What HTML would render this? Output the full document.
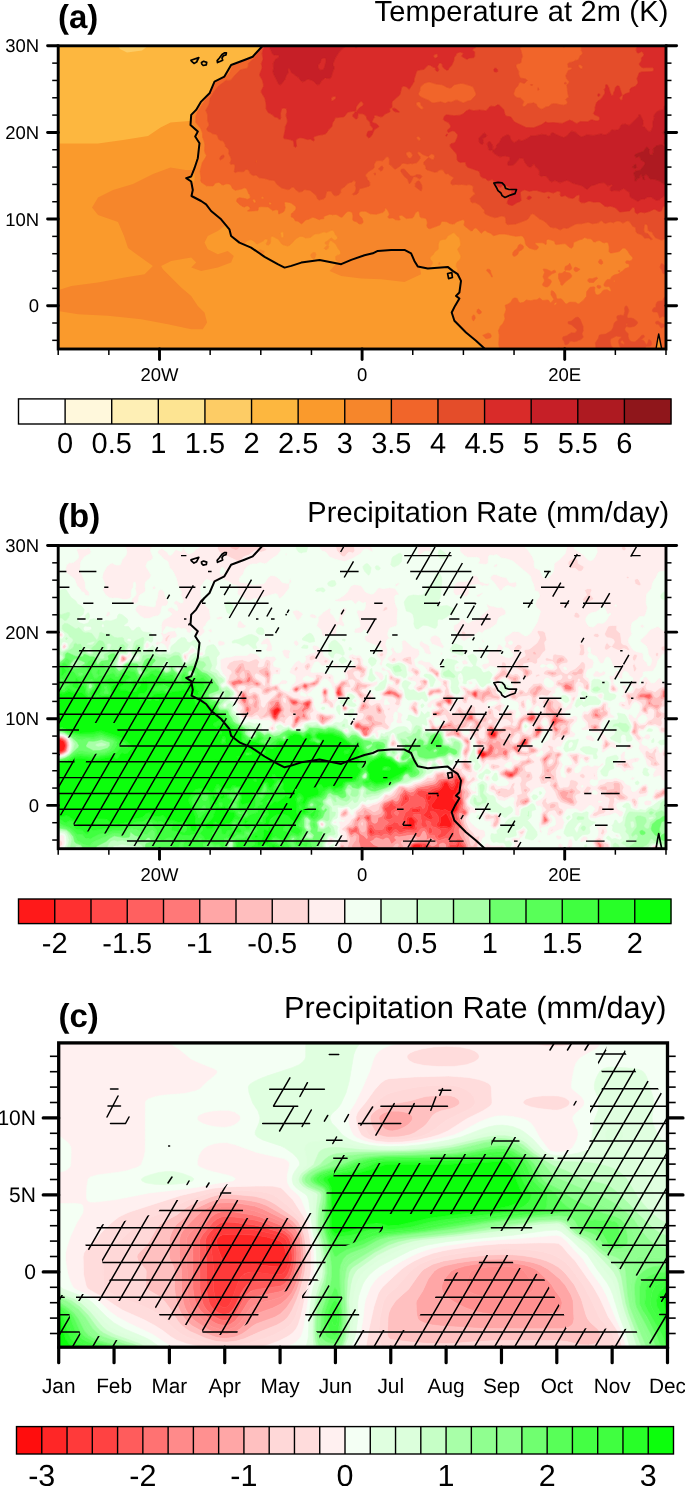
<!DOCTYPE html>
<html lang="en"><head><meta charset="utf-8"><title>Figure</title>
<style>html,body{margin:0;padding:0;background:#fff}svg{display:block;will-change:transform;text-rendering:geometricPrecision}</style></head>
<body><svg width="685" height="1486" viewBox="0 0 685 1486" font-family="'Liberation Sans', Arial, Helvetica, sans-serif" fill="#000">
<rect width="685" height="1486" fill="#fff"/>
<g id="pa">
<clipPath id="fa"><rect x="58.2" y="45.8" width="607.8" height="303.2"/></clipPath>
<g clip-path="url(#fa)">
<rect x="58.2" y="45.8" width="607.8" height="303.2" fill="#FA9A2C"/>
<path d="M58,45 275,45 230,100 195,121 189,121 170.5,122.5 160.5,127.5 148,136 123,140 98,143.5 58,143.5Z" fill="#FDB73F"/>
<path d="M118,45 149,45 142,50.5 127,52.5 120,49Z" fill="#FDCC65"/>
<path d="M200,170 185.5,170 170.5,167.5 153,174 133,184 113,190 98,197.5 92,207.5 98,215 118,222 124,236 128,248 141,257.6 152.9,265.9 144.6,274.2 124.6,277.6 98,282.6 71.3,285.9 56,290.9 56,310.8 78,314.2 108,315.8 141.2,319.2 167.9,324.2 191.2,329.2 202.8,329.2 207.1,322.5 204.5,312.5 197.8,305.9 191.2,295.9 181.2,287.5 171.2,277.6 162.9,269.2 161.2,265.9 171.2,260.9 191.2,257.6 196.2,262.6 191.2,267.6 201.1,270.9 217.8,267.6 231.1,262.6 233.8,255.9 227.8,250.9 217.8,254.3 207.8,249.3 204.5,242.6 207.8,235.9 217.8,231 224.5,226 245,225 245,175Z" fill="#F6862B"/>
<path d="M329.6,270.9 341.2,258 365,250 395,245 418,255 421.1,274.2 404.5,281.9 381.2,279.2 361.2,278.6 341.2,275.9Z" fill="#F6862B"/>
<clipPath id="la"><path d="M262.7,45.8 252.7,56.7 244.4,60 231.1,65 224.4,76.6 214.5,81.6 209.5,93.3 201.1,101.6 196.1,109.9 191.2,114.9 190.5,124.9 197.8,131.6 195.2,136.5 199.5,143.2 197.8,158.2 194.5,168.2 191.2,176.5 186.2,178.2 191.2,181.5 192.8,190 191.5,196 201.1,201 206.1,204.3 211.1,211 221.1,219.3 229.4,229.3 231.1,236 239.4,242.6 251.1,247.6 264.6,256.8 277.7,264.2 284.6,267.6 291.3,265.9 301.3,262.6 319.6,259.9 341.2,264.2 351.2,259.9 364.5,255.3 372.8,253.3 377.8,250.9 391.1,249.9 404.5,249.9 411.1,253.3 414.4,260.9 417.8,266.6 427.8,268.6 447.7,266.9 452.7,270.9 457.7,274.2 461,280.9 459.4,292.5 456,295.9 459.4,298.5 455,305.9 451.7,312.5 454.4,320.8 466,332.5 476,340.8 485,349 668,351 668,43.8 262.7,43.8Z"/></clipPath>
<g clip-path="url(#la)">
<path d="M62.7,140.2l3,0 3,2.1 4.5,.6 3,1.1 7.5-1.5 4.5,.7 7.5,0 4.5,1 6-.1 6-1.9 7.5-.6 4.5,.8 3-.4 4.5,2.5 3,.2 6-1.4 3-1.5 1.5-.2 4.5,.5 6,1.7 3-.2 6.6,2.7 1.6,1.5 -.9,1.5 -2.8,.5 -1.5-.1 -3-1.7 -1.5,.2 -1.5,5.6 .5,3 -.5,1.5 -3,1.2 -3-.3 -3,.8 -1.5-.2 -1.5-.7 -1.5-2.2 -2.1-1.6 -2.4-.3 -6,1.3 -4.5-.1 -1.5,2.1 -1.5,.5 -1.5-.5 -.8-1.5 .9-3 -1.6,.4 -1.4-1.9 -.1-1.8 -1.5-.7 -3,1 -4.5,0 -1.5,.5 -.9,1 .1,1.5 .9,1.5 -.3,1.5 -1.3,1 -1.5,.2 -3-2.5 -1.5-.2 -4.5,2.5 -3,2.7 -1.5-.4 -3-2.5 -1.5-.2 -3,2.1 -1.5-.5 -1.5-1.7 -2.2-5 -1.7-1.5 -2.1-.6 -2.2,.6 -1,3 -2.8,1.2 -1.5,4 -3-1.8 -4.5-.6 -1.5-1.8 -1.5-.4 0-10.6 .7-.5 .4-1.5zM82.2,255.7l3,.1 4.5,1 4.5,1.8 1.5-.1 3-1.3 3,1 3,.3 3-.7 3-1.8 1.5,0 4.5,.3 3,.7 3-.1 3,1.8 1.5,.3 1.5-.5 1.5-1.9 1.5-.7 4.5,.5 3,1.1 1.5,1.4 3.3,5.9 1,3 -1.6,7.5 -1.2,2.5 -3,2.4 -9.1-.4 -2.5,1.5 -.4,3.3 -4.5,1.5 -1.5,0 -1.5-.6 -1.5-2.6 -1.5,0 -4.5,2.2 -1.5,.3 -5.1-1.1 -3.8-3 -3.1-.6 -6,.2 -4.5,1.6 -4.5-.4 -3,1 -4.5-.5 -4.5,.5 -4.5-1.6 -4.5,0 -4.5,1.2 0-25.9 7.5,1.1 3,1.2z" fill="#FDB73F" stroke="#FDB73F" stroke-width="0.6"/>
<path d="M191.7,113.1l1.5-.4 .3,.6 -1.7,3 -.1,1 -1.3-2.5zM190.2,117.7l1.1,1.6 .4,4.5 7,7.5 -1.1,4.5 3,7.5 -1.9,10.5 .1,4.5 -4.1,13.7 .4,5.8 -.6,4.5 -2.8,1.9 -1.5,.2 -3-.4 -2.6-1.7 -1.9-1.5 -.8-1.5 -.1-1.5 .7-1.5 1.4-1.5 4.8-1.1 1.6-1.9 2.4-4.5 .7-4.5 3-4.5 1.2-6 .1-9 -5-4.5 -1-1.5 .3-1.5 3-3 -.2-1.5 -3.7-3 -1.8-3zM161.7,132.3l1.5-.2 1.5,.7 1.5,1.2 3,1.3 2.5,2 2,.8 3-.2 3-1 3,.2 1.5,1.5 .4,1.7 -.6,10.5 -.7,1.5 -3.1,3 -.3,3 -2.7,6 -3.5,1.8 -1.5-.2 -3-2 -1.5,.4 -.7,1.5 .4,1.5 2.8,6 .1,1.5 -1.1,1.6 -3,0 -6-2.1 -1.5,.1 -4.5-.9 -1.5,.4 -3,2.6 -1.5-.4 -3-2.3 -1.5-.6 -4.5-1 -3,.3 -3-1.7 -1.5-.1 -3.2,1.1 .2,3 -.7,1.5 -.8,.3 -3.3-.3 -1.7-1.5 -1.1-3 -1.4-.9 -1.5,.1 -1.5,1.5 -1.5,.5 -3,.2 -4.5,1.9 -7.3-1.8 -1.7-3.7 -1.5-.6 -3-.3 -6,1.3 -3.2,1.8 -.4,1.5 1.1,3 -2,1.4 -2.4-1.4 -.6-.9 -4.5,2.1 -3-.3 -1.5,.9 -3-.1 -2.6-3.2 -1.9-.8 -6,.4 0-20 1.5,.4 1.5,1.8 4.5,.6 3,1.8 1.5-4 2.8-1.2 1-3 2.2-.6 1.5,.3 1.5,.9 3,5.9 1.5,1.7 1.5,.5 3-2.1 1.5,.2 3,2.5 1.5,.4 3-2.7 4.5-2.5 1.5,.2 3,2.5 1.5-.2 1.3-1 .3-1.5 -.9-1.5 -.1-1.5 .9-1 1.5-.5 4.5,0 3-1 1.5,.7 .1,1.8 1.4,1.9 1.6-.4 -.9,3 .8,1.5 1.5,.5 1.5-.5 1.5-2.1 4.5,.1 7.5-1.3 1.5,.6 3,3.5 1.5,.7 1.5,.2 3-.8 3,.3 1.5-.4 1.5-.8 .5-1.5 -.5-3 1.5-5.6 1.5-.2 3,1.7 1.5,.1 2.8-.5 .9-1.5 -1.6-1.5 -5.1-2.2 -1.5-.5 -3,.2 -6-1.7 -4.5-.5 -1.5,.2 -3,1.5 -6,1.4 -3-.2 -4.5-2.5 -3,.4 -4.5-.8 -7.5,.6 -6,1.9 -6,.1 -4.5-1 -7.5,0 -4.5-.7 -7.5,1.5 -3-1.1 -3-.1 -1.5-.5 -2.9-2 -1.6-.3 -1.9,.3 -3,1.5 -.4,1.5 -.7,.5 0-6.8 6-.4 7.5,1.2 7.5,.4 6-.3 6,1.3 4.5-.8 10.5,.2 7.5-1 15-.1 6,.7 6-.5 9-2.7 7.5-.8zM59.7,182.2l.6,1.6 -2.1,1.4 0-3.9zM332.7,230.2l1.5,1.2 1.3,3.4 1.6,1.5 .7,1.5 -.8,1.5 -1.3,.9 -1.5,.1 -3-2.2 -1.9,1.2 .4,1.3 1.5,0 4.5,3.4 2.3,4.3 2.2,2.8 .5,1.7 -.5,1.9 -3,.7 -1.5,1.2 0,2.9 1.5,1.5 4.5,2.6 3-1.2 1.4,.9 .4,1.5 -1,1.5 -2.3,1.4 -.5,1.6 2,5.2 1,.8 -.6,1.5 -1.9,2 -1.9,4 .4,1.5 1.3,1.5 -.1,1.5 -1.2,2.3 -2.2,2.2 0,1.5 1.3,1.5 1.3,3 1.4,1.5 1.8,4.5 2.4,3 .3,1.5 -.8,3 .5,1.1 3.6,1.9 3.1,6 -.7,1.8 -1.5,.8 -3-1.4 -1.5-1.5 -3-4.8 -1.5-.1 -2.3,2.2 -.7,1.5 .1,1.5 2.1,4.5 .2,3 2.1,1.4 1.5,.4 3-.3 2.6-1.5 .4-.9 1.5-.5 3,2 1.8,2.4 -3,9 -1.8,2.1 -3,.4 -1.5-1.3 -1.5-4.3 -3.6-1.4 -2.4-4.5 -1.5-1.6 -.8,3.1 .7,3 -.2,1.5 -1.3,3 .2,1.5 2.7,3 -.2,1.5 -1.4,1.5 -.5,1.7 -67.9,0 1.7-4.7 0-1.5 -1-1.5 -4-1.5 -3-2.5 -6,3.1 -1.5-.2 -3-2.4 -1.5-.2 -3,.8 -4.5-1.8 -2.3,1.7 -1.7,3 -.2,3 .5,4.7 -12.8,0 -.8-1.7 -.7-.3 -1.6,.3 -2.2,1.7 -47.2,0 0-5.5 -1.5-1.4 -4.5-.1 -3,1.7 -7.5-.8 -3,1 -6-1.8 -3,3.1 -5-2.4 -2.5-2.3 -1.5,.2 -1.5,1 -3.1,4.1 .6,3.2 -24.7,0 -1.3-1.5 -1.5-.1 -1,1.6 -17.5,0 -2.1-4.7 -1.9-.4 -1.7,.4 -1.7,1.5 1.2,3.2 -13.3,0 .2-1.7 -1.2-3.3 -1.5,.2 -.8,1.6 .6,3.2 -8.8,0 0-25.4 3,.4 .6-.7 -.3-1.5 -1.2-1.5 -2.1-1.2 0-36.4 4.5-1.2 4.5,0 4.5,1.6 4.5-.5 4.5,.5 3-1 4.5,.4 4.5-1.6 1.5,0 4.5-.2 3.1,.6 3.8,3 5.1,1.1 1.5-.3 4.5-2.2 1.5,0 1.5,2.6 1.5,.6 2.8-.3 3.2-1.2 .4-3.3 2.5-1.5 3.1-.1 4.5,.7 2.3-.6 2.8-3 2.2-9 -1-3 -3.3-5.9 -1.5-1.4 -3-1.1 -4.5-.5 -1.5,.7 -1.5,1.9 -1.5,.5 -1.5-.3 -3-1.8 -3,.1 -3-.7 -4.5-.3 -1.5,0 -3,1.8 -3,.7 -3-.3 -3-1 -3,1.3 -1.5,.1 -3-1.4 -7.5-1.6 -15,3.5 -3-1.2 -7.5-1.1 0-8.5 4.5-1 7.5,.4 4.5,.9 4.5-.7 9-.4 6,1.2 7.5,3.4 1.5,.2 3-1 3-2.3 1.5-.5 4.5-.8 3,.2 3-1.1 3,1.4 4.5,.3 4.5,1.1 3-1.1 3,1.9 5.1,2.4 2.4,5 3.6,2.5 .5,1.5 .5,6 -.4,4.5 -1.3,3 1.6,1.5 3,.2 1.1,1.3 -.1,1.5 -4.1,3 -1.4,2.4 -.2,2.1 1.2,1.5 2,1.1 3,.8 7.5,.5 1.5-.4 2.4-2 3.6-.9 4.5-.2 4.5-.7 7.5,.3 1.1-1.5 1.9-.7 2.5,.7 2,1.6 1.5-.9 1.5-3.8 3-.4 3-1.2 1.1,.2 .3,3 2.3,3 .4,1.5 -1.3,4.5 -1.3,1.7 -2.2,1.3 -.6,6 1.3,1.9 3,1.9 1.5-.1 .7-.7 0-1.5 -2.4-4.5 1.7-2.4 1.6-3.6 2.9-1.9 2.1-2.6 .9-2.2 1.1-.8 1.9-.2 4.5,.6 1.1-.4 1-1.5 .1-1.5 -.7-.8 -2.6-.7 1.6-3 -.5-3.3 1.5-2.9 -1.5-.4 -3-2.6 -1.5,1.2 -3,4.1 -1.3-.6 -.5-4.5 3.8-3 -1.2-6 .5-1.5 3.2-4.7 1.5-.7 1.5,0 1.5,.4 1.5,1.3 1.5,2.2 .4,1.5 -.2,3 .4,1.5 2.4,3.2 1.5,.1 2-3.3 0-3 1-1.4 1.5-1 3,.1 1.5-.7 5.5-4.5 .4-1.5 -2.9-3.8 -.3-2.2 1.8-3.7 4.5-2 1.5,.3 3,1.8 1.5,2 1.5,0 5.6-2.9 1.9-1.8 1.5,0 .9,.3 .2,1.5 -1.5,3 .4,1.1 1.5,.1 1.8-1.2 .5-1.5 .2-4.5 .5-1.4 1.5-.1 5.7,3 3.3,4.6 1.5,.9 4.5,1.2 1.6-.7 2.9-2.4 3-3.6 4.5-2.9 3,.1 3,1.5 4.5-.5 4.5-3.4 4.5-.5 4.5-1.8 3,.7 4.5-2.2zM327.6,240.8l-2.4,1.5 0,1.5 1.5,.8 1.5-.1 1.4-3.7 -1.4-.4zM325.7,246.8l-1.6,1.5 1.1,1.1 1.5,0 1.5-1.1 .4-1.5 -.4-1.4zM258.2,251.3l-1.5,3 -.8,4.5 .3,.8 1.5,.9 1.5-2.5 .1-.7 4.6-4.5 .3-1.5 -3.5-1.4 -1.5,.1zM312.6,252.8l-1.6,1.5 -.2,1.5 .9,1.6 1.5,1.3 1.5-.4 1.2-4 -1.2-1.8zM321.8,260.3l-1.1,.3 -.8,1.2 .6,7.5 .2,.4 1.5,.2 .6-.6 1.8-4.5 0-1.5 -.9-2zM248.5,270.8l-.2,1.5 1.9,1.9 1.5,.5 1.5-1.3 0-2.6 -1.5-1.1 -1.5-.2zM280.6,275.3l-1.7,1.5 .7,1.5 .6,.4 1.9-.4 1.8-1.5 .7-1.5 -1.4-.9zM336.9,278.3l.3,.3 2.2-.3 -.7-1.1zM327.1,281.3l3.1,3 -.5,2.1 -1.5,.4 -1.5-.6 -.5-.4 -1-3.4 -1.5-.5 -1.5,.2 -.9,.7 -2.8,4.5 -.8,3 -.1,3 -.8,1.5 -.6,.7 -2.7,.8 -.2,1.5 .6,1.5 -1.1,3 1.9,.6 1.4-.6 1.3-1.5 3.3-2.3 1.9-.7 1.8-4.5 .8-.9 4.5-.5 1.9,1.4 1.1,3.1 1.5-.1 1.1-1.5 -.3-4.5 1.5-4.5 -2.4-3 -.1-1.5 -1.3-.7 -3-.2 -1.5,.1zM293.4,282.8l.6,4.5 .6,1.5 1.6,1.5 2,.4 3-.3 1.4-1.6 .1-1.6 -2.4-1.4 -1.4-3 -.7-.4 -3-.4zM310.8,291.8l.2,1.5 .7,.6 .5-.6 -.2-1.5zM70.2,293.3l-3.4,3 -.8,1.5 1.2,3 -.2,1.5 -1.3,2.8 -1.5,1.2 -1.5-.5 -1.5,1 1.5,.9 3-.9 4.5,.5 4.5,2.8 3-.8 1.2,.5 -.2,1.5 -1,.8 -1.5,0 -1.6,2.2 -2.9,2.4 -1,2.1 -.4,1.5 .4,1.5 1,1.5 1.5,.5 1.5-.9 .7-1.1 -.3-4.5 1.1-1.2 3-.1 1.5-.8 5.8-3.9 .4-1.5 -3.8-3 -.2-4.5 1.2-3 -.4-2.4 -1.5-1.8 -6,1.9 -1.5,0 -.8-.7 -1.2-3 -1-.6zM101.4,297.8l1.8,.4 .4-.4 -.4-.5zM110.6,300.8l-.5,1.5 .6,1.2 1.6-1.2 -.8-1.5zM150.6,305.3l-3.4,4.5 -1.1,3 2.1,1.7 6,.5 3.7-2.2 0-1.5 -1.2-3 .2-3 -1.2-1.2 -1.5-.1 -3,.6zM235.1,305.3l-2.9,.8 -.6,.7 -.9,4.4 -1.3,1.6 1.2,3 -1.5,3 .5,1.5 -4,3 -.3,1.5 .8,1.5 1.6,.9 1.5-.4 1.4-2 .4-3 .1-1.5 3.2-6 .9-.9 1.5,.3 1.5,1.6 1.5,.3 4.3-1.3 -.6-4.5 -.7-.9 -1.5-.3 -4.5,.8 -1.1-1.1 1.8-1.5 .2-1.5 -.9-.5zM197.3,312.8l-.1,1.5 .5,.7 1.5,.2 .3-.9 -1.1-1.5zM212.1,312.8l-.7,1.5 0,4.5 1.3,1 2.5-1 1.6-1.5 -1.1-3.8 -1.5-1.7 -1.5,.4zM247.8,312.8l-1.3,1.5 1.1,3 2.6,2.3 3,.4 1.5,.7 .9-.4 0-1.5 -.9-3 -1.1-1.5 -3.4-2zM191,317.3l-2.1,1.5 .3,4.5 2.5,.4 3-1.7 2-1.7 -.6-1.5 -2.9-1.7zM171.9,318.8l.9,1.5 3.9,1.4 6-.7 1.4-.7 -.8-1.5 -3.6-1.5 -6,.5zM106.5,321.8l-3.3,1.8 -3,2.4 -6,2.4 -1.5,1.5 -.3,.9 .5,1.5 2.2,3 .6,1.8 1.5,.8 1.5-1 2.4-4.6 2.1-2 4.7-1 3.6-1.5 .7-.8 0-1.2 -3-3.7 -1.5-1zM157.8,321.8l-3.6,3.5 -1.5,.7 -3,.2 -3.5,1.6 -1,3 -2.9,3 -.6,1.5 -.1,1.5 .6,1.1 1.6,.4 4.4,.7 1.5-.6 1.5-2.4 1.5-.6 1.5,.1 4,1.3 -.3,3 .8,2.8 1.5,.2 1-1.5 .2-1.5 -.9-3 1-4.5 -.7-1.5 -1.5-1.5 .3-1.5 1.4-1.5 .6-1.5 .8-3 -.7-.9 -1.5-.5zM184.2,321.8l0,3.2 1.5,.5 .5-.7 .2-1.5 -2.1-1.5 -.1-.5zM254.9,323.3l-2.3,3 1.5,1.5 3.6,1.4 6-.5 4.5-1.6 2.4,2.2 0,1.5 -.8,1.5 1.7,1.5 5.7,.8 1.6,2.2 .1,1.5 -1.4,3 .6,1.5 2.1,1.6 1.5,.2 1.7-1.8 -.4-1.5 -2.2-3 -.2-1.5 2.8-4.5 -.2-1.5 -3,1 -1.1-1 1.1-1.4 1.5,.2 1.5,1.2 1.5-.1 1.2-1.4 .2-1.5 -.6-1.5 -.8-.6 -3-.9 -3-1.9 -3-.9 -1.5,.1 -4.5,2 -1.5-.2 -1.5-1.1 -1.5-.3 -6,.5 -3-.9zM317.1,329.3l-2.5,3 .2,1.5 1.4,1.2 1.5,.5 3-.6 4.5,1.5 1.5-.7 2.6-3.4 -.1-1.5 -1-1.3 -3,.9 -1.5-.2 -3-2.2zM125.7,333.8l-.4,1.5 1.9,1.2 1.5,.1 1.5-1.3 -.3-1.5 -1.2-1.2 -1.5-.1zM292.8,339.8l-.2,1.5 1.1,2 1.5,.9 1.6-1.4 -.1-3.3 -1.5-1.1 -1.5,.3zM281.7,231.6l1.7,.2 .3,4.5 -.6,1.5 -1.8,0 -.4-1.5 -.5-3zM452.7,232.7l1.5-.1 3,3.4 2.4,1.8 1.1,6 -.5,2.5 -2.1,2 -.4,1.5 3.1,6 .1,1.5 -.7,2.1 -2.7,2.4 -.9,1.5 -.3,3 1.5,3 0,1.5 -.6,.8 -1.5,.6 -3-1.6 -6,1.4 -1.5,1.3 -1.1,2 -1.9,1.8 -3,1.6 -1.5-.6 -1.1-1.3 -.7-3 -2,0 -5.2,1.5 -1.2-3 -.5-3 1.1-1.5 2.5-1.5 1.9-3 -.4-1.5 -2.1-3 .2-1.5 3.1-3 1.9-3 2.5-1.5 .7-1.5 0-4.5 1-3 2.8-1.2 3-.3 1.5-1.3 .5-1.7 3-1.5zM438.6,263.3l.6,1.5 1.1-1.5 -1.1-.9zM352.2,267.7l1.5,1.4 0,1.7 -.8,3 -1.8,3 -.3,1.5 .4,1.5 1,2 2.2,1 .3,1.5 -.8,1.5 .6,1.5 .7,.5 1.5-.2 1,1.2 .2,1.5 1.8,3 -.3,1.5 -1.2,1.1 -1.5-.2 -1.5-1 -1.5-.2 -1.5,.9 -1.5-.9 -1.5-7.1 -3.2-1.6 -.7-1.5 .4-3 2.1-3 -.9-1.5 .1-1.5 1.9-1.5 .6-3 .7-1.5zM430.2,278.3l2.7,1.5 2.6,3 -.8,1.5 -1.5,.9 -1.5,.6 -1.5-.9 -.9-5.1zM358.2,280.9l1.7,.4 -1.4,1.5 -1.4,0 .4-1.5zM323.7,288.1l.6,.7 0,3 -.6,.5 -.6-.5 -.9-1.2 0-1.3 .1-.5zM152.7,327.2l3.5,2.1 -.7,1.5 -1.3,.4 -1.5-.4 -1.2-1.5zM359.7,338.1l1.5-.1 1.5,1.5 -.7,3.3 -.8,1.2 -.6-1.2 -1.2-3zM254.7,343.8l1.5,1.3 3,0 .4,.7 -.1,3.2 -3.3,0 -5.3,0 .6-1.7zM164.7,346.3l.7,1 .1,1.7 -2.3,0 -.6,0 .6-1.6zM470.7,346.9l3-.8 1.5,.2 .5,1 .1,1.7 -2.1,0 -4.5,0zM461.7,348l1.5,1 -2.4,0z" fill="#FA9A2C" stroke="#FA9A2C" stroke-width="0.6"/>
<path d="M95.7,45.8l14.8,0 1.7,1.3 1.5,0 2.7,3.2 -.1,1.5 -1.1,1 -3-.7 -4.5,.2 -1.5-.5 -3-.6 -1.8,.6 -2.2,1.5 1.4,3 -.5,1.5 -4.4,.8 -1.5-.6 -1-1.7 -.3-1.5 2.4-3 .1-1.5 -1.1-4.5zM244.2,59.2l1.5-.4 1.5,.5 -7.5,3.8 -4.5,1.5 -3,1.9 -2.6,6.3 -4.3,4.5 -5.8,3 -4.2,3 -2.9,4.5 -2.6,6 -3.7,4.5 -8.7,13.5 -1.7,4.5 -.1,1.5 .1,4.5 5,6.3 1.7,4.2 .2,4.5 1.7,4.5 .5,3 -.3,6 .7,2.5 1.2,2 -.4,1.5 -3.8,6 -1.9,7.5 -.2,1.5 .9,6 -.3,3 .7,1.5 5.3,3.5 6,.1 1-.6 .8-1.5 1.2-.9 3-.6 1.5,.6 1.5,1.7 1.5,.4 3-1.2 3,.1 1.9,1.4 1.3,3 2.8,2 6-1.2 3-1.3 1.5,.2 1.5,1.8 1.5,3.9 1,.6 .7,3 -.2,1 -3,1.2 -1.3-.7 -6.2-1.1 -2.4,1.1 -.6,2.5 3.3,3.5 2.7,1.7 1.5,.5 3-1.3 1.5,.7 1.3,1.4 .2,1.5 -2.7,1.5 1.2,.4 9-.6 .6-1.3 0-1.5 .9-.9 1.5-.3 7.5,.3 4.5,3.7 3-.9 1.5,0 1.3,1.1 .1,3 .5,0 4.1-1.7 1.1-1.3 .9-3 -.8-4.5 .3-1.6 6,1 4.8,3.6 .6,1.5 -.3,1.5 -2.1,2.6 -2.4,1.9 -.2,3 2.6,1.1 1.5,2.9 3,.5 3,2.4 1.5-.8 3-2.9 3-.8 3-1.6 1.5-.3 1.5,.4 4.5,2 1.5-.7 3-.3 0-2.3 6-2.2 3,.5 3-.3 1.5,.4 3,2 1.5,.4 .8-.4 3.7-4.4 1.5-.9 1.5-.2 2.9,1 .8,3 -.1,4.5 .9,1.2 3,.8 1.5,1.5 1.5,.6 1.5-.1 1.7-1 .1-1.5 -.9-3 -2.9-3 -.3-1.5 .5-1.5 1.8-1.1 4.5,.1 4.5,2.5 6,.5 6.7-2 1.7-1.5 .6-3 1.5,1.1 1.5,2.2 1.1,2.7 -.2,1.5 -1.2,1.5 .3,.9 1.5,.6 3-.4 3.2,1.9 2.8,.3 1.6-.3 -1.5-3 .9-1.5 2.4,0 4.1,3.1 6-.5 1.5-1.2 1.5-3.6 3-2.3 1,1.5 .8,4.5 1.2,.8 4.2,.7 1.3,1.5 .7,3 -.6,3 .6,1.5 1.3,1.2 1.5,.1 9-3.3 1.2-1 .4-1.5 1.4-1.5 4.5,.4 3,1.8 3,.6 1.5-.3 3-2.2 6-2.1 1.5,1.8 -.6,3 .3,1.5 6.3,5 1.5,.1 1.5-2.2 1.5-.9 1.5,.5 4.5,5 3-2.6 1.5-.1 1.2,1.2 3.7,1.5 2.6,2.1 1.5,0 4.5-1.3 6,0 10.5,2.2 6-.6 1.5,1.1 1.5,2.5 .8,4.5 .8,1.5 2.9,2.8 5.8,1.7 1.7-.4 1.3-1.1 .4-1.5 -3.4-3 .2-1.1 7.5,.1 2.2,1 .8,1 .6-1 0-3 .9-1.4 1.5-.1 5,1.5 1.2,1.5 .1,1.5 1.2,.7 9-.9 4.5,3.9 1.5,.7 1.8-1.4 .6-4.5 6.6-2.7 1.8-.3 2.7-1.8 3,1.1 3,.1 1,.6 2,2.6 1.5,0 2-1.1 2.5-.3 3,1.9 1.5,.3 3-.6 1.2,1.7 .8,3 -.2,4.5 1.2,1.6 1.5,.1 7.5-1.5 3.4-3.2 1.1-.4 1.5,.3 2.8,3.1 1.7,3 2.9,3 .1,1.5 -1,1.5 -2,.7 -3-.3 -1.2,1.1 .5,1.5 2.2,.4 1,1.1 .1,1.5 -1.1,1.3 -3,1 -3,2.7 -3,1.7 -.2,.8 -4.3,1 -1.5,.8 -1.6,1.2 -1.4,2.6 -3,.1 -1.7,1.8 -1.6,3 .1,1.5 1.7,1 3-.3 1.1,.8 1.3,3 -.9,1.3 -3-1.9 -3,.2 -1.5,.8 -1.7,2.6 -2.8,1.6 -1.5,0 -1.5-1.6 -.6-3 .4-3 -1.3-.5 -3.7,.5 -3.4,4.5 -.1,4.5 -3.3,4.1 -4.5,3.5 -1.5-.4 -1.5-1.2 -1.5-.1 -4.5-.1 -3,1.8 -1.5-.5 -3-3.8 -1.5-.9 -3,.3 -1.3-1.2 -.4-3 -2-3 -2.3-1.3 -.7,1.3 0,3 2.8,4.5 -2.1,2.8 -1.5,.9 -1.5-2.7 -1.5-.4 -4.5,.6 -3-2.6 -3,1.9 -3,.1 -3,.8 -4.5-.8 -2.5,2.4 -2,.6 -1.5,.1 -1.1-.7 -1.9-3.9 -3-.4 -1.5,.7 -1.9,3.6 -2.6,1.7 -3.1,1.3 1,4.5 -1.6,4.5 -.1,1.5 .7,3 -2,4.5 -2.8,3 -1.9,4.5 .9,4.5 -.6,9 1,4.7 -10.7,0 -.3-.5 -.6,.5 -12.3,0 -.1-1.7 -.5-1 -1.5-.2 -3,.8 -1.5,2.1 -5.9,0 -1.6-1 -.9,1 -121.4,0 .5-1.7 1.4-1.5 .2-1.5 -2.7-3 -.2-1.5 1.3-3 .2-1.5 -.7-3 .8-3.1 1.5,1.6 2.4,4.5 3.6,1.4 1.5,4.3 1.5,1.3 3-.4 1.8-2.1 3-9 -1.8-2.4 -3-2 -1.5,.5 -.4,.9 -2.6,1.5 -3,.3 -1.5-.4 -2.1-1.4 -.2-3 -2.1-4.5 -.1-1.5 .7-1.5 2.3-2.2 1.5,.1 3,4.8 1.5,1.5 3,1.4 1.5-.8 .7-1.8 -3.1-6 -3.6-1.9 -.5-1.1 .8-3 -.3-1.5 -2.4-3 -1.8-4.5 -1.4-1.5 -1.3-3 -1.3-1.5 0-1.5 2.2-2.2 1.2-2.3 .1-1.5 -1.3-1.5 -.4-1.5 1.9-4 1.9-2 .6-1.5 -1-.8 -2-5.2 .5-1.6 2.3-1.4 1-1.5 -.4-1.5 -1.4-.9 -3,1.2 -4.5-2.6 -1.5-1.5 0-2.9 1.5-1.2 3-.7 .5-1.9 -.5-1.7 -2.2-2.8 -2.3-4.3 -4.5-3.4 -1.5,0 -.4-1.3 1.9-1.2 1.8,1.2 1.2,1 1.5-.1 1.3-.9 .8-1.5 -.7-1.5 -1.6-1.5 -1.3-3.4 -1.5-1.2 -1.5,.1 -4.5,2.2 -3-.7 -4.5,1.8 -4.5,.5 -4.5,3.4 -4.5,.5 -3-1.5 -3-.1 -4.5,2.9 -3,3.6 -2.9,2.4 -1.6,.7 -4.5-1.2 -1.5-.9 -3.3-4.6 -5.7-3 -1.5,.1 -.5,1.4 -.2,4.5 -.5,1.5 -1.8,1.2 -1.5-.1 -.4-1.1 1.5-3 -.2-1.5 -.9-.3 -1.5,0 -1.9,1.8 -5.6,2.9 -1.5,0 -1.5-2 -3-1.8 -1.5-.3 -4.5,2 -1.8,3.7 .3,2.2 2.9,3.8 -.4,1.5 -5.5,4.5 -1.5,.7 -3-.1 -1.5,1 -1,1.4 0,3 -2,3.3 -1.5-.1 -2.4-3.2 -.4-1.5 .2-3 -.4-1.5 -1.5-2.2 -1.5-1.3 -1.5-.4 -1.5,0 -1.5,.7 -3.2,4.7 -.5,1.5 1.2,6 -3.8,3 .5,4.5 1.3,.6 3-4.1 1.5-1.2 3,2.6 1.5,.4 -1.5,2.9 .5,3.3 -1.6,3 2.6,.7 .7,.8 -.1,1.5 -1,1.5 -1.1,.4 -4.5-.6 -1.9,.2 -1.1,.8 -.9,2.2 -2.1,2.6 -2.9,1.9 -1.6,3.6 -1.7,2.4 2.4,4.5 0,1.5 -.7,.7 -1.5,.1 -3.6-2.3 -.7-1.5 .6-6 2.2-1.3 1.3-1.7 1.3-4.5 -.4-1.5 -2.3-3 -.3-3 -1.1-.2 -3,1.2 -3,.4 -1.5,3.8 -1.5,.9 -2-1.6 -2.5-.7 -1.9,.7 -1.1,1.5 -7.5-.3 -4.5,.7 -4.5,.2 -3.6,.9 -2.4,2 -1.5,.4 -7.5-.5 -3-.8 -2-1.1 -1.2-1.5 .2-2.1 1.4-2.4 4.1-3 .1-1.5 -1.1-1.3 -3-.2 -1.6-1.5 1.3-3 .4-4.5 -.5-6 -.5-1.5 -3.6-2.5 -2.4-5 -5.1-2.4 -3-1.9 -3,1.1 -4.5-1.1 -4.5-.3 -3-1.4 -3,1.1 -3-.2 -4.5,.8 -1.5,.5 -3,2.3 -3,1 -1.5-.2 -7.5-3.4 -6-1.2 -9,.4 -4.5,.7 -4.5-.9 -7.5-.4 -4.5,1 0-6.9 3,.1 6-1 3,.2 4.5-2 1.5-.2 3,.3 4.5-.3 3,.6 3,0 3-.7 1.5,.2 4.2,2.2 .3,.8 4.5-2.1 3,.5 3-.3 7.5,1 12-2.3 3-.1 9,2 6-.3 4.5,1.5 1.5-.1 3-2 1.5-.1 3,.9 4.5-2.3 3-2.2 1.5,.2 .5,1.9 -1.4,7.5 .3,1.5 3.6,4.3 1.5,.6 .7-.4 1.1-1.5 1.4-4.5 -1.8-3 -.6-4.5 .4-1.5 2.4-3 .9-5 7.1-4 1-1.5 .9-2.8 1.5-.9 3,1.7 1.3-1 .6-1.5 1.1-.6 1.5,.2 1.5,.9 1.5-.5 -1.5-6 -1.5-.5 -4.5-7.2 -1.5-.3 -3,.5 -2.7,1.5 -3.1,3 -1.7,.8 -3,.8 -3-.2 -1.7-1.4 -2.4-4.5 -1.6-4.5 -3.3-4.2 -1.4-3.3 -1.6-.4 -1.2,.4 -1.8,2.4 -1.1,.6 -6.4,.7 -.8-.7 .3-3 -1-1.2 -3-1 -3,.1 -4.5-1.5 -3,.3 -6,3.2 -4.5-.7 -3,1 -1.5-.4 -3-1.8 -2.5,.5 -2,1.7 -3-1.6 -3,.9 -4.5,.5 -3,1.2 -4.2,3.3 -1.8,.6 -1.1-.6 -.9-4.5 -1.9-3 -.6-2.3 -1.5,.2 -4.5,3.3 -1.4,1.8 -1.6,.6 -6,.9 -6,1.8 -4.5-1.3 -3,1.4 -3,.2 0-11.2 2.1-1.4 -.5-1.5 -1.6-1 0-6.9 6-.4 1.9,.8 2.3,3 1.8,.5 2.3-.5 .7-.6 3,.3 1.5-.4 1.5-1.3 1.5-.4 .6,.9 2.4,1.4 2-1.4 -1.1-3 .4-1.5 3.2-1.8 6-1.3 3,.3 1.5,.6 1.7,3.7 7.3,1.8 4.5-1.9 3-.2 1.5-.5 1.5-1.5 1.5-.1 1.4,.9 1.1,3 1.7,1.5 3.3,.3 .8-.3 .7-1.5 -.2-3 3.2-1.1 1.5,.1 3,1.7 3-.3 4.5,1 1.5,.6 3,2.3 1.5,.4 3-2.6 1.5-.4 4.5,.9 1.5-.1 6,2.1 3,0 1.1-1.6 -.1-1.5 -3.2-7.5 .7-1.5 1.5-.4 3,2 1.5,.2 3-1.4 1.3-1.9 .2-1.5 1.7-3 .3-3 3.1-3 .7-1.5 .6-10.5 -.4-1.7 -1.2-1.3 -3.3-.4 -3,1 -3,.2 -1.5-.5 -3-2.3 -3-1.3 -3-1.9 -6,2.1 -7.5,.8 -9,2.7 -6,.5 -6-.7 -15,.1 -7.5,1 -10.5-.2 -4.5,.8 -6-1.3 -6,.3 -7.5-.4 -7.5-1.2 -6,.4 0-2.9 16.5,.6 9-.1 6,1 24-1.1 9,.6 9-.9 6,.7 4.5-.9 4.5-2.1 9-2.9 2.8-2.2 2-3 1.2-11.6 1.2-3.4 -.1-3 -.7-3 .2-6 .9-1.3 2-1.7 -1-3 0-1.5 2-4.1 3.3-.4 3.7-3 2-.8 6-.4 1.5,1.1 1.5,2.4 5.1,2.2 .7,1.5 0,1.5 1.3,3 -.2,1.5 -2.5,3 -.1,1.5 .8,1.5 -.1,1.5 -.8,1.5 .3,1.5 4.5,2.2 1.5-1.3 .7-2.4 1.1-1.5 4.2-3.5 4.7-2.5 3.3-3 2.5-6.6 .3-5.4 1.2-1 6-1.7 3-2 1.4-1.3 1.9-4.5 4-6 6-1.5 6.2-2.5zM191.4,113.3l-1,1.5 1.3,2.5 .7-2.5 1.1-1.5 -.3-.6zM190.2,117.8l-.9,7.5 1.8,3 3.7,3 .2,1.5 -3,3 -.3,1.5 1,1.5 5,4.5 -.1,9 -1.2,6 -3,4.5 -.7,4.5 -2.4,4.5 -1.6,1.9 -4.8,1.1 -1.4,1.5 -.7,1.5 .1,1.5 .8,1.5 3,2.4 1.5,.8 3,.4 1.5-.2 2.8-1.9 .6-4.5 -.4-5.8 4.1-13.7 -.1-4.5 1.9-10.5 -3-7.5 1.1-4.5 -7-7.5 -.4-4.5zM281.4,231.8l-1,1.5 .9,4.5 1.9,0 .5-1.5 -.3-4.5zM452.2,233.3l-5,3 -.5,1.7 -1.5,1.3 -3,.3 -2.8,1.2 -1,3 0,4.5 -.7,1.5 -2.5,1.5 -1.9,3 -3.1,3 -.2,1.5 2.1,3 .4,1.5 -1.9,3 -2.5,1.5 -1.1,1.5 .5,3 1.2,3 5.2-1.5 2,0 .7,3 1.1,1.3 1.5,.6 3-1.6 1.9-1.8 1.1-2 1.5-1.3 6-1.4 3,1.6 1.5-.6 .6-.8 0-1.5 -1.5-3 .3-3 .9-1.5 2.7-2.4 .7-2.1 -.1-1.5 -3.1-6 .4-1.5 2.1-2 .5-2.5 -1.1-6 -2.4-1.8 -3-3.4 -1.5,.1zM518.5,245.3l-1.3,3.2 -3,2.2 -1.3,2.1 -.3,1.5 .5,1.5 1.1,.6 1.5-.4 1.5-1.2 1.7-3.5 2.9-1.5 1.4-1.5 .4-1.5 -1.9-2.1 -1.5-.5zM176.5,257.3l-.2,1.5 1,4.5 -.1,1.5 -.5,1.3 -1.5,1.3 -1.5-.4 -5-3.7 -2.5-3.1 -1.5-.2 -3,.9 -1.3,.9 -1,1.5 -.3,3 .6,1.5 4.4,4.5 2.1,1.1 4.5,.5 2-.1 1-.8 1.5-2.5 1.5-.5 6.4,3.8 1.1,1.5 1.5,.9 1.5-.6 1.5-1.8 .6-3 -.8-4.5 -1.3-2.8 -3-2.5 -2.2-3.7 -3.8-.6zM599,260.3l-.6,1.5 1.3,2 1.5,.7 1.6-1.2 -.1-1.5 -1.5-2.3 -1.5,0zM569.6,263.3l-.9,1.5 -3.4,1.5 -.6,1.5 .5,2.6 3-.1 1.5,0 1.6-1 .5-1.5zM352.1,267.8l-1.9,1.5 -.7,1.5 -.6,3 -1.9,1.5 -.1,1.5 .9,1.5 -2.1,3 -.4,3 .7,1.5 3.2,1.6 1.5,7.1 1.5,.9 1.5-.9 1.7,.3 1.3,.9 1.5,.2 1.2-1.1 .3-1.5 -1.8-3 -.2-1.5 -1-1.2 -1.5,.2 -.7-.5 -.6-1.5 .8-1.5 -.3-1.5 -2.2-1 -1-2 -.4-1.5 .3-1.5 1.8-3 .8-3 0-1.7zM574.3,267.8l-.5,1.5 .5,1.5 1.4,.9 2.7-.9 1.7-1.5 -4.4-2.2zM487.1,269.3l-.5,1.5 2.1,1.8 2.2,2.7 .8,1.7 .8-.2 -2.3-6.7 -1.5-1zM543,269.3l1.6,3 -1.7,4.5 1.4,3 -.1,1.8 -1.8,2.7 .6,1.5 2.7,1.1 1.5,0 1.9-1.1 1.9-3 .4-1.5 -1.2-1.8 -2.7-1.2 .9-1.5 3.3-2.7 4.1-1.8 -.4-1.5 -.7-.5 -1.5,.3 -1.5,1.1 -6-2.7zM618.3,270.8l.9,1.2 .5-1.2 -.5-.6zM563.3,272.3l-1.1,1 -3-.1 -.7,.6 0,4.5 2.1,4.5 .1,1.6 1.5,1.1 3-3.2 5.2-4 1.1-1.5 .2-1.5 -2-2.4 -3.6-.6 -.9-1zM430.1,278.3l-.8,1.5 .9,5.1 1.5,.9 3-1.5 .8-1.5 -2.6-3zM593.8,278.3l-4.6,.3 -1.5,1.2 .3,1.5 1.2,1.2 3-.2 1.5,.2 1.5-2.1 2.6-2.1 -1.1-1zM357.5,281.3l-.4,1.5 1.1,.2 1.5-1.4 0-.5 -1.5-.2zM597,285.8l-.1,1.5 1.3,.9 1.5,.2 1.3-1.1 -.5-1.5 -.8-.5 -1.5-.1zM477.3,309.8l-.4,1.5 .4,1.5 .9,.9 1.5,.2 1.6-1.1 -.1-1.5 -1.5-1.5 -1.5-.7zM472.5,315.8l-.3,3.5 1.5,1.5 .5-.5 1-2.9 -.5-1.6 -1-1zM431.2,324.8l.3,1.5 .7,0 0-1.5 -.5-.3zM406.3,333.8l-.6,1.5 .5,.4 1.5,.1 .8-.5 -.2-1.5 -.6-.5zM485.8,333.8l-3,1.5 2.9,3.1 3,.1 1.5-.6 .9-1.1 .1-1.5 -1-1.5 -1.5-.5zM359.4,338.3l0,1.5 1.8,4.2 1.3-2.7 .3-1.5 -1-1.5 -.6-.3zM262.2,196.8l1.7,.5 -.2,1.6 -2.1-.1 -.5-1.5zM253.2,199l1.5,.3 1.2,2.5 -1.2,1.6 -1.4-1.6 -.7-1.5zM269.7,202l2,1.3 -1.7,1.5 -.5,0 -.7-1.5zM328.2,240.4l1.4,.4 -1.4,3.7 -1.5,.1 -1.5-.8 0-1.5zM326.7,246l1.5-.6 .4,1.4 -.4,1.5 -1.5,1.1 -1.5,0 -1.1-1.1zM259.2,250l1.5-.1 3.5,1.4 -.3,1.5 -4.6,4.5 -.2,1.5 -1.4,1.7 -1.5-.9 -.3-.8 .8-4.5 1-2.4zM313.2,252.6l2.1,.2 .6,1.5 -1.2,4 -1.5,.4 -1.5-1.3 -.9-1.6 .2-1.5zM322.2,260.2l1.8,1.6 .6,3 -.9,2.7 -1.5,2.4 -1.5-.2 -.2-.4 0-3 -.7-3 .1-1.5 .8-1.2zM439.2,262.4l1.1,.9 -1.1,1.5 -.6-1.5zM248.7,270.5l1.5-1 1.5,.2 1.5,1 .3,1.6 -.5,1.5 -1.3,.9 -2.2-.9 -1.2-1.5zM281.7,274.8l1.5-.4 1.4,.9 -.7,1.5 -2.2,1.8 -1.5,.1 -1.3-1.9zM337.2,278l1.5-.8 .7,1.1 -.7,.3 -1.5,0zM328.2,280.5l4.5,.1 1.3,.7 .1,1.5 2.4,3 -1.5,4.5 .3,4.5 -1.1,1.5 -1.5,.1 -1.1-3.1 -1.9-1.4 -4.5,.5 -.8,.9 -1.8,4.5 -3.3,1.5 -3.1,2.9 -1.5,.7 -1.9-.6 1.1-3 -.6-1.5 .2-1.5 2.7-.8 .6-.7 .8-1.5 .1-3 1.5-4.4 2.1-3.1 2.4-.9 1.9,.9 .6,3 .5,.4 1.5,.6 1.5-.4 .5-2.1 -3.1-3zM322.3,288.8l-.1,1.8 1.5,1.7 .6-.5 0-3 -.6-.7zM614.7,280.1l.3,1.2 -.3,.6 -1.5-.6zM293.7,282.4l3-.4 2.2,.8 1.4,3 2.4,1.5 -.1,1.5 -1.2,1.5 -3.2,.4 -1.5-.2 -1.5-.9 -1.2-2.3 -.6-3zM311.7,291.5l.5,1.8 -.5,.6 -.7-.6 -.2-1.5zM70.2,293.3l1.5-.6 1,.6 1.2,3 .8,.7 1.5,0 6-1.9 1.5,1.8 .4,2.4 -1.2,3 .2,4.5 3.8,3 -.4,1.5 -5.8,3.9 -1.5,.8 -3,.1 -1.1,1.2 .3,4.5 -.7,1.1 -1.5,.9 -1.4-.5 -1.1-1.5 -.4-1.5 1.1-3 3.2-3 1.6-2.2 1.5,0 1-.8 .2-1.5 -1.2-.5 -3,.8 -4.5-2.8 -4.5-.5 -3,.9 -1.5-.9 1.5-1 1.5,.5 1.5-1.2 1.3-2.8 .2-1.5 -1.2-3 .8-1.5zM101.7,297.6l1.5-.3 .4,.5 -.4,.4 -1.5-.1zM110.7,300.5l.8,.3 .7,.9 0,1 -1.5,.8 -.6-1.2zM556.2,302l.5,1.8 -2,1.6 -.4-.1 -.3-1.5zM151.2,304.6l1.5-.5 3,0 1.2,1.2 -.2,3 1.2,3 0,1.5 -3.7,2.2 -1.5,.1 -5.2-.8 -1.4-1.5 1.1-3zM235.2,305.3l1.5-.5 .9,.5 -.2,1.5 -1.8,1.5 1.1,1.1 4.5-.8 1.5,.3 .7,.9 .6,4.5 -4.3,1.3 -1.5-.3 -1.5-1.6 -1.5-.3 -.9,.9 -3.2,6 -.1,3 -.4,1.5 -1.4,2 -1.5,.4 -1.6-.9 -.8-1.5 .3-1.5 4-3 -.5-1.5 1.5-3 -1.2-3 1.3-1.6 .9-4.4 .6-.7zM197.7,312.5l1.5,1.1 0,1.6 -1.5-.2 -.5-.7zM212.7,312.2l1.5-.4 1.1,1 1.2,3 .3,1.5 -2.6,2.1 -1.5,.4 -1.3-1 0-4.5zM248.7,312.4l1.5-.1 1.5,.6 1.9,1.4 1.1,1.5 .9,3 0,1.5 -.9,.4 -.7-.4 -3.8-.7 -2.6-2.3 -1.1-3zM191.7,317.1l1.5,0 1.5,.6 1.4,1.1 .6,1.5 -3.5,2.8 -1.5,.6 -2.5-.4 -.3-4.5 1.3-1.2zM172.2,318.6l1.5-.8 6-.5 3.6,1.5 .8,1.5 -1.4,.7 -6,.7 -3.9-1.4 -.9-1.5zM59.7,319.8l1.8,2 .3,1.5 -.6,.7 -1.5,.1 -1.5-.5 0-4.5zM107.7,321.1l1.5,1 2.3,2.7 1,1.5 -.3,.7 -.7,.8 -3.6,1.5 -4.7,1 -2.1,2 -2.4,4.6 -1.5,1 -1.5-.8 -.6-1.8 -2.2-3 -.5-1.5 .3-.9 1.5-1.5 6-2.4 3-2.4zM158.7,321l1.5-.6 1.5,.5 .7,.9 -.8,3 -.6,1.5 -1.4,1.5 -.3,1.5 1.5,1.5 .7,1.5 -1,4.5 .9,3 -.2,1.5 -1,1.5 -1.5-.2 -.8-2.8 .3-3 -1-.5 -4.5-.9 -1.5,.6 -.6,.8 -.9,1.6 -1.5,.6 -6-1.1 -.6-1.1 .1-1.5 .6-1.5 2.9-3 1-3 3.5-1.6 3-.2 1.5-.7zM152.1,327.8l-.6,1.5 1.2,1.5 1.5,.4 1.5-.7 .5-1.2 -.5-.5 -3-1.6zM184.2,321.3l.1,.5 2.1,1.5 -.7,2.2 -1.6-.7zM256.2,322.1l3,.9 6-.5 1.5,.3 1.5,1.1 1.5,.2 4.5-2 1.5-.1 3,.9 3,1.9 3,.9 .8,.6 .6,1.5 -.2,1.5 -1.2,1.4 -1.5,.1 -1.5-1.2 -1.5-.2 -1.1,1.4 1.1,1 3-1 .2,1.5 -2.8,4.5 .2,1.5 1.4,1.5 1,2.4 .2,.6 -1.7,1.8 -1.5-.2 -2.1-1.6 -.6-1.5 1.4-3 -.1-1.5 -1.6-2.2 -5.7-.8 -1.7-1.5 .8-1.5 0-1.5 -2.4-2.2 -4.5,1.6 -6,.5 -3.6-1.4 -1.5-1.5 .8-1.5zM317.7,328.9l3-.9 3,2.2 1.5,.2 3-.9 1,1.3 .1,1.5 -.8,1.5 -1.8,1.9 -1.5,.7 -1.5-.3 -3-1.2 -3,.6 -1.5-.5 -1.4-1.2 -.2-1.5zM127.2,332.5l1.5,.1 1.2,1.2 .3,1.5 -1.5,1.3 -1.5-.1 -1.9-1.2 .4-1.5zM245.7,336.6l4.5,1.8 3-.8 1.5,.2 3,2.4 1.5,.2 6-3.1 3,2.5 4,1.5 1,1.5 0,1.5 -1.7,4.7 -3.3,0 -8.7,0 .1-3.2 -.4-.7 -3,0 -1.5-1.3 -3.2,3.5 -.6,1.7 -8.9,0 -.5-4.7 .2-3 1.7-3zM293.7,338.7l1.5-.3 1.5,1.1 .3,1.8 -.3,1.7 -1.5,1.2 -1.9-1.4 -.7-1.5 .2-1.5zM139.2,340.7l1.5-.2 2.5,2.3 5,2.4 3-3.1 6,1.8 3-1 7.5,.8 3-1.7 4.5,.1 1.5,1.4 0,5.5 -3,0 -8.2,0 -.1-1.7 -.7-1 -1.5,1.1 -.6,1.6 -27.4,0 -.6-3.2 3.1-4.1zM67.2,344.2l1.5-.2 .8,1.8 .2,3.2 -1,0 -1.7,0 -.6-3.2zM83.7,344.2l1.5-.3 1.9,.4 2.1,4.7 -2.5,0 -3.7,0 -1.2-3.2zM226.2,347.2l2.2,.1 .8,1.7 -1.5,0 -3.8,0zM107.7,347.4l1.5,.1 1.3,1.5 -1.3,0 -2.5,0z" fill="#F6862B" stroke="#F6862B" stroke-width="0.6"/>
<path d="M59.7,45.8l34.6,0 1.1,4.5 -.1,1.5 -2.4,3 1.1,3 1.7,.8 4.5-.9 .4-1.4 -1.4-3 2.2-1.5 1.8-.6 1.5,0 3,1.1 4.5-.2 3,.7 1.1-1 .1-1.5 -1.2-1.8 -1.5-1.4 -1.5,0 -1.7-1.3 124.5,0 .9,4.5 1.2,1.5 2.6,1.2 3,.5 4.5-.5 3,.6 1.5-.2 7.5-4.8 .4,.2 0,1.5 -5,7.5 -5.9,5.3 -.4,.7 -.2,3 -.9,1.4 -6.9,1.6 -6,6 -3.6,4.4 -3-.2 -1.5,.3 -1.5,.9 -6.6,5.1 -3.9,5 -4.2,7 -1,6 -3.3,6 1.9,4.5 0,6 1.3,3 0,1.5 -1.9,3 -.2,1.5 1.4,1.6 1.5,.3 3,2 3,.6 1.5,.9 1.5,3.9 1.5,1.2 3,.8 .5,.7 1.6,3 0,1.5 3.2,3 .5,1.5 -.3,3 2.4,4.5 .1,1.5 -1.1,3 .5,1.5 3.1-.3 1.4,1.8 -.9,6 1,.7 3-1 4.8,.3 1.2-.6 1.5-1.8 1.5,.1 1.5,.8 1.5,3 1.5,1.5 1.5,.7 3-.4 3,2.7 6,.7 4.5,1.5 4.5,.4 3,4.2 4.5,3.4 6,1.6 1.5-.1 3-2.4 1.5,.2 2.1,2.5 2.4,1.8 1.5,.5 2.9-.8 1.6-1.8 6,.9 6,5.2 1.5,3.4 1.5,1 4.5-1.2 1.5-1.4 1.5-5.8 1-.3 2-.4 1.5,.4 1.8,3 1.2,1 1.5,.5 3-.9 1.8-2.1 .1-3 1.1-1.2 3-1.9 3-3.2 1.5-.8 2.3-.4 2.2-1.7 1.5,.5 .6,1.2 -.6,3 .9,3 -.9,3.2 -2.6,2.8 1.1,.7 3-.8 2.3-2.9 .7-2.8 7.1-1.7 3.1-1.5 -.3-3 -.9-1.6 -1.6-1.4 0-1.5 -1.5-1.5 0-1.5 3.1-3.4 4.5-2.6 1.1-1.5 -.2-3 2.1-3.5 3-.3 3,.3 1.5-.8 2.6-3.2 1.9,0 1,1.5 .3,1.5 -.2,4.5 1.9,1.3 3,3.2 1.5,.2 4.5-3.1 1.5-2.1 1.5-.6 4.5,.7 3-.5 1.5,.3 4.5-1 1.5-1.4 1.9-3 .1-1.5 -2.5-3 0-1.5 .5-.5 1.5,.2 3,2.5 4.5,1.7 1.5,0 .5-.9 2.5-1.5 1.5,.4 1,1.1 .4,1.5 -1.4,3.1 -1.5-.4 -3-2.1 -4.5,4.5 -.5,.9 .1,1.5 1.9,2.5 0,2 1.5,1.1 7.5,2.4 2.7-.5 1.8-1.7 3-.5 1,.7 2,3.3 1.5,.3 1.5-.5 .8,1.4 5,3 -2.6,3 -.5,1.5 0,1.5 1.8,1.1 3-.5 3,.3 3-.3 4.5,.7 3-.6 2.3,.8 1.9,1.5 -.5,3 .3,1.5 2.3,3 -1.8,.7 -3,2.8 -.5,1 .7,3 1.3,.9 3-.1 4.5,2.3 3,3.8 1.5,1.1 .4,1 -.4,1.5 .8,1.5 5.2,2.5 4.5,1.3 3-.3 3-1.2 1.5-.1 2.6,.8 .8,1.5 .4,4.5 1,1.5 1.2,.3 7.5-.6 11.3-4.2 1.5-1.5 2.2-3.8 1.5-.7 1.5,.3 6,4.9 3,1.2 3,2.1 4.5,4.7 3,.8 3-.1 3,1.8 1.5,.3 3-2.1 3,.7 1.5-.4 7-3.7 2-.6 4.5,0 6-1.4 1.5,.1 3,1.3 4.5-.6 1.7-.3 2.8-2.2 1.5,.8 1,1.4 2,.6 4.5-1.6 3,.9 3-1.5 1.5-.3 2.3,.4 2.2,1.4 1.5,.1 3-1.9 1.5-.1 1.5,1 3,4.4 2.7,1.1 .7,4.5 1.2,1.5 4.4,1.5 3,3.4 4.5-.3 1.5,1.9 1.6-.5 -3.5-4.5 -1.1-1.2 -3-.7 -.5-1.1 -.4-1.5 .4-4.5 .8-1.5 1.7,0 1,1.5 .5,4.5 1,1 3,.7 1.1,2.8 2.3,3 5.6,2.2 1.5-.2 3.3-1.9 0,29 -3.3-3 -1.5-.3 -1,2.7 0,1.5 1.8,3 .7,2.4 1.5,.6 1.8-.2 0,22.9 -2.3,1.3 -1.5,3 -4,.5 -1.4,1 -.7,1.5 -.3,3 -.6,.7 -1.5,.2 -.6,.6 -.8,3 1.4,.7 3,0 1.2,.8 1.8,5.3 3-1.9 3.3,1.3 0,6.6 -1.8,.1 -3-1 -3-2.2 -2.5,.8 -.2,1.5 1.2,1 1.5-.2 3,4.1 4.8-1.9 0,22.7 -21.5,0 1.7-2.6 3,0 1.5-.5 1-1.6 -1-3.7 -1.5-1 -.7,.2 -.7,3 -1.6,1.9 -1.9-3.4 -1.1-1 -2.7-.5 2.7-1.5 1.4-1.5 -.7-1.5 -.7-.2 -1.5,.2 -2.5,3 -3.5,3 -1.5,.6 -3-.3 -1.5-1.2 -1.1-2.1 -.4-4.5 -2.8-3 -.6-1.5 .4-1.6 1.5-1.1 3,.6 4.5-.8 1.5-.9 1.9-2.2 -.1-1.5 -3.6-3 -2.7-.8 -3,.1 -1.1-.8 .1-1.5 1.5-4.5 0-1.5 -.5-1.8 -1.5-2 -1.5,.2 -.4,.6 0,4.5 -1.1,4.4 -3-.7 -3.5,.8 -.5,1.5 .8,3 -2.2,1.5 -1.2,1.5 -1.1,4.5 -1.9,3 -5.4,3.3 -4.5,.4 -2.1,.8 -.7,3 -3,4.5 .6,6.2 -35.8,0 -1-1.3 -1.5,.1 -2,1.2 -56,0 -1-4.7 .6-9 -.9-4.5 1.9-4.5 2.8-3 2-4.5 -.7-3 .1-1.5 1.6-4.5 -1-4.5 3.1-1.3 2.6-1.7 1.9-3.6 1.5-.7 1.5,0 1.5,.4 1.5,3.3 1.5,1.3 3.5-.7 2.5-2.4 4.5,.8 3-.8 3-.1 3-1.9 3,2.6 4.5-.6 1.5,.4 1.5,2.7 1.5-.9 2.1-2.8 -2.8-4.5 0-3 .7-1.3 2.3,1.3 2,3 .4,3 1.3,1.2 3-.3 1.5,.9 3,3.8 1.5,.5 3-1.8 4.5,.1 1.5,.1 1.5,1.2 1.5,.4 4.5-3.5 3.3-4.1 .1-4.5 3.4-4.5 3.7-.5 1.3,.5 -.4,3 .6,3 1.5,1.6 1.5,0 2.8-1.6 1.7-2.6 1.5-.8 3-.2 3,1.9 .9-1.3 -1.3-3 -1.1-.8 -3,.3 -1.7-1 -.1-1.5 1.6-3 1.7-1.8 3-.1 1.4-2.6 1.6-1.2 1.5-.8 4.3-1 .2-.8 3-1.7 3-2.7 3-1 1.1-1.3 -.1-1.5 -1-1.1 -2.2-.4 -.5-1.5 1.2-1.1 3,.3 1.5-.4 1.5-1.8 -.1-1.5 -2.9-3 -1.7-3 -2.8-3.1 -1.5-.3 -1.1,.4 -3.4,3.2 -7.5,1.5 -1.5-.1 -1.2-1.6 .2-4.5 -.8-3 -1.2-1.7 -3,.6 -1.5-.3 -3-1.9 -2.5,.3 -2,1.1 -1.5,0 -2-2.6 -1-.6 -3-.1 -3-1.1 -2.7,1.8 -1.8,.3 -6.6,2.7 -.6,4.5 -1.8,1.4 -1.5-.7 -4.5-3.9 -9,.9 -1.2-.7 -.1-1.5 -1.2-1.5 -5-1.5 -1.5,.1 -.9,1.4 0,3 -.6,1 -.8-1 -2.2-1 -7.5-.1 -.2,1.1 3.4,3 -.4,1.5 -1.3,1.1 -1.7,.4 -5.8-1.7 -2.9-2.8 -.8-1.5 -.8-4.5 -1.5-2.5 -1.5-1.1 -6,.6 -10.5-2.2 -6,0 -4.5,1.3 -1.5,0 -2.6-2.1 -3.7-1.5 -1.2-1.2 -1.5,.1 -3,2.6 -4.5-5 -1.5-.5 -1.5,.9 -1.5,2.2 -1.5-.1 -6.3-5 -.3-1.5 .6-3 -1.5-1.8 -6,2.1 -3,2.2 -1.5,.3 -3-.6 -3-1.8 -4.5-.4 -1.4,1.5 -.4,1.5 -1.2,1 -9,3.3 -1.5-.1 -1.3-1.2 -.6-1.5 .6-3 -.7-3 -1.3-1.5 -4.2-.7 -1.2-.8 -.8-4.5 -1-1.5 -3,2.3 -1.5,3.6 -1.5,1.2 -6,.5 -4.1-3.1 -2.4,0 -.9,1.5 1.5,3 -1.6,.3 -2.8-.3 -3.2-1.9 -3,.4 -1.5-.6 -.3-.9 1.2-1.5 .2-1.5 -1.1-2.7 -1.5-2.2 -1.5-1.1 -.6,3 -1.7,1.5 -6.7,2 -6-.5 -4.5-2.5 -4.5-.1 -1.8,1.1 -.5,1.5 .3,1.5 2.9,3 .9,3 -.1,1.5 -1.7,1 -1.5,.1 -1.5-.6 -1.5-1.5 -3-.8 -.9-1.2 .1-4.5 -.8-3 -2.9-1 -1.5,.2 -1.5,.9 -3.7,4.4 -.8,.4 -1.5-.4 -3-2 -1.5-.4 -3,.3 -3-.5 -6,2.2 0,2.3 -3,.3 -1.5,.7 -4.5-2 -1.5-.4 -1.5,.3 -3,1.6 -3,.8 -3,2.9 -1.5,.8 -3-2.4 -3-.5 -1.5-2.9 -2.6-1.1 .2-3 2.4-1.9 2.1-2.6 .3-1.5 -.6-1.5 -4.8-3.6 -6-1 -.3,1.6 .8,4.5 -.9,3 -1.1,1.3 -4.1,1.7 -.5,0 -.1-3 -1.3-1.1 -1.5,0 -3,.9 -4.5-3.7 -7.5-.3 -1.5,.3 -.9,.9 0,1.5 -.6,1.3 -9,.6 -1.2-.4 2.7-1.5 -.2-1.5 -1.3-1.4 -1.5-.7 -3,1.3 -1.5-.5 -2.7-1.7 -3.2-3 -.1-1.5 .6-1.5 2.4-1.1 6.2,1.1 1.3,.7 3-1.2 .2-1 -.7-3 -1-.6 -1.5-3.9 -1.5-1.8 -1.5-.2 -3,1.3 -6,1.2 -2.8-2 -1.3-3 -1.9-1.4 -3-.1 -3,1.2 -1.5-.4 -1.5-1.7 -1.5-.6 -3,.6 -1.2,.9 -.8,1.5 -1,.6 -6-.1 -5.3-3.5 -.7-1.5 .3-3 -.9-6 .2-1.5 1.9-7.5 3.8-6 .4-1.5 -1.2-2 -.7-2.5 .3-6 -.5-3 -1.7-4.5 -.2-4.5 -1.7-4.2 -5-6.3 -.1-4.5 .1-1.5 1.7-4.5 8.7-13.5 3.7-4.5 2.6-6 3.3-5 9.6-5.5 4.3-4.5 2.6-6.3 3-1.9 4.5-1.5 7.5-3.9 -1.5-.4 -4.5,1 -6.2,2.5 -6,1.5 -4,6 -1.9,4.5 -1.4,1.3 -3,2 -6,1.7 -1.2,1 -.3,5.4 -2.5,6.6 -3.3,3 -4.7,2.5 -4.2,3.5 -1.1,1.5 -.7,2.4 -1.5,1.3 -4.5-2.2 -.3-1.5 .8-1.5 .1-1.5 -.8-1.5 .1-1.5 2.5-3 .2-1.5 -1.3-3 0-1.5 -.7-1.5 -5.1-2.2 -1.5-2.4 -1.5-1.1 -6,.4 -2,.8 -3.7,3 -3.3,.4 -2,4.1 0,1.5 1,3 -2,1.7 -.9,1.3 -.2,6 .7,3 .1,3 -1.2,3.4 -1.2,11.6 -3.3,4.4 -3,1.4 -7.5,2.3 -4.5,2.1 -4.5,.9 -6-.7 -9,.9 -9-.6 -24,1.1 -6-1 -24-.4 -1.5-.1 0-2.9 4.5,.4 15,0 15,.9 10.5-.3 4.5-.8 6,.2 7.5,1 10.5-1.3 7.5,.8 8.5-3.8 5.1-3 1.2-1.5 .6-3 -.7-3 -.4-9 -1.8-4.5 .7-9 -.1-7.5 -1.1-2 -1.5-1.1 -6-6.8 -1.5-1 -3-.8 -4.5-2.6 -3-.6 -4.5,.4 -7.5,2.3 -9,.5 -4.5-.4 -3,1 -10.5-1.3 -3,.4 -3,1.2 -7.5-.2 -4.5,.6 -7.5-1.3 -3.9-1.8 -2.1-2.2 -3-.6 0-25.7zM195.9,65.3l.3,.6 1.5-.2 .2-.4 -.2-.8 -1.5,0zM222.4,155.3l-2.2,2 -.3,2.5 .4,0 2.8-1.5 1-1.5 -.4-1.5zM379.9,167.3l-1.4,1.5 2.2,2.1 1.5-.5 .7-1.6 .1-1.5 -.8-1.2zM400.9,170.3l.1,1.5 3.2,4.5 3.5,3 1.5,4.4 1.5-1.2 3-6.1 3,.7 1.5,1.4 1.5,.6 1.4-1.3 .8-1.5 -1.8-1.5 -3.4-.2 -3,1.7 -3-.4 -3-2.8 -3-3.6 -1.5-.5 -1.5,.1zM374.4,173.3l.1,1.5 .9,0 .1-1.5 -.8-.3zM416.1,182.3l-.9,1.5 .1,3 5.9,4.1 1-4.1 -1.7-4.5 -.8-1 -1.5-.2zM261.1,197.3l.5,1.5 2.2,0 -.1-1.7 -1.5-.3zM252.6,200.3l.7,1.5 1.5,1.5 1.1-1.5 -1.2-2.5 -1.5-.3zM268.8,203.3l.9,1.8 1.5-1.1 .5-.7 -2-1.3zM613.2,281.3l1.5,.6 .3-.6 -.3-1.2zM555.9,302.3l-1.9,1.5 .3,1.5 .6,0 1.8-1.5 -.3-1.5 -.2-.3zM576.2,317.3l-5,3.8 -3.2,.7 .2,2 3,1 1.5,1.1 3.9,3.4 .3,1.5 -1.2,1.4 -1.5,.8 -3-.3 -4.5,3 -3.6,1.1 -.7,1.5 .4,1.5 2.4,4.9 1.5,0 1.5-.8 1.5-2.3 1.5-.7 4.5,.8 3-1.5 1.8-.4 1.9-1.5 .9-1.5 -1.4-3 1.5-4.5 -.7-4.5 -2.9-6 -1.1-1.2 -1.5-.5zM521.7,46.9l.7-1.1 40.5,0 .8,1.7 1.2-1.7 16.4,0 0,4.5 1.3,3 -.8,1.5 -1.6,.9 -1.5,3.6 -1.5,1 -1.5-.1 -3,1.8 -3,.4 -1.9,1.4 .4,3.6 3,0 1.1,.9 -1.9,1.5 -2.2,.6 -2.5,5.4 1,3 2.6,3 -.6,1.5 -1.9,1.5 1.1,9 .8,3 -.5,1 -1.3,.5 -1.2,1.5 1.4,1.5 .3,1.5 -.7,1.5 -1.5,.8 -3-.2 -4.5-.6 -1.5-.6 -3,0 -2,.6 -2.5,2.2 -3,.5 -3,1.9 -1.5,.3 -3-1.6 -1.3-1.8 -.4-1.5 -1.3-1 -3-.5 -4.5,.9 -3,2.8 -1.5,.2 -.6-.9 0-1.5 .8-1.5 .2-1.5 -.4-.6 -3-2.7 -3-.3 -3-2.5 -.6-1.4 .7-3 1.4-2.8 2-1.7 1.3-3 1.2-1.3 3,1.3 1.5,0 2.6-3 -2.2-1.5 -4.9-.8 -1.6-3.7 .1-3 -2.6-4.5 -.1-1.5 1.1-1.5 3.1-.6 .8-.9 .4-3 1.1-3 -1.6-6 -.8-1.5 .3-1.5zM564,83.3l1.2,.7 1.4-.7 -1.4-1zM530.4,84.8l.3,.5 1.5-.1 .3-.4zM537.7,89.3l.5,1 .8-1 -.8-1.5zM578.7,64.7l1.5,0 1.2,.6 1.3,1.5 -.3,1.5 -.7,.6 -1.5-.4 -1.5-1.7 -.4-1.5zM425.7,82.8l3-.9 7.5,2.2 6,.6 4.5,2.5 3,.8 1.5-.3 3-2.9 6-1.4 3,.2 9,2.7 1.3,1.5 2.6,6 -.4,1.5 -5,5.3 -4,.7 -3.5,1.7 -6-2.8 -1.5,0 -4.5,2 -3-.4 -3,1.5 -4.5-1.5 -7.5,1.3 -1.5-.4 -3-2.3 -7.5-3.2 -2.4-1.9 -.5-1.5 1.5-3 .3-3 2.6-3.1 1.7-1.4zM416.7,102.4l3-.5 .8,.9 .7,2.8 2.2,1.7 -.1,1.5 -.6,.5 -1.5,0 -4.5-3.8 -.6-1.2 .1-1.5zM416.7,136.9l1.5-.5 1.5,.9 .9,1.5 -.9,1.9 -1.5-.5 -1.3-1.4 -.5-1.5zM407.7,151.7l1.5-.2 2.9,2.3 .5,1.5 -.6,1.5 -1.3,1.5 -1.5,0 -1.5-1.1 -1.1-1.9 -.7-1.5 .6-1.5zM256.2,160.5l.8,.8 -.8,1.5 -.3-1.5zM88.2,187.7l1.5-.2 .6,2.3 1.9,3 .9,4.5 1.1,.6 1.8-.6 4.2-3.3 3-1.2 4.5-.5 3-.9 3,1.6 2-1.7 2.5-.5 3,1.8 1.5,.4 3-1 4.5,.7 3-1.8 4.5-1.7 3,.2 3,1.3 3-.1 3,1 1,1.2 -.3,3 .8,.7 6.4-.7 1.1-.6 1.8-2.4 1.2-.4 1.5,.3 1.5,3.4 3.3,4.2 1.6,4.5 2.4,4.5 1.7,1.4 3,.2 3-.8 1.7-.8 3.1-3 2.7-1.5 3-.5 1.5,.3 4.5,7.2 1.5,.5 1.5,6 -1.5,.5 -1.5-.9 -1.5-.2 -1.1,.6 -.6,1.5 -1.3,1 -3-1.7 -1.5,.9 -.9,2.8 -1,1.5 -7.1,4 -.9,5 -2.4,3 -.4,1.5 .6,4.5 1.8,3 -1.7,5.2 -1.5,1.2 -1.5-.6 -3.6-4.3 -.3-1.5 1.4-7.5 -.5-1.9 -1.5-.2 -3,2.2 -4.5,2.3 -3-.9 -1.5,.1 -3,2 -1.5,.1 -4.5-1.5 -6,.3 -9-2 -3,.1 -12,2.3 -7.5-1 -3,.3 -3-.5 -4.5,2.1 -.3-.8 -4.2-2.2 -1.5-.2 -3,.7 -3,0 -4.5-.7 -3,.4 -3-.3 -1.5,.2 -4.5,2 -3-.2 -6,1 -3-.1 0-8.3 1.5-.3 4.5,.7 7.5-2.3 10.5-1.3 6,.9 6-.8 4.5,2 7.5-.8 3,.4 3,1.2 1.5,0 3-.8 4.5,1.6 1.5-.1 4.5-3.1 6-2.9 1.5-.1 7.5,3.5 3-.1 1.5-.4 4-3.1 1.3-1.5 .7-3.2 1.5-1.5 3-1.1 2.1-1.7 1-1.5 -2-1.5 -7.1-1.5 -7.5-3.6 -1.7-.9 -1.3-1.6 -6-2.8 -3,0 -3,2.2 -1.5,.3 -4.5-2.3 -3-2.8 -3-1.2 -3,.3 -6,4.1 -4.5,1.1 -4.5,.1 -6-.7 -6,.1 -4-1.3 -2-2.2 -6,1.6 -6-1.1 -4.5,.1 -1.5,.7 -3,2.6 -1.5,.5 0-10.6 3-.2 3-1.4 4.5,1.3 6-1.8 6-.9 1.6-.6 1.4-1.8zM518.7,245l1.5-.8 2.4,1.1 1,1.5 -.4,1.5 -1.5,1.6 -2.8,1.4 -1.2,3 -1.8,1.5 -1.7,.6 -1.1-.6 -.5-1.5 .3-1.5 1.3-2.1 3-2.2zM176.7,257l1.5-.3 3.8,.6 2.2,3.7 3,2.5 1.3,2.8 .8,4.5 -.6,3 -1.5,1.8 -1.5,.6 -1.5-.9 -1.1-1.5 -6.4-3.8 -1.5,.5 -1.5,2.5 -1,.8 -2.5,0 -4-.4 -1.5-.6 -3-3.3 -1.5-1 -1.1-2.2 .3-3 1-1.5 1.3-.9 3-.9 1.5,.2 2.5,3.1 5,3.7 1.5,.4 1.5-1.3 .5-1.3 .1-1.5 -1-4.5zM599.7,259.5l1.5,0 1.5,2.3 0,1.6 -1.5,1.1 -2.1-1.2 -.7-1.5zM569.7,263.1l2.1,4.7 -.5,1.5 -1.6,1 -3-.2 -1.5,.3 -.5-1.1 .5-2.8 3.5-1.7zM575.7,267.1l4.4,2.2 -2.9,2.1 -1.5,.3 -1.4-.9 -.5-1.5 .5-1.5zM487.2,269.3l2.2,0 1.2,1.5 .1,1.5 1.8,4.5 -.8,.2 -.8-1.7 -2.2-2.7 -2.1-1.8zM544.2,268.9l2.4,.4 5.1,2.4 1.5-1.1 1.5-.3 .7,.5 .4,1.5 -4.1,1.8 -3.3,2.7 -.9,1.5 3,1.5 .9,1.5 -.4,1.5 -1.9,3 -1.9,1.1 -1.5,0 -2.7-1.1 -.6-1.5 1.8-2.7 .1-1.8 -1.4-3 1.7-4.5 -1.6-3zM619.2,270.2l.5,.6 -.5,1.2 -.9-1.2zM563.7,271.8l1.5-.5 .9,1 3.6,.6 2,2.4 -.2,1.5 -1.1,1.5 -4.3,3 -1.4,1.5 -2.5,2.7 -1.5-1.1 -.1-1.6 -2.1-4.5 0-4.5 .7-.6 3,.1zM595.2,277.7l1.5-.4 1.1,1 -2.6,2.1 -1.5,2.1 -3-.1 -1.5,.1 -1.2-1.2 -.3-1.5 1.5-1.2 3,.1zM598.2,285.2l2.3,.6 .5,1.5 -1.3,1.1 -1.5-.2 -1.3-.9 .1-1.5zM478.2,309.1l1.5,.7 1.5,1.5 0,1.7 -1.5,.9 -1.5-.2 -.9-.9 -.4-1.5 .4-1.5zM473.7,314.8l1,1 .5,1.5 -.2,1.5 -1.3,2 -.8-.5 -.8-1.5 .1-2.3zM626.7,323l.5,.3 -.5,2.3 -.6-.8zM431.7,324.5l.5,.3 0,1.5 -.5,.1 -.5-1.6zM407.7,333.3l.6,.5 .2,1.5 -.8,.5 -1.5-.1 -.5-.4 .5-1.5zM487.2,333.4l1.5-.1 1.5,.5 1,1.5 -.1,1.5 -.9,1.1 -3,.7 -1.5-.2 -2.9-3.1zM614.7,336.6l3-.5 3.6,.7 -.3,1.5 -1.8,1 -.8,2 1.1,4.5 2,3.2 -2.3,0 -5.2,0 -2.9-3.2 -.9-4.5 .3-1.5 1.4-1.5zM622.2,339.9l2.1,2.9 -.1,1.5 -1.1,0 -2.5-1.5 .3-1.5z" fill="#F1652A" stroke="#F1652A" stroke-width="0.6"/>
<path d="M235.2,45.8l29.1,0 -2.2,7.5 .9,6 -1.7,4.5 .8,3 -.1,1.5 -2.4,6 .2,1.5 2.6,4.5 1.1,4.5 0,1.5 -2.2,4.5 -.1,1.5 3.7,6 1.2,6 0,4.5 2.1,3.8 4.3,2.2 1.7,2 3,.7 1.5,1.3 1.5,.5 .5-1.5 -.2-4.5 1.2-4.5 1.5-.7 1.5,0 1.7,.7 .6,3 -.9,3 .1,1.5 1,3 .1,3 -2,4.5 -.1,3 -1.7,7.5 .9,1.5 3.3,.3 4.5,1.2 1.4,1.5 .5,4.5 1.1,1.1 1.4-1.1 -.8-6 1.7-1.5 2.2-1.1 3,.3 4.5,1.5 1.5,0 1.5-.6 3,2 1.1-.6 -.8-3 1.2-.8 4.5-1.5 3-.2 3-.9 1.5-1.2 1.9-2.9 3.2-3 .9-4.4 1.3-1.6 1.2-3 8-.9 1.5-.7 3-4 6-1.1 1.5,.4 .8-1.2 .2-3 .5-1.1 3-4 1.5-.9 1.8,1.5 .4,1.5 -.6,1.5 -3.1,1.8 -2.4,2.7 -.6,1.5 -1.5,.2 -2.3,2.8 -.2,1.5 2.5,2.5 1.5,.2 1-1.2 .5-4.7 1.5,.6 3,.1 1.5,.7 2,1.8 .8,3 3,3 .4,3 2.5,3 0,1.5 -1.2,.9 -3.7,.6 -1.2,3 -.1,1.5 1.2,1.5 .8,.4 1.5-.4 2.3-3 1.7-4.5 4.7-3 -.8-1.5 -1.9-1.6 -4.3-1.4 1.3-3.2 1.2-1.3 -.2-1.5 .5-1.2 6,1.7 1.5-.1 3-2.6 4.8-2.3 -.4-3 2.4-1.5 -.1-4.5 .6-1.5 6.9-6 .8-1.5 1.5-6.5 1.5-1.1 1.5,.1 1.5,.4 3,2.6 4.3-6 .6-1.5 .5-4.5 2.1-6.2 1.5-.8 6-1 3-3.5 1.5-.8 1.5,.3 3,2 1.5,.2 .7,.8 -.1,1.5 .9,1.1 1.5,.7 1.2-1.8 -1.4-3 1.7-3.9 1.5,.1 1.3,.8 .6,3 1.4,1.5 2.7,1.9 1.5-.3 .8-1.6 2.7-3 2.1-4.5 .4-3.4 1.5-1.7 .9-2.4 .6-.4 3-.9 3.3,1.3 -1.9,3 4.6,2.8 1.5-.1 1.5-1 4.5-.3 .9-1.4 .1-4.5 -2.2-1.5 .5-1.5 2.2-.9 .5-2.1 12.4,0 3.6,.4 2.3-.4 28.4,0 -.7,1.1 -1.3,.4 -.3,1.5 .8,1.5 1.6,6 -1.1,3 -.4,3 -.8,.9 -3.1,.6 -1.1,1.5 .1,1.5 2.6,4.5 -.1,3 1.6,3.7 4.9,.8 2.2,1.5 -2.6,3 -1.5,0 -3-1.3 -1.2,1.3 -1.3,3 -2,1.7 -.7,1.3 -1.4,4.5 .6,1.4 1.5,1.5 1.5,1 3,.3 3,2.7 .4,.6 -.2,1.5 -.8,1.5 0,1.5 .6,.9 1.5-.2 3-2.8 6-.9 2.8,1.5 .4,1.5 1.3,1.8 3,1.6 1.5-.3 3-1.9 3-.5 2.5-2.2 2-.6 3,0 1.5,.6 6,.9 3-.9 .7-1.5 -.3-1.5 -1.4-1.5 1.2-1.5 1.3-.5 .5-1 -.8-3 -1.1-9 1.9-1.5 .6-1.5 -2.6-3 -1-3 2.5-5.4 2.2-.6 1.9-1.5 -1.1-.9 -3,0 -.4-3.6 1.9-1.4 3-.4 3-1.8 1.5,.1 1.5-1 1.5-3.6 1.6-.9 .8-1.5 -1.3-3 0-4.5 56.3,0 -1.3,3 -.1,1.5 1,2.5 1.5,.1 3-1.4 1.5,1.3 .8,2 -.8,1.5 -1.8,1.5 0,3 -2.1,3 .3,1.5 2.1,2 1.5,.4 9-.1 1.5,.7 0,2 -1.5,1.2 -10.5,.4 -2.5,.9 -2.2,6 .9,3 -.1,1.5 -2.5,3 -4.1,1.5 -1.2,1.5 -.2,3 -4.4,1.5 -2.3,1.5 -.9,4.6 -1.5,.4 -1.2-2 .5-1.5 2.1-1.5 -2.9-9 -1.5-.5 -1.5,.7 -.9,1.3 -.6,2.8 -1,1.7 -.5,3 -1.5,.4 -1.6-3.4 -1.2-4.5 -1.6-3 -1.6,0 -.2,3 -1.2,1.5 .6,3 -.3,1.5 -3.4,5.1 -3,1.9 -1.8,2 -1.3,4.5 0,3 -1.6,3 1,1.5 3.8,1.5 1.3,1.5 0,1.5 -1.4,1.6 -3-.1 -3-1.1 -1.5,.3 -3,1.7 -7.5-.1 -3,1.8 -1.5-.2 -3-1.9 -3-1.2 -7.5,3.3 -9-.9 -4.5,.3 -1.5-.2 -1.5-.8 -4.5,3 -7.5,2.9 -7.5-.2 -12-5.7 -3-4.5 -1.5-.7 -3.1-.3 -1.5-1.5 -1.4-5.4 -4.5-4.4 -1.5-.2 -3,1.8 -3-.4 -1.5,.3 -1.2,.8 -1.8,2.6 -1.5,.8 -6-.8 -6,.8 -4.5-1.2 -3,1.5 -3,2.8 -3,1.4 -6,.5 -7.5-.9 -1.5,.6 -1.9,3.9 1.3,1.5 3.6,1.5 2.2,3 .2,1.5 -.9,1.7 -2,1.3 -.2,1.5 .7,1.2 4.5-1.8 1.5,.4 2.1,1.7 1.1,1.5 .2,1.5 -2.3,6 -1.1,1.1 -3,.7 -1.2,1.2 .2,1.5 6.1,7.5 .7,1.5 .1,4.5 1,1.5 2.1,1.1 4.5-.3 .9,.7 .8,3 1.3,1.5 10.5,3.6 1.3,.9 1.1,4.5 2.1,1.5 3,.7 1.5,1.7 1.5,.5 3-1.1 1.5,.5 3,5 2.8,1.7 1.7,.7 1.9-2.2 1.1-.3 3,.7 3.8,2.6 1,1.5 0,4.5 -2.5,3 -1.6,4.5 -.2,1.5 1,1 3,1.1 1.5,0 4.5-2.8 3-1.2 .9-1.1 -.8-7.5 .9-1.5 3.5-1.6 4.5,1.7 4.5-1 3,.1 6,1.8 1.5,.2 3-.8 1.5,0 4.5,1.3 4.5-1.9 1.5,.2 1.3,1.5 -.3,1.5 .5,1.9 1.5,.2 3-.9 3,2.1 3,.7 1.5,.1 1.5-.6 2-2 2.5-1 1,1 -.5,4.5 1,1.7 1.5,.8 3-.1 4.5-1.7 4.5,1.2 6-.3 1.5,1 3,3.1 3,.7 3-.6 4.5,1.4 1.5,1 3,3.2 1.5,.2 9-1 3-3.6 1.5,.2 .7,1.8 .2,3 2.1,1.6 3-1.8 4.5,.6 4.5-1.1 4.5-2.2 1.5,0 3,1.9 3-.3 2.7-4.7 2.1-.4 0,32 -3.3,1.9 -1.5,.2 -5.6-2.2 -2.3-3 -1.1-2.8 -3-.7 -1-1 -.5-4.5 -1.5-1.8 -1.5,.5 -.5,1.3 -.4,4.5 .4,1.5 .5,1.1 3,.7 4.6,5.7 -1.6,.5 -1.5-1.9 -4.5,.3 -3-3.4 -4.4-1.5 -1.2-1.5 -.7-4.5 -2.7-1.1 -3-4.4 -1.5-1 -1.5,.1 -3,1.9 -1.5-.1 -2.2-1.4 -2.3-.4 -1.5,.3 -3,1.5 -3-.9 -4.5,1.6 -2-.6 -1-1.4 -1.5-.8 -2.8,2.2 -1.7,.3 -4.5,.6 -3-1.3 -1.5-.1 -6,1.4 -4.5,0 -2,.6 -7,3.7 -1.5,.4 -3-.7 -3,2.1 -1.5-.3 -3-1.8 -3,.1 -3-.8 -4.5-4.7 -3-2.1 -3-1.2 -6-4.9 -1.5-.3 -1.5,.7 -2.2,3.8 -1.5,1.5 -11.3,4.2 -7.5,.6 -1.2-.3 -1-1.5 -.4-4.5 -.8-1.5 -2.6-.8 -1.5,.1 -3,1.2 -3,.3 -4.5-1.3 -5.2-2.5 -.8-1.5 .4-1.5 -.4-1 -1.5-1.1 -3-3.8 -4.5-2.3 -3,.1 -1.3-.9 -.7-3 .5-1 3-2.8 1.8-.7 -2.3-3 -.3-1.5 .5-3 -1.9-1.5 -2.3-.8 -3,.6 -4.5-.7 -3,.3 -3-.3 -3,.5 -1.8-1.1 0-1.5 .5-1.5 2.6-3 -5-3 -.8-1.4 -1.5,.5 -1.5-.3 -2-3.3 -1-.7 -3,.5 -1.8,1.7 -2.7,.5 -7.5-2.4 -1.5-1.1 .2-1.5 -.6-1.5 -1.5-1.5 -.1-1.5 .9-1.5 4.1-3.9 3,2.1 1.7,.3 1.2-3 -.4-1.5 -1-1.1 -1.5-.4 -2.5,1.5 -.5,.9 -1.5,0 -4.5-1.7 -3-2.5 -1.5-.2 -.5,.5 0,1.5 2.5,3 -.1,1.5 -1.9,3 -1.5,1.4 -4.5,1 -1.5-.3 -3,.5 -4.5-.7 -1.5,.6 -1.5,2.1 -4.5,3.1 -1.5-.2 -3-3.2 -1.9-1.3 .2-4.5 -.3-1.5 -1-1.5 -1.9,0 -2.6,3.2 -1.5,.8 -3-.3 -3,.3 -2.1,3.5 .2,3 -1.1,1.5 -4.5,2.6 -3.1,3.4 0,1.5 1.5,1.5 0,1.5 1.6,1.4 .9,1.6 .3,3 -1.2,.9 -6,1.9 -3,.4 -1.5,4.3 -1.5,1.4 -3,.8 -1.1-.7 2.6-2.8 .9-3.2 -.9-3 .6-3 -.6-1.2 -1.5-.5 -2.2,1.7 -2.3,.4 -1.5,.8 -3,3.2 -3,1.9 -1.1,1.2 -.1,3 -1.8,2.1 -3,.9 -1.5-.5 -1.2-1 -1.8-3 -1.5-.4 -2,.4 -1,.3 -1.5,5.8 -1.5,1.4 -4.5,1.2 -1.5-1 -1.5-3.4 -6-5.2 -6-.9 -1.6,1.8 -2.9,.8 -1.5-.5 -2.4-1.8 -2.1-2.5 -1.5-.2 -3,2.4 -1.5,.1 -6-1.6 -4.5-3.4 -3-4.2 -4.5-.4 -4.5-1.5 -6-.7 -3-2.7 -3,.4 -1.5-.7 -1.5-1.5 -1.5-3 -1.5-.8 -1.5-.1 -1.5,1.8 -1.2,.6 -4.8-.3 -3,1 -1-.7 .9-6 -1.4-1.8 -3.1,.3 -.5-1.5 1.1-3 -.1-1.5 -2.4-4.5 .3-3 -.5-1.5 -3.2-3 0-1.5 -1.6-3 -.5-.7 -3-.8 -1.5-1.2 -1.5-3.9 -1.5-.9 -3-.6 -3-2 -1.5-.3 -1.4-1.6 .2-1.5 1.9-3 0-1.5 -1.3-3 0-6 -1.9-4.5 3.3-6 1-6 4.2-7 3.9-5 8-6 4.6-.1 3.6-4.4 6-6 6.9-1.6 .9-1.4 .2-3 .4-.7 5.9-5.3 5-7.5 0-1.5 -.4-.2 -7.5,4.8 -1.5,.2 -3-.6 -6.2,.3 -2.8-.8 -2.3-2.2 -.7-2.3zM578.3,65.3l.4,1.5 1.5,1.7 1.5,.4 .7-.6 .3-1.5 -1.3-1.5 -1.2-.6 -1.5,0zM494.5,68.3l-.8,1.5 1,2.1 1.5,.2 1.7-.8 -.3-1.5 -1.4-1.5zM424.4,83.3l-3.3,3 -1,1.5 -.3,3 -1.5,3 .5,1.5 2.4,1.9 7.5,3.2 3.3,2.4 1.2,.3 7.5-1.3 4.5,1.5 3-1.5 3,.4 4.5-2 1.5,0 6,2.8 4.5-1.9 3-.5 5-5.3 .4-1.5 -2.6-6 -1.3-1.5 -9-2.7 -3-.2 -6,1.4 -3,2.9 -1.5,.3 -3-.8 -4.5-2.5 -6-.6 -6-1.9 -1.5-.3zM598.2,93.8l-.5,1.5 .5,1.1 1.5-.6 .2-.5 -.2-1.3zM416.2,102.8l-.1,1.5 .6,1.2 3.8,3.3 .7,.5 1.5,0 .6-.5 .1-1.5 -2.2-1.7 -.7-2.8 -.8-.9 -1.5,0zM392.4,108.8l.6,1.5 2.7,1.8 3,.2 .7-.5 -3.7-3 -1.5-.6zM446.6,134.3l-.8,1.5 .9,.4 .4-.4 .5-1.5zM416.4,137.3l.5,1.5 1.3,1.4 1.5,.5 .4-.4 .5-1.5 -.9-1.5 -1.5-.9zM406.5,152.3l-.6,1.5 1.8,3.4 1.5,1.1 1.5,0 1.3-1.5 .6-1.5 -.5-1.5 -1.4-1.5 -1.5-.8zM255.9,161.3l.3,1.5 .8-1.5 -.8-.8zM527.4,197.3l-.3,1.5 .6,.6 1.5,.2 1.5-.8 .8-1.5 -.8-.7 -1.5-.6 -1.5,.7zM547.6,197.3l1.1,1.2 1-1.2 -1-.7zM563.7,45.8l1.2,0 -1.2,1.7 -.8-1.7zM434.7,54.3l1.5-.6 1.7,1.1 0,1.5 -1.3,1.5 -1.9,.5 -.5-.5 -.7-1.5zM196.2,64.5l1.5,0 0,1.2 -1.5,.2zM59.7,71.7l1.5,.4 2.1,2.2 3.9,1.8 7.5,1.3 4.5-.6 7.5,.2 4.5-1.5 7.5,.4 3,.8 4.5-1 4.5,.4 9-.5 7.5-2.3 4.5-.4 3,.6 4.5,2.6 3,.8 4,3.4 2.2,3 2.8,2.5 1.1,2 .1,7.5 -.7,9 1.8,4.5 .4,9 .7,3 -.6,3 -1.2,1.5 -5.1,3 -8.5,3.8 -7.5-.8 -10.5,1.3 -12-1.1 -6,.7 -10.5,.3 -15-.9 -16.5-.1 -3-.3 0-2.7 27,.7 7.5,.7 16.5-1.3 12,1.4 3-.2 6-1.8 7.5,1.1 3-.4 4.8-3.4 1.9-3 .4-3 -.4-4.5 .7-4.5 -.9-9 .3-6 -.3-6 -1-1.5 -5.5-4.3 -4.5-2.5 -4.5,.4 -6-.4 -4.5,.7 -3-.5 -3,.3 -4.5-1.3 -4.5,1.2 -13.5-.1 -15,1.6 -6-1.1 -13.5,.6 0-10.9zM565.2,82.3l1.4,1 -1.4,.7 -1.2-.7zM530.7,84.5l1.5,.1 .3,.2 -.3,.4 -1.5,.1zM538.2,87.8l.8,1.5 -.8,1 -.5-1zM332.7,96.6l1.5-.3 1.8,.5 -.2,1.5 -1.6,1.6 -1.5,.9 -1.7-1 .2-1.5zM223.2,155l.5,.3 .4,1.5 -1,1.5 -2.9,1.7 -.4-1.7 .7-1.5 1.2-1.2zM380.7,166.8l1.5-.7 .8,1.2 -.1,1.5 -.7,1.6 -1.5,.5 -2.2-2.1zM401.7,169.1l1.5-.1 1.5,.5 3,3.6 3,2.8 3,.4 3-1.7 3,.1 1.5,.7 .7,.9 -.8,1.5 -1.4,1.3 -2.2-1.3 -.8-.7 -3-.7 -3,6.1 -1.5,1.2 -1.5-4.4 -3.5-3 -3.2-4.5 -.1-1.5zM374.7,173l.8,.3 -.1,1.5 -.7,.2 -.3-1.7zM416.7,181.7l1.5-.6 1.5,.2 2.1,4 .2,3 -.8,2.6 -1.5-.8 -4.4-3.3 -.1-3zM113.7,201.4l3-.3 2.1,.7 2.4,1.5 1.5,1.8 4.5,2.3 1.5-.3 3-2.2 3,0 6,2.8 1.3,1.6 1.7,.9 7.5,3.6 7.1,1.5 2,1.5 -1,1.5 -2.1,1.7 -3,1.1 -1.5,1.5 -.7,3.2 -1.3,1.5 -4,3.1 -1.5,.4 -3,.1 -7.5-3.5 -1.5,.1 -6,2.9 -4.5,3.1 -1.5,.1 -4.5-1.6 -3,.8 -1.5,0 -3-1.2 -3-.4 -4.5,.7 -4.2-.1 -1.8-1.4 -1.5-.4 -6,.8 -6-.9 -10.5,1.3 -7.5,2.3 -4.5-.7 -1.5,.3 0-26.1 1.5-.5 3-2.6 1.5-.7 4.5-.1 6,1.1 6-1.6 2,2.2 4,1.3 6-.1 6,.7 4.5-.1 4.5-1.1zM661.2,263.6l1.5,.3 3.3,3 0,6.7 -1.8,.2 -1.5-.6 -.7-2.4 -1.8-3 0-1.5zM664.2,297.3l1.8-.8 0,21 -3.3-1.3 -3,1.9 -.8-2.3 -1-3 -1.2-.8 -3,0 -1.4-.7 .1-1.5 1.3-2.1 1.5-.2 .6-.7 .3-3 .7-1.5 1.4-1 4-.5zM625.2,306.2l1.5-.2 .8,.8 1.2,3 0,1.5 -1.5,4.5 -.1,1.5 1.1,.8 3-.1 2.7,.8 3.6,3 .1,1.5 -1.9,2.2 -1.5,.9 -4.5,.8 -3-.6 -1.5,1.1 -.4,1.6 .6,1.5 2.8,3 0,3 1,3 2,1.8 3,.3 1.5-.6 3.5-3 2.5-3 1.5-.2 .7,.2 .7,1.5 -1.4,1.5 -2.7,1.5 2.7,.5 1.1,1 1.9,3.4 1.6-1.9 .7-3 .7-.2 1.5,1 .7,2.2 .3,1.5 -.8,1.5 -1.7,.6 -3,0 -1.7,2.6 -11.8,0 -11.2,0 -2-3.2 -1.1-4.5 .8-2 1.8-1 .3-1.5 -5.1-.7 -4.3,2.2 -1.4,1.5 -.3,1.5 .9,4.5 2.9,3.2 -18,0 -.6-6.2 3-4.5 .7-3 2.1-.8 4.5-.4 5.4-3.3 1.9-3 1.1-4.5 1.2-1.5 2.2-1.5 -.8-3 .5-1.5 3.5-.8 3,.7 1.1-4.4 -.3-3zM626.5,323.3l-.4,1.5 .6,.8 .4-.8 .1-1.5zM620.9,341.3l-.3,1.5 3.1,1.6 .5-.1 .1-1.5 -2.1-2.9zM577.2,317.1l1.5,.5 1.5,1.7 2.9,7 .1,4.4 -1.3,3.1 1.4,3 -.9,1.5 -1.9,1.5 -1.8,.4 -1.9,1.1 -2.6,.4 -3-.8 -1.5,.7 -1.5,2.3 -1.5,.8 -1.5,0 -.3-.4 -1.1-3 -1-1.5 -.4-1.5 .7-1.5 3.6-1.1 4.5-3 3,.3 1.5-.8 1.2-1.4 -.3-1.5 -3.9-3.4 -1.5-1.1 -3-1 -.2-2 3.2-.7 4.5-3.6zM656.7,321.2l1.5-.2 3,2.2 3,1 1.8-.1 0,2.2 -1.8,.5 -3,1.4 -3-4.1 -1.5,.2 -1.2-1 .2-1.5zM556.2,348.5l3-.8 1,1.3 -1,0 -3.5,0z" fill="#E44D2A" stroke="#E44D2A" stroke-width="0.6"/>
<path d="M263.7,47.2l.6-1.4 5.1,0 .6,3 2.7,5.5 1.5,.9 3-.3 1.5,.6 .3,.8 -.7,1.5 -2.6,1.3 -2,3.2 -.4,1.5 .3,4.5 -.7,3 .7,3 5.1,9.9 1.5,.6 1.5-1 3-3.9 1.5-4.1 2.1-3 .1-1.5 -.6-1.5 1.4-1.7 2.4,4.7 6.4,4.5 3.2,3.9 1.5,.6 1.5-.4 3-1.9 1.5-.2 4.5,1.6 3,3.2 1.5,.7 1.5-.2 1.3-1.3 1.3-3 1.9-1.6 3-.8 3,.6 1.5-1.2 1.7-6 1.5-3 -.2-1.5 -1-1.5 -.1-1.5 2.4-6 3.2-5 3.5-4 2.6-1.5 1.3-1.5 7.5,0 1.6,1.8 1.5,.1 1.4-1.9 117.6,0 -.5,2.1 -2.2,.9 -.5,1.5 2.2,1.5 -.1,4.5 -.9,1.4 -4.5,.3 -1.5,1 -1.5,.1 -4.6-2.8 1.9-3 -3.3-1.3 -3,.9 -.6,.4 -.9,2.4 -1.5,1.7 -.4,3.4 -2.1,4.5 -2.7,3 -.8,1.6 -1.5,.3 -2.7-1.9 -1.4-1.5 -.6-3 -1.3-.8 -1.5-.1 -1.7,3.9 1.4,3 -1.2,1.8 -1.5-.7 -.9-1.1 .1-1.5 -.7-.8 -1.5-.2 -3-2 -1.5-.3 -1.5,.8 -3,3.5 -6,1 -1.5,.8 -2.4,7.7 -.2,3 -1.8,3 -3.1,4.5 -3-2.6 -1.5-.4 -1.5-.1 -1.5,1.1 -1.5,6.5 -.8,1.5 -6.9,6 -.6,1.5 .1,4.5 -2.4,1.5 .4,3 -4.8,2.3 -3,2.6 -1.5,.1 -6-1.7 -.5,1.2 .2,1.5 -1.2,1.3 -1.3,3.2 4.3,1.4 1.9,1.6 .8,1.5 -4.7,3 -1.7,4.5 -2.3,3 -1.5,.4 -.8-.4 -1.2-1.5 .1-1.5 1.2-3 3.7-.6 1.2-.9 0-1.5 -2.5-3 -.4-3 -3-3 -.8-3 -2-1.8 -1.5-.7 -3-.1 -1.5-.6 -.5,4.7 -1,1.2 -1.5-.2 -2.5-2.5 .2-1.5 2.3-2.8 1.5-.2 .6-1.5 2.4-2.7 3.1-1.8 .6-1.5 -.4-1.5 -1.8-1.5 -1.5,.9 -3,4 -.5,1.1 -.2,3 -.8,1.2 -1.5-.4 -6,1.1 -3,4 -1.5,.7 -8,.9 -1.2,3 -1.3,1.6 -.9,4.4 -3.2,3 -1.9,2.9 -1.5,1.2 -3,.9 -3,.2 -4.5,1.5 -1.2,.8 .8,3 -1.1,.6 -3-2 -1.5,.6 -1.5,0 -4.5-1.5 -3-.3 -2.2,1.1 -1.7,1.5 .8,6 -1.4,1.1 -1.1-1.1 -.5-4.5 -1.4-1.5 -4.5-1.2 -3.3-.3 -.9-1.5 1.7-7.5 .1-3 2-4.5 -.1-3 -1-3 -.1-1.5 .9-3 -.6-3 -1.7-.7 -1.5,0 -1.5,.7 -1.2,4.5 .2,4.5 -.5,1.5 -1.5-.5 -1.5-1.3 -3-.7 -1.7-2 -4.3-2.2 -2.1-3.8 0-4.5 -1.2-6 -3.7-6 .1-1.5 2.2-4.5 0-1.5 -1.1-4.5 -2.6-4.5 -.2-1.5 2.4-6 .1-1.5 -.8-3 1.7-4.5 -.9-6zM434.1,54.8l-.6,1.5 1.2,2 1.5-.2 1.5-1.5 .2-1.8 -1.7-1.1zM332.5,96.8l-1.3,1.5 0,1.9 1.5,.6 1.6-1 1.5-1.5 .2-1.5 -1.8-.5zM637.2,46.5l.4-.7 28.4,0 0,59.5 -1.8,.7 -.5,2.8 -1,1 -3,.6 -2.8,1.4 -2.6,3 -.3,1.5 .3,1.5 -1.6,4.5 .1,4.5 -2.1,4.6 -1.5,.1 -1.5-.5 -3-4 -2.2-.2 .6-3 0-3 -2.9-6.1 -1.5,.2 -.1,1.4 -8.9,8.9 -1.5,0 -3-1.2 -3,.5 -1.3,.8 -1.1,3 -2.1,1.5 -3,.5 -3-.6 -2.8,3.1 -3.2,2.1 -1.5,0 -3-1.2 -7.5,1.8 -7.5-.8 -1.3,1.1 -3.2,1 -1.5-.5 -4.5-3.8 -3-1.1 -1.5,.1 -1.7,1.3 -2.8,3.3 -3,1.5 -7.5-3.1 -3-1.7 -1.5-.1 -1.8,3.1 -1.2,.5 -3-1.6 -4.5-.3 -6,1.3 -4.5,.1 -3,2.5 -6,2.6 -3-1.2 -3,2.3 -1.5,.4 -1.5-.6 -1.2-1.5 -.9-1.5 -.9-3.1 -1.5-.9 -1.5,.1 -4.5,2.4 -1.2,1.5 -1.2,3 -3.2,3 -.4,3.3 -3,2.1 -.5-.9 .1-3 -2.6-4.5 -1.5-.1 -1.2,1.6 -.1,1.5 .9,4.5 1.9,1.2 1.5-.3 1,.6 .5,1.5 1.3,1.5 4.7,2.8 1.5,.1 4.5-1 1.5,.2 3.2,2.4 0,1.5 -1.7,1.6 -.6,1.4 -.1,1.5 .7,1.1 3,.1 3-.9 6-6.3 1.5-.4 1.4,.4 2,4.5 2.2,3 1.9,1.4 1.5,.2 1.9-1.6 .2-1.5 .9-.5 2.4,3.5 3,3 .4,1.5 -.3,3 .5,.8 1.5,.8 4.7-.1 1.3,.8 2.4,3.7 2.1,1.1 3-1.3 1.5,.3 3,1.7 1.5,0 6-2.2 1.5,.3 4.5,2.6 9,2.4 4.5,3.2 1.5,.2 3-2.8 1.5-.9 1.5,0 6-2.5 4.5-.1 3,2.9 1.5,.1 3-1.4 .8,.9 -2.3,2.7 0,2.3 1.5,.9 3-.7 4.5,.5 4.5-2.5 5.8,4.3 .3,3 .6,1.5 6.8,3.7 1.5,0 3-1.9 3-.2 3-1.9 1.5-.1 3,.7 3,2.2 3,.3 3-1.2 3-2.8 1.8-.8 0,10.6 -2.1,.4 -1.2,1.5 -1.2,3 -1.8,.6 -1.5-.1 -3-1.9 -1.5,0 -4.5,2.2 -4.5,1.1 -4.5-.6 -3,1.8 -2.1-1.6 -.2-3 -.7-1.8 -1.5-.2 -3,3.6 -9,1 -1.5-.2 -3-3.2 -1.5-1 -4.5-1.4 -3,.6 -2.4-.4 -5.1-4.4 -6,.3 -4.5-1.2 -4.5,1.7 -3,.1 -1.5-.8 -1-1.7 .5-4.5 -1-1 -2.5,1 -2,2 -1.5,.6 -1.5-.1 -3-.7 -3-2.1 -3,.9 -1.5-.2 -.5-1.9 .3-1.5 -1.3-1.5 -1.5-.2 -4.5,1.9 -4.5-1.3 -1.5,0 -3,.8 -1.5-.2 -6-1.8 -3-.1 -4.5,1 -4.5-1.7 -3.5,1.6 -.9,1.5 .8,7.5 -.9,1.1 -3,1.2 -4.5,2.8 -1.5,0 -3-1.1 -1-1 .2-1.5 1.6-4.5 2.5-3 0-4.5 -1-1.5 -3.8-2.6 -3-.7 -1.1,.3 -1.9,2.2 -1.7-.7 -2.8-1.7 -3-5 -1.5-.5 -3,1.1 -1.5-.5 -1.5-1.7 -3-.7 -2.1-1.5 -1.1-4.5 -1.3-.9 -10.5-3.6 -1.3-1.5 -.8-3 -.9-.7 -4.5,.3 -2.1-1.1 -1-1.5 -.1-4.5 -.7-1.5 -5.1-6 -1-1.5 -.2-1.5 1.2-1.2 3-.7 1.1-1.1 1.9-4.5 .4-1.5 -.2-1.5 -2.8-3 -1.9-.6 -4.5,1.8 -.7-1.2 .2-1.5 2.1-1.5 .8-1.5 -.2-1.5 -2.2-3 -3.6-1.5 -1.3-1.5 1.2-3 .7-.9 1.4-.6 7.6,.9 6-.5 3-1.4 3-2.8 3-1.5 4.5,1.2 6-.8 6,.8 1.5-.8 1.8-2.6 1.2-.8 1.5-.3 3,.4 3-1.8 1.5,.2 4.5,4.4 1.4,5.4 1.5,1.5 3.1,.3 1.5,.7 3,4.5 12,5.7 7.5,.2 7.5-2.9 4.5-3 1.5,.8 1.5,.2 4.5-.3 9,.9 7.5-3.3 3,1.2 3,1.9 1.5,.2 3-1.8 7.5,.1 3-1.7 1.5-.3 3,1.1 3,.1 1.4-1.6 0-1.5 -1.3-1.5 -3.8-1.5 -1-1.5 1.6-3 0-3 1.3-4.5 1.8-2 3-1.9 3.4-5.1 .3-1.5 -.6-3 1.2-1.5 .2-3 1.6,0 1.6,3 1.2,4.5 1.6,3.4 1.5-.4 .5-3 1-1.7 .6-2.8 .9-1.3 1.5-.7 1.5,.5 2.9,9 -2.1,1.5 -.5,1.5 1.2,2 1.5-.4 .9-4.6 2.3-1.5 4.4-1.5 .2-3 1.2-1.5 4.1-1.5 2.5-3 .1-1.5 -.9-3 2.2-6 2.5-.9 10.5-.4 1.5-1.2 0-2 -1.5-.7 -9,.1 -1.5-.4 -2.1-2 -.3-1.5 2.1-3 0-3 1.8-1.5 .8-1.5 -.8-2 -1.5-1.3 -3,1.4 -1.5-.1 -1-2.5 .1-1.5zM482.7,134.3l-3.4,3 -.4,3 .8,2.6 1.5,1.3 1.5-.1 .8-.8 -.8-4.5 1.5-1.2 1.5-.4 1.1-1.4 -1.1-1.9 -1.5-1zM322.2,58.5l3-.6 .8,1.4 -.3,3 -1.6,6 -.4,.9 -1.5,.9 -1.5,.1 -1.5-.9 -1.2-2.5 .3-1.5zM494.7,68.2l1.5,.1 1.4,1.5 .1,1.7 -1.5,.6 -1.5-.2 -.5-.6 -.5-1.5zM110.7,80.2l4.5,1.3 3-.3 3,.5 4.5-.7 6,.4 4.5-.4 4.5,2.5 6,5 .8,2.3 -.3,10.5 .9,9 -.7,4.5 .3,6 -.9,3 -3,3 -2.2,1.5 -2.4,.8 -3-.2 -4.5-.9 -1.5,0 -6,1.8 -3,.2 -13.5-1.5 -16.5,1.3 -6-.6 -27-.7 0-3.5 4.5,.7 7.5-.8 9,1.4 16.5,0 4.5-.6 3-1 3-.2 13.5,1.8 3-.1 4.5-1.5 7.5-.3 3,.9 3-1 1.3-2 .8-3 -.4-4.5 .5-4.5 .4-13.5 -.5-4.5 -.7-1.5 -2.9-2.2 -3-1.3 -3-.9 -4.5-.3 -2.8,.2 -3.2,1 -4.5,.2 -4.5,1.2 -10.5-1.7 -4.5,1.1 -7.5-.9 -6,.2 -4.5,.8 -3-.7 -3,0 -3,1.2 -3,.3 -7.5-1.6 -3-.2 0-4.8 13.5-.6 6,1.1 15-1.6 13.5,.1zM598.2,93.8l1.5,.2 0,1.8 -1.5,.6 -.5-1.1zM392.7,108.4l1.5-.2 1.5,.6 3.7,3 -.7,.5 -3.6-.5 -2.1-1.5 -.6-1.5zM446.7,134.1l.9,.2 -.9,1.9 -.9-.4zM527.7,196.7l1.5-.7 1.5,.6 .8,.7 -.8,1.5 -1.5,.8 -1.5-.2 -.6-.6zM548.7,196.6l1,.7 -1,1.2 -1.1-1.2z" fill="#D92B29" stroke="#D92B29" stroke-width="0.6"/>
<path d="M269.7,45.8l76.4,0 -1.3,1.5 -2.6,1.5 -3.5,4 -3.2,5 -2.4,6 .1,1.5 1,1.5 .2,1.5 -1.5,3 -1.7,6 -1.5,1.2 -4.5-.5 -3,1.9 -1.5,2.4 -.2,1 -1.3,1.3 -1.5,.2 -1.5-.7 -3-3.2 -4.5-1.6 -1.5,.2 -3,1.9 -1.5,.4 -1.5-.6 -3.2-3.9 -6.4-4.5 -2.4-4.7 -1.4,1.7 .6,1.5 -.1,1.5 -2.1,3 -1.5,4.1 -3,3.9 -1.5,1 -1.5-.6 -5.1-9.9 -.7-3 .7-3 -.3-4.5 .4-1.5 2-3.2 2.6-1.3 .7-1.5 -.3-.8 -1.5-.6 -3,.3 -1.5-.9 -2.7-5.5zM321.5,59.3l-1.2,3 -2,3 -.3,1.5 1.2,2.5 1.5,.9 2.2-.4 1.2-1.5 1.6-6 .3-3 -.8-1.4 -3,.6zM353.7,45.8l4.4,0 -1.4,1.9 -1.5-.1zM127.2,86l6,.4 4.3,1.4 4.6,3 .7,1.5 .5,4.5 -.4,13.5 -.5,4.5 .4,4.5 -1.6,4.5 -2,1.3 -1.5,.2 -4.5-.9 -6,.3 -4.5,1.5 -3,.1 -15-1.8 -6,1.5 -3,.3 -18,0 -7.5-1.4 -4.5,.7 -4.5,0 -3-.6 0-9 4.5-2.3 10.5-.1 1.5-2.1 3.5-2.7 .3-3 2.3-4.5 -1.8-1.5 -1.4-3 -1.2-1.5 -1.7-.6 -1.5,.4 -2.3,1.7 -.4,1.5 1.2,.9 1.1,2.1 -.3,1.5 -.8,.7 -4.5,1.7 -.5-.9 0-3 2-2.7 .9-.3 -.9-.6 -.4-.9 -2.6-1.2 -1.5-.1 -1.7,1.3 -.2,1.5 -1.1,.9 -1.5,.3 -1.5-.3 0-12 12,1.8 4.5-1.5 3,0 3,.7 4.5-.8 6-.2 7.5,.9 4.5-1.1 10.5,1.7 4.5-1.2 6-.4zM123.6,101.3l0,1.5 .6,.7 1.5,.5 1.6-1.2 -.4-1.5 -1.2-.8 -1.5,0zM93.7,104.3l-4,1.6 -1.6,1.4 -.4,1.5 .1,1.5 .7,1.5 2.7,2.3 1.5-.1 3-.9 1.3-1.3 1.4-3 -.1-1.5 -2.6-2.5 -1.5-.8zM133,111.8l.2,1.7 1.7,1.3 -.2-2.6 -1.5-1.2zM89.6,116.3l-1,3 0,1.5 4.1,1.3 1.5-.4 1-.9 -.6-3 -1.9-2.2 -1.5-.3zM110.5,116.3l-.4,1.5 .6,.7 4.5,1.3 1-.5 .6-1.5 -1.6-2.8 -3,1.6zM666,105.3l0,24.6 -1.8,.5 -1.2,.9 -.6,1.5 .3,.8 1,.7 2.3,.2 0,4 -1.8,1.1 -.7,3.7 .7,.8 1.8,.3 0,2 -1.8,.1 -1.5-1.7 -1.5-.1 -6,1.8 -1.4,1.3 -.6,1.5 .2,3 -.5,1.5 -2.2,1.1 -1.3-1.1 -.4-4.5 -1.3-1.8 -1.5-.2 -3,4.3 -3,1.2 -4.2,1 -1.2,1.5 .9,2.2 1.5-.2 1.5-.8 .6,.3 .9,.9 .6,2.1 3.9,2.4 .4,.6 -.4,1.5 -4.5,6 -4.5,.7 -1.5,1.3 -.5,1 1.5,4.5 -.3,3 1.5,0 .3-1.5 2.9-1.5 .6-3.7 1,.7 1,1.5 .8,3 1.7,.4 -1-3.4 1.6-1.5 .9-.3 1.5,.9 1.5,2.7 1.5,1.2 3-.2 6,1.9 1.2,1.3 5.1,3 0,10 -1.8,.8 -4.5,3.6 -3,.5 -1.5-.4 -3.7-2.5 -2.3-.4 -1.5,.1 -3,1.9 -3,.2 -3,1.9 -1.5,0 -6.8-3.7 -.6-1.5 -.3-3 -5.8-4.3 -4.5,2.5 -4.5-.5 -3,.7 -1.5-.9 0-2.3 2.3-2.7 -.8-.9 -3,1.4 -1.5-.1 -3-2.9 -4.5,.1 -6,2.5 -1.5,0 -1.5,.9 -3,2.8 -1.5-.2 -4.5-3.2 -9-2.4 -4.5-2.6 -1.5-.3 -6,2.2 -1.5,0 -3-1.7 -1.5-.3 -3,1.3 -2.1-1.1 -2.4-3.7 -1.5-.9 -1.5-.1 -3,.3 -1.5-.8 -.5-.8 .3-3 -.4-1.5 -3-3 -2.4-3.5 -.9,.5 -.2,1.5 -1.7,1.5 -1.7-.1 -1.9-1.4 -2.2-3 -1.9-4.4 -1.5-.5 -1.6,.4 -5.9,6.3 -3,.9 -3-.1 -.7-1.1 .1-1.5 .6-1.4 1.7-1.6 0-1.5 -1.7-1.6 -3-1 -4.5,1 -1.5-.1 -4.7-2.8 -1.3-1.5 -.5-1.5 -1-.6 -1.5,.3 -1.5-.7 -1.3-5 .1-1.5 1.2-1.6 1.5,.1 1.9,3 .7,1.5 -.1,3 .5,.9 3-2.1 .4-3.3 3.2-3 1.2-3 1.2-1.5 4.5-2.4 1.5-.1 1.5,.9 .9,3.1 .9,1.5 1.2,1.5 1.5,.6 1.5-.4 3-2.3 3,1.2 6-2.6 3-2.5 4.5-.1 6-1.3 4.5,.3 3,1.6 1.2-.5 1.8-3.1 1.5,.1 3,1.7 7.5,3.1 3-1.5 2.8-3.3 1.7-1.3 1.5-.1 3,1.1 4.5,3.8 1.5,.5 3.2-1 1.3-1.1 7.5,.8 7.5-1.8 3,1.2 1.5,0 3.2-2.1 2.8-3.1 3,.6 3-.5 2.1-1.5 1.1-3 1.3-.8 3-.5 3,1.2 1.5,0 8.9-8.9 .1-1.4 1.5-.2 2.9,6.1 0,3 -.6,3 2.2,.2 3,4 1.5,.5 1.5-.1 2.1-4.6 -.1-4.5 1.6-4.5 -.3-1.5 .3-1.5 2.6-3 2.8-1.4 3-.6 1-1 .5-2.8zM633.4,165.8l-.7,1.9 1.5,.6 1.5,0 .9-1 -.9-3 -1.5,.5zM482.7,134.3l1.5-1.4 1.5,1 1.1,1.9 -1.1,1.4 -1.5,.4 -1.5,1.2 .8,4.5 -.8,.8 -1.5,.1 -1.5-1.3 -.5-1.1 -.3-3 .8-1.9z" fill="#C61F27" stroke="#C61F27" stroke-width="0.6"/>
<path d="M73.2,95.1l1.5-.4 1.7,.6 1.2,1.5 1.4,3 1.8,1.5 -2.3,4.5 -.3,3 -3.5,2.7 -1.5,2.1 -10.5,.1 -4.5,2.3 0-5.7 0-11.1 1.5,.3 1.5-.3 1.1-.9 .2-1.5 1.7-1.3 1.5,.1 2.6,1.2 .4,.9 .9,.6 -.9,.3 -2,2.7 0,3 .5,.9 4.5-1.7 .8-.7 .3-1.5 -1.1-2.1 -1.2-.9 .4-1.5zM124.2,100.5l1.5,0 1.2,.8 .3,1.7 -1.5,1 -1.5-.5 -.6-.7 0-1.5zM94.2,104l1.5,.8 2.6,2.5 .1,1.5 -1.4,3 -1.3,1.3 -4.5,1 -3-2.8 -.5-2.5 .4-1.5 1.6-1.4zM133.2,111l1.5,1.2 .3,1.1 -.3,1.6 -1.6-1.6zM89.7,116.2l1.5-.9 1.5,.3 1.5,1.5 1,2.2 0,1.5 -1,.9 -1.5,.4 -1.5-.2 -2.6-1.1 0-1.5zM110.7,116.2l1.5,.4 3-1.6 1.5,2.4 0,.8 -.5,1.1 -1,.5 -4.5-1.3 -.6-.7zM664.2,130.4l1.8-.5 0,4.6 -1.8,0 -1.5-.9 -.3-.8 .6-1.5zM666,138.5l0,5.9 -1.8-.3 -.7-.8 .7-3.7zM661.2,144.7l1.5,.1 1.5,1.7 1.8-.1 0,38.9 -5.1-3 -1.2-1.3 -6-1.9 -3,.2 -1.5-1.2 -1.5-2.7 -1.5-.9 -.9,.3 -1.6,1.5 1,3.4 -1.7-.4 -.8-3 -1-1.5 -1-.7 -.6,3.7 -2.9,1.5 -.3,1.5 -1.5,0 .3-3 -1.5-4.5 .5-1 1.5-1.3 4.5-.7 4.5-6 .4-1.5 -.4-.6 -3.9-2.4 -.6-2.1 -.9-.9 -.6-.3 -1.5,.8 -1.5,.2 -.9-2.2 .9-1.2 7.5-2.5 3-4.3 1.5,.2 1.3,1.8 .4,4.5 1.3,1.1 1.5-.5 .7-.6 .5-1.5 -.2-3 .6-1.5 2.9-2zM634.2,164.8l1.5-.5 .9,3 -.9,1 -1.5,0 -1.7-1z" fill="#AE1A21" stroke="#AE1A21" stroke-width="0.6"/>
</g>
<path d="M656,349 657.7,339 658.7,334 660.4,342.5 661.7,349Z" fill="#FA9A2C" stroke="#000" stroke-width="1.4" stroke-linejoin="round"/>
<path d="M262.7,45.8 252.7,56.7 244.4,60 231.1,65 224.4,76.6 214.5,81.6 209.5,93.3 201.1,101.6 196.1,109.9 191.2,114.9 190.5,124.9 197.8,131.6 195.2,136.5 199.5,143.2 197.8,158.2 194.5,168.2 191.2,176.5 186.2,178.2 191.2,181.5 192.8,190 191.5,196 201.1,201 206.1,204.3 211.1,211 221.1,219.3 229.4,229.3 231.1,236 239.4,242.6 251.1,247.6 264.6,256.8 277.7,264.2 284.6,267.6 291.3,265.9 301.3,262.6 319.6,259.9 341.2,264.2 351.2,259.9 364.5,255.3 372.8,253.3 377.8,250.9 391.1,249.9 404.5,249.9 411.1,253.3 414.4,260.9 417.8,266.6 427.8,268.6 447.7,266.9 452.7,270.9 457.7,274.2 461,280.9 459.4,292.5 456,295.9 459.4,298.5 455,305.9 451.7,312.5 454.4,320.8 466,332.5 476,340.8 485,349" fill="none" stroke="#000" stroke-width="2.0" stroke-linejoin="round"/>
<path d="M493.9,183.1 498,182.3 502.1,182.8 504.5,185.4 505.6,188.4 509.1,189.5 516.5,189.5 515,193.6 510.3,195.1 505,197.5 502.1,195.6 500.9,193 498,190.7 496.3,187.2Z" fill="none" stroke="#000" stroke-width="1.7" stroke-linejoin="round"/>
<path d="M447.6,273.5 451.8,272.6 452.4,277.5 448.6,278.6Z" fill="none" stroke="#000" stroke-width="1.7" stroke-linejoin="round"/>
<path d="M190.9,60.2 198.8,57.6 196.6,62 194,63.4 191.4,61.1Z" fill="none" stroke="#000" stroke-width="1.7" stroke-linejoin="round"/>
<path d="M201.5,62.4 203.6,61.3 206.7,62.4 206.3,64.8 203.2,65.5 201.7,64Z" fill="none" stroke="#000" stroke-width="1.7" stroke-linejoin="round"/>
<path d="M217.2,60.6 219.4,58 222,54.5 224.7,52.8 226.4,52.8 226,54.9 223.4,55.8 222,58 222.7,60.2 219.9,61.5 217.5,62.6Z" fill="none" stroke="#000" stroke-width="1.7" stroke-linejoin="round"/>
</g></g>
<g id="pb">
<clipPath id="fb"><rect x="58.2" y="545.5" width="607.8" height="303.2"/></clipPath>
<g clip-path="url(#fb)">
<rect x="58.2" y="545.5" width="607.8" height="303.2" fill="#FFEEEE"/>
<path d="M275.8,708.6l1.6-.6 1.5,.7 .8,1.6 -3.8,4.8 -1.7,.5 -.7-3.7 .6-1.6zM491.8,732.5l1.6-.5 1.9,.7 .4,1.6 -.7,1.8 -1.6,.5 -1.7-.7 -1-1.6zM59.8,739.5l3.2,1.4 1.6,2.2 .6,2.4 -.6,3.2 -1.1,1.6 -2.1,1.3 -3.2,.3 0-12.3zM523.8,741.9l1.8,.4 -1.1,1.6 -1,0zM480.6,751.4l4.6,2.1 .2,1.6 -1.6,1.3 -1.6,.2 -1.7-1.5 -.9-1.6 .2-1.6zM456.6,780.4l2.5,1.9 -.7,4.8 -1.5,3.2 -.3,2.4 -3,2.4 -.8,3.2 3.8,4 1.2,2.4 .1,3.2 -1.3,2.6 -1.6,1.4 -6.4-.3 -3.2-2.1 -3.2,.7 -8-1.2 -1.6-.9 -1.2-1.8 .3-1.6 4.7-6.4 .2-1.6 -1.7-3.2 .7-1.6 3.4-1.1 1.6-1.4 2.8-3.9 .4-2 1.6-1.3 1.6,.1 3.2,6.3 1.6,1.1 1.6-.3 2.7-5.5zM427.8,796.1l3.2-.8 1,1.4 -2.3,3.2 -2.1,0 -.5-1.6zM415,810.9l3.2-1.3 0,1.6zM445.4,813.5l1.6,.8 4.7,9.6 -.2,1.6 -1.3,1.8 -1.6,.2 -3.2-1.4 -1.6,0 -3.2,.6 -1.8-1.2 1.8-3.2 0-4.8zM429.4,815.3l1.6,1.4 0,1.2 -2-.4 -.4-1.6zM410.2,817.2l1.6,.4 3,3.1 .2,1.6 -1.6,4.9 -1.6,1.3 -4.7-1.4 1.3-3.2 -.3-4.8zM415,844.3l3.2-.2 2.2,.6 .4,1.6 -.8,2.4 -1.8,0 -5.3,0 -.3-2.4 1.3-1.6zM426.2,846.1l1.6,2.6 -3,0 .8-2.4z" fill="#FF1919" stroke="#FF1919" stroke-width="0.6"/>
<path d="M338.2,691.1l1.6,1.3 0,2 -2-.1 -.5-1.6zM306.2,703.6l1.6-.7 .9,1 -.9,1.4 -1.6-.9zM275.8,707.9l1.6-.4 1.6,.5 1.2,2.3 -4.1,6.4 -1.9,.6 -.5-.6 -1.1-4.8 .5-1.6zM275.6,708.7l-1.5,1.6 -.6,1.6 .5,3.2 .2,.5 1.6-.2 1.3-1.9 2.6-3.2 -.7-1.5 -1.6-.8zM491.8,731.6l3.2,.1 1.1,1 -.3,3.2 -2.4,1.3 -2.7-1.3 -.9-1.6 .5-1.6zM491.5,732.7l-.8,1.6 1,1.6 1.7,.7 1.8-.7 .5-1.6 -.7-1.9 -1.6-.4zM59.8,738.8l3.9,1.9 1.3,1.6 .7,3.2 -1.3,4.8 -3,1.9 -3.2,.4 0-.7 1.6,.1 3.7-1.7 1.1-1.6 .6-3.2 -.6-2.4 -1.6-2.2 -1.6-1 -3.2-.3 0-.7zM523.8,741l1.6-.1 .9,1.4 -.4,1.6 -2.1,.6 -1.7-.6 .3-1.6zM523.4,742.3l.1,1.6 1.9-.8 0-1.1zM479,751.8l1.6-1 5.7,2.7 0,1.6 -2.1,1.6 -2,.4 -1.6-1.3 -1.4-2.3zM479.8,751.9l-.2,1.6 2.6,3.1 1.6-.2 1.6-1.3 -.2-1.6 -2.5-1.6 -2.1-.5zM511,773.8l1.7,.5 -.9,1.6 -1.7,0 -.6-1.6zM456.6,778l3.9,2.7 .5,1.6 -2.4,6.4 -.1,4.8 -1.7,3.2 -.1,1.6 2.7,3.2 -.1,1.6 -.6,4.8 -1.6,3.2 -2.1,2.1 -3.2,.3 -1.8,.8 .2,1.6 2.3,3.2 .3,4.8 -1,3.2 -1.6,1.6 -1.6,.4 -3.2-.9 -4.8,.1 -2.5-1.2 -1.7-1.6 -.1-1.6 1.7-1.6 .7-1.6 -.6-4.8 -2.3-2.9 -3.2-2.1 -2,.2 .1,1.6 2.4,4.8 -.8,1.6 -1.3,.8 -1.6-.3 -5.4-3.7 0-1.6 2.8-3.2 1.6-6.4 -2.7-6.4 -.7-3.2 1.2-1 4.8-1.2 3.2-2.5 4.8-1.3 2-2 1.2-3.7 1.6-1.6 3.2-.4 1.3,.9 1.9,3.5 1.6,.8 1.6-.6 1.1-2.1 .5-4.5zM456.4,780.7l-.3,3.2 -2.7,5.5 -1.6,.3 -1.6-1.1 -3.2-6.3 -1.6-.1 -1.6,1.3 -.4,2 -2.8,3.9 -1.6,1.4 -3.4,1.1 -.7,1.6 1.7,3.2 -.2,1.6 -4.7,6.4 -.3,1.6 .9,1.6 1.9,1.1 8,1.2 3.2-.7 3.2,2.1 4.8,.4 1.6-.1 1.6-1.4 1.3-2.6 -.1-3.2 -1.2-2.4 -3.8-4 .8-3.2 3-2.4 .3-2.4 1.5-3.2 .7-4.8zM427.3,796.7l-.2,1.6 .7,1.9 1.6,0 1.6-1.9 1-1.6 -1-1.4 -1.6,0zM444.1,814.3l-3.5,3.2 0,4.8 -1.8,3.2 1.8,1.2 4.8-.6 3.2,1.4 1.6-.2 1.3-1.8 .2-1.6 -4.7-9.6 -1.6-.8zM428.6,815.9l.8,2 1.9-.4 -1.9-2.2zM405.4,796.5l1.6,1 0,2.4 -1.6,.6 -.7-.6 -.3-1.6zM411.8,809.1l8-.8 .9,1.2 0,1.6 -.9,.9 -3.2,.5 -4.8-.6 -.7-.8zM414.7,811.1l3.8,0 -.3-1.5zM408.6,816.3l3.2,0 4.3,4.4 .1,1.6 -1.2,3.2 -.1,3.2 -1.5,.9 -1.6,.1 -4.8-.8 -4.8,.4 -.5-.6 4.7-4.8 .6-1.6 -.8-3.2zM409.6,817.5l-1.5,1.6 .3,4.8 -1.3,3.2 4.7,1.4 1.6-1.4 1.6-4.8 -.2-1.6 -3-3.1zM387.8,826.7l3.2-.4 1.9,.8 -.3,1.6 -1.4,1.6 -1.8,1 -1.6-1 -.8-1.6zM370.2,829.6l1.6,.8 .8,1.5 -.8,1.6 -1.6-.3 -.8-1.3zM458.2,842.8l.9,.3 .7,1.6 -1.6,2.3 -1.6,1.6 -.6-2.3zM413.4,844.3l4.8-.7 4.3,1.1 .3,1.6 -1.7,2.4 -1.1,0 .8-2.4 -.4-1.6 -.6-.2 -3.2-.4 -2.7,.6 -1.3,1.6 .3,2.4 -1.2,0 -.1-2.4zM424.6,844.9l1.6,0 1.6,1.1 1.1,2.7 -.9,0 -1.5-2.4 -.9,0 -.8,2.4 -1.3,0 -.4-2.4zM451.8,847.7l3.2,.4 1.5,.6 -1.5,0 -3.8,0z" fill="#FF3030" stroke="#FF3030" stroke-width="0.6"/>
<path d="M338.2,689.8l1.6,.6 .8,2.3 .2,1.6 -1,.9 -1.6,.1 -1.5-2.6zM338.2,691.1l-.9,1.6 .5,1.6 .4,.4 1.7-.4 -.1-1.9zM474.2,692.5l1.8,.2 .4,1.6 -.6,1.8 -1.6-.3 -.8-1.5zM447,700.6l1.6-1.2 1.6,.7 0,2.2 -1.6,.4zM293.4,701.2l2.7,1.1 -1.1,1.3 -1.6,0 -1.3-1.3zM307.8,701.9l1.8,.4 -.2,2.2 -1.6,2 -1.6-.3 -1.3-2.3 1.3-1.4zM305.9,703.9l1.9,1.4 .9-1.4 -.9-1zM277.4,706.4l2.9,2.3 .4,1.6 -4.9,8 -.6,0 -1,0 -1.2-1.6 -1.4-4.8 .3-1.6 2.3-2.2zM274.7,708.7l-1.6,1.6 -.5,1.6 .6,3.2 1,2.2 1.6-.2 .9-2 3.5-4.8 -1.2-2.3 -1.6-.5zM531.8,716.3l2,.4 -.1,1.6 -1.9,1.6 -1.6-.1 -.7-1.5zM555.8,718.3l.9,1.6 -.2,1.6 -2.3,2.3 -1.1-.7 -.6-1.6 .7-1.6 1-1.2zM538.2,729l1.6,0 0,2.4 -1.6,.9 -.6-1.2zM491.8,730.7l3.2,.2 1.9,1.8 -.5,3.2 -1.6,1.6 -3.1,0 -2.1-1.6 -.7-1.6 .3-1.6zM490.3,732.7l-.5,1.6 .9,1.6 2.7,1.3 1.6-.4 1.3-2.5 -.2-1.6 -1.1-1 -3.2-.1zM59.8,738.2l2.7,.9 2.2,1.6 1.5,3.2 0,3.2 -1.1,3.2 -1.7,1.6 -3.6,1.3 -1.6,0 0-.6 4.8-1.1 1.6-1.6 1-2.8 -.1-3.2 -.9-2.2 -3.2-2.5 -3.2-.3 0-.6zM523.8,740.2l1.6-.2 1,.7 .6,1.6 -.4,1.6 -2.8,1.2 -2.7-1.2 .5-1.6zM522.4,742.3l-.2,1.7 1.6,.5 1.6-.2 .9-2 -.9-1.4 -1.6,.1zM480.6,750.3l7.1,3.2 -.3,1.6 -2.3,1.6 -2.9,1 -2.6-2.6 -1.1-3.2 .5-1zM479,751.9l1.1,3.2 2.1,2 1.6-.2 1.6-1.1 .9-.7 0-1.6 -5.7-2.7zM509.4,773.3l3.2-.1 1.1,1.1 -1.1,1.9 -1.6,.5 -2.3-.8 -.8-1.6zM509.5,774.3l.6,1.6 .9,.3 1.6-1.7 -1.6-.7zM455,777l1.6-.8 1.6,1.8 3.2,1.5 .9,1.2 -2.5,6.4 -.4,3.2 .2,6.4 1.8,4.1 .1,2.3 -1.6,3.2 -.7,3.2 -3.5,4.8 -.4,1.6 .5,3.2 -2.1,6.4 -1.9,3.7 -6.4,6.9 -6.4,2.3 -1.8-1.7 .8-1.6 2.2-1.6 .7-1.6 -.5-1.6 -4.6-2.8 -3.2-.7 -1.5-1.3 -.3-3.2 -3-1.4 -1.7-.2 -.3,1.6 1.7,3.2 -.8,1.6 -3.7-.1 -1.6-1 -.4-2.1 .7-3.2 -.8-1.6 .1-3.2 -.7-1.6 -3.7-.3 -2.7,.3 -.3,1.6 3.8,3.2 .9,1.6 -1.6,4.8 .5,3.2 -.6,1.6 -1.6,.8 -8-.8 -6.4,2.5 -1.6-.6 -1.6-1.9 -1.6-.8 -1.6,.6 -3.2,3.6 -1.6,.2 -4.2-3.6 .4-3.2 2.2-1.8 3.9-1.4 2.5-2 3.2,.6 2.4,3 2.4-.2 1.6-2.4 -.9-3.8 2.4-6.4 3.3-2.4 1.6-2.4 1.6-1 3.2,.3 4.8-1.5 1.7,.6 1.5,2.5 1.6-1.2 .7-4.5 -.6-3.2 -1.7-2.2 -3.2-.9 -2.4-1.7 -.6-1.6 1.4-2.8 3.2-.6 6.4,1.4 1.6-.5 3.1-2.3 6.5-2 2-4.4 4.4-1.8 2.3,.2 4.1,3.1 1.6-1zM455.1,779.1l-.6,4.8 -1.1,2.1 -1.6,.6 -1.6-.8 -1.9-3.5 -1.3-.9 -3.2,.4 -1.6,1.6 -1.2,3.7 -2,2 -4.8,1.3 -3.2,2.5 -4.8,1.2 -1.2,1 .7,3.2 2.7,6.4 -1.6,6.4 -2.8,3.2 0,1.6 5.4,3.7 1.6,.3 1.3-.8 .8-1.6 -2.4-4.8 -.1-1.6 2.6,0 2.6,1.9 2.3,2.9 .6,4.8 -.7,1.6 -1.7,1.6 .1,1.6 1.7,1.6 2.5,1.2 4.8-.1 3.2,.9 1.6-.4 1.6-1.6 1-3.2 -.3-4.8 -2.3-3.2 -.2-1.6 1.8-.8 3.2-.3 3.2-3.7 1.2-8 -2.7-3.2 .1-1.6 1.7-3.2 .1-4.8 2.4-6.4 -.5-1.6 -3.9-2.7zM411.3,809.5l-.2,1.6 2.3,1.3 4.8,.1 2.5-1.4 0-1.6 -.9-1.2 -6.4,.4zM407,817.5l-.8,1.6 .8,3.2 -.6,1.6 -4.7,4.8 .5,.6 6.4-.3 4.8,.6 1.5-.9 1.2-8 -4.3-4.4 -3.2,0zM387.3,827.1l-.3,1.6 .8,1.6 1.6,1 3.2-2.6 .3-1.6 -1.9-.8 -1.6,0zM405.4,794l1.6,.3 1.9,2.4 .6,3.2 -1.1,1.6 -5.9,4.8 -1.9,.6 -.3-2.2 1.7-3.2 .9-4.8zM405.2,796.7l-.8,1.6 .3,1.6 .7,.6 1.6-.6 0-2.4zM391,802.7l1.6,.2 .4,1.8 2.9,1.6 1,1.6 -5.4,3.2 -.5,1.6 .5,1.6 1.4,1.6 .1,1.6 -3.6,2.3 -3-.7 -.9-1.6 1.6-3.2 -.3-1.6 -2.3-3.2 .1-1.4 3.6-1.8zM367,816.7l1.6-.1 .9,.9 -.2,1.6 -.7,.8 -1.8-.8 -.6-1.6zM370.2,827.3l1.6,.7 3.2,3.9 -.2,1.6 -3,1.7 -1.6-.4 -1.9-2.9 .3-2.3zM369.7,830.3l-.3,1.6 .8,1.3 1.7,.3 .7-1.6 -.8-1.5 -1.6-.8zM429.4,827.2l1.6,.1 1.5,3 .2,1.6 -1.6,1.6 -1.7-.2 -.9-1.4 -.1-3.2zM378.2,831.8l2.4,.1 .4,1.6 -1.2,.2 -1.2-.2 -.9-1.6zM458.2,841l1.9,.5 1.5,3.2 3,2.4 .7,1.6 -8.8,0 -1.5-.6 -3.2-.4 -.6,1 -2.5,0 1.5-4.4 4.8,.4zM457.9,843.1l-1.9,3.2 .6,2.3 2.1-2.3 1.1-1.7 -.7-1.5zM411.8,844.7l4.8-1.5 8,.4 3.2,1.4 2.2,3.7 -1.1,0 -.9-2.4 -1.8-1.4 -1.6,0 -1.5,1.4 .4,2.4 -2.4,0 1.7-2.4 -.3-1.6 -2.7-.9 -4.8,0 -2.3,.9 -1.1,1.6 .1,2.4 -.9,0 .1-2.4z" fill="#FF4848" stroke="#FF4848" stroke-width="0.6"/>
<path d="M239,681.1l1.9,.4 -.3,1.5 -1.6-.2 -1.2-1.3zM304.6,684.4l1.9,.3 .5,1.6 -.8,1.3 -1.6,.1 -1.1-1.4zM339.8,687.3l1.9,7 -1.7,1.6 -1.8,0 -1.6-1.5 -.3-1.7 1.9-4.5zM337.4,691.1l-.7,1.6 1.5,2.6 1.6-.1 1-.9 -1-3.9 -1.6-.6zM295,689.2l1.6-1.3 1,1.6 -1,.9 -1.6-.6zM325.4,690.8l.4,1.9 -.4,.8 -1.6-.8 .5-1.6zM389.4,691.1l2.8,1.6 -2.8,1.5 -1.6-.1 -1.7-1.4zM666,690.4l0,5.7 -.8-.2 -.6-3.2 .3-1.6zM474.2,691.8l1.6-.1 1,1 0,3.2 -1,1 -1.6-.4 -1.5-2.2 .4-1.6zM474,692.7l-.6,1.6 .8,1.5 1.8,.1 .4-1.6 -.4-1.6zM648.6,694.2l1.6,.4 .8,1.3 -.7,1.6 -1.7,.7 -2.5-.7 -3.7-1.6zM242.2,695.8l1.6-1.4 2,4.7 -.4,1.7 -1.6,.7 -1.6-1.7zM448.6,698.5l1.6,.2 .8,2 -.8,2.5 -1.6,.1 -2.7-2.6 1.1-1.5zM446.9,700.7l1.7,2 1.6-.4 0-2.2 -1.6-.7zM291.8,700.3l3.2,.3 1.6,.8 .6,.9 -.9,1.6 -1.3,.6 -2.5-.6 -1.3-1.6 -.2-1.6zM292.1,702.3l1.3,1.3 1.6,0 1.1-1.3 -2.7-1.1zM306.2,701.8l3.2-.6 1,1.1 -1,3.6 -1.6,1.9 -1.6-.2 -2.4-3.7 1.1-1.6zM306.5,702.3l-1.6,1.6 .8,1.6 2.1,1 .9-1 .9-1.6 0-1.6zM277.4,703.1l3.7,5.6 .3,1.6 -3.3,4.8 -1.3,3.2 -1,.9 -1.6-.2 -1.9-2.3 -1.8-6.4 5.4-4.8zM276,707.1l-4.1,3.2 -.3,1.6 1.4,4.8 1.2,1.6 1.6,0 4.9-8 -.4-1.6 -1.3-1.5 -1.6-.8zM247,708l1.3,.7 .1,1.6 -1.4,.6 -.5-.6zM469.4,716.4l1.6-1.1 1.3,1.4 .3,1.8 -1.6,.9 -1.6-.4 -.7-.7zM530.2,716.2l1.6-.9 1.6,0 1.4,1.4 -.1,1.6 -1.2,1.6 -1.7,.9 -1.6,0 -1.6-.9 -.4-1.6zM531,716.7l-1.5,1.6 .7,1.5 1.6,.1 1.6-1.1 0-2.5zM555.8,716.2l2.4,3.7 -1.8,3.2 -2.2,1.8 -1.6-1 -.9-2.4 .9-2.2zM555.7,718.3l-1.5,.4 -1.7,2.8 .6,1.6 1.1,.7 2.3-2.3 .2-1.6zM296.6,717.6l1.6-.2 .5,.9 -1.6,3.2 -.5,.5 -1-.5 -.4-1.6zM355.8,724.7l1.6-.9 2.1,.9 .5,1.6 -2.1,1.6 -2.1-.8 -.4-.8zM363.8,727.3l3.3,.6 -1.7,2.2 -1.6,1.5 -1.5-2.1 -.1-1.6zM538.2,727.8l1.6,0 1.1,1.7 -1.1,3.1 -1.6,1.4 -1.5-1.3 -.2-1.6 .3-1.6zM537.7,729.5l.5,2.8 1.8-1.2 -.2-2.1 -1.6,0zM490.2,729.2l1.6,0 5,1.9 .9,1.6 -.3,1.6 -.8,2.3 -1.6,1.6 -3.2,.2 -1.6-.7 -1.5-1.8 -.7-1.6 .2-1.6zM491,731.1l-1.8,1.6 -.3,1.6 .7,1.6 2.2,1.7 3.2-.1 1.4-1.6 .2-3.7 -1.2-1.1 -2-.5zM59.8,737.5l3.2,1.1 2.5,2.1 1.3,3.2 0,3.2 -1,3.2 -1.4,1.6 -4.6,1.9 -1.6,0 0-.6 3.2-.4 2-.9 1.7-1.6 1.1-3.2 0-3.2 -1.5-3.2 -3.3-2.2 -3.2-.2 0-.7zM522.2,740.5l3.2-1.3 1.6,.5 .5,1 -.3,3.2 -2.9,1.6 -2.4,0 -1.8-1.6zM523.1,740.7l-1.5,1.6 -.5,1.6 1.1,.9 3.2,0 1.2-.9 .4-1.6 -.6-1.6 -1-.7zM490.2,746.2l1.6-.2 1.2,2.7 -1.2,3 -2.9,3.4 -5.1,2.9 -1.6,.2 -3-3.1 -1.1-3.2 .9-1.8 1.6-.4 4.8,2 2,.2 1.2-1.1zM480.5,750.3l-1.5,.6 -.5,1 .2,1.6 1.9,2.8 1.6,1.4 3.2-1.3 2-1.3 .3-1.6zM506.2,751.5l0,2.4 -1.3-.4 -.1-1.6zM515.8,771.1l0,1.6 -3.2,4.1 -3.2,.3 -1.8-1.2 -1.5-1.6 .1-1.7 8-.4zM507.9,774.3l1.5,2 1.6,.4 2-.8 .7-1.6 -1.1-1.1 -3.2,.1zM455,774.3l1.6-.3 2.6,3.5 4,1.6 -.2,2.9 -1.9,3.5 -.7,3.2 .7,8 1.8,6.4 -1.6,3.2 -.6,3.2 -3.5,4.8 -.1,1.6 1.2,3.2 -3.3,8 -1.2,9.6 -2.7,1.6 -.6,1.6 2.9,2.4 1.6-.4 1.6-3 3.2,.2 1.6,1.1 1.6,3.2 2.7,2.9 .8,2.4 -1.2,0 -.7-1.6 -3-2.4 -1.5-3.2 -1.9-.5 -3.2,3.7 -4.8-.4 -1.5,4.4 -1.4,0 2.7-8.8 -1.4-1.2 -3.2-.1 -6.4,1.9 -3.3-2.2 -1.7-3.2 -4.6-.2 -1.6-1.4 -1.6-3.8 -1.6-.9 -3.6-.1 -2.8,3.5 -1.6,.9 -9.6-.4 -4.8,1.3 -3.2,.4 -3.2-2.1 -1.6,.5 -3.2,3.5 -4.8-2.3 -1.6,.1 -3.2,2.1 -4.8-1.3 -4.8,2.1 -1.6-.5 -2.4-3 -.3-1.6 .7-4.8 .4-1.4 1.6-1.6 3,1.4 1.8,3.7 6.4,.4 1.6-.6 1.8-3.5 3-1.9 .8-1.3 -5.1-3.2 0-1.6 1.6-3.2 -.1-1.6 -1.8-3.2 -.2-1.6 1.6-2.6 6.4-4.1 1.6-.3 3.2,3.1 1.6,0 3.2-4 1.3-4.9 3.5-3.4 6.4,4.1 1.6-.6 3.2-4.9 1.6-1.3 9.6-.6 3.2-1.8 4.8-.9 1.6-.8 3.2-3.9 3.2-1.1 3.2-.4 4.8,1.4zM454.7,777.5l-1.3,5.3 -1.6,1 -4.1-3.1 -2.3-.2 -4.4,1.8 -2,4.4 -6.5,2 -3.1,2.3 -1.6,.5 -6.4-1.4 -3.2,.6 -1.4,2.8 .6,1.6 2.4,1.7 3.2,.9 1.7,2.2 .6,3.2 -.7,4.5 -1.6,1.2 -1.5-2.5 -1.7-.6 -4.8,1.5 -3.2-.3 -1.6,1 -1.6,2.4 -3.3,2.4 -2.4,6.4 .9,3.8 -1.6,2.4 -2.4,.2 -2.4-3 -3.2-.6 -2.5,2 -3.9,1.4 -2.2,1.8 -.4,3.2 4.2,3.6 1.6-.2 3.2-3.6 1.6-.6 1.6,.8 1.6,1.9 1.6,.6 6.4-2.5 6.4,.8 3.2-.8 .6-1.6 -.5-3.2 1.6-4.8 -.9-1.6 -3.8-3.2 .3-1.6 2.7-.3 3.7,.3 .7,1.6 -.1,3.2 .8,1.6 -.7,3.2 .4,2.1 1.6,1 3.7,.1 .8-1.6 -1.7-3.2 .3-1.6 1.7,.2 3,1.4 .3,3.2 1.5,1.3 3.2,.7 4.6,2.8 .5,1.6 -.7,1.6 -2.2,1.6 -.8,1.6 1.8,1.7 6.4-2.3 6.4-6.9 1.9-3.7 2.1-6.4 -.5-3.2 .4-1.6 3.5-4.8 .7-3.2 1.6-3.2 -.1-2.3 -1.8-4.1 -.2-6.4 .4-3.2 2.5-6.4 -.9-1.2 -3.2-1.5 -1.6-1.8zM404,795.1l-1.1,1.6 -.9,4.8 -1.7,3.2 .3,2.2 1.6-.2 1.6-1.2 4.8-4.2 .9-1.4 .1-1.6 -2.6-4 -1.6-.3zM390.4,803.1l-2.2,3.2 -3.5,1.6 -.2,1.6 2.3,3.2 .3,1.6 -1.6,3.2 .7,1.4 3.2,.9 1.6-.7 2-1.6 -.1-1.6 -1.4-1.6 -.5-1.6 .5-1.6 5.4-3.2 -1-1.6 -2.9-1.6 -.4-1.8zM395.8,811.1l-1.6,1.6 1.6,2.1 1.6,.8 1.5-2.9 -1.5-1.3zM369.1,828.7l-.7,1.6 .2,2.5 1.6,2 1.8,.3 2.8-1.6 .2-1.6 -3.2-3.9 -1.6-.7zM428.4,828.7l.1,3.2 .9,1.4 1.7,.2 1.5-1.5 -.1-1.7 -1.5-3 -1.6-.1zM377.7,831.9l.9,1.6 2.4,0 -.4-1.6zM463,810.3l1.6,.2 1.6,1.9 -.9,1.9 -1.5,0 -1.5-1.6 -.4-1.6zM367,815.4l2.8,.5 .9,1.6 -.5,2.8 -1.6,1.3 -2.9-2.5 -.8-1.6zM366.2,817.5l.8,1.8 1.6,.6 .7-.8 .2-1.6 -.9-.9 -1.6,.1zM544.6,818.3l1.7,.8 -.1,1.7 -1.7-.1zM354.2,828.5l1.6-1.2 1.6,.6 .5,2.4 -1,1.6 -2.7,.4 -3.2,.6 -.4-1 0-1.6 2-.4zM415,842.8l6.4-.5 4.8,.4 3.9,3.6 .9,1.9 1.1,.5 -2.1,0 -1-2.4 -2.8-2.4 -6.4-.8 -6.4,.7 -1.6,.9 -.9,1.6 -.1,2.4 -.9,0 1-4zM434.2,847.5l1.6-1 1.6,.8 .6,1.4 -.6,0 -4.6,0z" fill="#FF6060" stroke="#FF6060" stroke-width="0.6"/>
<path d="M123.8,657.5l.6,1.6 -.6,.8 -1.3-.8zM266.2,673.1l1.6-.3 .4,.7 -.4,2.2 -1.2-.6zM248.6,676.7l1.6,.4 .6,2.8 -2.2,2.4 -1.6,0 -1-.8zM239,679.7l3.9,1.8 -.1,1.6 -2.2,.8 -3.2,0 -1.7,.8 -1.5,1 -1.6-.6 -1.1-2 1.1-1.6zM237.8,681.5l1.2,1.3 1.6,.2 .3-1.5 -1.9-.4zM255,682.8l1.6-.4 1.8,.7 .4,1.6 -.6,.4 -2.5-.4zM314.2,682.9l2,.2 -2.1,1.6 -2.3,0 1.1-1.6zM304.6,683.8l3,.9 .1,1.6 -1.5,2.3 -1.6-.1 -1.9-2.2 .6-1.6zM304.2,684.7l-.7,1.6 1.1,1.4 1.6-.1 .8-1.3 -.8-1.8zM565.4,684.2l1.6-.1 4.8,2.8 .3,1 -.8,1.6 -2.7,.5 -3.3-.5 -1.4-3.2zM339.8,685.9l1.4,.4 .2,4.8 1.1,3.2 -.6,1.6 -2.1,.6 -2.5-.6 -1.4-3.2 1.5-4.8zM338.7,687.9l-2.1,3.2 -.3,1.6 .3,1.7 1.5,1.5 1.7,.1 1.9-1.7 -1.4-6.4 -.5-.6zM296.6,687.2l2,.7 -.1,1.6 -1.9,1.8 -1.6-.2 -.9-1.6 .9-1.6zM294.8,689.5l1.8,.9 1-.9 -1-1.6zM666,689.4l0,1 -1.1,.7 -.3,1.6 0,1.6 .6,1.6 .8,.2 0,1.4 -3,0 -.7-1.6 .8-4.8zM323.8,690.4l1.6-.5 1,1.2 .2,1.6 -1.2,2 -1.6-.5 -.6-1.5zM324.3,691.1l-.5,1.6 1.6,.8 .3-2.4zM387.8,690.7l3.2-.2 4.8,1.8 4.1,3.6 -.9,1.5 -1.6-.3 -4.8-2.7 -3.2,.4 -4.7-.5 .4-1.6zM389.4,691.1l-3.3,1.6 1.7,1.4 1.6,.1 2.8-1.5zM475.8,690.9l1.9,1.8 -.1,3.2 -1.1,1.6 -1.3,0 -2.4-1.6 -1-1.6 .3-1.6 2.1-1.5zM473.1,692.7l-.4,1.6 1.5,2.2 1.6,.4 1-1 0-3.2 -1-1 -1.6,.1zM242.2,693.5l1.6-.7 2.6,4.7 .2,3.2 -1.2,2.9 -1.6-.5 -2.2-2.4 -.5-3.2zM242.2,695.9l0,3.9 1.6,1.7 1.6-.8 0-3.2 -1.6-3.1zM640.6,694.1l9.6-.6 1.9,2.4 -.1,1.6 -1.8,1.7 -1.6,.9 -.8-1 -4-1.6 -3.2,0 -1.6-.9 0-.9zM647.1,694.3l-4.7,1.6 4.6,2 1.6,.3 1.6-.6 .8-1.7 -1.6-1.6zM290.2,698.8l7,1.9 1.1,1.6 -.6,1.6 -2.7,1.4 -3.2-.9 -2.1-3.7zM291,700.7l.2,1.6 2.2,2.2 1.6,0 1.6-1 .6-1.2 -1.8-1.6 -3.6-.4zM447,698.3l3.2-.6 1.2,1.4 0,3.2 -1.2,1.7 -1.6-.1 -3.8-3.2 .8-1.6zM447.2,699.1l-1.3,1.6 2.7,2.6 1.6-.1 .8-2.5 -.5-1.6 -1.9-.6zM307.8,700.7l1.6-.3 1.7,1.9 -1.7,5.3 -1.6,1.5 -2.9,1.2 -1.2,1.6 -.2,1.6 1.1,.6 .7,2.6 -.7,1.2 -2.7-1.2 .9-3.2 -.3-1.6 -1.2-1.6 2.7-3.2 -1.4-3.2 .9-1.6zM304.9,702.3l-1.1,1.6 .8,1.6 1.6,2.1 1.6,.2 .6-.7 1.2-1.6 .8-3.2 -1-1.1zM275.8,702l1.6-.8 1.6,.6 3.1,8.5 -3.3,4.8 -1.4,3.8 -1.6,1.2 -.8-.2 -2.5-1.6 -3-6.4 -.2-1.6 .8-1.6 3.7-3.2zM276.5,703.9l-.6,1.6 -5.4,4.8 0,1.6 2.1,5.4 1.6,1.7 1.6,.2 5.6-8.9 -.3-1.6 -2.8-4.8 -.9-.8zM648.6,701.7l1.6,.6 .4,1.6 -.4,.5 -1.8-.5zM363.8,704.6l.9,.9 -.3,1.6 -2.2,.7 0-1.9zM247,706l1.6,1 1.2,1.7 -.1,1.6 -1,1.6 -1.7,.6 -1.6-2.2 0-1.6zM246.5,708.7l.5,2.2 1.4-.6 -.1-1.6 -1.3-.7zM378.2,708.9l1.6,.4 .5,1 -.5,1.3 -1.6-.7zM434.2,713.4l3.2-1.2 1.6,.3 .8,1 -.8,.7 -3.2,.3zM595.8,712.8l2.9,2.3 .2,1.6 -3.1,.1 -1.8-1.7zM469.4,714.4l1.6-.5 1.6,1.3 .5,1.5 0,3.2 -2.1,.4 -4.1-.4 -.2-1.6zM469.2,716.7l-.5,1.6 .7,.7 1.6,.4 1.7-1.1 -.4-1.6 -1.3-1.4zM531.8,714.2l1.6,.3 1.6,1.4 .6,2.4 -2.2,2.7 -3.2,.6 -2.8-1.7 -.5-1.6 1.1-1.6zM529.4,716.7l-1.2,1.6 .4,1.6 1.6,.9 3.2-.8 1.3-1.7 .1-1.6 -1.4-1.4 -1.6,0zM555.8,714l3.2,4.7 3.9,1.2 .7,1.6 -4.6,.5 -4.4,4.3 3.4,3.2 -.6,1.6 -1.6,.3 -1.6-1.6 -.4-3.5 -1.2-1 -1.6-3.8 3.2-6.3zM555.2,716.7l-2.6,2.6 -.9,2.2 .9,2.4 1.8,.8 2-1.6 1.8-3.2 -2.4-3.7zM296.6,716.4l1.6-.7 2.4,1 -2.4,4.8 -1.5,1.6 -1.7,.5 -.5-2.1 .5-2.9zM296.1,718.3l-.9,1.6 .4,1.6 1,.5 1.6-2 .5-1.7 -.5-.9zM322.2,716.4l1.8,1.9 -1.6,3.2 -.9-4.8zM357.4,722.8l2,.3 2.8,2.9 4.8,.3 2.4,1.6 -.1,1.6 -1.6,1.6 .1,3.2 -1.9,1.6 -2.1-.6 -3.2-6.3 -5.1-1.1 -.8-1.6 .2-1.6zM355.8,724.7l0,2.4 1.6,.9 1.6-.7 1-1 -1-2.1 -1.6-.4zM362.2,727.9l.1,1.6 1.5,2.1 2.2-2.1 1-1.7 -1.6-.6zM448.6,724.4l1.6-.2 .7,.5 .1,1.6 -4,.3 -3.2,1.6 -1.9-.3 .8-1.6 4.3-.6zM477.4,723.2l1.6,1.7 0,2.1 -1.7-.7zM594.2,726.2l2.1,.1 .2,1.6 -.7,.5 -1.6,.4 -1-.9zM490.2,726.6l1.6,0 1.6,1.9 4.9,2.6 .3,1.6 -.9,3.2 -1.1,2 -1.6,1 -3.2,.6 -1.6-.5 -3-4.7 1.6-6.4zM490.1,729.5l-1.9,3.2 -.2,1.6 .7,1.6 1.5,1.8 1.6,.7 3.2-.2 .9-.7 1.1-1.6 .7-3.2 -.9-1.6 -5-1.9zM538.2,727l1.6,0 1.2,.9 .6,1.6 -1.3,3.2 -2.1,2.6 -1.6,.9 -1-.3 -.3-1.6 .6-4.8zM538.1,727.9l-1.3,1.6 -.1,3.2 1.5,1.3 1.5-1.3 1.2-3.2 -1.1-1.7zM456.6,732l1.6,.5 1.3,1.8 -1.3,1.3 -2-1.3 -.3-1.6zM59.8,736.9l3.2,1 3.2,2.5 1.3,5.1 -1,4.8 -1.1,1.6 -4,2.1 -3.2,.4 0-.6 1.6,0 4.8-2.1 1.6-2.4 .7-3.8 -1.4-4.8 -4.1-2.8 -3.2-.3 0-.6zM523.8,738.4l3.2-.4 1.5,1.1 -.7,4.8 -.8,1.2 -1.6,.7 -6.4,.2 -.9,2.7 .9,3.5 -1.6,.1 -3.8-3.6 -.6-1.6 1.2-.9 3.6-.7 3.3-4.8zM522,740.7l-1.9,3.2 .5,.9 1.6,.7 3.2-.2 1.8-1.4 .4-1.6 -.6-2.6 -3.2-.3zM466.2,740.2l1.7,.5 .4,1.6 -.5,.7 -1.6-1.4 -.5-.9zM490.2,743.9l1.6,.3 2.3,2.9 -.3,3.2 -2,4.2 -3.2,2.1 -4.8,2 -1.6,.4 -.7-.7 -3.7-4.8 -.2-1.6 .6-1.6 .8-.9 1.6-.3 4.8,2 1.6-.2 1.2-2.2 .8-3.2zM489.7,747.1l-1.1,3.7 -1.2,1.1 -2-.2 -4.8-2 -1.6,.4 -.9,1.8 .2,1.6 2.1,3.2 1.8,1.5 1.6-.2 5.1-2.9 2.9-3.4 1.2-3 -1.2-2.7 -1.6,.2zM504.6,749.8l1.6,.1 1.6,2 -1.6,3.9 -2.2-.7 -1.4-1.6 -.1-1.6zM504.8,751.9l.1,1.6 1.3,.4 .2-.4 -.2-2zM547.8,756.1l.5,.6 -3.7,4.8 -.9-1.6 .6-1.6zM515.8,767.6l2.2,.3 .4,1.6 -.7,3.2 -3.1,3.2 -3.6,2 -2.3-.4 -2.3-1.6 -2.3-1.6 .2-1.6 1.9-1.6 6.4,.5 1-.5zM515.8,771.1l-1.6,1.1 -8,.4 -.1,1.7 1.7,1.7 1.6,1.1 3.2-.3 3.2-4.1zM455,772.4l1.6,0 3.2,4.3 3.2,.7 1.2,1.7 -.4,3.2 -2.5,4.8 .1,1.8 1.3,3 -.2,4.8 1.4,6.4 -1,4.8 3.3,2.7 .8,2.1 -.4,1.6 -2,1.1 -1.6-.3 -1.6-1.6 -1.6-.4 -.8,1.2 0,1.6 3.1,9.6 -.7,2.3 -2.2,.9 -.1,1.6 1.1,4.8 6,9.5 1.3,4.1 -1,0 -.8-2.4 -2.7-2.9 -1.6-3.2 -1.6-1.1 -3.2-.2 -1.6,3 -1.6,.4 -2.9-2.4 .6-1.6 2.7-1.6 1.2-9.6 3.3-8 -1.2-3.2 .1-1.6 3.5-4.8 .6-3.2 1.6-3.2 -1.8-6.4 -.7-8 .7-3.2 1.9-3.5 .2-2.9 -4-1.6 -2.6-3.5 -1.6,.3 -3.2,6.6 -4.8-1.4 -3.2,.4 -3.2,1.1 -3.2,3.9 -1.6,.8 -4.8,.9 -3.2,1.8 -9.6,.6 -1.6,1.3 -3.2,4.9 -1.6,.6 -6.4-4.1 -3.5,3.4 -1.3,4.9 -3.2,4 -1.6,0 -3.2-3.1 -1.6,.3 -6.4,4.1 -1.6,2.4 2.1,6.6 -1.6,3.2 0,1.6 5.1,3.2 -1,1.6 -2.8,1.6 -1.8,3.5 -1.6,.6 -6.4-.4 -1.8-3.7 -1.4-1 -1.6-.4 -1.6,1.6 -1,4.6 .2,3.2 2.4,3 1.6,.5 4.8-2.1 4.8,1.3 3.2-2.1 1.6-.1 4.8,2.3 3.2-3.5 1.6-.5 3.2,2.1 1.6,.1 6.4-1.8 9.6,.4 1.6-.9 1.6-2.6 1.6-1 3.2,.2 1.6,.9 1.6,3.8 1.6,1.4 4.6,.2 .9,1.6 .9,1.7 3.2,2.1 8-2.1 1.6,.3 1.4,1.2 -2.7,8.8 -1.6,0 0-4 -1.9-1.5 -3.2,.3 -1.3,1.2 .4,4 -1.7,0 -.6-1.4 -1.6-.8 -3.7,2.2 -1.1-.5 -.9-1.9 -3.9-3.6 -4.8-.4 -6.4,.5 -3.2,1.2 -1.6,2.3 -.3,2.4 -.9,0 1.1-4 1.7-1.4 3.2-1.2 5.2-.6 6-1.6 .4-3.2 -.8-3.2 -1.2-1.9 -1.6,0 -2.7,5.1 -2.1,.8 -4.8-2.4 -1.6-.1 -12.8,2 -3.2-.7 -.9,.4 -.1,1.6 2,1.6 -4.2,3.7 -1.6,.5 -1.5-4.2 -1.7-1.8 -1.6-.2 -3.2,2 -6.4-2.2 -1.5,.6 -1.7,1.9 -3.1,1.3 3.4,3.2 4,1.6 1.3,2.4 -4-.4 -15.3,.4 .5-2.4 -1.5-4.8 .2-4.8 -.5-1.6 -2.6-1.5 -1.6,0 -3.2,1.9 -1.6-1.8 -1.4-5 1.4-.8 3.2,.3 3.2-2.6 1.6,.5 1.5,2.6 1.2,4.8 3.7,2.2 3.2,3 .4-2 -1.1-3.2 .9-11.2 -3.5-4.8 1.7-2.6 3.2-.8 1.6,.4 1.4,1.4 .2,5.6 1.6,1.4 1.6,.4 1.6-.5 1.1-2.1 .4-3.2 3.3-.9 1.8-2.3 .2-1.6 -1.4-4.8 1-3.2 1.2-1.6 8.4-3.5 3.2,1.6 1.6-.2 1.6-2.5 .7-3.4 2.9-3.2 1.2-2.7 6.4,3 3.2-.8 3.2-3.2 1.6-.7 16.4-3.6 2.2-1.6 2.2-3.1 12.8-1.3 1.6-3.6zM461.9,811.1l.4,1.6 1.5,1.6 1.5,0 .9-1.3 -1.6-2.5 -1.6-.2zM366.2,815.9l-1.3,1.6 .8,1.6 2.9,2.5 1.3-.9 .8-3.2 -.5-1.2 -1.6-.9zM354,828.7l-1.4,1.2 -2,.4 .4,2.6 4.8-.7 1.6-.7 .4-2.8 -2-1.4zM429.8,838.3l-3.3,1.6 4.5,5.7 1.6,.5 1.6-.7 1.6-.7 1.4-1.6 -1.1-1.6 -4.7-3.2zM525.4,801l1.6,0 0,.7 -1.6,1 -1.2-1.2zM395.8,811.1l1.6,.3 1.5,1.3 -1.5,2.9 -1.6-.8 -1.6-2.1zM359,816.5l1.2,1 -.2,1.6 -2.6,2.4 -1-.8 .4-1.6zM544.6,816l2.6,3.1 .3,1.6 -2.4,1.6 -.8,0 -.9-1.6 .2-3.2zM544.3,819.1l.3,1.8 1.7-.2 -.1-1.7 -1.6-.7zM597.4,843.1l1.6-.7 2.5,2.3 .2,4 -1.1,0 -.7,0zM399,848.2l1.6-1.9 1.6,2.4 -3.4,0z" fill="#FF7878" stroke="#FF7878" stroke-width="0.6"/>
<path d="M122.2,656.6l1.6,.1 1.2,.8 .6,1.6 -1.1,1.6 -2.5,0 -.5-1.6zM123.5,657.5l-1,1.6 1.3,.8 .6-.8zM560.6,659l.8,.1 -.1,1.6 -2.3,.3 0-.6zM240.6,665.5l1.4,1.6 -.6,1.6 -2.4,4.2 -2,.6 -1.4-1.6 .5-1.6zM357.4,666.7l1.6-.5 1.6,.8 1.5,1.7 .1,1.8 -5.9-1.8zM266.2,670.1l1.6,.8 1.7,2.6 -.1,2.6 -1.6,1.8 -3-2.8 -.7-1.6 .5-2.8zM266,673.5l.6,1.6 1.2,.6 .5-.6 -.5-2.3zM525.4,669.8l1.8,.5 1.2,1.6 -.1,1.6 -1.3,1.7 -1.7-.1 -.5-4.8zM247,672.7l1.6-.2 1.6,1.8 1.6,2.3 1.6,4.1 4.8,1.3 1.6,1.1 .5,1.6 -2.1,1.4 -1.6-.1 -2.7-1.3 -2.1-2.7 -3.2,2 -3.2-.5 -3.2,.8 -4.8,.7 -3.2,2.2 -3.1-2.5 -.9-1.6 .5-1.6 8.3-3 4.8,2 1.2-.6 1.7-3.2zM248.6,676.7l-2.6,4.8 1,.8 1.6,0 1.2-.8 1-1.6 -.1-1.6 -.5-1.2zM238.5,679.9l-5.9,1.6 -1.1,1.6 1.1,2 1.6,.6 1.6-1 1.6-.8 3.2,0 2.2-.8 .1-1.6 -2.3-1.4zM254.8,683.1l1.8,2 2.2-.4 -.6-1.7 -1.6-.6zM435.8,672.3l1.6,.3 .6,.9 -.6,2.1 -1.6-.6 -.7-1.5zM551,672.8l1.6-.3 1.6,1.2 -1.6,.6 -2.2-.8zM514.2,677.7l1.6-.2 .8,.8 -.8,2.4 -1.6,.1 -1.4-.9 -.1-1.6zM315.8,681.1l1.6-1.1 .8,1.5 -.8,2 -3.2,2 -4.8-.4 -1.6,2.9 -1.9,1.5 -3.4-1.6 -.9-1.6 1.4-2.2 1.6-.9 1.6,.1 3.2,1.2 1.5-1.4zM312.9,683.1l-1.1,1.6 2.4-.2 2-1.4zM303.3,684.7l-.6,1.6 1.1,1.6 2.4,.7 1.5-2.3 -.1-1.6 -3-.9zM424.6,680.6l1.8,.9 -.2,1.8 -1.6,.3 -.6-.5 -.7-1.6zM341.4,682.8l1.6-.9 1.6,.2 1.1,1 -3.1,3.2 -.3,4.8 1.1,3.2 -.1,1.6 -1.9,.8 -3.2,.4 -1.6-1 -1.1-3.4 1-4.8zM339.2,686.3l-1.8,1.6 -.8,1.8 -.7,3 .2,1.6 2.1,2.2 3.2-.4 1.1-1.8 -1.1-3.2 0-4.1 -.2-.7 -1.4-.4zM565.4,683l1.6-.3 4.8,.9 1.6,4.5 -.4,1.4 -2.7,1.6 -3.7,0 -2.6-1.6 -1.1-3.2 .1-1.6zM564.7,684.7l-.8,1.6 1.5,3.3 4.8,.4 1.6-1.1 0-2 -.8-.6 -4-2.2zM357.4,684.4l2,.3 -2,5.5 -1.6-.7zM538.2,686.1l2.1,.2 1.1,1.6 -.9,1.6 -2.2,1.6 -1.7,3.4 -1.6,1.3 -1.6-.5 -1-2.6 2.7-1.6 .8-3.2zM274.2,687.4l1.6-.8 1.6,1.1 0,.7 -1.5,1.1 -2.4-1.6zM295,687.2l3.2-.6 1.6,1.3 -1.6,3 -1.6,1 -2.6-.8 -.6-1.6zM295.1,687.9l-1,1.6 .9,1.6 1.9,0 1.6-1.6 .1-1.6 -2-.7zM266.2,688.8l1.6-.4 2.5,1.1 -1.1,1.6 -1.4,.7 -1.6,.5 -1.7-1.2zM323.8,689.5l1.6-.3 1.6,1.5 .3,2 -.6,1.6 -1.3,1.6 -1.6-.5 -.7-1.1 -.3-3.2zM323.4,691.1l.4,3.1 1.6,.5 .3-.4 .9-1.6 -.2-1.6 -1-1.2 -1.6,.5zM389.4,689.4l6.4,2.1 4.8,3.7 .5,.7 -.5,1.5 -1.6,1.2 -2.6-1.1 -3.8-2.2 -8-.2 -1-.8 .5-1.6 3.7-2.8zM387.3,691.1l-2.2,1.6 -.4,1.6 4.7,.5 3.2-.4 4.8,2.7 1.6,.3 .9-1.5 -4.1-3.6 -6.4-2zM437.4,689.4l1.6-.1 1.6,1.8 -1.6,1.6 -4.8-.9 -3.2,2.9 -1.6,.2 -.5-.6 .1-1.6 1.5-1.6 5.3-.7zM666,688.6l0,.8 -2.9,1.7 -.8,4.8 .7,1.6 3,0 0,1.1 -3,.3 -2.6,.2 -.3-1.6 1.4-3.2 .5-3.2 1.2-1.6zM474.2,690.4l3.2,.1 .8,.6 .4,1.6 -.2,4.8 -2.6,1 -1.6-.6 -2.3-2 -1.6-3.2zM474.6,691.1l-2.5,1.6 -.3,1.6 2.4,2.8 1.6,.6 1.8-1.8 .1-3.2 -1.4-1.6zM487,691.1l1.6-1 2,2.6 -.3,1.6 -4.9,1.9 -1.6,2.5 -1.6,1.2 -.5-.8 -.4-1.6 .8-3.2 .9-1.6zM242.2,692.3l1.6-.4 1.8,.8 2.1,4.8 .5,6.4 3.2,3.2 -.2,3.2 -1,2.1 -1.6,1.4 -3.2-.3 -.7-1.6 -.5-6.4 -3.7-4.8 .1-6.4zM241.6,694.3l-.5,3.2 .5,3.2 2.2,2.4 1.6,.5 .7-1.3 .7-3.2 -1.8-4.8 -1.2-1.5zM246,707.1l-.6,3.2 1.6,2.2 1.6-.5 1.1-1.7 .1-1.6 -1.2-1.7 -1.6-1zM642.2,692.3l8,.3 1.6,.9 1.6,4 -.5,1.6 -1.5,1.6 .4,2.1 1.6,1.9 4.8-.5 1.3,1.3 -1.3,2.5 -1.6,.7 -4.8-2.7 -4.4-.5 -.2-4.8 -1.6-1.6 -1.8-.6 -4.8,.5 -1.6-1.1 .1-2 .9-1.6zM640.2,694.3l-1.3,1.6 .1,.7 1.6,.9 3.2,0 4,1.6 .8,1 1.7-1 1.7-1.6 .1-1.6 -1.9-2.4zM648.5,702.3l.1,1.9 1.6,.2 .4-.5 -.4-1.6 -1.6-.6zM279,693l1.6,.3 .9,1 -.4,1.6 -2.1,2.9 -1.6-.9 -.5-2zM359,693.7l1.6-.2 1,.8 .6,1.8 -1.6,.6zM253.4,694.8l1.6-.4 1.9,1.5 .2,1.6 -.7,1.6 1.2,3.2 -.1,1.6 -.9,4.6 -1.6-.2 -1.5-1.2 -.4-1.6 1.9-4.5 1.2-.3 -1.2-.4 -.6-1.2 -2.2-1.6 .1-1.6zM288.6,697.4l8,2.2 3.2,2.7 1.6,.4 6.4-2.7 1.6-.3 1.8,1 .5,1.6 -1.7,6.4 -4,3.2 -.2,1.6 1.6,4.8 -1.2,1.1 -4.8-.6 -3.5,4.3 -2.9,3 -1.6,.7 -.3-.5 .7-6.4 2.4-4.8 -.2-1.6 -3.2-1.6 -.6-1.6 1.2-.8 3.2,.1 1.6-.6 3.3-3.5 -1.7-1.5 -3.2,2.4 -3.2,.2 -4-4.3 -1.2-3.2zM289.8,699.1l.5,3.2 1.5,2.1 1.6,.8 3.2-.4 1.6-2.3 -1.6-2.1zM307.7,700.7l-4.2,1.6 -.9,1.6 1.4,3.2 -2.7,3.2 1.2,1.6 .3,1.6 -.9,3.2 2.7,1.2 .7-1.2 -.7-2.6 -1.1-.6 .2-1.6 1.2-1.6 2.9-1.2 1.6-1.5 1.7-5.3 -1.7-1.9zM296.4,716.7l-1.9,3.2 .3,3.2 .2,.5 1.6-.4 1.6-1.7 2.4-4.8 -2.4-1zM447,697.2l1.6-.6 3.3,.9 .1,4.8 -.6,1.6 -1.2,.8 -1.6-.1 -5.4-3.9 .8-1.6zM445.6,699.1l-.8,1.6 1.4,1.6 2.4,1.6 1.6,.1 1.2-1.7 .1-1.6 -.1-1.6 -1.2-1.4 -1.6,0zM272.6,700.4l6.4-1.1 4,9.4 .2,1.6 -5.8,9.9 -1.6,.7 -1.6-.4 -1.6-1.3 -4.1-5.7 -.5-1.6 .6-3.2 2.4-3.2 -1.6-1.5 .1-1.7zM275.3,702.3l-1.5,3.2 -3.7,3.2 -.8,1.6 .2,1.6 3,6.4 1.7,1.5 1.6,.3 2-1.8 1-3.2 3.3-4.8 -3.1-8.5 -1.6-.6zM547.8,701.6l1.6-.7 1.6,.8 .4,2.2 -.4,3.8 3.2,3.5 3.2,1.2 1.6,4.6 4.8,2.2 2.7,2.3 -1.1,1.6 -6.4,.6 -1.6,.7 -.7,1.9 .7,.6 1.8,2.6 -1.8,3.1 -1.6,.2 -2.8-3.3 -2.5-6.4 -.1-3.2 2-4.8 -.6-1.6 -4-3.3 -.8-1.5 -.1-4.8zM554.3,715.1l-2.9,4.8 -.1,3.2 2.5,3.2 .2,3.2 1.8,1.9 1.6-.3 .6-1.6 -.6-.9 -2.8-2.3 1.3-1.6 3.1-2.7 4.6-.5 -.7-1.6 -3.9-1.2 -3.2-4.7zM363.8,703.2l1.7,.7 .8,3.2 -2.5,2.1 -1.6,.6 -1.6-1.1 .8-3.2zM362.4,705.5l-.2,2.3 1.6-.2 .9-2.1 -.9-.9zM437.4,703.3l3.2-.9 1.1,1.5 -1.1,2.5 -3.2-.9 -.5-1.6zM344.6,706.4l1.3,.7 .3,1.8 -1.6,.7 -1.2-.9 -.1-1.6zM378.2,706.8l1.6,.7 1.6,2.8 -.2,1.6 -1.4,1.1 -1.6-.4 -1.3-2.3 -.1-1.6zM377.9,710.3l1.9,1.3 .5-1.3 -.5-1 -1.6-.4zM645.4,706.7l1,2 -.1,1.6 -.9,1.1 -1.6-.5 -.6-2.2zM413.4,708.1l1.6,0 1.2,2.2 -1.2,1.6 -1.8-3.2zM595.8,709.5l1.6-.1 .9,.9 -.1,1.6 .8,1.5 2.3,1.7 -.7,2.7 -2.2,.5 -4.2-.6 -1.4-1 -.6-1.6 2-4.6zM595.2,713.5l-1,.9 0,1.3 1.2,1 2,.2 1.5-.2 -.2-1.6 -2.9-2.3zM435.8,711.7l3.2-.3 1.6,.5 .4,1.6 -2,1.7 -4.9-.1 -.8-1.6 .9-1.2zM434.1,713.5l1.7,1 1.6,0 2.4-1 -.8-1 -1.6-.3zM469.4,712.5l1.6-.1 1.6,1 2.6,6.5 3.8,2.4 1.5,4 -1.5,2.1 -2-.5 -1-1.6 -.7-3.2 -1.1-1.6 -1.6-.4 -6.4,.6 -3-3.4 -.3-1.6 3.3-.2 1.9-3zM468.8,715.1l-2.1,3.2 .2,1.6 5.7,.2 .9-1.8 -.9-3.1 -1.6-1.3zM477.1,724.7l.3,1.8 1.6,.5 .4-.7 -2-3.1zM531.8,713.1l3.2,1.8 1.3,1.8 -.3,3.2 -1.7,1.6 -2.5,.9 -3.2-.8 -3.2-2.3 -1.6,.7 -2.7,3.1 -.5,4.8 -1.6,2.1 -2.5-.5 2-3.2 1.8-6.4 1.9-1.5 3.2-.8zM530.3,715.1l-2.3,1.6 -1.1,1.6 .5,1.6 1.2,.9 3.2,.9 2.9-1.8 .9-1.6 0-1.6 -2.2-2.2 -1.6-.3zM320.6,715l1.6,.1 3.2,1.8 3.2,1 .3,.4 -3.5,2.5 -2.5,2.3 -.7,.1 -1.6-1.5 -1-5zM321.5,716.7l.6,4.8 1-1.6 .9-1.6 -1.2-1.6zM368.6,715.9l1.6-.1 1.5,.9 .5,1.6 -.3,3.2 2.3,1.6 1,1.6 -3.4,2.5 -3.2,7.5 -1.6,1.5 -3.2,0 -3.2-5.7 -1.6-1 -3.2-.7 -1.6-2.3 0-2.3 1.6-1.8 3.2-.5 3.2,2.7 1.6,.5 6.4,.7 1.1-1.1 .4-1.6 -.5-1.6 -2.6-1.1 -1.6-2.1 .5-1.6zM356.6,723.1l-1.7,1.6 -.2,1.6 .8,1.6 5.1,1.1 3.2,6.3 1.6,.7 1.6-.7 .8-1 -.1-3.2 1.6-1.6 .1-1.6 -2.4-1.6 -4.8-.3 -3.2-3.1zM450.2,722.5l1.6,.6 1.6,2.8 2.9,2 .6,1.6 3.7,4.8 -.1,1.6 -.7,.7 -1.6,0 -4.3-2.3 -.4-1.6 .1-3.2 -1.8-1.1 -4.8-.1 -3.2,.7 -3.7-1.1 .5-1.6zM447.9,724.7l-.9,1 -4.3,.6 -.8,1.6 3.1,0 2-1.3 4-.3 -.1-1.6 -.7-.5zM455.9,732.7l.3,1.6 2,1.3 1.3-1.3 -1.3-1.8 -1.6-.5zM459.8,726.1l3.2-.7 1.4,.9 -1.4,.4zM490.2,725.5l1.6-.1 3.2,3.1 3.2,1.7 3.2,0 1.6-1.1 1.9,.4 -1.4,1.6 -3.7,1.7 -3.2,7.6 -3.5,.3 -.3,1.6 2.2,.4 1.6-1.9 1.6-.1 2.4,1.6 .8,4.9 4.8,1 2.3,2.1 .2,1.6 -.9,3.9 -1.6,1.6 -4.8-2.1 -3.2,.6 -3.2,1.8 -3.2-.5 -4.8,.6 -4.8,2.1 -4.8-6.4 0-2.6 1.6-2.2 1.6-.3 4.8,2 2-1.7 -.5-4.8 1.8-3.2 -2.4-6.4 .1-1.6 1.3-4.8 1-1.6zM488.8,727.9l-1.6,6.4 1.4,2.9 1.6,1.8 1.6,.5 3.2-.6 1.6-1 2-5.2 -.3-1.6 -4.9-2.6 -1.6-1.9 -1.6,0zM489,745.5l-.8,3.2 -1.2,2.2 -1.6,.2 -4.8-2 -1.6,.3 -.8,.9 -.6,1.6 .2,1.6 4.4,5.5 6.4-2.4 2.6-1.5 1.2-1.6 1.8-4.8 -.1-1.6 -2.3-2.9 -1.6-.3zM496.5,748.7l-1.8,3.2 .3,1.6 1.6,.2 1.4-1.8 0-1.6zM503.7,750.3l-1.2,1.6 .1,1.6 2,2 1.6,.3 .6-.7 1-3.3 -1.6-1.9zM538.2,726.1l1.6,0 1.6,1.1 .9,2.3 -1.4,3.2 -2.7,3.8 -1.6,.8 -1.6-.1 -1.1-1.3 1.2-6.4 1.5-2.4zM536.9,727.9l-1.2,3.2 -.1,4.8 1,.3 2.4-1.9 2.3-3.2 .1-2.3 -1.6-1.8 -1.6,0zM592.6,726l3.2-1 1.6,.8 .4,2.1 -2,1.5 -1.6,.4 -1.6-1 -.6-.9zM594,726.3l-.8,1.6 1,.9 2.3-.9 -.2-1.6zM432.6,726.5l2.2,1.4 .3,1.6 -.9,.4 -1.9-.4 -.4-1.6zM634.2,729.1l1.6,1.2 -.5,2.4 -1.1,.5 -1-.5 -.3-1.6zM563.8,731l3.2-1.4 .4,1.5 -.4,1.6 -1.6,1.2 -2.2,.4 -.4-1.6zM59.8,736.3l3.2,.9 3.2,2.1 1.5,3 .3,4.8 -1.8,4.9 -4.8,2.6 -3.2,.4 0-.6 3.2-.4 4-2.1 1.1-1.6 .9-3.2 0-3.2 -1-3.2 -3.4-2.8 -4.8-.9 0-.7zM523.8,736.8l3.2-.1 2.5,.8 .2,1.6 -1.2,4.8 -.7,1.6 -.8,.4 -6.7,1.2 -1,1.6 1.2,4.8 -1.5,.5 -1.6-.5 -2.9-3.2 -2.5-1.6 -.6-1.6 1.5-1.6 4.5-1.2 4.8-6.3zM522.7,739.1l-4.9,6.4 -3.6,.7 -1.2,.9 .6,1.6 3.8,3.6 1.7-.4 -1-3.2 .9-2.7 6.4-.2 1.6-.7 .8-1.2 .7-4.8 -1.5-1.1 -3.2,.4zM466.2,738.8l1.6,.7 1.6,2.8 -1.6,2.3 -3.4-3.9 .9-1.6zM465.7,740.7l2.1,2.3 .5-.7 -.5-1.8 -1.6-.3zM479,741.1l1.6,.2 1.1,1 -1.1,2 -1.6,0 -1.2-2zM605.4,743.9l1.6-1.3 .7,1.3 -.7,1.9 -1.6,.1zM467.8,748.5l.1,1.8 -1.4,3.2 -1.9,.1 0-2.4 1.6-1.9zM530.2,748.4l3.2,.2 1.6,1.2 .5,.5 -1.2,1.6 -2.5,.6 -1.3-.6zM559,753.2l1.1,1.9 -2.7,1.9 -1.2-1.9 1.2-1.6zM547.8,754.4l1.6-.5 1.1,1.2 -.4,1.6 -2.8,3.2 -2.7,4.6 -2.2-4.6 .5-1.6zM546.6,756.7l-2.3,1.6 -.6,1.6 .9,1.6 3.7-4.8 -.5-.6zM527,761l1.6-.7 1.4,1.2 -2.7,1.6 -1.2,0 0-1.6zM464.6,762.7l1.6,.5 3.2,2.9 0,2.3 -1.6,.7 -2.5-1.2 -1.7-3.2 .4-1.6zM517.4,766.2l2.9,1.7 .1,1.6 -2.5,4.8 -5.3,3.7 -1.6,.4 -3.2-.5 -2.9-2 -2.8-1.6 .5-1.6 2-1.6 1.6-1 4.8,1 1.6-.5 1.6-3 1.6-1.3zM515.4,767.9l-1.8,3.2 -1,.5 -6.4-.5 -1.9,1.6 -.2,1.6 3.7,2.7 1.6,.7 3.2-.3 4.8-4.3 1-3.6 -.4-1.6zM546.2,769.4l1.6-.6 2.1,.7 -.5,2.4 -1.3,.8 -2.3-1.6zM455,771l1.6-.1 1.6,1.1 1.6,2.9 4.8,2.6 .5,1.6 -.4,3.2 -2.3,4.8 .6,2.1 2.7,2.7 -1.4,3.2 .7,11.2 .3,1.6 2.2,3.2 .3,1.6 -1.6,2.9 -4,1.9 -.2,1.6 2.2,8 1.6,3.2 .2,1.6 -1.3,1.6 -.3,1.6 3.7,9.6 .8,4 -1.4,0 -1.3-4.1 -6-9.5 -1.1-4.8 .1-1.6 2.2-.9 .7-2.3 -3.1-9.6 0-1.6 .8-1.2 1.6,.4 1.6,1.6 1.6,.3 2-1.1 .4-1.6 -.8-2.1 -3.3-2.7 1-4.8 -1.4-6.4 .2-4.8 -1.3-3 -.1-1.8 2.5-4.8 .4-3.2 -1.2-1.7 -3.2-.7 -3.2-4.3 -2,.3 -2.8,5.2 -12.8,1.3 -2.2,3.1 -2.2,1.6 -16.4,3.6 -1.6,.7 -3.2,3.2 -3.2,.8 -6.4-3 -1.2,2.7 -2.9,3.2 -.7,3.4 -1.6,2.5 -1.6,.2 -3.2-1.6 -8.4,3.5 -1.2,1.6 -1,3.2 1.4,4.8 -.2,1.6 -1.8,2.3 -3.3,.9 -.3,1.6 -.8,3.2 -2,1 -1.6-.4 -1.6-1.4 -.2-5.6 -1.4-1.4 -3.2-.2 -2.6,1.6 -.7,1.6 3.5,4.8 .2,1.6 -1.1,9.6 1.1,3.2 -.4,2 -3.2-3 -3.7-2.2 -1.2-4.8 -1.5-2.6 -1.6-.5 -3.2,2.6 -3.2-.3 -1.4,.8 1.4,5 1.6,1.8 3.2-1.9 1.6,0 2.6,1.5 .5,1.6 -.2,4.8 1.5,4.8 -.5,2.4 -4.6,0 -.9-.5 -.2,.5 -3,0 1.2-4 3.4-4.8 .6-3.2 -.4-.7 -1.6-.3 -1.6,1.8 -1.6,.2 -2.2-2.6 -2.2-6.4 1.2-1.7 4.8-.6 .8-.9 1.1-4.8 4.5-6.5 3.2,.8 1.1-.7 .3-3.2 1.8-1.6 8,5.5 1.6,.1 4.8-1.4 1.2-1 .4-1.6 -.4-4.8 1.5-3.2 2.1-1.7 3.2-.7 3.2-1.8 4.8-1.2 2.4-4.2 2.4-2.7 .1-2.1 1.5-1 1.6,.1 4.8,2.3 4.8-1.3 3.2-2.4 17.6-4.7 1.6-1.7 .8-4.1 .8-.9 4.8-1.5 1.4,.8 .2,1.7 1.6,1 3.2-.4 1.7-.7zM357.9,817.5l-1.5,3.2 1,.8 1.2-.8 1.4-1.6 .2-1.6 -1.2-1zM360.6,820.7l-2.4,3.2 2.4,6.4 1.6,1.8 1.9-.2 1.3-2 .2-7.6 -1.8-2.3 -1.6-.6zM555.8,783.8l.9,1.7 -.4,1.6 -.5,.7 -1.6-.4 -.8-1.9 .8-1.1zM571.8,789.9l1,.4 .7,1.6 -1.7,1.6 -1.6-.1 -1.6-1.5zM666,789.8l0,3.8 -6.2,1.8 -1.5,1.3 -1.7,.1 1.5-1.7 1.7-.2 3.2-4zM560.6,791.6l3.2-1.2 4.7,1.5 -.2,1.6 -1.7,3.2 .4,.6 3.2,.2 1.6,1.2 1.6,2.8 -.3,1.6 -3,0 -7.9-4.9 -2.5-4.7 .3-1.6zM610.2,791.3l3.2,.1 3.2-.9 1.9,1.4 -.3,.8 -1.6,.9 -3.2-1 -3.8,.9 -.4-1.6zM525.4,799.4l1.6-.7 1.6,1.2 -.1,1.6 -3.1,2.5 -1.6,.2 -1.6-.7 -.5-2zM524.2,801.5l1.2,1.2 1.8-1.2 -.2-.5 -1.6,0zM344.6,811.4l1.6,.2 .4,1.1 -.6,1.6 -1.4,.9 -1.6,.2 -.9-1.1zM543,815.6l1.6-1.3 3.5,4.8 .3,1.6 -1.2,1.6 -2.6,1.3 -1.6-.5 -.5-2.4zM543.6,817.5l-.2,3.2 1.2,1.7 1.6-.4 1.3-1.3 -.3-1.6 -2.6-3.1zM423,831.6l1.6,0 1.2,1.9 .8,3.2 -.4,3.2 -6,1.6 -5.2,.6 -3.2,1.2 -1.7,1.4 -1.1,4 -1.3,0 1.3-4 1.2-1.5 6.9-3.3 -2.1-1.6 -1.6-.3 -8,3.4 -3.2-.3 -.7,.4 -.1,1.6 2.2,3.2 .4,2.4 -1.8,0 -1.6-2.4 -1.8,2.4 -2.4,0 2.2-4 -1.2-1 -1.6,.6 -3.7,4.4 -1.1,0 -12,0 -1.3-2.4 -4-1.6 -3.4-3.2 3.1-1.3 1.7-1.9 1.5-.6 6.4,2.2 3.2-2 1.6,.2 1.7,1.8 1.5,4.2 1.6-.5 4.2-3.7 -2-1.6 .1-1.6 .9-.4 3.2,.7 12.8-2 1.6,.1 4.8,2.4 2.1-.8zM431,838l5.1,3.5 1.1,1.6 -1.4,1.6 -3.2,1.4 -1.6-.5 -4.5-5.7zM597.4,840.9l1.6,0 3.8,3.8 .3,4 -1.4,0 -.2-4 -2.5-2.3 -1.6,.7 2.5,5.6 -1.4,0 -2.4-5.6zM442.2,843l1.6,.2 1.9,1.5 0,4 -1.9,0 -4.1,0 -.4-4zM341.4,845.8l1.6,.3 .9,2.6 -1.8,0 -.7-.4 -.8,.4zM653.4,848.7l1.6-1.8 1.6,.4 .6,1.4 -.7,0 -1.5-.7z" fill="#FFA6A6" stroke="#FFA6A6" stroke-width="0.6"/>
<path d="M229.4,545.5l13,0 -2.3,1.6 -2.7,2.7 -1.6,.4 -4.2-1.5 -2.2-1.7 -.8-1.5zM533.4,651.7l1.6-.5 1.2,1.5 .4,1.8 -1.6,.5 -2-.7 -.3-1.6zM122.2,655.7l1.6,.2 2.3,1.6 .3,1.6 -1,1.8 -3.2,1 -1.3-1.2 0-3.2zM121.6,657.5l.6,3.4 1.6,.2 1.6-1.6 -.4-2 -1.2-.8 -1.6-.1zM560.6,657l1.6,0 1.6,.9 .8,1.2 -.2,1.6 -5.4,2.9 -1.6,.3 -1.4-1.6 .2-1.6 1.2-1.9zM560.3,659.1l-1.5,1.6 1.8,.4 .7-.4 .1-1.6zM405.4,659l3.2-.3 0,2.3 -3.5-.3zM527,659l1.6-1.1 1.6,.6 0,.8 -1.6,1.2 -1.6,.2zM240.6,663l1.6-.2 2,1.1 1.2,5.7 3.2,.1 1.6,1.3 3.8,7.3 5.8,3.6 1.2,1.2 .4,1.6 -.7,1.6 -2.5,.8 -6.4-1.8 -3.2,.9 -3.2-1.3 -8,1.2 -1.6,2.5 -1.6,.1 -1.6-1.1 -3.8-4.5 -.1-1.6 .7-.8 6.4-2.2 1.5-1.8 -2.8-3.2 -.3-3.2 4.8-6.3zM239.2,667.1l-3.4,4.2 0,.9 1.6,1.6 1.6-.9 3-5.8 -1.4-1.6zM242.2,671.9l-2.3,3.2 .1,1.6 2.2,1.6 1.6,.2 1-1.8 -.8-4.8 -.2-.6zM246.6,673.5l.1,3.2 -1.7,3.2 -1.2,.6 -4.8-2 -8,2.8 -.8,1.8 2.4,3.3 1.6,.8 3.2-2.2 6.4-1.3 4.8,.3 3.2-2 2.1,2.7 2.7,1.3 1.6,.1 2.1-1.4 -.5-1.6 -1.6-1.1 -4.8-1.3 -1.6-4.1 -3.2-4.1 -1.6,.2zM267.8,662.5l1,1.4 -1.3,3.2 2.4,4.8 .6,3.2 -.8,6.4 -1.9,3 -1-1.4 -.3-3.2 -.1-1.6 -1.5-1.6 -6.4-4.8 .5-1.6 .8-.6 6-2.6 1.1-1.6 -.2-1.6zM265.2,670.3l-1.2,1.6 .8,3.2 3,2.8 1.2-1.2 .6-1.6 -.2-1.9 -1.6-2.3 -1.6-.8zM307.8,665.1l.9,.4 0,1.6 -.9,.9 -1.6-.8zM359,664.7l5.4,4 .8,1.6 -1.4,3.2 -1.6,0 -.9-1.6 -7-3.2 1-1.6zM356.9,667.1l-.6,1.6 4.3,1.6 1.9,0 -.4-1.6 -1.5-1.7 -1.6-.8zM519,664.2l1.6,.9 1.6,2.8 3.2,.5 3.7,1.9 1,1.6 -.1,1.6 -3,3.1 -2.1,.1 -2.7-7.7 -3.3-1.9 -.6-1.6zM524.8,670.3l.5,4.8 1.9,0 1.1-1.6 .1-1.6 -1.4-1.7 -1.6-.4zM431,668.6l1.6,.2 5.4,3.1 .8,1.6 -.1,1.6 -1.3,1.6 -1.6-.8 -1.8-2.4 -3.7-3.2zM435.1,673.5l.9,1.6 1.4,.5 .4-.5 .2-1.6 -.6-.9 -1.6-.3zM579.8,668.4l1.6-.3 1.6,1.5 .1,2.3 -.9,1.6 -.8,.9 -3.2-.1 -3.2,1.8 -3.7-2.6 2.1-1.8 3.2,.2zM415,670l1.6,.2 1.6,1.2 -.1,2.1 -1.5,.8 -1.6-1.1 -.9-1.3 .1-1.6zM503,670l1.6,.1 3.2,4.6 1.6,1.3 3.2,.4 3.2-.8 2.2,1.1 .5,1.6 -.4,1.6 -2.3,2.7 -1.6-.2 -5.1-4.1 -2.9-2.5 -1.6-.2 -4.8,1.6 -3.2,3.2 -1.6-.7 -.5-1.4 .5-1 3.2-1.8zM512.7,678.3l.1,1.6 1.4,.9 1.6-.1 .6-.8 .2-1.6 -.8-.8zM547.8,671.5l3.2-.3 4.9,.7 1.1,1.6 -1.4,1.6 -3,.8 -1.6-.6 -3.8-1.8 -.1-1.6zM550.4,673.5l2.2,.8 1.8-.8 -1.8-1 -1.6,.3zM391,676.2l2.1,2.1 -.5,.5 -1.6,.3 -.8-.8zM317.4,677.4l1.6-.5 .6,1.4 -.3,3.2 -.7,1.6 -2.8,2.6 -6.4,1.7 -1.6,2.4 -1.6,.9 -4.8-2.3 -3.2,3.4 -3.2,.6 -2-1.3 -.5-1.6 .6-1.6 1.9-1.5 1.6-.7 3.2,0 4.8-3.1 4.8,.5 4.3-1.6 2.4-1.6zM315.3,681.5l-4.4,1.6 -1.5,1.4 -3.2-1.2 -1.6-.1 -1.6,.9 -1.4,2.2 .9,1.6 2.1,1.4 1.6,.3 1.6-1.6 1.6-2.9 4.8,.4 3.2-2 .8-2 -.8-1.5zM294.1,687.9l-.7,1.6 .6,1.6 2.6,.8 1.3-.8 1.9-3.2 -1.6-1.3 -1.6,0zM395.8,679.5l1.6-.4 2,.8 .2,1.6 -.9,1.6 -1.3,.9 -1.6-.6 -.7-3.5zM424.6,679.7l1.6,.6 1,1.2 -.1,1.6 -.9,1.6 -1.6,.5 -1.6-1.3 -1.1-2.4 1.1-1.5zM423.3,681.5l1.3,2.1 1.7-.5 -.1-1.9 -1.6-.6zM573.4,679.3l1.3,.6 0,1.6 -.6,3.2 .4,4.8 -1.1,1.3 -4.8,1.4 -3.2-.5 -1.6-1 -1.6-3.7 -1.6-1.9 -2.9-.4 -.3-2 1.6-.9 3.2,.9 3.2-1.5 4.8-.1zM565.3,683.1l-2.3,1.6 -.1,1.6 1.1,3.2 3,1.7 3.2-.1 1.6-.6 1.2-1 .4-1.6 -1.6-4.3 -4.8-.9zM343,681l3.2,.2 1.2,1.9 -.5,1.6 -2.3,1.1 -1.4,2.1 0,3.2 1.1,4.8 -1.3,1.1 -3.2,.5 -2.2,0 -1.7-1.6 -.8-3.2 .3-4.8 6-6.3zM341.1,683.1l-4.6,4.8 -1,4.8 1,3.2 1.7,1.2 4.8-1 .4-1.8 -1.1-3.2 .3-4.8 3.1-3.2 -1.1-1 -1.6-.2zM445.4,681.3l.8,1.8 -.8,1.5 -1.6-1.3 .6-1.8zM357.4,682.1l1.6,.1 3.2,2.1 5,.4 .3,1.6 -2,1.6 -4.9-.1 -.9,1.7 .1,1.6 3.8,3.2 1.1,1.6 -2.5,2.3 -1.6-.1 -1.9-2.2 -1.3-2.8 -2.8-2 -.9-1.6zM357.2,684.7l-1.4,4.8 1.6,.7 .3-.7 1.7-4.8zM358.9,694.3l1.7,2.4 1.8-.8 -1.8-2.4 -1.6,.2zM586.2,684.4l1.6-.3 .9,2.2 0,1.6 -.9,1.7 -1.6-.4 -1.2-1.3zM274.2,686.2l1.6-.5 1.7,.6 1,3.2 -1.1,1.3 -4.8-.8 -6.4,3.8 -2.9-1.1 -.6-1.6 .6-1.6 1.3-1.4 3.2-1.6 3.2,1.1zM273.5,687.9l2.3,1.6 1.6-1.1 0-.7 -1.6-1.1zM265.2,689.5l-.7,1.6 1.7,1.2 3-1.2 1.1-1.6 -.9-.6 -1.6-.5zM535,686.1l4.8-1.2 1.6,.6 1.8,2.4 -.6,1.6 -6,6.6 -1.6,1.6 -1.6,.3 -1.6-2.8 -2.5-2.5 .9-2.8zM537.8,686.3l-1.9,1.6 -.8,3.2 -2.7,1.6 1,2.6 1.6,.5 1.8-1.5 1.5-3.2 2.2-1.6 .9-1.6 -1.6-1.9zM419.8,687.3l1.6-.3 .9,.9 -.7,1.6 -1.8,.5 -1.9-.5 .3-1.6zM488.6,687.2l1.6,1 3.2,6.8 4.8,1.2 1.2,1.3 -1.1,1.6 -6.5-1.1 -1.6-1.1 -3.2,0 -.9,.6 -2.3,4.4 -1.6-.1 -3.2-2.6 -1.6,.2 -3.2-.8 -4.8-3.6 -1.6-.1 -1.6-3.8 1.6-.6 3.2,.9 3.2-1.7 3.2-.3 3,1.7 .2,.7 4.8-1.3zM473.1,691.1l-2.8,1.6 1.6,3.2 3.9,2.6 2.6-1 -.2-6.4 -2.4-.9zM486.9,691.1l-3.9,1.6 -.9,1.6 -.8,3.2 .4,1.6 .5,.8 1.6-1.2 .4-1.2 1.8-1.6 4.3-1.6 .3-1.6 -2-2.6zM611.8,687.3l1.6-.5 1.6,1.7 0,1.5 -1.6,.4 -1.3-.9zM642.2,687.7l1.9,.2 1.4,3.2 6.3,.9 3.2,4.9 1.6,.5 1.6-.6 1.6-1.9 .6-3.8 1.2-1.6 1.4-1.1 3-.7 0,.9 -2.8,.9 -1.2,1.6 -.5,3.2 -1.4,3.2 .3,1.6 1,.2 4.6-.7 0,1.5 -3.1,.6 -1.3,1.6 1,1.6 -.7,1.6 -4,4.8 1.9,2.3 1.5,.9 .8,1.6 -3.9,3.1 -1.6-.4 -.8-1.1 .4-6.4 -4.4-2.8 -3.2-.3 -1,1.5 -.6,3.6 -1.6,.3 -1.6-.5 -1.6-1.8 .7-3.2 2.5-3.2 .1-3.2 -1.7-.7 -4.8,.3 -2.7-1.2 -.9-1.6 2-4.1 2.7-2.3zM641.2,692.7l-2.8,1.6 -.9,1.6 -.1,2 1.6,1.1 4.8-.5 1.8,.6 1.6,1.6 .2,4.8 4.4,.5 4.8,2.7 2.3-1.6 .6-1.6 -1.3-1.3 -4.8,.5 -1.6-1.9 -.4-2.1 1.5-1.6 .5-1.6 -1.6-4 -1.6-.9zM644.8,707.1l-1.6,1.6 0,1.6 2.2,1.1 .9-1.1 .1-1.6 -.5-1.6zM323.8,688.7l1.6-.2 1.6,.9 .8,1.7 -.3,3.2 -1.3,3.2 1.2,3.2 -1.5,1.6 -1.3,0 -.5-1.6 .4-3.2 -2.1-3.2 -.1-3.2zM323.8,689.5l-1.1,3.2 1.1,2.7 1.6,.5 1.6-2.2 0-3 -1.6-1.5zM387.8,688.6l1.6-.6 3.2,.9 8.8,5.4 .7,1.6 -.6,1.6 -2.5,2.7 -3.2-2 -3.2-1.8 -8-.4 -1.6-1 -.5-.7 .7-1.6zM389.1,689.5l-5,3.2 -.5,1.6 1,.8 8,.2 4.8,2.9 1.6,.4 1.5-1.1 .6-1.6 -.5-.7 -4.8-3.7 -4.8-1.9zM435.8,689.2l3.2-.6 1.6,.8 .9,1.7 -.5,1.6 -2,.7 -3.2-.5 -3.2,1.4 -3.2,1.5 -1.3-1.5 1.3-3.2 1.6-1.2zM437.1,689.5l-1.3,.9 -5.3,.7 -1.5,1.6 -.1,1.6 .5,.6 2.2-.6 2.6-2.5 4.8,.9 1.6-1.6 -1.6-1.8zM243.8,691.1l2.5,0 1,3.2 1.3,1.7 1.6-.1 3.2-2.4 1.6-.2 1.9,1 1.2,1.6 1.3,6.4 -.6,3.2 1,3.2 -1.6,3 -3.7,1.8 -2.7,2.3 -8,.1 -1.6-1 -.4-1.4 1.6-3.2 0-3.2 -3.8-4.8 -.5-1.6 .2-4.8 .6-3.2zM241.5,692.7l-1.1,3.2 .1,4.8 3.7,4.8 .5,6.4 .7,1.6 1.6,.5 2.2-.5 2-3.2 .2-3.2 -3.2-3.2 -.5-6.4 -2.1-4.8 -1.8-.8zM252.3,695.9l-.1,1.6 2.2,1.6 .6,1.2 1.2,.4 -1.2,.3 -1.9,4.5 .3,1.4 1.6,1.4 1.6,.2 1-6.2 -1.2-3.2 .7-1.6 -.2-1.6 -1.9-1.5zM250.1,699.1l-.9,1.6 1,2.8 1.6,.1 .9-1.3 .2-1.6 -1.1-1.4zM520.6,690.7l1.6,.3 1.1,1.7 -1.1,1.8 -1.6,.4 -1.2-.6 -.2-1.6zM279,691.3l3.3,1.4 1.4,1.6 -2.6,4.8 1.1,5.4 2.6,4.2 0,1.6 -1.4,3.2 2.2,3.2 -1.8,1.2 -1.6-.6 -1.6,.5 -1.3,2.1 -3.5,1.9 -3.4-1.9 -3-3.9 -1.6-.2 -3.2,1.4 -3.2,0 -.3-.5 1.9-.9 3.2-3.9 1.9-9.6 2.9-2.9 3.2-1.9zM277.6,694.3l-.7,1.6 .5,2 1.6,.9 .7-1.3 1.4-1.6 .4-1.6 -.9-1 -1.6-.3zM271.7,700.7l-2.2,1.6 -.1,1.7 1.6,1.5 -2.4,3.2 -.6,3.2 .5,1.6 3.3,4.8 2.4,2.2 1.6,.4 1.9-1 2.2-4.8 3.3-4.8 -.2-1.6 -4-9.4zM512.6,692.5l3.8,3.4 -.6,2.1 -1.6,.7 -2.5-1.2 -.8-1.6zM629.4,694.3l1.8,1.6 -.2,1.6 -1.6,2 -1.6-1.3 -.8-2.3 .8-1.4zM287,695.3l6.4,2.9 4,.9 4,2.1 8-2.3 1.6,.6 1,1.2 .3,1.6 -.9,6.4 -.7,1.6 -2.6,1.6 -.8,1.6 1.9,4.8 -.7,1.6 -3.9,.8 -3.2-.5 -6.4,7.3 -2,.4 -1-1.6 .1-1.6 2.3-9.6 -4.2-2.8 -1-2 1-3.2 -4.6-11.2zM288.4,697.5l-.2,1.6 1.2,3.2 4,4.3 3.2-.2 3.2-2.4 1.6,1.2 -.9,1.9 -2.3,1.9 -1.6,.6 -3.2-.1 -1.2,.8 .6,1.6 3.2,1.6 .2,1.6 -2.4,4.8 -.7,6.4 .3,.5 1.6-.7 3.2-3.3 3.2-4 4.8,.6 1.2-1.1 -1.6-4.8 .2-1.6 4-3.2 1.7-6.4 -.5-1.6 -1.8-1 -1.6,.3 -6.4,2.7 -1.6-.4 -3.2-2.7zM447,694.4l4.8,1.7 1.2,1.4 -.7,6.4 -2.1,1.5 -1.6-.1 -3.2-2.1 -1.6-.3 -.9,1 -.9,3.2 .2,1.6 2.3,1.6 -3.5,4.8 -3.6,.8 -3.2,0 -1.2-.8 -.5-1.6 .9-1.6 6.8-1.6 2-1.6 -4.8-2.4 -1-.8 -.4-1.6 1.4-1.9 3.9-1.3zM446.5,697.5l-2.5,1.6 -.8,1.6 5.4,3.9 1.6,.1 1.2-.8 .6-1.6 -.1-4.8 -3.3-.9zM436.9,703.9l.5,1.6 1.6,.8 1.6,.1 .7-.9 .4-1.6 -1.1-1.5 -1.6,.2zM435.1,711.9l-1.8,1.6 .8,1.6 5.1,0 1.8-1.6 -.4-1.6 -1.6-.5zM464.6,696.9l1.6,0 .3,.6 -.3,3.4 -1.6,.3 -1.2-2.1zM533.4,699.9l1.6,.8 -.1,1.6 -1.5,.5zM547.8,699.9l3.2-.3 1.8,1.1 1.1,1.6 -1,3.2 .5,1.6 2.4,2.4 1.6-.8 1.6-4.2 1.6,3.6 0,3.3 -1.1,3.7 .9,1.6 9.2,4.8 -1.9,3.2 -.2,1.6 1.1,2.5 -.2,3.9 -3,2.4 -3.2,1 -2.3-1.8 1.5-3.2 5.1-4.8 -2.7-1.6 -3.1,1.6 .4,3.2 -1.2,3.2 -4.1,3.6 -1.6-.2 .4-1.8 -.5-1.6 -2.2-3.2 -2.2-6.4 -.3-5.2 -4.4-2.8 .7-3.2 -.1-9.6 .9-1.6zM547.3,702.3l-.3,6.4 .8,1.5 4,3.3 .6,1.6 -2.2,6.4 2.8,8 2.8,3.3 1.6-.2 1.8-3.1 -.6-1.6 -1.9-1.6 .7-1.9 1.6-.7 6.4-.6 1.1-1.6 -2.7-2.3 -4.8-2.2 -1.6-4.6 -3.2-1.2 -2.4-2.5 -1-1.6 .6-3.2 -.4-2.2 -1.6-.8zM563.7,731.1l-.9,1.6 .4,1.6 2.2-.4 1.6-1.2 .4-1.6 -.4-1.5zM363.8,701.9l1.6-.4 .8,.8 3.2,4.8 -.8,1.7 -4,1.5 -2.4,1.1 -1.6,0 -1.3-1.1 1.3-4.8 1.6-2.6zM362.7,703.9l-1.3,1.6 -.8,3.2 1.6,1.1 2.2-1.1 1.9-1.6 0-1.6 -.9-1.7 -1.6-.6zM522.2,703l1.6,0 0,3.3 -1.7-.8zM376.6,704.9l1.6-.1 1.6,.8 2.1,3.1 .6,3.2 -1.1,2.1 -3.2,.1 -2-2.2 -.8-4.8zM377.7,707.1l-.9,1.6 .7,3.2 2.3,1.1 1.4-1.1 .2-1.6 -.7-1.6 -.9-1.2 -1.6-.7zM603.8,705.1l.5,5.2 2.7,1.8 .3,1.4 -.7,1.6 -3.2,1.6 -2.8,3.5 -1.6,.2 -1.6-1 -3.2-.3 -1.6,0 -.8-.8 -1.2-3.2 2-4.8 2.1-1.6 2.7-.5 2.9,.5 .3,1.5 .4-1.5zM594.4,710.3l-1.9,3.2 .3,3.2 1.4,1 4.8,.8 1.6-.7 .7-2.7 -2.3-1.7 -.8-1.5 .1-1.6 -.9-.9zM600.7,710.3l-.1,1.8 1.6-.1 .5-1.7zM343,706.5l1.6-.6 2.1,1.2 .3,1.6 -.8,1.1 -1.5,.5 -2-1.6zM343.3,707.1l.1,1.6 1.2,.9 1.7-.9 -.4-1.6 -1.3-.7zM413.4,705.8l1.6,.2 2.2,4.3 -.6,3.3 -1.6-.4 -3-4.5 .1-1.6zM413.2,708.7l1.8,3.2 1.2-1.6 -1.2-2.2 -1.6,0zM458.2,709.5l1.6-.5 4.8,4.8 4.8-3.4 1.6-.1 3.1,3.2 1.7,5.3 4.8,2.6 3.2-4 1.6-.6 1.6,1.5 0,1.6 -1.6,2.3 -3.2-.5 -1.5,1.4 .9,3.2 -.6,1.6 -2,1.6 -1.6-.1 -3.2-1.5 -1.6,1.8 -.6-1.8 2-1.6 .3-1.6 -.5-1.6 -2.8-1.2 -3.6,1.2 -1.2,3.2 -1.6,1.3 -4.8,1.2 -.7,.7 .7,1.9 2,4.5 -1.1,1.6 -2.5,0 -4.8-2.2 -4.8,.8 -1.1-.2 -.8-1.6 4.4-3.2 -.9-.7 -3.2-.9 -3.2,.3 -5.7-1.9 1.1-1.6 7.4-3.2 2.8-1.6 .8-1.2 1.6-.2 3.2,4.8 1.6-.1 1.6-1.2 3.2,.1 1.9-.6 .1-1.6 -2.6-3.2 -3-6.4 -.2-1.6zM468.1,713.5l-1.9,3 -3.3,.2 1.3,3.2 2,1.8 4.8-.7 3.2,.5 1.5,3.2 1.3,3.2 2,.5 1.5-2.1 -1.5-4 -3.8-2.4 -2.6-6.5 -1.6-1 -1.6,.1zM448.6,723.1l-8,3.2 -.5,1.6 3.7,1.1 3.2-.7 4.8,.1 1.8,1.1 .3,4.8 4.3,2.3 1.6,0 .7-.7 .1-1.6 -3.7-4.8 -.6-1.6 -2.9-2 -1.6-2.8 -1.6-.6zM459.5,726.3l3.5,.4 1.4-.4 -1.4-.9zM490.2,710.2l1.4,1.7 0,1.6 -1.4,1.3 -1.6-.6 -.6-2.3 .6-1.2zM531.8,711.7l5.8,5 .5,3.2 -.5,1.6 -5.8,1.7 -1.6-.1 -4.8-2.4 -1.6,.5 -2.2,3.5 -1,6.2 -6.1,1.8 -.9,3.2 -2.6,2.3 -1.6,.5 -.7-2.8 2.2-3.2 -.2-1.6 -2.9-1.2 -3.2,2.3 -3.2,1.4 -.9,.7 -.4,1.6 1.3,2.6 1.2,.6 5.5,0 1.3,1.2 1.2,3.6 2,.4 4.8-1.2 1.9-2.4 2.9-5.7 1.6-.3 5.3,1.2 2.7,1.6 -2.2,4.8 -.3,3.2 2,1.6 4.3,1.6 1.4,1.6 -.8,1.6 -2.8,1.3 -4.8,.5 -3.2,1.2 -4.8-.3 -3.2-.3 -3.2-3.3 -3.2-1 -1.6,2.8 -1.6,5.8 -1.6,.4 -4.8-2.2 -6.4,2.3 -8-.4 -1.6,.6 -1.6,1.7 -1.6,.3 -5.4-7.8 -.2-1.6 .8-2.4 1.6-2.1 1.5-.3 -3.1-2.9 -.8-1.9 .8-1.9 1.6-.7 3.2,.8 1.6,1.2 1.6-.2 .7-.8 .7-1.6 -1.3-6.4 1.1-4.8 2-2.8 3.2-.8 1.6,.2 2.1,3.4 2.7,1.3 1.6,.1 4.8-2.2 4.8-.5 4.8,1.9 2.9-2.2 1.4-4.8 2.1-3.2zM531.1,713.5l-5.7,4.1 -3.2,.8 -1.9,1.5 -1.8,6.4 -2,3.2 2.5,.5 1.6-2.1 .2-1.6 .3-3.2 2.7-3.1 1.6-.7 3.2,2.3 3.2,.8 2.5-.9 1.7-1.6 .3-3.2 -1.1-1.6 -3.4-2zM488.7,726.3l-1,1.6 -1.3,4.8 -.1,1.6 2.4,6.4 -1.8,3.2 .5,4.8 -2,1.7 -4.8-2 -1.6,.3 -1.6,2.2 0,2.7 4.8,6.3 4.8-2.1 4.8-.6 3.2,.5 4.8-2.4 3.2,.5 3.2,1.6 1-.7 1.5-4.8 -.9-2.6 -3.2-1.6 -3.2-.5 -.8-4.9 -2.4-1.6 -1.6,.1 -1.6,1.9 -2.2-.4 .3-1.6 3.5-.3 3.2-7.6 3.7-1.7 1.4-1.6 -1.9-.4 -3.2,1.5 -4.8-2.1 -3.2-3.1zM523,737.5l-5.6,6.8 -4.5,1.2 -1.5,1.6 .6,1.6 2.5,1.6 2.9,3.2 1.6,.5 1.5-.5 -1.2-4.8 1-1.6 7.5-1.6 1.9-6.4 -.2-1.6 -.9-.5 -3.2-.4zM477.8,742.3l1.2,2 2.1-.4 .6-1.6 -1.1-1 -1.6-.2zM481.4,745.5l-.8,1.6 2.2,1.6 2.6,.6 .7-.6 .2-1.6 -.9-2.1 -1.6-1zM522.9,747.1l-2.5,1.6 .2,1.7 1.6,1.8 4.8,.7 1.6-.1 .4-2.5 -.8-3.2zM530,748.7l.5,3.2 1.3,.6 1.6-.2 1.6-1.2 .5-.8 -2-1.6 -1.7-.5zM509.4,712.2l1.6,.3 .5,1 -.5,.4 -1.6,.6 -1.5-1zM319,714.7l3.2-.5 3.2,1.6 4.8,.2 1.4,.7 -.4,1.6 -4.2,2.8 -3.2,2.8 -1.6,.1 -1.5-.9 -2.2-3.2 -.4-1.6 0-1.6zM320.5,715.1l-.9,1.6 .3,3.2 .5,1.6 1.6,1.6 1.8-.3 2.9-2.9 2.2-1.6 -.3-.4 -3.2-1 -3.2-1.8zM367,714.7l3.2-.4 1.9,.8 1.6,1.6 1.3,3.8 6.4,1.6 1.3,1 -.1,1.6 -6,1.1 -3.2,1.8 -1.4,3.5 -3.4,4.9 -3.2,1.1 -1.6-.4 -1.6-1.4 -2.2-4.2 -4.2-1.6 -1.6-1.6 -.9-3.2 .2-1.6 2.3-1.7 3.2-.6 4.8,2.9 4.8-.2 .3-.4 -3.3-3.2 -.7-1.6zM367.5,716.7l-.5,1.6 1.6,2.1 2.6,1.1 .5,1.6 -.4,1.6 -1.1,1.1 -7.8-1.1 -3.4-2.8 -3.2,.5 -1.6,1.8 -.1,2.1 .8,1.6 .9,.9 4.8,1.7 2.8,5.4 2,.6 1.6-.3 1.9-1.9 3.5-8 2.8-1.6 -1-1.6 -2.3-1.6 .3-3.2 -.5-1.6 -1.5-.9zM635.8,722.9l1.4,3.4 -.4,6.4 -1,1.4 -1.8,.2 -2-1.6 0-1.6 1.7-3.2 .5-4.4zM634,729.5l-1.1,1.6 .3,1.6 1,.5 1.6-1.4 0-1.5 -1.6-1.2zM650.2,722.1l1.6,.2 .8,.8 -.8,.5 -1.6,.2 -1.2-.7zM591,724.7l3.2-.7 3.2,.2 1.5,2.1 .1,1.6 -1.5,1.6 -3.3,1 -1.6-.5 -2-2.1 -.4-1.6zM592.3,726.3l-.3,1.6 1.5,1.6 2.3-.1 1.6-1.1 .4-2 -2-1.3 -1.6,.2zM432.6,724.9l4.1,3 -.4,1.6 -2.1,1.2 -1.6-.2 -1.3-1 -.3-1.1 .1-2.1zM431.9,727.9l.7,1.8 2.5-.2 -.3-1.6 -2.2-1.4zM536.6,725.8l1.6-1 1.6,.1 3.1,3 -.4,3.2 -4.3,6.5 -3.2,.6 -3.1-.7 2.1-8zM537.9,726.3l-1.3,.8 -1.5,2.4 -1.2,6.4 1.1,1.3 1.6,.1 2.1-1.4 3.2-4.8 .4-1.6 -.9-2.3 -1.6-1.1zM474.2,734l1.6-.9 1.2,1.2 -1.2,1.6zM59.8,735.7l3.2,.8 4,2.6 1.5,3.2 .2,4.8 -.9,3.6 -1.6,2.2 -4.8,2.3 -3.2,.4 0-.6 4.8-1 3.3-2.1 .9-1.6 .9-4.8 -.4-3.2 -1.5-3 -4.8-2.7 -3.2-.3 0-.6zM464.6,738l3.2,.3 1.6,1.9 .7,2.1 -.7,7.3 -1.6,4 -1.6,2.2 -1.6-.3 -1.2-2 .5-3.2 2.6-3.2 .6-1.6 -3.6-4.8 -.2-1.6zM465.3,739.1l-.9,1.6 1,1.6 2.4,2.3 .8-.7 .8-1.6 -.6-1.6 -1-1.2zM467.6,748.7l-1.4,.6 -1.8,2.6 .2,1.7 1.6,.3 1.7-3.6zM392.6,741.8l1.6,.2 .5,1.9 -2,1.6 -1.2-1.6zM605.4,741l1.6,.2 2,2.7 -.5,1.6 -1.5,1.6 -1.6,.6 -1.3-.6zM605.4,743.9l0,2 1.9-.4 .4-1.6 -.7-1.3zM496.6,748.6l1.4,1.7 0,1.6 -1.4,1.8 -1.6-.2 0-2.7zM666,750.9l0,4.2 0,.6 -1.1-.6 -.9-1.6zM547.8,753l3.2-1 1.7,1.5 -1.1,3.2 -3.2,3.2 -1.4,3.2 .8,3.2 1.6,.3 3.4-1.9 2-3.2 .5-3.2 -.7-3.2 1-1.6 3.4-1.1 1.9,1.1 .2,1.6 -3.4,3.2 -.5,1.6 .5,3.2 -2.5,4.8 -1.8,1.6 -1.8,1.6 -.5,1.6 .9,1.6 2.4,1.6 .5,3.2 -.7,1.3 -3.2-.9 -3.2-3.2 -1.6-.5 -1.9,4.9 -1.3,.7 -1.6-2.3 -.5-1.6 .5-1.1 2.9-2.1 -.6-3.2 .2-3.2 -2.6-8 .5-1.6zM557.5,753.5l-1.3,1.6 .7,1.6 1,0 2.2-1.6 -.5-1.6zM546.8,755.1l-3.9,3.2 -.5,1.6 2.2,4.6 .9-1.4 4.6-6.4 .4-1.6 -1.1-1.2zM546.1,769.5l-.3,1.6 1.8,1.6 1.8-.8 .5-2.4 -.5-.6 -1.6-.1zM648.6,755l4.8,2.3 .5,1 -.5,1.2 -3.2-2.2 -2-.6 -.1-1.6zM573.4,756l3.2-.9 .8,1.6 0,3.2 -.8,2.2 -1.6-.6 -2.5-3.2 -.1-1.6zM527,759.7l1.6-.8 1.6,.5 1.6,2.1 -1.3,1.6 -6.7,2.2 -1.3,1 .8,3.2 -.5,1.6 -2.2,1.4 -.8,1.8 -7.2,4.4 -4.8,0 -1.9-1.2 -5.2-3.2 .7-2.1 4.8-3 4.8,1.1 1.5-.8 1.7-3.5 6.1-1.3 1.5-3.2 3.6-.7zM526.1,761.5l0,1.6 2.5-.5 1.4-1.1 -1.4-1.2zM516.1,766.3l-1.9,1.3 -1.6,3 -1.6,.5 -4.8-1 -3.6,2.6 -.5,1.6 4.1,2.4 1.6,1.2 3.2,.5 1.6-.4 5.3-3.7 2.5-4.8 -.1-1.6 -1.3-1.2zM464.6,761.2l1.6,.2 3.7,3.3 1,1.6 -.5,3.2 -1,1 -1.6,0 -3.2-1.7 -1.9-2.5 -.5-3.2zM464,763.1l-.4,1.6 1.7,3.2 2.5,1.2 1.8-1.2 -.2-1.8 -3.2-2.9zM655,761.4l1.9,1.7 .2,1.6 -.5,.2 -2.5-.2 -.3-1.6zM624.6,763.4l1.6,0 1.4,1.3 -.2,1.6 -1.2,.6 -2.3-.6 -.5-1.6zM493.4,765.8l1.9,.5 -1,1.6 -1.5,0 -.6-1.6zM456.6,769.3l2.7,1.8 2.1,3.5 3.2,1.5 1,1.4 .4,4.8 -2,4.8 .9,1.6 2.5,1.6 1.8,3.2 -.8,3.2 -2.2,2 -.7,2.8 .7,4.3 2,3.7 .4,3.2 -.8,2.2 -3.2,2.6 -.8,1.6 .2,1.6 1.2,4.8 4.6,8 .3,1.6 -.9,1.6 .1,1.6 1.7,7.1 1.6,.6 2-2.9 1.1-3.2 1.7-1.3 .6,1.3 -1,4.8 .6,4 -1.5,0 -.3-1.2 -1.1,1.2 -5.8,0 -.8-4 -3.3-8 -.4-1.6 .3-1.6 1.3-1.6 -.2-1.6 -3.6-9.6 0-3.2 4-1.9 1.6-2.9 -.3-1.6 -2.2-3.2 -.3-1.6 -.7-11.2 1.4-3.2 -2.7-2.7 -.6-2.1 2.3-4.8 .4-3.2 -.5-1.6 -3.7-1.6 -4-4.8 -1.9-.1 -4.7,4.9 -1.7,.7 -3.2,.4 -1.6-1 -.2-1.7 -1.4-.8 -4.8,1.5 -.8,.9 -.8,4.1 -1.6,1.7 -17.6,4.7 -3.2,2.4 -4.8,1.3 -4.8-2.3 -1.6-.1 -1.5,1 -.1,2.1 -3.2,4.3 -1.6,2.6 -4.8,1.2 -3.2,1.8 -3.2,.7 -2.1,1.7 -1.5,3.2 .4,4.8 -.4,1.6 -1.2,1 -4.8,1.4 -1.6-.1 -8-5.5 -1.8,1.6 -.3,3.2 -1.1,.7 -3.2-.8 -1.6,1.8 -2.9,4.7 -.5,3.2 -1.4,2.5 -4.9,.7 -1.1,1.6 2.8,7.3 1.6,1.7 1.6-.2 1.6-1.8 1.6,.3 .4,.7 -.6,3.2 -3.4,4.8 -1.2,4 -4.3,0 3.1-8.8 -3-8 -1.8-3.2 2.8-3 3.2-1 .7-.8 1-3.2 3.7-4.8 1-3.5 3.2-1.7 3.2-3.5 6.7,2.3 2.9,2.2 1.6-.3 3.5-1.9 1.1-4.8 3-3.2 11.6-6.4 4.8-8.1 3.2-.5 6.4,1.8 4.8-1.4 3.2-2 3.2-.6 8-3.5 4.8-.6 1.7-1.1 1.5-4.5 1.6-1.2 4.8-1.1 1.6,.2 3.2,2.4 1.6-.4 6.4-4.9zM567,769l1.6-1.1 1.6,.4 1,1.2 -1,2.5 -1.6,.6 -1.6-.9zM527,774.2l1.6-.8 1.6,.7 .3,1.8 -1,1.6 -2.5,.7 -1.5-.7zM555.8,781.7l1.8,2.2 0,4.8 1.4,1.3 4.8-.9 4.8,.6 3.2-1.6 3.1,2.2 .5,1.6 -2.2,3.2 -.2,1.6 2,6.4 -1.4,1.6 -1.8,.1 -8-3 -2.6-1.9 -3-4.8 -1.3-4.8 -2.7-1.4 -2.2-3.4 2.2-3.1zM555.5,783.9l-1.3,.5 -.8,1.1 .8,1.9 1.6,.4 .9-2.3zM570.8,790.3l-2.2,1.6 1.6,1.5 1.6,.1 1.6-1.4 0-.7 -1.6-1.5zM560,791.9l-.3,1.6 .9,2.1 1.6,2.6 1.6,1.3 3.2,1.3 3.1,2.3 1.7,.4 1.3-.4 .3-1.6 -1.6-2.8 -1.6-1.2 -3.2-.2 -.4-.6 1.7-3.2 .2-1.6 -4.7-1.5zM615,782.2l3.2,.3 1.8,1.4 .7,9.6 1.2,1.6 3,1.6 .6,1.6 -2.5,1 -3.2-.1 -3.2-3.8 -3.2-.6 -3.2,.7 -3.4-.4 -1-1.6 .5-3.2 -4.1-.3 -1.6-.7 -.9-.6 .4-1.6 2.1-.9 3.2-.1 1.6,1 0,2.3 6.4-.6 .5-1.7 -.9-3.2zM609.2,791.9l.4,1.6 .6,.2 3.2-1.1 3.8,.9 1.3-1.6 -1.9-1.4zM643.8,786.7l1.6,.2 .9,1.8 -.9,2.6 -1.6,.3 -1.6-.3 -.7-1 .3-1.6zM525.4,788.6l1.6,.5 .5,1.2 -2.1,2.1 -2-2.1 .4-1zM666,788.6l0,1.2 -3,1.1 -3.2,4 -1.7,.2 -1.6,1.6 1.8,0 1.5-1.3 6.2-1.8 0,1.1 -1.4,.4 -4.8,2.4 -3.2,.8 -1.6-.7 -.4-.9 2-2.8 3.2-1.2 3.2-3.1zM498.2,791.2l1.6-.7 1.2,1.4 -1.2,1.9 -2.1-.3 -.2-1.6zM525.4,797.8l1.6-.6 1.6,.8 1,1.9 -.1,1.6 -2.5,2.6 -3.2,1 -2.1-.4 -1.7-1.6 -.4-1.6 1-2.1zM524.3,799.9l-2.6,1.6 .1,1.6 2,1.1 3.2-1 1.5-1.7 .1-1.7 -1.6-1.1zM634.2,800.6l1.1,.9 -.1,1.6 -1,.4 -.8-2zM551,803.7l3.2-.2 1.9,1.2 -.2,1.6 -1.8,1.6 -3.1,.9 -1.4-.9 .3-3.2zM344.6,810.1l1.6-.3 1,1.3 .5,1.6 -.4,1.6 -1.7,1.6 -2.6,.8 -1.6-.6 -.5-1.8 .8-1.6zM343,812.7l-.9,1.6 .9,1.1 3-1.1 .6-1.6 -.4-1.1 -1.6-.2zM559,810.7l1.6-.3 1,.7 .3,1.6 -1.3,1.5 -1.6-.3 -.8-1.2zM543,813.7l1.6-.7 1.6,.9 2.8,5.2 .3,1.6 -.9,1.6 -2.2,1.6 -3.2,.7 -1-.7 -.4-1.6 .5-6.4zM542.9,815.9l-.4,4.8 .5,2.4 1.6,.5 3.2-1.9 .6-1 -.3-1.6 -3.5-4.8zM488.6,815.7l.7,.2 .1,1.6 -.8,.3 -.9-.3 .3-1.6zM495,815.7l1.6-.5 1.6,.8 .7,1.5 -.7,5.3 -1.5,2.7 -1.7,1.1 -1.8-1.1 .2-2 2-2.8zM360.6,820.7l1.6-1.3 1.6,.6 1.8,2.3 -.2,7.6 -1.6,2.2 -1.6,0 -1.6-1.8 -2.4-6.4zM362.1,822.3l-.7,1.6 .8,1.6 .7-1.6zM413.4,838l1.6,.3 2.1,1.6 -6.9,3.3 -1.2,1.5 -1.3,4 -2.3,0 -1.4,0 -.4-2.4 -2.2-3.2 .1-1.6 .7-.4 3.2,.3zM597.4,839.6l1.6-.1 1.6,1.1 3.7,4.1 -.1,4 -1.1,0 -.3-4 -3-3.2 -2.4-.6 -1.3,2.2 2.4,5.6 -1.1,0 -2.5-5.6 .4-1.6zM341.4,844l2.4,.7 2.1,4 -2,0 -.7-2.4 -1.8-.5 -.8,2.9 -.7,0 .3-2.4zM395.8,844.3l1.6-.6 1.2,1 -2.2,4 -2.2,0 -2.1,0zM655,846l1.9,.3 1,2.4 -.7,0 -.6-1.4 -1.6-.4 -1.6,1.8 -.7,0 .7-1.5z" fill="#FFBEBE" stroke="#FFBEBE" stroke-width="0.6"/>
<path d="M218.2,545.5l10.4,0 .9,1.6 2.1,1.6 4.2,1.5 1.6-.4 5-4.3 21.8,0 .4,2.5 2.1,.7 -.2,1.6 -5.1,1.8 -1.8-.2 -3-2 -1.6,.6 -6.3,4.6 -5,1.6 -3.1,3.9 -1.6,1.1 -19.2-9.1 -2.3-3.9 0-3.2zM336.6,545.5l17.4,0 .8,4.8 -.6,1.6 -1.6,1.1 -3.2-.9 -1.6,.9 -3,3.7 -1.9,0 -2.2-1.6 -4.1-4.8 -1.2-4.8zM623,545.9l1.6,0 1.1,1.2 .6,1.6 -.8,1.6 -2.5,.1 -1.3-1.7 .1-1.6zM573.4,558.1l1.6-.3 1.6,.6 1.1,1.5 .5,3.6 5.3,2.8 .4,1.6 -2.3,3.2 -2.9,0 -3.7-3 -3.2,.5 -1.6-1 -1.8-2.9 -.4-1.6 .6-1.6zM627.8,576.3l1.4,1.2 -1.4,1.6 -1.6-1.6zM635.8,578.7l1.6,0 1.6,1.2 1.9,4 -.3,1.7 -1.6,.2 -3.7-1.9 -.8-3.2zM587.8,588.6l3.4,.1 .6,1.6 -1.4,3.2 .5,1.6 2.6,3.2 -.6,1.6 -2.8,1.6 -3.9,1.2 -1.6-.1 -1.8-2.7 .5-1.6 3.5-3.2 -2.3-4.8zM562.2,604.4l.8,.3 .2,1.6 -1,.7 -1.6-.2 -.5-.5 .5-1.1zM384.6,607.1l1.6-.4 1.6,1.2 -.4,1.6 -3.3,1.6 -1.4,0 .2-1.6zM575,612.7l1.6-.5 1.6,1.1 1.8,2.6 -.4,1.6 -3,.8 -1.8-.8 -1-1.6zM613.4,625.5l3.4,0 -.1,4.8 3.8,3.2 1.1,9.6 1.4,1.5 3.2,.6 1.4,1.1 2.1,3.2 -.3,.7 -1.6,0 -3.2-1.4 -1.6,0 -3.2,1.5 -1.6,0 -5.4-2.4 -1-1.3 -1.6,.7 -1.8,2.2 -1.4,.6 -1.6-.3 -1-1.9 1-3.2 1.6-2.2 3.2,3.5 1.6,.1 2.2-3 .4-1.6 -.6-1.6 -2-1.5 -4.8-.7 -2.2-2.6 -.1-1.6 3.9-7.5zM461.4,631.9l1.6-.8 1.6,.7 1.3,1.7 0,1.6 -1.3,1.2 -1.4,.4 -1.8-2.1zM538.2,630.5l4.8,.6 1.6,.9 .8,1.5 1.4,6.4 -1.6,1.6 -.6,1.6 1.1,6.4 -.7,1.6 -2.2,1.6 -3,4.8 -2.2,1.6 -.2,3.2 -.8,1.2 -1.6,.7 -3.2-1.7 -1.6,0 -6.8,1.4 .4,2 7.9,4.4 .8,3.2 -1.3,1.6 -4.2,2.7 -3.2,.1 -1.5-1.2 .3-3.2 -.4-1.7 -6.4-4 -2.3-.7 2.5-4.8 4.6-3.8 4.5-2.6 .2-1.6 -1.4-3.2 1.2-1.6 3.5-.2 1.6-.8 6.7-5.4 2.7-4.8 -.1-1.6 -2.5-4.8zM532.7,652.7l.7,1.8 1.6,.5 1.7-.7 -1.7-3.1 -1.6,.5zM526.9,659.1l.1,1.6 1.6-.2 1.7-1.4 -.1-.6 -1.6-.6zM518.3,665.5l.7,1.7 3.2,1.8 2.7,7.7 2.1-.1 1.6-1.2 1.4-1.9 .1-1.6 -1-1.6 -3.7-1.9 -3.2-.5 -1.6-2.8 -1.6-.9zM59.8,633.4l1.6,.2 .7,1.5 -.7,1 -1.6,.2 -1.6-.4 0-2.1zM595.8,633.2l1.6,.1 1.8,1.8 -.4,1.6 -1.4,.9 -3.3-.9 -.8-1.6zM168.6,634.9l1.8,.2 -2.3,3.2 -1.1,3.4 -1.9-.2 .1-3.2zM64.6,644.4l1.5,1.9 -.6,1.6 -.9,.6 -1.6-.1 -.4-2.1zM519,644.4l2.7,1.9 .3,1.6 -3,2.4 -3.2,.4 -1.8-1.2 .2-1.6 3.2-3.2zM579.8,644.2l3.2-.1 .9,.6 .9,8 -1.8,2.8 -3.2-.2 -.8-1 1.4-4.8 -1.2-4.8zM663,645.9l3-.1 0,5.2 -3-.2 -1.9-1.3 .3-2.2zM656.6,652.3l1.9,.4 .3,1.6 -.6,1.7 -1.6,.5 -.6-.6 -.5-1.6zM379.8,653.8l1.6-.8 1.6,.1 .7,1.2 -.7,1.6 -1.6,.8 -1.6-.7 -.4-1.7zM554.2,654l9.6,1.5 3.5,3.6 .7,1.6 -.3,1.6 -.7,.6 -5.5,1 -1.9,1.6 -.4,1.6 3,4.7 3.2,1.8 1.6,.1 3.2-2.6 4.8-2.3 3.8-3.3 2.6-3.4 1.6-.4 1.6,1.3 .8,2.5 -.1,3.2 -2.2,8 .8,1.6 4.1,3.2 1.5,3.2 -.1,3.9 -1.6,2 -2.7-1.1 -1.5-1.6 -.6-4.1 -4.5-2.3 1.3-.6 0-1.7 -1.6-.3 0,2.6 -1.6,1.3 -.9,1.9 .6,6.4 -1.3,1.4 -8,.5 -4.1-1.9 -2.3-4.4 -3.2-.7 -1.7-1.3 .6-3.2 1.1-1.2 3.2-.8 1.1-1.2 .5-1.6 -1-1.6 -.6-.2 -6.4,2.7 -1.6,.1 -3.2-1.7 -4.8-1.3 -1-1.2 .4-1.6 2.2-1.6 1.6-.5 6.4,.5 2.6-1.6 0-1.6 -4.2-5.7 -6.4-.4 -1.2-1.9 1.2-1 1.6-.2 4.8,1.6 .2-3.6zM559.2,657.5l-2.1,1.6 -1.1,3.2 1.4,1.6 3.2-1.1 3.8-2.1 .2-1.6 -2.4-2.1zM579.2,668.7l-2.6,3.2 -3.2-.2 -2.1,1.8 3.7,2.6 1.6-.8 1.6-1 3.2,.1 1.6-2.1 .2-2 -.9-1.6 -.9-.6zM547.1,671.9l.1,1.6 5.4,2.4 3.2-1 1.2-1.4 -1.1-1.6 -6.5-.7zM567.9,676.7l.7,2 1.6,.2 1-.6 .5-1.6 -1.5-1 -1.6-.2zM572.6,679.9l-2.4,1.2 -4.8,.1 -3.2,1.5 -3.2-.9 -1.6,.9 .3,2 2.9,.4 1.9,2.8 1.3,2.8 1.6,1 3.2,.5 4.8-1.4 1.1-1.3 -.4-4.8 .6-4.8 -1.3-.6zM586.1,684.7l-1.1,3.2 1.2,1.3 1.7,.3 .8-3.2 -.9-2.2zM634.2,654.2l2,.1 1.2,1.6 -1.2,3.2 -2,2.5 -1.6-2.2 -.1-1.9zM122.2,655l2.9,.9 2.2,1.6 0,1.6 -.9,1.6 -2.4,1.6 -1.8,.5 -2-.5 .4-6zM121.8,655.9l-.9,1.6 0,3.2 1.3,1.2 3.4-1.2 .8-1.6 -.3-1.6 -2.3-1.6zM184.6,655l1.6,.3 .4,.6 -.4,3.4 -1.6-.2 -.6-1.6 -.1-1.6zM311,655.6l3.2-.5 3.8,2.4 -3.8,2.4 -3.2,.8 -1.6-.9 -.1-2.3zM352.6,656.9l3.2,1.5 1.6-.8 1.8-.1 1.4,1.6 .7,4.8 .8,1.6 4.4,3.2 -1.4,6.4 -1.3,1.5 -3.2,1.5 -.8-1.4 .5-3.2 -1.1-1.6 -3.4-.5 -1.6,.5 -.6,1.6 2.2,4.1 1.6,1.4 1.6,.2 3.2,3.5 11.7,2 -3.7,1.2 -4.8,3.2 -3.2,.4 -.5,1.6 2.1,1.8 7.1,3 .5,1.6 -2.7,4.8 1.5,2.5 1.6,.6 4.8-2.5 3.2,.2 .8,.8 3.6,6.4 .4,3 1.8,3.4 -1.2,3.2 .5,3.2 3.4,3.2 -.2,1.6 -1.1,1.3 -1.6,.2 -4.8-2.5 -6.2,1 -3.1,4.8 -3.5,4 -3.2,.9 -3.2-1.4 -3.2-4.9 -3.2-1.2 -1.6-1.4 -2.2-5.6 1-1.6 1.2-.6 3.2-1.3 3.2-.1 1.6-.7 1.4-3.7 -.9-1.6 -3.7-.1 -1.2-1.5 .4-3.2 3.7-8 -6.1-7.6 -4-2 -1.2-1.6 .6-1.6 1.4-.7 1.6-2.6 .7-3.1 -2.3-1.8 -4,.2 .6,3.2 1.8,3.2 -1.6,1.5 -3.2-.7 -1.6,.8 .7,8 -.9,1.6 -6.2,1.1 -1.6-.3 -1.3-2.4 -.8-3.2 -.1-6.4 3.8-2.3 3.2-3.4 6.4-1.3 .2-2.6 -1.6-4.8 1.4-1.6 3.2-1.3 6.5-5.1 .7-1.6 -.7-1.6 -1.7-1.3 -3.2-.5 -1-1.4zM357.6,665.5l-2.3,1.6 -1,1.6 7,3.2 .9,1.6 1.6,0 1.4-3.2 -.8-1.6 -3.8-3.3 -1.6-.7zM341.5,681.5l-6.1,6.4 -.3,4.8 .8,3.2 .7,1.1 1.6,.7 1.9-.2 2.9-.5 1.3-1.1 -1.1-4.8 0-3.2 1.4-2.1 2.3-1.1 .5-1.6 -1.2-1.9 -3.2-.2zM356.5,683.1l-2.8,6.4 .5,.9 3.2,2.7 1.3,2.8 1.9,2.2 1.6,.1 2.5-2.3 -2.5-2.5 -2.4-2.3 -.1-1.6 .8-1.6 1.7-.4 3.2,.4 2.1-1.6 -.3-1.6 -5-.4 -3.2-2.1 -1.6-.1zM363.3,702.3l-1.1,.6 -1.6,2.6 -1.3,4.8 1.3,1.1 1.6,0 3.2-1.6 3.2-1 .8-1.7 -4-5.6zM375.8,705.5l-.3,3.2 1.1,4 1.6,1.4 1.6,.3 2-.9 .7-3.2 -2.7-4.7 -1.6-.8zM366.6,715.1l-1.7,3.2 .7,1.6 3.3,3.2 -.3,.4 -4.8,.2 -4.8-2.9 -3.2,.6 -2.3,1.7 -.2,1.6 .9,3.2 1.6,1.6 4.2,1.6 2.6,4.8 2.8,1.2 3.2-1.1 3.4-4.9 1.4-3.5 3.2-1.8 6-1.1 .1-1.6 -1.3-1 -6.4-1.6 -1.3-3.8 -1.6-1.6 -3.5-.9zM405.4,657.2l4.8-.9 1.1,1.2 .9,6.4 -.4,1.1 -2.4-1.1 -7.1-3.2 -.1-1.7zM405.3,659.1l.1,1.7 3.5-.1 -.3-2zM255,659.1l1.6,0 2.4,1.6 .4,1.6 -1.4,3.2 .2,1.6 3.2-.2 2.5-1.4 .6-3.2 1.7-2.7 1.6-.1 2.4,1.2 .7,3.2 -.7,4.8 1.4,4.8 -1.7,11.2 1.1,1.5 4.8-1.3 1.6,.2 1.3,1.2 1.9,3.8 12.8,7.1 4.8,.8 3.2,1.9 8-2 2.5,1.2 1.1,3.2 -.4,4.8 1.3,3.2 -.8,1.6 -2.7,1.6 .8,4.8 -.7,1.6 -2.7,1.3 -6.4,1.1 -5.6,5.6 -2.4,.9 -1.4-.9 -.9-1.6 -.2-1.6 1.1-3.2 -.1-4.8 -1.7-.6 -1.6,1 -2.8,2.8 -.5,3.2 -1.5,.4 -3.2-2.2 -4.8,1.5 -1.6-.3 -4.8-4.7 -1.6-.1 -6.4,1.6 -1.6-.5 -1.6-2.7 -1.6-.9 -4.8,2.5 -4.8-.6 -3.2,.7 -1.6-.8 -1.3-1.9 -1.1-3.2 .3-1.6 1.9-1.6 -.3-1.6 -4.3-4.7 -.6-1.7 .4-8 -10-9.6 -.1-1.6 1.7-3.2 .6-3.1 1.7-1.7 .2-1.6 -1.1-1.6 -3.1-1.6 -.4-1.6 2.7-4.4 4.8-2.2 8-.8 6.4,2zM239.1,663.9l-4.9,6.4 .3,3.2 2.8,3.2 -1.5,1.8 -6.4,2.2 -.7,.8 .1,1.6 3.8,4.5 1.6,1.1 1.6-.1 1.3-2.3 1.9-.7 4.8-.8 3.2,.9 1.6,.5 3.2-.9 4.8,1.6 3.2-.1 1.6-2.1 -.4-1.6 -7-4.8 -3.8-7.3 -1.6-1.3 -3.2-.1 -1.6-6 -1.6-.8zM266.7,663.9l.2,1.6 -1.1,1.6 -6,2.6 -.8,.6 -.5,1.6 7.9,6.4 0,3.2 1.4,3 1.6-2.1 1.1-7.3 -.6-3.2 -2.4-4.8 1.3-3.2 -1-1.4zM255,675.1l.2,1.6 1,1.6 5,3.2 2,3.2 1.4,.7 .4-.7 .2-4.8 -.6-1.8 -8-4.4zM239.9,686.3l-2,1.6 0,1.6 1.1,1.3 5.7-1.3 1-1.6 -1.1-1.6zM274,686.3l-3,1.3 -3.2-1.1 -3.2,1.6 -1.3,1.4 -.6,1.6 .6,1.6 2.9,1.1 1.6-.5 4.8-3.3 4.8,.8 1.1-1.3 -1-3.2 -1.7-.6zM252.9,687.9l-3,1.6 -.5,3.2 .8,.5 3.2-1.5 1.6,.1 4.2,2.5 1.9,6.4 .1,4.8 1.8,1.9 1.6-.8 2.1-4.3 2.7-2.9 5.9-5.1 1-1.6 -.5-1.1 -2.6-.5 -5.4,3.7 -3.2,.5 -2.3-1 -.9-1.1 -.2-3.7 -1.4-1.1zM243.8,691.1l-3.9,1.6 -.6,3.2 -.2,4.8 .5,1.6 3.8,4.8 0,3.2 -1.6,3.2 .4,1.4 1.6,1 8-.1 3.2-2.6 3.2-1.5 1.6-3 -1-3.2 .6-3.2 -1.3-6.4 -1.2-1.6 -1.9-1 -1.6,.2 -3.2,2.4 -1.6,.1 -1.3-1.7 -1-3.2zM277.7,692.7l-3.5,4.8 -3.2,1.9 -2.9,2.9 -1.9,9.6 -3.2,3.9 -1.9,.9 .3,.5 3.2,0 3.2-1.4 1.6,.2 3.2,4.1 3.2,1.7 3.5-1.9 1.3-2.1 1.6-.5 1.6,.6 1.8-1.2 -2.2-3.2 1.4-3.2 0-1.6 -2.6-4.2 -1.1-5.4 2.6-4.8 -1.4-1.6 -3.3-1.4zM285.6,695.9l4.2,9.6 .4,1.6 -1,3.2 .6,1.6 4.6,3.2 -2.3,9.6 -.1,1.6 1,1.6 2-.4 6.4-7.3 4.8,.4 2.3-.7 .7-1.6 -1.9-4.8 .8-1.6 2.6-1.6 .7-1.6 .9-6.4 -1.3-2.8 -1.6-.6 -8,2.3 -4-2.1 -4-.9 -6.4-2.9zM283.2,699.1l.6,2.7 1.6,1 .3-.5 -.3-3.5 -1.6-.8zM392.6,658.1l1.6-.6 1.6,1.3 -.3,1.9 -1.3,.7 -2.4-.7 0-1.6zM325.4,659.9l1.6,0 1,.8 -1,2.1 -1.6,.3 -1.4-.8 .1-1.6zM503,661.9l1.7,.4 1.4,1.6 .1,4.5 3.3,5.1 3.1,1.1 3.2-.9 1.6,.3 3,2.7 0,1.6 -1.8,4.8 -1.2,1.3 -1.6,.3 -1.6-.4 -4.8-4.2 -3.2-2.5 -1.6-.5 -3.2,.9 -3.2,3.4 -1.6,.8 -3-2.3 -.3-1.6 .8-1.6 5.5-4.8 1-1.6 1-3.2 -.2-3.2 .6-1.6zM502.8,670.3l-4.6,5.2 -3.2,1.8 -.5,1 .5,1.4 1.6,.7 3.2-3.2 4.8-1.6 1.6,.2 3.2,2.7 4.8,3.9 1.6,.2 2.3-2.7 .4-1.6 -.5-1.6 -2.2-1.1 -3.2,.8 -3.2-.4 -1.6-1.3 -3.2-4.6zM307.8,663l1.6,0 .7,.9 .6,1.6 -.4,1.6 -2.5,3.1 -1.6,.1 -2-3.2 .5-1.6zM307,665.5l-.9,1.6 1.7,.9 .9-.9 0-1.6 -.9-.4zM634.2,663.3l2.6,5.4 -.5,1.6 -2.1,1.6 -1.6-6.4zM296.6,666.5l1.3,.6 0,1.6 -1.3,2.1 -1.6,.1 -.7-.6 0-1.6zM429.4,666.8l3.2,.6 6.4,4.2 .5,1.9 -.5,3.6 -1.6,.7 -4.8-4.6 -2.7-1.3 -1.3-1.6zM430.9,668.7l-.6,1.6 3.7,3.2 1.8,2.4 1.6,.8 1.3-1.6 .1-1.6 -.8-1.6 -5.4-3.1zM411.8,667.9l1.6-.1 5.4,2.5 .8,1.6 -.2,1.6 -1.2,1.6 -1.6,1.2 -4.3-4.4 -1.3-1.6zM414.2,670.3l-.1,1.6 1.2,1.6 1.3,.8 1.6-1 .3-1.4 -1.7-1.6zM275.8,669.9l1.6-.2 .7,.6 -.1,1.6 -.6,.5 -1.5-.5zM242.2,671.9l1.6-.6 1,5.4 -1,1.8 -1.4-.2 -2.4-1.6 -.1-1.6zM315.8,674.8l1.6-.5 3.4,.8 2,1.6 -4.5,8 -4.1,2.7 -3.2,.7 -3.2,3.5 -1.6,.5 -4.8-2.5 -3.2,3.1 -3.2,.7 -3-2.3 -.5-1.6 .5-1.6 1.4-1.5 9.6-4.3 6.4,.1 4.8-1.8 1.6-2.1 -.5-3.2zM317.2,678.3l-3,3 -4.8,1.8 -4.8-.5 -4.8,3.1 -3.2,0 -1.6,.7 -1.9,1.5 -.6,1.6 .9,2 1.6,.9 1.6,.1 1.6-.7 3.2-3.4 4.8,2.3 1.6-.9 1.6-2.4 6.4-1.7 2.8-2.6 .7-1.6 .3-3.2 -.6-1.4 -1.6,.5zM391,674.7l3.2,2.8 4.8,.9 1.6,1.5 -.8,3.2 -2.4,2.4 -1.6,.3 -1.8-4.3 -4.6-2.1 0-3.5zM390.5,676.7l-.3,1.6 .8,.8 2.1-.8 -1.2-1.6 -.9-.5zM395.1,679.9l.7,3.5 1.6,.6 1.6-1.2 .6-1.3 -.6-2 -1.6-.4zM536.6,674.6l1.6-.5 1.9,1 -1.9,1.4 -2.7,.2 .4-1.6zM328.6,676.4l2.2,.3 .1,1.6 -.7,.8 -1.7-.8 -.4-1.6zM410.2,677.9l2.7,.4 -1.1,1 -1.6-.3 -.6-.7zM421.4,679.6l3.2-.7 2.3,1 1,1.6 -.1,2 -1.5,2.8 -4.9,4.4 -3.2,.3 -1.8-1.5 -.3-1.6 .5-.8 4.4-2.4 -1.5-3.2 .9-1.6zM423.2,679.9l-1.3,1.6 1.1,2.4 1.6,1.3 1.6-.5 .9-1.6 .1-1.6 -1.9-1.6zM418.2,687.9l0,1.8 3.2-.1 .9-1.7 -.9-.9zM443.8,680.1l1.6,0 2.1,1.4 -.1,4.8 1.4,3.2 .5,3.2 .8,1.6 3.4,1.6 .6,1.6 -.9,6.4 -.9,1.6 -2.1,1 -1.6-.1 -3.2-2.2 -1.6,.4 0,2.5 2.5,1.6 3.9,4.6 1.6,.5 3.2-1.5 1.9-3.6 2.9-2.6 2.1,2.6 2.7,1.7 1.6-.6 3.2-3.4 3.2-1 2.7,1.7 .8,9.6 1.3,1.6 3.2,.4 3.2-3.5 1.6-.9 3.2-5.4 1.6-.3 1.6,.2 1.3,1.5 1.2,6.4 3.9,2.1 3.2-3.3 3.2-1 3.2-3.1 3.2-.7 2.5,1.2 .4,1.6 -1.3,3.2 1.2,4.8 -1.7,3.2 2.1,1.2 1.6-.6 2.2-5.4 1.3-1.6 4.5-3.8 3.3-1 3.1-3.1 1.6-.4 3.2,3.1 3.2,1.8 3.9-1.4 1.2-1.6 .8-4.8 0-1.6 -1.5-3.2 .8-1.6 2.8-2.5 3.2-.5 6.4,1.4 5.8,4.8 .8,6.4 -.7,4.8 5.3,3.9 4.8-.3 1.6,.2 1,1 -.6,1.6 -3.7,3.2 0,9.6 -4,1.6 -3.9,2.7 -3.2-1.5 -1.6,.3 -3.2,3.3 -1.6-.5 -.7-1.1 .6-6.4 -3.1-4.8 -1.6-8.6 -1.6-1.4 -1.6-.3 -1.6,.7 -1.4,1.6 -1.1,3.2 3.9,4.8 -.2,1.6 -4.4,8 -1.6,1.1 -4.8,.3 -1.6,.8 -1.5,4.2 .6,1.6 5.7,2.6 1.9,2.2 -.6,1.6 -1.3,1 -5.9,2.2 -1.7,1.6 5.6,4.8 -.4,1.6 -8.5,3.2 -.8,1.6 1.1,3.2 1,.5 3.2,0 1.3,1.1 1.3,4.8 -1,2.4 -4.8,2.4 -.9,1.6 -.1,1.6 4.4,3.2 0,1.6 -3,3.2 -.1,1.6 2.5,3.2 .8,3.2 -3.6,3.5 -3.2,1 -4.8-.4 -1.6,2.1 -1.2-1.4 -.5-3.2 1.6-4.8 -.5-3.2 4.7-1.6 -1.7-9.6 1.5-3.2 -.7-3.4 -3.2-.2 -4.8,2.9 -3.2,.1 -8-3.7 -1.9-2.1 .3-2.3 4.8-3.4 1.6-.4 4.8,1 3.2-4.6 4.3-1.5 2.1-2.5 4.8-1.1 1.7-1.2 .7-1.6 -8.8-.9 -1.6-.6 -3.2-3 -1.6-.5 -1.9,1.8 -.6,4.8 -2.3,2 -1.6,.6 -1.6-.4 -3.2-2.1 -6.4,2.1 -4.8,.3 -3.2-.8 -1.6,1.3 -1.6,2.8 -3.2-3.1 -4.3-7.5 .1-3.2 1.5-3.2 -2.2-4.8 .7-3.2 -1-1.6 -4.1-3.2 -.1-1.6 -1.9-4.8 .3-1.6 2.4-1.6 -1-1.6 -2,1.6 .2,1.6 -2.7,1.6 -5,1.6 -.7,1.6 2.2,4.5 1.6,1 3.2,.2 2.6,3.9 -.3,9.6 -3.8,8 .3,1.6 1.2,1.6 3.8,3.2 .5,6.4 -1.1,1.7 -3.2-.7 -4.8-2.6 -.9,0 -.4,1.6 .7,1.6 3.6,3.2 1.8,5.2 2-.4 2.8-3.6 1.6,0 1,2 -.8,1.6 -3.4,1.7 -2.8,3.1 -.7,1.6 3.4,4.8 .3,1.6 -1.8,3.6 -2.4,2.8 -.4,1.6 1.2,4.3 2.7,2.1 -1.4,6.4 -3.2,4.8 .1,1.6 3.3,8 4.6,4.8 .3,1.6 1.6,1.4 3.2-.5 .8,.7 -1.2,8 .1,4 -1.1,0 -.6-4 1-4.8 -.6-1.3 -1.7,1.3 -1.1,3.2 -2,2.9 -1.6-.6 -1.7-7.1 -.1-1.6 .9-1.6 -.3-1.6 -5.1-9.6 -.9-4.8 .8-1.6 3.2-2.6 .8-2.2 -.4-3.2 -2-3.7 -.6-5.9 2.8-3.2 .8-3.2 -1.8-3.2 -2.5-1.6 -.9-1.6 2-4.8 -.4-4.8 -1-1.4 -3.2-1.5 -2.1-3.5 -2.7-1.8 -1.6,.3 -6.4,4.9 -1.6,.4 -3.2-2.4 -1.6-.2 -4.8,1.1 -1.6,1.2 -1.5,4.5 -1.7,1.1 -4.8,.6 -8,3.5 -3.2,.6 -3.2,2 -4.8,1.4 -6.4-1.8 -3.2,.5 -4.8,8.1 -11.6,6.4 -3,3.2 -1.1,4.8 -3.5,1.9 -1.6,.3 -2.9-2.2 -6.7-2.3 -3.2,3.5 -3.2,1.7 -1,3.5 -3.7,4.8 -1,3.2 -.7,.8 -3.2,1 -2.8,3 1.8,3.2 3,8 -3.1,8.8 -.8,0 -2.1-4 -2.4-.7 -1.2,2.3 -.3,2.4 -.9,0 .8-5.7 1.6-1.2 3.2-.5 2.2-3 -1.6-6.4 -3.1-1.6 -.3-1.6 7.6-6.2 2.1-3.4 2.7-1.6 .9-1.6 .2-3.2 .8-1.6 4.3-3.2 1.8-3.3 1.6,0 3.2,2.1 1.6,.3 4.8-2.6 3.2-.5 5.9-4 2.6-4.8 1.1-.4 3.2,.6 1.6-.6 8-9 3.2-.2 4.8,1.2 4.8-1 3.2-2 4.8-1.1 4.8-2.7 3.2-2.7 3.2,.6 1.6-.4 3.2-5 8-1.2 3.2,1.5 1.6-.2 2.3-1.4 4.1-4 6.4,1.9 -.5-5.9 1.1-1.6 3.9-3.2 -1.3-.7 -2.2-4.1 .5-3.2 2.7-4.8 -4-6.4 -8.2-2.8 -6.4,.4 -1.6-.8 .8-4.8 -5.6-1.8 -1.6-.3 -4.8,2.3 -1.9-.2 -2-1.6 -.2-4.8 -1.4-3.2 .7-1.8 2,.2 2.5,4.8 1.9,1.7 1.6,.1 7.5-3.4 2.1-1.6 .7-1.6 -2.3-4.7 -1.6-.3 -3.2,1.5 -6.4,.2 -1.6-.4 -.8-2.7 .8-2.3 3.9-.9 2.5-1.6 -3.8-3.2 0-3.2 .6-.9 4.8-1.9 3.8-5.2 0-3.2 1.6-3.2 -3.1-3.2 -.5-3.2zM444.4,681.5l-.7,1.6 1.7,1.5 .8-1.5 -.5-1.6zM446.1,695.9l-2.3,1.7 -2.5,3.1 -3.9,1.3 -1.4,1.9 .4,1.6 1,.8 4.8,2.4 -2,1.6 -6,1.1 -1.6,1.8 .4,1.9 1.2,.8 4.8,0 2-.8 3.5-4.8 -2.3-1.6 -.2-1.6 .9-3.2 .9-1 1.6,.3 3.2,2.1 1.6,.1 2.1-1.5 .7-6.4 -1.2-1.4 -3.2-1.4 -1.6-.3zM546.5,700.7l-.9,1.6 .1,9.6 -.7,3.2 4.4,2.8 .3,5.2 2.2,6.4 2.2,3.2 .5,1.6 -.4,1.8 1.6,.2 4.1-3.6 1.2-3.2 -.4-3.2 3.1-1.6 2.7,1.6 -5.1,4.8 -.6,1.6 -.9,1.6 2.3,1.8 3.2-1 3-2.4 .2-3.9 -1.1-2.5 .2-1.6 1.9-3.2 -9.2-4.8 -.9-1.6 1.1-3.7 0-3.3 -1.6-3.6 -1.6,4.2 -1.6,.8 -2.4-2.4 -.5-1.6 1-3.2 -1.1-1.6 -3.4-1.3zM457.6,710.3l2.3,6.4 3.5,4.8 -.1,1.6 -1.9,.6 -3.2-.1 -1.6,1.2 -1.6,.1 -3.2-4.8 -1.6,.2 -.8,1.2 -2.8,1.6 -7.4,3.2 -1.1,1.6 5.7,1.9 3.2-.3 3.2,.9 .9,.7 -4.4,3.2 .8,1.6 1.1,.2 4.8-.8 4.8,2.2 2.5,0 1.1-1.6 -2.3-4.8 -.4-1.6 .7-.7 4.8-1.2 1.6-1.3 1.2-3.2 3.6-1.2 2.8,1.2 .5,1.6 -.3,1.6 -2,1.6 .6,1.8 1.6-1.8 3.2,1.5 1.6,.1 2-1.6 .6-1.6 -.9-3.2 1.5-1.4 3.2,.5 1.6-2.3 0-1.6 -1.6-1.5 -1.6,.6 -3.2,4 -4.8-2.6 -1.7-5.3 -3.1-3.2 -1.6,.1 -4.8,3.4 -4.8-4.8 -1.6,.5zM489.7,710.3l-1.1,.4 -.6,1.2 .6,2.3 1.6,.6 1.4-1.3 0-1.6 -1.2-1.6zM531.2,711.9l-10.6,6.4 -2.1,3.2 -1.4,4.8 -2.9,2.2 -4.8-1.9 -4.8,.5 -4.8,2.2 -1.6-.1 -2.7-1.3 -2.1-3.4 -1.6-.2 -3.2,.8 -2,2.8 -1.1,4.8 1.3,6.4 -.7,1.6 -.7,.8 -1.6,.2 -1.6-1.2 -3.2-.8 -1.6,.7 -.8,1.9 .8,1.9 3.1,2.9 -1.5,.3 -1.6,2.1 -.8,2.4 .2,1.6 5.4,7.8 1.6-.3 1.6-1.7 1.6-.6 8,.4 6.4-2.3 4.8,2.2 1.6-.4 1.6-5.8 1.6-2.8 3.2,1 3.2,3.3 1.6,.5 3.2-.4 3.2,.5 3.2-1.2 4.8-.5 2.8-1.3 .8-1.6 -1.4-1.6 -4.3-1.6 -2-1.6 .3-3.2 2.2-4.8 -2.7-1.6 -5.3-1.2 -1.6,.3 -2.9,5.7 -1.9,2.4 -4.8,1.2 -2-.4 -1.2-3.6 -1.3-1.2 -5.5,0 -1.2-.6 -1.3-2.6 .4-1.6 .9-.7 3.2-1.4 3.2-2.3 2.9,1.2 .2,1.6 -2.2,3.2 .7,2.8 1.6-.5 2.6-2.3 .9-3.2 6.1-1.8 1-6.2 2.2-3.5 1.6-.5 4.8,2.4 1.6,.1 5.8-1.7 .5-1.6 -.5-3.2 -4.2-3.9 -1.6-1.1zM507.9,713.5l1.5,1 2.1-1 -.5-1 -1.6-.3zM489.3,719.9l-1,1.6 .1,1.6 2.3,0 1.5-1.6 -.4-1.3 -1.6-1zM503.2,719.9l-5,.9 -2,2.3 -.6,1.6 .3,1.6 1.4,1.6 2.5,.4 1.6-.8 3.2-1.9 5.9-.9 .4-1.6 -3.1-2.9 -1.6-.8zM523.1,723.1l-.6,1.6 -.5,6.4 1,1.6 7.2,1.8 1.7-1.8 .5-3.2 3.1-4.8 -.5-.5 -4.8,0 -4.8-2.5zM431.1,726.3l.2,3.2 1.3,1 1.6,.2 1.6-.8 .9-2 -4.1-3zM536.3,726.3l-2.3,3.2 -2.1,8 4.7,.7 1.7-.7 4.2-6.4 .4-3.2 -3.1-3 -1.6-.1zM482.8,727.9l-3.5,3.2 -.7,1.6 .5,3.2 .6,1.6 .9,.5 3.2,.2 .5-.7 .3-9.6 -.8-1.4zM474.1,734.3l1.8,1.6 1.1-1.6 -1.2-1.2zM516.1,734.3l-3.5,4.8 -.4,1.6 .8,1.6 2.8,.4 2.4-2 1.5-4.8 0-1.6 -.7-.6 -1.6-.2zM463.3,739.1l.2,1.6 3.6,4.8 -.6,1.6 -2.6,3.2 -.5,3.2 1.2,2 1.6,.3 .5-.7 2.7-5.5 .7-7.3 -.7-2.1 -1.6-1.9 -3.2-.3zM526.7,759.9l-1.3,.9 -3.6,.7 -1.5,3.2 -6.1,1.3 -1.7,3.5 -1.5,.8 -4.8-1.1 -4.8,3 -.7,2.1 .7,.9 4.8,2.6 3.2,1.2 3.2-.3 7.2-4.4 .8-1.8 2.2-1.4 .5-1.6 -.8-3.2 1.3-1 6.7-2.2 1.3-1.6 -1.6-2.1 -1.6-.5zM464.1,761.5l-1.9,1.6 .8,3.7 3.2,3.1 3.2,.6 1-1 .5-3.2 -1-1.6 -3.7-3.3zM526.9,774.3l-1.4,3.2 3.1,.6 1.6-1.4 0-2.6 -1.6-.7zM524.8,788.7l-1.4,1.6 1,1.6 1,.5 .6-.5 1.5-1.6 -.5-1.2zM524.6,798.3l-4,1.1 -1,2.1 .4,1.6 1.7,1.6 3.7,.2 3.2-2.3 .9-1.1 .1-1.6 -1-1.9 -1.6-.8zM539.8,683.1l1.6,.1 4.8,6 5.5,1.9 -3.9,4.6 -1.6,.4 -4.8-1.1 -3.2,1.4 -1.2,1.1 -.5,1.6 .5,3.2 -2,2.6 -1.6,.7 -1.5-3.3 -.5-4.8 -1-1.6 -1.8-.4 -3.2,1.1 -1.6-.4 -4.8,.8 -3.2,3 -3.2-.4 -4.2-3.7 2.8-4.8 1.4-1 1.6,.9 1.6,2 1.6,.1 1.6-3.4 1.6-.5 3.2,1.2 1.6,2.1 1.6-.3 1.6-3.8 2.7-2.1 2.1-2.6zM534.6,686.3l-4.4,3.6 -.9,2.8 2.5,2.5 1.6,2.8 1.6-.3 1.8-1.8 5.8-6.4 .6-1.6 -1.8-2.4 -1.6-.6zM520,691.1l-.8,1.6 .2,1.6 1.2,.6 1.9-.6 .8-1.6 -.9-1.6zM512.4,692.7l-1.5,3.2 .8,1.6 2.5,1.2 1.6-.7 .6-2.1 -2.2-2.4zM533.2,700.7l.2,2.1 1.5-.5 .1-1.6 -1.6-.8zM645.4,681.6l1.6,.5 .4,1 -1.7,3.2 1.2,3.2 4.9,.7 3.2,1.7 4.8-4 3.2-1.2 3-.2 0,1.2 -3,.7 -1.4,1.1 -1.2,1.6 -.6,3.8 -1.6,1.9 -1.6,.6 -1.6-.5 -3.2-4.9 -6.3-.9 -1.4-3.2 -1.9-.2 -2.1,3.4 -2.7,2.3 -2,4.1 .9,1.6 2.7,1.2 4.8-.3 1.7,.7 -.1,3.2 -3.2,4.8 0,1.6 1.3,1.6 1.9,.7 1.6-.3 .6-3.6 1-1.5 3.2,.3 4.4,2.8 -.4,6.4 .8,1.1 1.6,.4 3.9-3.1 -.8-1.6 -2.5-1.6 -.9-1.6 4-4.8 .7-1.6 -1-1.6 1.3-1.6 3.1-.6 0,6.6 -3,.2 -1.6,.9 -1.2,2.5 1.2,1.6 4.6,.7 0,5.1 -3.6,.6 -.7,1.6 .3,1.6 .2,1.6 -.8,2.9 -1.6,.4 -4.8-1.9 -3.2,.8 -4.8-.5 -3.2,4.2 -1.6,.5 -3.2-1 -1.1,5.8 3,3.2 .2,1.6 -2.1,1.3 -2.1-1.3 -1.8-3.2 -2.5-1.2 -1.4-2 1.9-6.4 -.1-4.8 1.2-.6 1.6,.2 3.2,4.1 6.4-.5 3.2-4.1 3.2-1.3 1.6-1.5 .3-1.1 .4-4.8 -.5-1.6 -1.8-1.4 -2.2-.2 -1,1.4 0,3.4 -1.6,1.1 -5.4-2.7 -.6-1.6 1.1-4.8 -.3-1.6 -2.8-2.1 -4.8-2 -1.6,.6 -3.2,5.4 -.9-.3 -1-4.8 -2-4.8 .7-2.2 1.6-.6 4.8,0 3.2-5.3 3.2,.6 6.1-3.7zM628.9,694.3l-1.1,.2 -.8,1.4 .8,2.3 1.6,1.3 .4-.4 1.2-1.6 .2-1.6zM634.7,723.1l-.5,.4 -.5,4.4 -1.7,3.2 0,1.6 2.2,1.7 1.6-.3 1-1.4 .2-1.6 -.1-6.4 -1.1-1.8zM649,723.1l1.2,.7 2.4-.7 -.8-.8 -1.6-.2zM389.4,685.9l4.8,2 4.8,4.2 3.2,1.2 .6,1 -.2,3.2 -2.2,3.2 -.5,3.2 -.9,1.5 -1.6,.3 -1.6-.8 -1.2-1 1.5-3.2 -.8-1.6 -2.7-1.6 -9.6-1 -1.5-2.2 .5-1.6 4.1-3.2 1.7-3.2zM387.2,689.5l-4,3.2 -.7,1.6 .5,.7 1.6,1 8,.4 4.5,2.7 1.9,1.1 1.6-1.5 1.5-2.8 -.7-1.6 -2.4-1.1 -3.2-2.8 -4.8-2.1 -1.6-.3zM488.6,685.9l1.6,.4 3.2,2.3 3.2-2.6 .4,1.9 -1.1,4.8 4.1,3.2 1,1.6 -1.2,2 -1.6,.9 -4.8-.6 -4.8,.3 -1.6,.6 -3.2,2.9 -1.6-.3 -3.2-2.7 -4.8-.8 -3.4-2.3 -1.4-.6 -.9,.6 -1.4,4.8 -.9,1.1 -1.6,0 -1.7-1.1 -.9-1.6 .2-3.2 3.2-3.2 -.6-3.2 -2.4-3.2 .6-.5 1.6-.1 4.8,2.8 1.6,.2 6.4-2.4 4.8,2.2 3.2-.9 1.6-2.5zM487.7,687.9l-2.3,2.6 -4.8,1.3 -.2-.7 -3-1.7 -3.2,.3 -3.2,1.7 -3.2-.9 -1.6,.6 1.6,3.8 1.6,.1 6.4,4.3 3.2-.1 3.2,2.6 1.6,.1 2.3-4.4 .9-.6 3.2,0 1.6,1.1 6.5,1.1 1.1-1.6 -1.2-1.3 -4.8-1.2 -3.4-7.1 -1.4-.7zM463.9,697.5l-.5,1.6 .7,1.6 .5,.5 1.7-.5 .5-1.6 -.6-2.2zM611.8,685l1.6,.2 2.8,2.7 .4,1.6 -.6,1.6 -1,.5 -2.8-.5 -1.4-1.6 -.3-1.6zM611.6,687.9l.5,1.6 1.3,.9 1.9-.9 -.6-1.6 -1.3-1.1zM323.8,687.8l1.6-.1 2.7,1.8 .3,3.2 -.6,4.8 .8,2.1 3.6,2.7 1.2,2.2 -.4,2.6 -1.2,.6 -1.6-.8 -1.6-3 -1.6-.5 -3.2,.2 -1.2-1.3 .7-3.2 -1.8-6.4 .8-3.2zM323,689.5l-.8,3.2 .9,3.2 1.4,1.6 -.4,3.2 .5,1.6 1.3,0 1.1-.9 .4-.7 -1.2-3.2 1.3-3.2 .3-3.2 -.7-1.6 -1.7-1 -1.6,.2zM439,687.8l1.6,.3 1.3,1.4 1.1,1.6 -.1,1.6 -2.3,1.4 -6.4,0 -3.2,2.1 -1.6,.5 -2-2.4 .3-1.6 1.7-2.9 1.6-.7zM434.4,689.5l-3.4,.4 -1.6,1.1 -1.3,3.3 1.3,1.5 1.6-.4 3.2-2.2 6.4-.2 .9-1.9 -.9-1.7 -1.6-.8zM573.4,696.8l1.6-.2 .3,.9 -1.6,3.2 -.3,.5 -.8-.5 -.7-1.6zM250.2,698.9l1.6,.4 1.1,1.4 -1.1,2.9 -1.6-.1 -.8-1.2 -.2-1.6zM522.2,700.4l1.6-.5 1.4,4 .2,3.2 -1.6,1.4 -1.6-.5 -1.7-2.5 0-3.2zM521.8,703.9l.4,1.8 1.6,.6 .4-.8 -.4-2.5 -1.6,0zM415,701.8l1.7,.5 .6,1.6 -.6,3.2 1.5,4.8 -.2,1.6 -1.4,1.4 -1.6-.5 -4.4-5.7 -.2-1.6 3-4.3zM412.1,707.1l-.1,1.6 1.4,2.4 1.6,2.1 1.7,.3 .5-3.2 -2.2-4.3 -1.6-.2zM603.8,703.1l1.6,.1 .7,.7 -.1,4.8 2.5,3.2 -.3,3.2 -1.2,1.5 -3.2,1.5 -4.3,5 .8,4.8 -1.3,2.4 -4.8,1 -1.6-.4 -3.2-2.3 -1.3-.7 -.4-4.8 -.8-1.6 -3.4-3.2 -.5-1.6 .3-1.6 1.3-1.4 3.2,.5 4.8-5.8 8-1.7zM603.4,705.5l-2.4,3.2 -.4,1.5 -.3-1.5 -4.5-.4 -3.2,2 -1,1.6 -1,3.2 1.2,3.2 .8,.8 3.2-.1 3.2,1.4 1.6-.2 2.8-3.5 3.2-1.6 .7-1.6 -.3-1.4 -2.7-1.8 -.1-4.8 -.4-.4zM591,724.7l-.8,1.6 .4,1.6 2,2.1 3.2,.2 1.7-.7 1.5-1.5 -.1-1.7 -1.5-2.1 -3.2-.2zM621.4,703.7l2,.2 1.9,1.6 -.7,.8 -1.6,.1 -1.6-.8zM344.6,705.3l2.8,1.8 .4,1.6 -1.6,2 -1.6,.4 -1.7-.8 -.9-3.2 1-1.4zM342.6,707.1l.4,2.2 1.6,1 1.6-.5 .8-1.1 -.8-2.1 -1.6-.7zM498.2,704.9l1.6-.7 2.3,1.3 -1.2,3.2 .1,1.6 -.7,1.6 -.9,0 -2.8-2.2 -2.5-1 .3-1.6zM387.8,708.3l1.6-.2 .7,.6 -.7,1.7 -1.6-.1 -.4-1.6zM602.2,710l.5,.3 -.4,1.6 -1.7,.2 0-1.8zM319,713.2l3.2,.2 4.8,1.7 3.2-.5 2.4,.5 1.2,1.6 -.6,1.6 -4.6,3.4 -4.8,3.1 -1.6,.1 -1.6-1 -4.6-5.6 .1-3.2 1.3-1.6zM318.4,715.1l-.3,1.6 .4,3.2 2.1,3.1 1.6,1 1.6-.1 4.8-3.6 2.6-2 .4-1.6 -1.4-.7 -4.8-.2 -3.2-1.6 -1.6-.1zM271,727.1l1.6-.7 1.1,1.5 -.2,1.6 -.9,.6 -1.8-.6 -.5-1.6zM661.4,727.1l4.6,1 0,4.1 -3,0 -2.3-1.1 -.3-1.6zM59.8,735l4.8,1.5 3.2,2.5 1.4,3.3 .4,3.2 -.8,4.8 -2.3,3.2 -5.1,2.3 -3.2,.4 0-.6 4.8-1 4.2-2.7 1.6-6.4 -.3-3.2 -1.5-3.2 -4-2.6 -4.8-.8 0-.7zM605.4,739l5.6,4.9 -4,4.3 -3.2,1.5 -.9-1 -.1-3.2 1.1-4.8 .8-1.6zM604.9,742.3l-.8,4.8 1.3,.6 1.6-.6 1.5-1.6 .5-1.6 -2-2.7 -1.6-.2zM392.6,739.9l1.6,.1 2,2.3 -.2,3.2 -1.8,.9 -1.6,.1 -2.2-1 .4-3.2zM392.2,742.3l-.7,1.6 1.1,1.6 1.6-.8 .5-.8 -.3-1.6 -1.8-.5zM482.2,744.9l1.6-.9 1.6,1 .9,2.1 -.9,2.2 -2.6-.6 -2.2-1.6zM547.8,745.3l1.6,0 3.2,1.1 .6,.7 .2,3.2 .8,1 1.6,.6 3.2-.5 2.9,2.1 .1,1.6 -2.8,3.2 -.4,1.6 1.1,3.2 -3.9,8 .6,6.4 2.9,9.6 1.1,.9 3.2-.9 3.9,0 1.3-1.6 .8-4.8 2-1.1 4,1.1 2.1,1.6 .5,1.6 -1.9,3.2 .6,1.6 4.2,3.2 -1.5,1.8 -3.6,1.4 -.6,1.6 1,3.3 1.1,1.5 -.6,1.6 -2.1,2.8 -1.6,.5 -3.2-.6 -9.6-3.4 -3.6-4.1 -2.3-6.4 -4.9-6.4 .5-3.2 -.9-.6 -1.6,.2 -1.6,1.5 -1.5,.5 -3.7,0 -2.2-6.4 2.8-4.8 .4-4.8 -1-4.8 -1.8-3.2 .8-1.6 6.2-6 3.2-2 .3-1.6 -1.8-1.6zM547.2,753.5l-5.4,4.8 -.5,1.6 2.6,8 -.2,3.2 .6,3.2 -2.9,2.1 -.5,1.1 .5,1.7 1.6,2.2 1.3-.7 1.9-4.9 1.6,.5 3.2,3.2 3.2,.9 .7-1.3 -.5-3.2 -2.4-1.6 -.9-1.6 .5-1.6 2.6-2 3.5-6 -.5-3.2 .5-1.6 3.4-3.2 -.2-1.6 -1.9-1.1 -3.4,1.1 -1,1.6 .7,3.2 -.5,3.2 -2,3.2 -3.4,1.9 -1.6-.3 -.8-3.2 1.4-3.2 3.2-3.2 1.1-3.2 -1.7-1.5zM550.2,759.9l-1.3,1.6 -.2,1.6 .7,1.1 2.3-1.1 1-1.6 -.1-2.1zM554.6,782.3l-1.9,1.6 -.7,1.6 2.2,3.4 2.7,1.4 1.3,4.8 3,4.8 2.6,1.9 8,3 1.8-.1 1.4-1.6 -2-6.4 .2-1.6 2.2-3.2 -.5-1.6 -3.1-2.2 -3.2,1.6 -4.8-.6 -4.8,.9 -1.4-1.3 .3-3.2 -.5-1.9 -1.6-1.9zM629.4,744.9l1.6,.6 .1,1.6 -1.7,1 -1.6-.3 -.4-.7 .5-1.6zM523.8,746.9l4.4,.2 .7,1.6 -.3,4.1 -3.2-.2 -3.2-.4 -1.7-1.9 .1-1.9zM521.8,748.7l.1,1.6 1.9,1 3.2,0 .8-1 -.1-1.6 -.7-.9 -1.6-.4zM655,748.6l1.8,.1 -.2,3 -1.3,1.8 1.1,6.4 3.8,4.8 -2,1.3 -3.2,.7 -3.2-1.3 -1.4-.7 .4-3.2 -3.8-2.7 -1.4-2.1 -.4-4.8 1.8-1.4 3.2,2.3 1.6,.3zM648.1,755.1l.5,1.9 1.6,.3 3.2,2.2 .5-1.2 -1.6-1.6zM654.9,761.5l-1.1,1.6 .3,1.6 .9,.4 2.1-.4 -.2-1.6zM666,748.2l0,2.7 -2,2.6 2,2.2 0,1.6 -3-1.6 -.6-2.2zM570.2,754.4l6.4-.7 2.6,1.4 -.5,6.4 -.8,1.6 -1.3,1.2 -1.6-.2 -5.6-9zM572.4,756.7l.1,1.6 2.5,3.2 1.6,.6 .4-.6 .4-4.8 -.8-1.6zM397.4,756.4l.8,1.9 -.8,1.3 -1-1.3zM584.6,756.4l3.4,.3 1.1,1.6 -1.3,2.3 -1.6,.5 -1.7-1.2 -.6-1.6zM634.2,759.7l1.6-.4 1.6,.7 -1.6,.7 -2.2-.8zM623,762.5l3.2-.7 2.2,1.3 3,4.8 -3.7,0 -3.1,.5 -3.2-3.2 -3.2,.4 -1.1-.9 1.1-1.5 3.2,.6zM623.4,764.7l1.2,2.2 2.8-.6 .2-1.6 -1.4-1.3 -1.6,0zM491.8,763.9l6.4,.8 1.6,1.2 -.3,2 -1.3,.8 -4.8,.9 -1.6-.6 -1.1-1.1 -.3-1.6zM492.2,766.3l1.2,1.8 .9-.2 .7-1.2 .3-.4 -1.9-.5zM567,767.2l3.2-.3 2,1 .2,3.2 -1.1,1.6 -2.7,1.2 -2.3-1.2 -.6-3.2zM566.7,769.5l.3,2.2 1.6,.9 2.4-1.5 .2-1.6 -1-1.2 -1.6-.4zM581.4,773.6l1.6,0 2.1,2.3 -.5,2.2 -1.6,.4 -2.2-1 -1.2-1.6 .7-1.6zM594.2,773.3l.9,2.6 -.9,1.7 -.5-1.7zM487,776.7l1.3,.8 -1.3,1.8 -.7-1.8zM615,780.4l3.2,.4 2.9,1.5 3,4.8 -1.4,3.2 .3,2.6 4.8,3.4 .4,2 -1.8,1.6 -1.8,.6 -4.8,.3 -2.3-.9 -2.5-2.2 -.6,.6 .2,3.2 -1,3.2 1,4.8 -1.2,.9 -3.2,.5 -2.5-1.4 .1-3.2 1.5-6.4 -.3-1.6 -3.6-1.3 -3.2-4.6 -5.1-3.7 .4-1.6 3.1-2.5 3.3-.7 3.1-2.2 4.8,0zM614.9,782.3l-1.9,1.6 .9,3.2 -.5,1.7 -6.4,.6 0-2.3 -1.6-1 -3.2,.1 -2.1,.9 -.4,1.6 .9,.6 1.6,.7 4.1,.3 -.5,3.2 1,1.6 1.8,.5 3.2-.5 4.8,.3 3.2,3.8 3.2,.1 2.5-1 -.6-1.6 -3-1.6 -1.2-1.6 -.7-9.6 -1.8-1.4zM512.6,783.1l1.6-.6 .9,1.4 -1.5,3.2 1.2,3.2 -.2,3.2 -6.8,3.8 -3.2,.8 -3.2-1.5 -3.2-.3 -2.4-2.8 -.8-2.4 -1.6-.7 -1.6-.4 -1.6-1.3 .3-1.6 1.3-1.6 1.6-.6 .8,.6 1.5,3.2 .9,.7 4.8-1.5 4.8,.5 1.6,1.1 1.6-.3zM497.5,791.9l.7,2.1 1.9-.5 .9-1.6 -1.2-1.4zM587.8,786.1l2.9,1 .3,1.6 -3.2,4.9 -1.6,.8 -1.6-.5 -2.3-2 .7,0 3.2-4.7zM642.2,786.4l3.2-.8 1.6,1.5 .4,1.6 -.4,3.5 -1.6,1.3 -1.6,.3 -3.2,.4 -1.7-.7 -.4-1.6 1.6-3.2zM643.2,787.1l-1.4,1.6 -.3,1.6 .7,1 3.2,0 .9-2.6 -.7-1.6zM663,788.5l3-.7 0,.8 -3,1 -3.2,3.1 -3.2,1.2 -2,2.8 .4,.9 1.6,.7 3.2-.8 4.8-2.4 1.4-.4 0,1 -7.8,3.3 -3.2,.3 -1.2-1 -.3-1.6 1.5-2.9 1.6-1.6 3.2-1.1zM546.2,797.7l.5,.6 -.5,3.2 1.6,2.3 3.2-1.7 3.2-.5 3.2,.3 1.3,1.2 .2,3.2 .8,1.6 2.5,1.2 1.3,2 -.1,1.6 -.9,1.6 -1.9,1.6 -1.6,.3 -1.6-1.2 -2.2-3.9 -1-.5 -4.8,.8 -1.4,1.3 -.3,1.6 .2,1.6 2.1,3.2 .3,1.6 -.8,1.6 -1.7,1.7 -3.2,1.5 -2.8,0 -1.3-1.6 1.1-9.6 1.4-2.3 1.8-.9 1.2-1.6 -3-3.1 -1.4-3.3 1.4-3zM549.9,804.7l-.3,3.2 1.4,.9 3.2-1 1.7-1.5 -.1-1.9 -3.2-1.1zM558.6,811.1l-.4,1.6 .8,1.2 1.6,.3 1.3-1.5 -.3-1.6 -1-.7zM542.6,814.3l-1,8 .4,1.6 1,.7 1.6,0 3.2-1.7 1.5-2.2 -3.1-6.8 -1.6-.9zM634.2,798.2l1.6,1.1 1.3,2.2 .1,1.6 -1.2,3.2 -1.2,0 -2.2-2.8 -1.3-3.6 1.3-1.6zM633.4,801.5l.8,2 1-.4 .1-1.6 -1.1-.9zM599,806l1.6-.4 1.6,.7 4,4.8 -2.4,2.3 -3.2,.6 -3.2,1.9 -3.2,.7 -1.6-.7 .2-1.6 1.4-1.6 3.5-1.6zM344.6,809l1.6-.4 1.2,.9 1.4,3.2 -.1,1.6 -.9,1.5 -3.2,1.9 -3.2-.1 -1.4-1.7 -.1-1.6 1.5-2.9zM343.3,811.1l-2.4,3.2 .3,1.6 1.8,.8 1.6-.2 2.7-2.2 .4-1.6 -1.5-2.9zM488.6,814.1l3.2,1.5 1.6-.2 1.6-1.2 1.6,.1 2.6,1.6 .8,1.6 -1.2,6.4 -2.2,3 -1.6,.9 -1.6-.4 -1.4-1.9 1.4-4.8 0-2.2 -6.4,1.2 -1.6-.9 -.7-2.9 2.3-1.6zM488,815.9l-.3,1.6 1.7,0 -.1-1.6zM494.8,815.9l.9,3.2 -.3,1.6 -2,2.8 -.2,2 1.8,1.1 1.6-1 1.8-3.3 .5-4.8 -.7-1.5 -1.6-.8zM362.2,822.3l.7,1.6 -.7,1.6 -.8-1.6zM320.6,823l1.6-.4 1.2,1.3 -.2,1.6 -1,.6 -1.6-1.1zM523.8,830.2l.4,1.7 -1,1.6 -1,1 -1.6,.1 -1.3-2.7zM551,829.7l1.6-.7 .6,1.3 -.6,.4 -1.6,.4 -.5-.8zM602.2,829l1.6,.2 1.1,2.7 -.7,1.6 -2,1.6 -1.6-1.6zM599,837.7l1.6,.6 3.2,3.7 5.1,2.7 -.2,4 -4.5,0 .1-4 -3.7-4.1 -1.6-1.1 -1.6,.1 -2.1,1.9 -.4,1.6 2.5,5.6 -1.3,0 -2.4-5.6 1.5-3.2zM330.2,838.9l1.6,.1 .6,.9 -.6,1.7 -1.6,.7 -.4-.8zM514.2,839.1l2.7,.8 -1.1,1.9 -1.6-.4 -.9-1.5zM59.8,840l1.6,.6 1.1,2.5 -.3,1.6 -2.4,2.5 -1.6,1.4 0-7.6zM487,846l6.4,1.3 8-1 1.6,.4 1.4,2 -4.6,0 -8.9,0 -2.3-.5 -3.7,.5 .5-1.3zM560.6,845.8l1.6,2.9 -2.7,0 .5-2.4zM568.6,846.3l1.6-.6 .5,3 -.5,0 -2.6,0zM653.4,846l3.2-.6 1.4,.9 .6,2.4 -.7,0 -1-2.4 -2.6,0 -1.6,2.4 -.6,0z" fill="#FFD6D6" stroke="#FFD6D6" stroke-width="0.6"/>
<path d="M125.4,545.5l28,0 -2.6,3.2 -.5,1.6 2.6,6.4 0,1.6 -1.9,2 -3.2,1.1 -1.8,3.3 .3,3.2 4.4,6.4 .3,1.6 -1.6,2.7 -3.2,2.6 -1.3,2.7 .6,6.4 -.7,1.6 -5,3.2 -.9,1.6 -.7,5.2 -1.6,1.5 -3.2,.6 -1.2-.9 -.8-1.6 .4-1.6 .7-1.6 3.3-3.2 .5-1.6 -1.2-4.8 .9-3.2 -.2-1.6 -.8-2.2 -1.6,1.1 0,4.3 -2.1,3.2 -.1,6.4 -1.3,1.6 -2.9,1.2 -3.2,.1 -6.4-1.6 -4.8,.3 -3.2-.5 -3.8-2.7 -2.6-3.9 0-2.5 1.9-3.2 -.1-1.6 -2.7-6.4 1.2-4.8 3.7-6.4 4-3 1.6-.2 3.2,1.9 3.2,0 1.6-.6 1.4-4.5 4.1-4.8 .6-1.6 0-3.2zM183,546.8l2.9,5.1 1.5,1.6 2,.5 4.5-2.1 1.9-2.8 3.2-1.4 1.4-2.2 17.1,0 0,3.2 2.3,3.9 19.2,9.1 1.6-1.1 3.1-3.9 5-1.6 6.3-4.6 1.6-.6 3,2 1.8,.2 5.1-1.8 .2-1.6 -2.1-.7 -.4-2.5 15.5,0 1.2,4.8 -3.5,4.8 -6.4,4.2 -4.8,4.1 -1.6,.4 -4.8-1.2 -3.2,1.4 -4.8,0 -3.2,1.6 -3.2,2.9 -2.4,5.8 -3.1,3.2 -1,3.2 .9,1.6 8.8,1 4.8,1.8 9.6-1.3 1.6-.8 3.5-5.5 2.9-1.9 4,.3 4.5,3.2 2.5,3.2 3.4,.9 3.2,.1 .6-1 .2-3.2 .8-.3 1,1.9 .1,1.6 -2.1,1.6 .2,3.2 -.6,1.6 -4.8,6.4 -3.4,2.8 -1.8,.4 -1.4-3.9 -1.6-.8 -14.4,4.1 -3.2,1.7 -3.2-1 -1.6,.3 -3.2,2.1 -1.6,.2 -2.6-1.1 -2.2-2.2 -4.8-2.3 -1.6-1.5 -.1-2 1-3.2 -1.2-3.2 -4.5-1 -3.2-2.6 -8-3.5 -1.6,.6 -.9,1.7 -2.3,1.6 -1.6,.4 -1.9-.4 -6.1-3 -1.6,.7 -4.9,7.1 -.3,1.6 1.4,11.2 1.8,3.2 5.9,6.4 1.2,8 -.1,1.6 -3.6,3.2 -1.2,3.2 -2.3,1.6 -.2,1.6 1.7,1.6 -.1,1.6 -2.5,2.8 -1.6,1.3 -6.2-.9 .3-3.2 -.5-2 -1.6-.1 -3.2,3.4 -2.4-1.3 -.8-2.8 -1.6-.8 -3.2,.5 -3.2-1.2 -3.2,1.3 -8-2.5 -1.5,.7 -.3,1.6 -2.6,3.2 .6,1.6 2.2,.2 3.2-2.3 6.4-.6 2.1,4.3 -.4,1.6 -1.7,1.2 -3.2,.2 -1.4,1.8 .4,3.2 -2,3.2 -.2,3.5 -1.6,.3 -2.4-5.4 -2.4-1.3 -1.6-.1 -3.2,2.1 -1.3-.7 -.3-2.3 1.6-.8 3.2,.7 1.7-2.4 .1-3.2 -1.6-3.2 .9-1.6 -.4-6.4 1.5-4.8 7.7-4.8 1.6-1.6 -1.2-1.6 -2.7-1.6 -.6-1.6 1.4-1.6 2.8-.6 4.8,3.6 1.6-.8 -1.6-5.2 -1.6-.3 -1.3-1.5 .9-1.6 2-1 3.2,2.3 1.6,.4 1.6-.7 .3-1 -.7-3.2 -2-3.2 1.1-1.6 -.1-1.6 -3.4-5.9 -1.6-6.9 -3.7-8 -3.1-3.2 -1.9-6.4 -4.1-2.5 -3.2-3.6 -2.6-1.9 -.4-1.6 1.4-2.2 3.2-1.3 1.8,1.9 3,1.7 1.6,2.7 1.6,.8 1.6-.8 3.2-4.5 1.6-.4 4.8,1.8 .9-1.3zM221.1,567.9l-1.3,4.8 1,1.6 .6,.6 1.6-.5 1.6-1.3 0-3.6 -1-1.6 -.6-.5 -1.6,0zM168.3,635.1l-3.1,3.2 -.1,3.2 2.1,0 .9-3.2 2.3-3.2zM320.6,545.5l14.8,0 1.2,4.8 4.1,4.8 2.3,1.7 1.8-.1 3-3.7 1.6-.9 3.2,.9 1.6-1.1 .6-1.6 -.8-4.8 15.7,0 2.5,3.2 .5,1.6 -.4,1.6 -5.3-3 -1.6-.1 -1.6,.6 -3.2,4.2 -8,4.8 -6.4,2.9 -3.2,.1 -8-2.2 -5.8-2.5 -3.6-4.8 -3.4-.8 -2.1-2.4 -1-1.6 .8-1.6zM418.2,545.5l10.2,0 .9,1.6 1.7,1.1 .8,2.1 -.8,1.4 -4.8-.7 -2.3,.9 -4.1,3.4 -1.6-.3 -.8-1.5 .5-4.8 -.9-3.2zM461.4,545.5l62.6,0 .6,1.6 3.5,3.2 4.4,6.4 1.7,4.8 0,4.8 .8,1.6 4.8,2.2 3.1,7.4 1.7,.9 3.2-.7 5.1-5 1-3.2 .6-6.4 4.6-3.2 6.1-6.4 2.2-8 7.2,0 -.6,3.2 9,5.8 4.8,5.1 3.2,1.2 1.6-.7 1.6-1.7 2.8-4.9 .4-3.2 -1.3-4.8 37.4,0 .7,1.1 1.5-1.1 30.3,0 0,24.9 -1.5,.7 -4.7,.3 -1.6,1.3 -2.2,4.8 -3.2,4.8 -1.4,6.4 -4.3,4.8 -.6,1.6 -.4,8 1.4,4.8 -2.1,7.1 -1.6,1.8 -3.2-.5 -1.6,.8 -1.6,2.2 -4.8,3 -1,1.6 -.7,6.4 .9,3.2 -.3,1.6 -2.6,3.2 -.5,3.2 2.2,4.8 3.6,4.5 8,2.1 1,1.4 .1,4.8 2.1,2.5 1.3,.7 1,3.2 2.5,.3 1.6-5.1 -.2-1.6 -3.3-4.8 -.5-4.8 -1.4-3.2 -6-4.8 .1-1.6 6.7-6.4 3-3.9 6.4-2.7 1.6-.4 4.8,3.9 3,.3 0,15.1 -3.8,.5 -1.1,1.6 0,1.6 1.9,1.3 3,.2 0,2.9 -3,.1 -1.6,1.7 -3.6,5 -1.2,4.8 -3.2,5 -1.6,.8 -8.4,.6 -.5,1.6 .4,1.6 -1,1.6 -2.2,1.6 -.1,3.2 -1.1,1.6 .1,1.5 1.6-.5 .7-2.6 2.5-4 1.6-.7 1.6,.5 3.2,4.7 1.6,1.1 3.2-.7 3.2-3.8 1.6-.6 1.6,1 1.6,2.9 3,.1 0,4.5 -3,.2 -3.2,1.2 -4.8,4 -3.2-1.7 -4.9-.7 -1.2-3.2 1.7-3.2 -.4-1 -1.6-.5 -.3,3.1 -6.1,3.7 -3.2-.6 -3.2,5.3 -4.8,0 -1.6,.6 -.7,2.2 2,4.8 1,4.8 .9,.3 3.2-5.4 1.6-.6 5.8,2.5 1.8,1.6 .3,1.6 -1.1,4.8 1.2,2.1 4.8,2.2 1.6-1.1 0-3.4 1.6-1.6 3.2,1.6 .7,1.8 -.7,5.9 -1.6,1.5 -3.2,1.3 -3.2,4.1 -6.4,.5 -3.2-4.1 -1.6-.2 -1.2,.6 .1,4.8 -1.9,6.4 1.4,2 2.5,1.2 2.3,3.7 1.6,.8 2.1-1.3 -.2-1.6 -3-3.2 1.1-5.8 3.2,1 1.6-.5 3.2-4.2 4.8,.5 3.2-.8 4.8,1.9 1.6-.4 .8-2.9 -.5-3.2 .7-1.6 3.6-.6 0,10.4 -4.6-1 -1,2.4 1,2.3 4.6,.4 0,1.4 -4.6-.2 -2.4-2.3 -.9-3.2 -3.1-1.6 -1.6-.1 -4.8,.1 -1.6,.6 -3.2,3.5 -4,.7 -.5,1.6 1.3,2.7 3.2,2 1.6-2.4 1.6-1.1 1.9,.4 1.3,1.1 .2,2.1 -1.8,2.2 -1.6,0 -3.2-1.5 -2.2,4.1 .6,1.6 1.6,1.4 3.2,.4 1.6,2.4 1.6,1.1 1.6-.3 3.2-2.6 1.6-.4 1.7,1.2 1.5,5.7 1.6-.5 2.4-5.2 2.2-.9 0,2 -3.6,5.3 .6,2.2 3,1.6 0,24 -3-1 -1.4-1.2 -1.1-3.2 -.7-.4 -4.8,1.7 -1.6,0 -.5-2.9 2.1-4.3 1.3-.5 -7.7-2.8 -2.1-2 -1.1-4.7 -3.2-6.5 -1.6-1.4 -1.9-3.4 .7-4.8 -1-1.6 -2.6-2 -5.6-7.6 2-6.4 -.8-3.2 -2.9-4.8 -.2-3.2 1.1-1.2 2.4,1.2 2.4,2.7 1.6,.2 1-2.9 2.3-3.2 .6-4.8 -.7-2.8 -3.1-2 -1.7,.2 -1.4,1.4 -1.8,3.9 -1.6,1.7 -1.6,.7 -4.8-1.6 -4.1-3.1 -.7-1.6 1.6-1.9 1.6-.5 3.2,.3 .7-1.1 -.7-2.1 -1.6-1.1 -1.7,0 .1-1.6 1.6-1.2 1.2-3.6 -2.6-4.8 1.4-1.1 1.6-.2 1.6,.6 .6,.7 -.6,3.2 .6,1.6 2.6,.5 2-.5 1.4-1.6 .3-1.6 -1.3-1.6 -2.5-1.6 .5-1.6 3-3.2 .3-1.6 -3.7-2.7 -1.6-3.2 -3.2-1.5 -1.6,1.5 -.3,1.1 -.2,4.8 -1.1,.7 -3.2-1.5 -1.6,0 -1.6,.7 -1,1.7 -.3,3.2 4.5,4.8 -.1,3.2 -1.5,1.5 -1.6,.1 -3.2-.5 -1.6-1.1 -.7-3.2 1.6-4.8 -2.1-6.4 1.2-1.1 3.2,.3 1.9-4 1.3-1.2 3.1-.4 .1-1.6 -1.6-1.1 -1.6,.2 -1.6,1.3 -1.6-2.3 -3.2-8.3 -3.2-1.8 -1.6,1.5 -1.6,4.3 -1.6,1.1 -1.6-.3 -2.1-2.6 -1.2-3.2 -1.5-1.4 -3.2-1.2 -2.2-2.2 .4-3.2 -1.4-2.5 -1.7,.9 .1,2.5 1.3,2.3 -1.3,2.5 0,1.3 1.6,1.7 3.2,1.2 1.3,2.9 -1.3,5.4 -4.8,2.1 -1.8,3.7 .1,3.2 2.6,1.6 1.8,6.4 -1.1,6.9 -1.6,.3 -3.2-1.7 -4.8-3.9 -1.6,.8 .6,4 -1.1,4.8 -4.7,8 -1.2,4.4 -1.6,1.2 -3.2,1 -1.5,1.4 -.6,1.6 .1,1.6 2,2 3.2-.2 4.8-1.4 2.3,1.2 .4,1.6 -.9,3.2 -3.6,3.2 -1.8,3.2 .3,3.2 3.1,1.6 .6,1.6 -2,2.8 -6.4,1 -4,4.2 -1.1,3.2 -1.3,1.2 -3.2,0 -1.3,2 4.5,1.8 2.7,3 .3,1.6 -3,3.6 0,1.5 2.5,4.5 -2.5,5.4 .6,5.8 2.6,1.6 1.6-.1 .7-1.5 -2-3.2 .1-6.4 1.2-1.1 4.8-.2 1.6-.8 .2-1.1 -1.8-3.8 -3.5-4.2 1.1-1.6 2.4-.9 8-.2 3.2,1.6 8,1.9 1.1,.8 .1,1.6 -1.4,3.2 -1.4,1.5 -1.6,0 -1.6-.9 -3.2-4.2 -2.3,6.8 -4.1,3.4 -.4,3 .6,1.6 3,0 2.5-1.6 .7-3.3 1.6-1.4 4.8-1.4 3.2,1.5 1.6,.2 1.6-1.3 1.6-.1 3.2,.9 3.2-3.2 1.1,.1 0,1.6 -4.3,3.2 -1.6,3.2 -.1,3.2 .9,4.8 -.8,1 -1.6,.1 -4.8-.8 -.8,1.3 -.4,1.6 .4,1.6 2.2,1.6 1.8,.6 1.9-.6 1.8-1.6 .3-3.2 3.4-1.6 10.2-.1 3.2-1.2 1.6,.2 6.4,2.3 3.2,3.9 3.2,1.1 1.8,1.8 .1,3.2 1.3,1.4 3.2-.7 6.4-6.1 3.2-1.1 1.6,.4 1.4,2.9 .2,4.8 -1.6,3.9 -1.6,.8 -6.4,.9 -.7,.8 .6,4.8 -1.5,5.5 -1.6,.2 -2.1-.9 -1.3-1.6 -1.4-3.6 -1.6-1.7 -11.6,2.1 -1.2,1.6 .4,3.2 1.2,1.7 3.9,1.5 1.1,1.6 -.2,1.6 -1.6,2.3 -1.6,.4 -3.2-3.4 -1.6-.7 -4.8,2.2 -6.4,1.5 -3.2,.2 -4.8,1.5 -4.8-.1 -1-.7 -.5-1.6 5.3-6.4 -.6-2 -3.2-2.1 -1.6,.1 -4.4,4 -3.6,2.3 -1.6-.2 -3.2-2.5 -1.6-.3 -8,.1 -4.5,8.6 2,4.8 -1.8,6.4 -5.3,1.7 -8,5 -1.6,.1 -.6-.4 0-1.6 1-4.8 1.2-1.5 5.3-1.7 1-1.6 -.5-4.8 -.6-1.6 -3.6-3.1 -.8,1.5 2.2,3.2 0,1.6 -.8,1.6 -3.8,4.1 -4.1,.7 -3.4,1.6 1.8,3.2 -.7,1.3 -1.6-1.6 -1.1-7.7 1.1-3.2 .5-6.4 1.4-3.2 .1-3.2 -2-2.1 -1.6,.5 -1.6-.8 -1.2-2.4 .4-1.6 5.6-2.8 2.1-2 2.2-4.8 -1.4-3.2 -1.3-1.3 -3.2-.2 -4.7,1.5 -1.7,1.4 -1.1,1.8 -2.1,1.6 -.5,1.6 2.5,6.4 -5.2,4.5 -6.7,1.9 -1,1.6 .3,4.8 -.6,1.1 -1.6,.5 -1.6-.8 -1-.8 .4-3.2 -2-8 1.2-3.2 -.2-1.6 -1.6-1 -1.6,.2 -6.4,3.5 -4.8-.5 -1.6-.5 -4.8-7.3 -4.8-1.8 0-3.8 .6-1.6 2.6-2.7 3.2,.4 3.2,2.9 1.6-.1 6.4-.5 1.6-.8 1.1-2.4 -4.3-3.2 -4.8-2.2 -1.3-2.6 -.5-3.2 -1.4-.6 -3.2,.6 -1.6-.5 -2.7-2.7 -.5-3.6 -1.6-.6 -5.6,7.4 -2.4,1 -.6-1 3.2-3.2 .1-3.2 -5.6-9.6 -.7-3.2 1.1-4.8 -1.6-3.2 -.6-4.8 -1.7-1.3 -1.6,.8 .7,3.7 -.2,6.4 -3,8 -.3,3.2 1.2,2 3.2,1.8 .6,1 -.4,3.2 1.4,3.2 3.5,1.6 -1.3,3.2 .2,1.6 2.2,3.2 -6.2,2.4 -2,2.4 -.2,1.6 .6,1.9 3.2,2.6 1.6-1.1 .9,3 -4.1,.5 -4,5.9 -.6,3.2 1,1.6 7.2,4.8 .9,1.6 -1,1.6 -1.9,.7 -1.6-.7 -1.6,.5 -2.1,4.3 -.1,1.6 .7,1.6 4.3,4.8 5.2,3.7 4.8,.8 1.3,1.9 .3,4.4 -3.2,2.5 -1.6,9.9 -1.9,0 -.1-4 1.2-8 -.8-.7 -3.2,.5 -1.6-1.4 -.3-1.6 -4.6-4.8 -3.3-8 -.1-1.6 3.2-4.8 1.4-6.4 -2.7-2.1 -1.2-4.3 .4-1.6 2.4-2.8 1.8-3.6 -.3-1.6 -3.4-4.8 .7-1.6 2.8-3.1 3.4-1.7 .8-1.6 -1-2 -1.6,0 -2.8,3.6 -2,.4 -1.8-5.2 -3.6-3.2 -.7-1.6 .4-1.6 .9,0 4.8,2.6 3.2,.7 1.1-1.7 -.5-6.4 -3.8-3.2 -1.2-1.6 -.3-1.6 3.8-8 .3-9.6 -2.6-3.9 -3.2-.2 -1.6-1 -2.2-4.5 .7-1.6 5-1.6 2.7-1.6 -.2-1.6 2-1.6 1,1.6 -2.4,1.6 -.3,1.6 1.9,4.8 .1,1.6 4.1,3.2 1,1.6 -.7,3.2 2.2,4.8 -1.5,3.2 -.1,3.2 4.3,7.5 3.2,3.1 1.6-2.8 1.6-1.3 3.2,.8 4.8-.3 6.4-2.1 3.2,2.1 1.6,.4 1.6-.6 2.3-2 .6-4.8 1.9-1.8 1.6,.5 3.2,3 1.6,.6 8.8,.9 -.7,1.6 -1.7,1.2 -4.8,1.1 -2.1,2.5 -4.3,1.5 -3.2,4.6 -4.8-1 -1.6,.4 -3.9,2.5 -1.1,1.6 -.1,1.6 1.1,1.6 7.2,3.9 4.8,.2 4.8-2.9 1.6-.3 1.8,.7 .5,3.2 -1.5,3.2 1.7,9.6 -4.7,1.6 .5,3.2 -1.6,4.8 .5,3.2 1.2,1.4 1.6-2.1 4.8,.4 3.2-1 3.6-3.5 -.8-3.2 -2.5-3.2 .1-1.6 3-3.2 0-1.6 -4.4-3.2 .1-1.6 .9-1.6 4.8-2.4 1-2.4 -.1-1.6 -1.2-3.2 -1.3-1.1 -3.2,0 -1-.5 -1.1-3.2 .8-1.6 8.5-3.2 .4-1.6 -5.6-4.8 1.7-1.6 5.9-2.2 1.3-1 .6-1.6 -1.9-2.2 -5.7-2.6 -.6-1.6 1.5-4.2 1.6-.8 4.8-.3 1.6-1.1 4.4-8 .2-1.6 -3.9-4.8 1.1-3.2 1.4-1.6 1.6-.7 1.6,.3 1.6,1.4 1.6,8.6 3.1,4.8 -.6,6.4 .7,1.1 1.6,.5 3.2-3.3 1.6-.3 3.2,1.5 3.9-2.7 4-1.6 0-9.6 3.7-3.2 .6-1.6 -1-1 -1.6-.2 -4.8,.3 -5.3-3.9 .7-4.8 -.8-6.4 -5.8-4.8 -6.4-1.4 -3.2,.5 -2.8,2.5 -.8,1.6 1.5,3.2 0,1.6 -.8,4.8 -1.2,1.6 -3.9,1.4 -3.2-1.8 -3.2-3.1 -1.6,.4 -3.1,3.1 -3.3,1 -4.5,3.8 -1.3,1.6 -2.2,5.4 -1.6,.6 -2.1-1.2 1.7-3.2 -1.2-4.8 1.3-3.2 -.4-1.6 -2.5-1.2 -3.2,.7 -3.2,3.1 -3.2,1 -3.2,3.3 -3.9-2.1 -1.2-6.4 -1.3-1.5 -1.6-.2 -1.6,.3 -3.2,5.4 -1.6,.9 -3.2,3.5 -3.2-.4 -1.3-1.6 -.8-9.6 -2.7-1.7 -3.2,1 -3.2,3.4 -1.6,.6 -2.7-1.7 -2.1-2.6 -2.9,2.6 -1.9,3.6 -3.2,1.5 -1.6-.5 -3.9-4.6 -2.5-1.6 0-2.5 1.6-.4 3.2,2.2 1.6,.1 2.1-1 .9-1.6 .9-6.4 -.6-1.6 -3.4-1.6 -.8-1.6 -.5-3.2 -1.4-3.2 .1-4.8 -2.1-1.4 -1.6,0 -1.4,1.4 .5,3.2 3.1,3.2 -1.6,3.2 0,3.2 -3.8,5.2 -4.8,1.9 -.6,.9 0,3.2 3.8,3.2 -2.5,1.6 -3.9,.9 -.8,2.3 .8,2.7 1.6,.4 6.4-.2 3.2-1.5 1.6,.3 2.3,4.7 -.7,1.6 -2.1,1.6 -7.5,3.4 -1.6-.1 -1.9-1.7 -2.5-4.8 -2-.2 -.7,1.8 1.4,3.2 .2,4.8 2,1.6 1.9,.2 4.8-2.3 1.6,.3 5.6,1.8 -.8,4.8 1.6,.8 6.4-.4 8.2,2.8 4,6.4 -2.7,4.8 -.5,3.2 2.2,4.1 1.3,.7 -3.9,3.2 -1.1,1.6 .5,5.9 -6.4-1.9 -4.1,4 -2.3,1.4 -1.6,.2 -3.2-1.5 -8,1.2 -3.2,5 -1.6,.4 -3.2-.6 -3.2,2.7 -4.8,2.7 -4.8,1.1 -3.2,2 -4.8,1 -4.8-1.2 -3.2,.2 -8,9 -1.6,.6 -3.2-.6 -1.1,.4 -2.6,4.8 -5.9,4 -3.2,.5 -4.8,2.6 -1.6-.3 -3.2-2.1 -1.6,0 -1.8,3.3 -4.3,3.2 -.8,1.6 -.2,3.2 -.9,1.6 -2.7,1.6 -2.1,3.4 -7.6,6.2 .3,1.6 2.5,.9 1.4,2.3 .8,4.8 -.6,1.3 -1.6,1.7 -3.2,.5 -1.6,1.2 -.8,5.7 -5.4,0 1.4-1.9 1.6-.5 1.4-1.6 -1.4-3 -1.5-.2 1.5-.3 4.9-4.5 .3-1.6 -2-1.8 -.6-1.4 -.2-1.6 1-4.8 -1-3.2 .8-.8 1.6-.4 1.6,.6 1.9-1 -3.5-.2 -2.1-3 0-4.8 2-3.2 4.9-2 1.6,.6 3.2,6.2 1.6,1 1.7-4.2 4.7-3.9 1.6-2.8 1.6-1.4 4.8,1.5 9.6-2.8 4.7-3.4 3.3-4.6 4.8-.5 1.6-.9 8-7.5 9.6,.2 3-1.1 1.8-1.6 4.8-.8 5-2.4 4.6-3.9 3.2,.1 1.6-1.1 1.6-2.7 1.6-.9 3.2,.3 4.8-1.4 3.2,.9 1.6-.5 3.2-2.6 4.8-6.3 1.5,.5 -.7,3.2 .8,1.1 1.6-1.1 -1.3-3.2 1.3-.1 2.3-1.5 .9-1.6 -1.1-3.2 -.3-3.2 2.6-6.4 -2.8-5.2 -8-3.3 -6.4,.8 -1.6-.5 -1-1.4 .3-3.2 -1.1-1.6 -1.4-.7 -3.2-.6 -3.2,1.5 -3.2,.4 -3.8-2.2 .3-3.2 -1.5-6.4 3.8-3.2 -.3-6.4 1.5-1.5 3.4-.1 -3-3.2 -.4-1.8 -1.6,4.3 -3.2-.5 -.7-2 .3-1.6 3.6-3.3 4.8-2.1 3.2-.4 1-2.2 -4.2-.8 -6.4,2.6 -1.6-.9 -1.1-2.5 1.3-4.8 -.2-1.5 -3.2,1.3 -3.2,2.4 -3.2,.3 -1.7-.9 -2.7-3.2 0-1.6 1.9-1.6 .5-1.6 -1-1.6 -5-.7 -1.8-.9 -.9-1.6 1.1-1.8 3.2-.3 1.6-1.1 -1.6-1.9 -3.2-1.6 -.8-1.3 .6-3.2 -.5-1.6 -8.9-4.7 -3.2,1.8 -3.2,.7 -2.5-1 -3-3.2 .9-1.6 3.8-3.2 .6-1.6 -1.6-3.2 .6-1.6 1.2-.6 1.3,.6 .8,3.2 2.1,1.6 2.2,.3 1.6-.5 1.8-3 -.6-8 2-1.6 3.1,1.6 6.5,6.2 4.8,1.2 1.1,2.2 .1,3.2 -2.1,3.2 -2.6,1.6 -.1,1.6 .9,4.8 4.3,3.7 1.3,2.7 -1.3,5.2 4.8,1 3.5,1.8 .7,3.2 -1,4.8 5.8,0 7-1.8 .5-1.4 -.5-2.6 -1.6-.8 -6.4-7 -5.1-2.4 -1.6-3.2 -2.9-3.2 -5-1.6 -.6-1.6 2.4-2 1.6-.2 3.2,1.7 3.2-.1 2.2,.6 5.8,6.1 3.2,1.1 .7,.8 1,8 1.5,.8 4.8,.4 1.6,1.1 .6,.9 0,4.8 1.5,6.4 4.3,3.2 0,5.3 1.6,.8 2.9-2.9 1.9-3.9 1.8-.9 .6-1.6 -3.4-4.8 -.5-1.6 1.5-.8 3.2,.4 4.8,2.8 1.6,.3 4.2-2.7 .6-3.3 4.4,4.9 2,.9 2.7-.9 2.1-2.6 1.6-.4 4.8,.4 .8-.6 .4-1.6 -2.5-3.2 0-1.6 6-8 0-1.6 -1.5-1 -6.4-1.8 -4.8,3.8 -1.6-.4 -2.1-3.8 2.1-1.7 4.8-.9 0-2.2 -1.9-3.2 0-1.6 1.7-1.6 1-3.2 2.4-1.2 3.2,1.6 1.6-1.8 1.6-5 1.6-.5 3.6,3.7 -3.8,4.8 .2,1.6 6.4,3.3 3.2,.3 1.6-.5 2-1.5 .2-1.6 -3.8-5.1 -1.6-1.2 -1.6-.2 -1.5-1.5 1.3-3.2 -1.6-3.2 .7-3.2 4.3-2.3 3.2-2.6 1.6-.4 4.8,.4 4.8,3.5 1.6,.7 1.6-.2 3.3-2.3 6.9-11.2 3.4-11.2 -4-3.8 -1.3-2.6 1.3-4.2 3-3.8 0-1.6 -1.4-3.3 -3.2-.9 -1.6-7 -1.7-3.2 -.4-3.2 -2.7-3.6 -3.2-2 -12.8-11 -6.4-2.2 -4.8-.7 -4.8-3.5 -3.2,.9 -3.2-.4 -1.6,1.1 0,5.4 -1.6,2.6 -8-.3 -1.1-.7 1.5-1.6 .3-1.6 -.7-1.9 -3.2-.8 -8,.2 -6.4-4.4 -1.5-2.7 0-1.6 .4-3.2zM621.8,547.1l-.1,1.6 1.3,1.7 1.6,.3 1.6-1.7 -1.6-3.1 -1.6,0zM573,558.3l-4.4,3.2 -.6,1.6 .4,1.6 1.8,2.9 1.6,1 3.2-.5 3.2,2.7 1.6,.6 1.6-.1 1.7-1.8 .8-1.6 -.4-1.6 -5.3-2.8 -.5-3.6 -1.1-1.5 -1.6-.6zM626.2,577.5l1.8,1.6 1.2-1.6 -1.4-1.2zM635.2,579.1l-.7,1.6 .8,3.2 3.7,1.9 1.7-.3 .2-1.6 -1.9-4 -1.6-1.2zM587.2,588.7l-2.7,1.6 2.3,4.8 -3.5,3.2 -.5,1.6 1.8,2.7 3.2-.3 5.1-2.4 .6-1.6 -2.6-3.2 -.5-1.6 1.4-3.2 -.6-1.6zM561.1,604.7l-1,1.6 2.1,.7 1-.7 -.2-1.6zM614.8,606.3l2,0 -.2-1.2 -1.6-.3zM600.3,607.9l-1.3,2 -3.2,2.2 -4.8,.8 -1.6,.9 -2.2,2.1 -1.6,3.2 .1,1.6 2.1,4.5 1.6,1.4 3.2,.4 1.6-.5 2.7-2.6 2.1-1 3.2,.5 1.6-.6 2.4-2.1 2.4-4.3 2.4-2.1 -.8-1.6 -1.6,1.3 -1.6,0 -1.6-4.9 -1.6-2.5 -1.6-.1zM575,612.7l-1.2,3.2 1,1.6 3.4,.7 1.6-1.4 0-1.3 -1.6-2.2 -1.6-1.1zM612.2,625.5l-3.6,.5 -1,1.1 -2.9,6.4 .1,1.6 2.2,2.6 3.2,.2 3.2,1.6 1,2 -.4,1.6 -2.2,3 -1.6-.1 -3.2-3.5 -1.6,2.2 -1,3.2 1,1.9 1.6,.3 4.8-3.5 1,1.3 5.4,2.4 1.6,0 3.2-1.5 1.6,0 3.2,1.4 1.6,0 .3-.7 -2.1-3.2 -1.4-1.1 -3.2-.6 -1.4-1.5 -1.1-9.6 -3.8-3.2 .1-4.8zM537,631.9l2.5,4.8 .1,1.6 -2.7,4.8 -6.7,5.4 -1.6,.8 -3.5,.2 -1.2,1.6 1.4,3.2 -.2,1.6 -4.5,2.6 -4.6,3.8 -2.5,4.8 2.3,.7 6.4,4 .4,1.7 -.3,3.2 1.5,1.2 3.2-.1 4.8-3.5 .7-.8 0-1.6 -.8-1.6 -7.9-4.4 -.4-2 6.8-1.4 1.6,0 3.2,1.7 1.6-.7 .8-1.2 .2-3.2 2.2-1.6 3-4.8 2.2-1.6 .7-1.6 -1.1-6.4 .6-1.6 1.6-1.6 -1.4-6.4 -.8-1.5 -1.6-.9 -4.8-.6zM595.2,633.5l-1.9,1.6 .8,1.6 3.3,.9 1.4-.9 .4-1.6 -1.5-1.6zM508.9,641.5l-.9,1.6 1.4,1.4 1.6,.3 1.6-1.6 -.3-1.7 -1.3-.7zM517.4,644.7l-3.2,3.2 -.2,1.6 1.8,1.2 1.6,.1 3.1-1.3 1.5-1.6 -.3-1.6 -1.1-1 -1.6-.9zM579.2,644.7l1.2,4.8 -1.4,4.8 .8,1 1.6,.5 1.6-.3 1.2-1.2 .6-1.6 -.9-8 -2.5-.7zM656.2,652.7l-.7,1.6 .5,1.6 .6,.6 1.6-.6 .3-3.2zM553.8,654.3l-1,1.6 -.2,3.6 -4.8-1.6 -1.6,.2 -1.2,1 1.2,1.9 6.4,.4 4.2,5.7 0,1.6 -2.6,1.6 -6.4-.5 -1.7,.5 -2.1,1.6 -.4,1.6 1,1.2 4.8,1.3 3.2,1.7 1.6-.1 6.4-2.7 .6,.2 1,1.6 -.5,1.6 -1.1,1.2 -3.2,.8 -1.1,1.2 -.6,3.2 1.7,1.3 3.2,.7 3.2,5.2 4.8,1.4 6.4-.8 1.3-1.4 -.6-6.4 .9-1.9 1.6-1.3 -.2-1.6 .2-1 1.6,.3 0,1.7 -1.3,.6 4.5,2.3 .6,4.1 1.5,1.6 2.7,1.1 1.6-2 .1-3.9 -1.5-3.2 -4.1-3.2 -.8-1.6 2.3-9.6 -.3-3.2 -1.1-1.6 -1-.6 -1.6,.4 -2.6,3.4 -3.8,3.3 -4.8,2.3 -3.2,2.6 -1.6-.1 -3.2-1.8 -3-4.7 .4-1.6 1.9-1.6 5.5-1 .7-.6 .3-1.6 -.7-1.6 -3-3.2 -2.1-1 -4.8-.2 -1.6-.7zM634.1,654.3l-1.5,2.8 -.1,2 1.7,2.5 .5-.9 1.5-1.6 1.2-3.2 -1.2-1.6zM404.6,657.5l-2.5,1.6 .2,1.6 7.9,4 1.6,.3 .4-1.1 -.9-6.4 -1.1-1.2zM391.8,659.1l0,1.6 .8,.6 1.6,.1 1.6-1.5 0-1.1 -1.6-1.3zM502,662.3l-1.4,8 -1,1.6 -5.5,4.8 -.8,1.6 .3,1.6 3,2.3 1.6-.8 3.2-3.4 3.2-.9 1.6,.5 4.8,3.7 3.2,3 1.6,.4 1.6-.3 1.2-1.3 1.8-4.8 0-1.6 -3-2.7 -1.6-.3 -3.2,.9 -3.1-1.1 -3.3-5.1 -.1-4.5 -1.5-1.7 -1.6-.3zM549.3,663.9l-3,1.6 1,1.6 3.2,1.6 2.1,.1 1.5-1.7 -.8-1.6 -2.3-1.6zM633.9,663.9l-1.3,1.6 .9,4.8 .7,1.6 1.6-1.2 1-2 -2.6-5.4zM540.4,665.5l0,1.6 1,.4 1.6,0 1.6-1.2 1.3-.8 -2.9-1.1zM429.1,667.1l-.5,3.2 1.3,1.6 2.7,1.3 4.8,4.6 1.7-1.1 .4-3.2 -.5-1.9 -6.4-4.2 -1.6-.7zM563.8,667.1l-.1,1.6 1.5,1.6 .7,0 1.1-1.4 -1.6-1.8zM411.3,668.7l-.3,1.6 4,4.6 1.6,1.4 1.6-1.2 1.2-1.6 .2-1.6 -1.4-2.2 -4.8-1.9 -1.6,.1zM535.9,675.1l-.4,1.6 1.1,.3 3.2-1.3 .3-.6 -1.9-1zM409.6,678.3l2.2,1 1.1-1zM545.5,678.3l-1.4,1.6 -.4,1.6 1.1,3.2 3,2.6 4.8-.4 1-2.2 -.6-3.2 -5.2-3.6zM420.4,679.9l-.9,1.6 1.5,3.2 -4.4,2.4 -.5,.8 .3,1.6 1.8,1.5 1.6,.1 3.2-1.6 4.3-4.8 .6-3.2 -1-1.6 -2.3-1zM501.2,679.9l-2,3.2 -1.1,8 .3,1.6 1.2,1.6 2.8,1.6 1,1.6 -2.7,3.2 .1,1.6 4.9,3.2 -2.7,3 0,.9 1.6,1.7 4.8-2.3 7.2,1.5 -1.1,4.8 .3,3.1 1.6-.1 3.1-3 .1-1.7 -2.1-3.1 -.4-1.6 .5-3.2 -.9-3.2 -6.7-2 -5.4-2.8 -.7-1.6 7.2-8 .5-1.6 -.4-1.6 -1-1.6 -5-4 -1.6-.7 -1.6,.2zM539.8,683.1l-6.4,.6 -2.1,2.6 -2.7,2.1 -1.6,3.8 -1.6,.3 -1.6-2.1 -3.2-1.2 -1.6,.5 -1.6,3.4 -1.6-.1 -1.6-2 -1.6-.9 -1.6,1.2 -2.6,4.6 4.2,3.7 3.2,.4 3.2-3 8-.7 1.6-.8 1.8,.4 1,1.6 .5,4.8 1.5,3.3 1.6-.7 2-2.6 -.5-3.2 .5-1.6 1.2-1.1 3.2-1.4 4.8,1.1 1.6-.4 1.5-1.4 2.4-3.2 -5.5-1.9 -4.8-6zM487.6,686.3l-2.2,2.9 -3.2,.9 -4.8-2.2 -6.4,2.4 -1.6-.2 -4.8-2.8 -1.6,.1 -.6,.5 2.4,3.2 .6,3.2 -3.2,3.2 -.2,3.2 .9,1.6 1.7,1.1 1.6,0 .9-1.1 1.4-4.8 .9-.6 1.6,.7 3.2,2.2 4.8,.8 3.2,2.7 1.6,.3 3.2-2.9 1.6-.6 4.8-.3 4.8,.6 1.6-.9 1.2-2 -1-1.6 -4.1-3.2 1.1-4.8 -.4-1.9 -3.2,2.6 -3.2-2.3 -1.6-.4zM611,686.3l-.2,3.2 1,1.3 1.6,.8 2.6-.5 .6-1.6 -1.6-2.9 -1.6-1.4 -1.6-.2zM438.4,687.9l-7.4,1.2 -1.6,.7 -1.7,2.9 -.3,1.6 2,2.4 2-.8 2.8-1.8 6.4,0 2.3-1.4 .1-1.6 -2.4-3zM556.4,687.9l-.8,1.6 -.1,3.2 -1.3,1.1 -1.7,.5 .5,1.6 4.4,1.2 2.7,3.6 3.3,3.2 .4,3.5 1.6,.8 .9-1.1 4.2-4.8 .5-6.4 -8.8-3.3 -2.7-4.7zM572.5,697.5l-.6,1.6 .7,1.6 .8,.5 1.5-2.1 .1-2.5zM521.9,700.7l-1.4,1.6 .1,3.5 1.6,2.2 1.6,.5 1.6-1.4 -1.1-6.4 -.5-.8zM526.7,700.7l.1,8 -1.3,1.6 1.5,.7 2.9-2.3 1.5-1.6 -1.2-6.2 -1.6-1.6zM488.4,702.3l-1.4,1.6 .2,1.6 1.4,.6 3.2,.1 4.8-2.3 .9-1.6 -2.5-.9 -1.6-.2zM621.1,703.9l.2,1.6 1.7,.9 1.6-.1 .7-.8 -2.3-1.8zM497.1,705.5l-2.7,1.6 -.3,1.6 2.5,1 3.2,2.5 1.2-1.9 -.1-1.6 1.2-3.2 -2.3-1.3zM535.5,707.1l-1.5,1.6 1,2.6 1.6,1 2.3-.4 .9-1.6 -.4-3.2 -1.2-1.2 -1.6,.2zM641.6,715.1l-3.5,3.2 -.3,1.6 1.6,3.2 1.2,.5 3.2-.6 1.9-1.5 1.7-3.2 -.7-1.6 -2-1.6zM433.8,718.3l.8,4.8 1.2,1.9 1.6,.1 4.8-1.8 .4-.2 -2.6-3.2 -.5-1.6 -3.7-.5zM544.5,719.9l-1.5,1.1 -.6,2.1 .6,1.6 1.6,1.1 1.6,0 1.2-1.1 0-1.6 -1.2-2.8zM465.4,729.5l-3.1,1.6 .4,1.6 1.9,2.2 3.2,0 1.6-1.8 -.4-2 -1.2-1.5zM544.5,731.1l-1.5,1.7 -2.7,6.3 -3.7,1.2 -3.2,.1 -1.5,1.9 -.1,1.6 1.5,1.6 4.9,2.1 1.6,.8 1.6-.2 1.6-4.4 1.6-1.7 3.2-1.8 1.6-2 .4-4 -1.2-3.2 -2.4-.8zM547.6,745.5l.3,1.6 1.8,1.6 -.3,1.6 -3.2,2 -6.2,6 -.8,1.6 1.8,3.2 1,4.8 -.4,4.8 -2.8,4.8 2.2,6.4 3.7,0 1.5-.5 1.6-1.5 1.6-.2 .9,.6 -.5,3.2 4.9,6.4 2.3,6.4 3.6,4.1 9.6,3.4 3.2,.6 1.6-.5 2.1-2.8 .6-1.6 -1.1-1.6 -1-3.2 .6-1.6 3.6-1.4 1.5-1.8 -4.2-3.2 -.6-1.6 1.9-3.2 -.5-1.6 -2.1-1.6 -4-1.1 -2,1.1 -.8,4.8 -1.3,1.6 -3.9,0 -3.2,.9 -1.1-.9 -2.9-9.6 -.6-6.4 3.9-8 -1.1-3.2 .4-1.6 2.8-3.2 -.1-1.6 -2.9-2.1 -3.2,.5 -1.6-.6 -.8-1 -.2-3.2 -.6-.7 -3.2-1.1zM654.8,748.7l-3,4.4 -1.6-.3 -3.2-2.3 -1.6,1 -.4,2 .6,3.2 1,1.6 4.2,3.2 -.4,3.2 2.7,1.6 3.5,.1 3.6-1.7 -3.8-4.8 -1.1-6.4 1.3-1.8 .2-3zM540.2,751.9l-4.1,3.2 .5,1.4 3.2-.4 1.8-1 1.2-1.6 .3-1.6 -1.7-1.5zM514.2,755.1l-1.1,1.6 0,1.6 1.1,.9 3.2,1.3 3.2-2.1zM569.4,755.1l5.6,9 1.6,.2 1.6-1.7 1-7.5 -1-.9 -1.6-.5 -6.4,.7zM584.2,756.7l-.3,1.6 .7,1.7 1.6,1.1 2.2-1.2 .7-1.6 -1.1-1.6zM506.7,763.1l-1.9,1.6 -.4,1.6 5,1.6 1.6-1.3 1.1-3.5 -1.1-1.3 -1.6,0zM491.1,764.7l-.7,1.6 .3,1.6 2.7,1.7 6.1-1.7 .6-1.6 -1.9-1.6 -4.8-.8 -1.6,0zM566.4,767.9l-.7,3.2 1.3,2.4 1.6,.4 1.6-.3 1.6-1.6 .9-2.5 -.9-2 -3.2-.8zM580.3,774.3l-.7,1.6 1.2,1.6 2.2,1 1.6-.4 .5-2.2 -1.2-1.6 -.9-.7zM594,774.3l-.3,1.6 .7,1.6 .7-1.6 -.9-2.6zM468.3,775.9l.3,1.6 .8,.5 .3-.5 .2-1.6 -.5-.6zM614.3,780.7l-2.5,1 -4.8,0 -3.1,2.2 -3.3,.7 -3.1,2.5 -.4,1.6 5.1,3.7 3.2,4.6 3.6,1.3 .3,1.6 -1.5,6.4 -.1,3.2 2.5,1.4 1.6,.1 2.8-1.5 -1-4.8 1-3.2 -.2-3.2 .6-.6 2.5,2.2 2.3,.9 4.8-.3 1.8-.6 1.8-1.6 -.4-2 -4.8-3.4 -.3-2.6 1.4-3.2 -3-4.8 -4.5-1.9zM511.9,783.9l-2.5,5.3 -1.6,.3 -1.6-1.1 -4.8-.5 -4.8,1.5 -.9-.7 -1.5-3.2 -.8-.6 -1.6,.6 -1.3,1.6 -.3,1.6 1.6,1.3 3.2,1.1 .8,2.4 2.4,2.8 3.2,.3 3.2,1.5 3.2-.8 6.8-3.8 .2-3.2 -1.2-3.2 1.5-3.2 -.9-1.4zM581.8,785.5l-.4,1.8 1.6-.1 0-2.1zM586.3,787.1l-3.3,4.8 -.7,0 2.3,2 1.6,.5 1.6-.8 3.2-4.9 -.3-1.6 -1.3-.7 -1.6-.3zM641.4,787.1l-2.9,4.8 .4,1.6 1.7,.7 4.6-.7 1.9-1.6 -.1-4.8 -1.6-1.5 -1.6,0zM593.7,790.3l-1.5,1.6 .4,2 3.2,.9 1.6-1 -.1-1.9zM545.5,798.3l-2.5,1.8 -1.4,3 1.4,3.3 3,3.1 -1.2,1.6 -1.8,.9 -1.4,2.3 -1.1,9.6 1.3,1.6 2.8,0 3.2-1.5 1.7-1.7 .8-1.6 -.3-1.6 -2.1-3.2 -.1-2.6 1.6-1.9 4.8-.8 1,.5 1.5,3.2 2.3,1.9 1.6-.3 1.6-1.2 1.2-2 .1-1.6 -1.3-2 -2.5-1.2 -.8-1.6 -.2-3.2 -1.3-1.2 -3.2-.3 -3.2,.5 -3.2,1.7 -1.6-2.3 .5-3.2 -.5-.6zM632.9,798.3l-1.6,1.6 .4,1.6 2.5,4.7 1.6,.4 1.4-3.5 -.1-1.6 -1.3-2.2 -1.6-1.1zM597.9,801.5l1.1,.9 3.5-.9 -3.5-.5zM598.6,806.3l-.9,4.8 -3.5,1.6 -1.4,1.6 -.2,1.6 3.2,.7 3.2-1.9 4.8-1.3 2.4-2.3 -4-4.8 -1.6-.7zM343.7,809.5l-3.2,3.2 -.5,3.2 1.4,1.7 1.6,.4 2.1-.5 2.7-1.7 .9-1.5 .1-1.6 -1-2.7 -1.6-1.4zM550.5,830.3l.5,.8 2.2-.8 -.6-1.3zM77.4,548.5l8,.6 3.2-1.6 1.6,1.8 .8,2.6 -.8,1.9 -4.8,2.3 -3.5,3.8 -1.5,3.2 .1,3.2 -.7,3.2 5.3,12.8 .6,6.4 3.3,3.2 .4,3.2 -.8,.8 -3.2-.7 -1.6-3 -2.1-.3 -1.8-3.2 -3-3.2 -2.4-6.4 -8.2-6.4 -1-1.6 1.3-6.4 2.8-1.9 3.2,0 1.6-.8 4.2-3.7 .5-1.6 -2.1-6.4zM285.4,553.2l1.6,0 0,2 -1.6,0zM495,564.4l1.6-.5 1.2,.8 -1.2,2.1 -1.6,.7 -1.3-1.2zM59.7,571.1l.2,1.6 -1.7,1.7 0-4.6zM474.2,575.4l3.2,1.2 1.6,3.6 1.6,1.7 2.3,.4 2.5,1.4 3.2-.4 .6,.6 -.2,1.6 -2,.7 -1.6-.6 -3.2,.5 -3.2-1.9 -9.6,1.3 -.5,8 -1.1,1.8 -1.6,1.2 -1.6,0 -3.2-1.9 -4.8,.9 -1.6-.5 -1.8-3.1 .5-4.8 1.3-2.9 1.6-1.6 1.6-.8 9.6-.6 4.8-5.3zM491.8,575.6l3.2-1.2 6.4,2.5 4.8,.6 3.2,5 1.6,.3 4.8-.9 1,2 -.3,1.6 -1.2,1.6 -2.7,.4 -3.2-1.8 -3.2,.2 -1.6,.8 -2.8,3.6 -2,.2 -5.9-8.2 -3.4-3.2 -.1-1.6zM397.4,582.8l1.6-.4 .1,1.5 -1.7,2.3 -1.6,.4 -.5-1.1 .6-1.6zM352.6,584.9l1.6-.5 6.4,1.1 1.6,1.4 3.2,5 3.1,1.6 3.3,.7 2.1-.7 4.3-5.4 1.6-.4 3.2,1 6.4-1 4.8,.5 1.6,1.1 3.2,5.6 -3.2,.1 -1.2,1.7 .6,6.4 2.6,6.4 -.8,9.6 .3,4.8 -1.5,2.3 -4.8,1.4 -1.7,1.1 -.7,1.6 -.8,5.4 1.6,2.3 1.6-1.2 .9,1.5 -4.1,.6 -1.6,2.6 -.3,4.8 1.9,4.8 -2.3,6.4 -2.4,3.2 -1.7,5.8 -2.1-2.6 1.6-3.2 -2.4-3.2 -1.6-1.6 -.4-1.6 1.7-2.4 3.6-2.4 -.2-1.6 -15.3-6.4 -1.3-1.6 -.4-3.2 .8-.9 3-.7 -.3-1.6 -2.7-3.8 -1.6,0 -1.2,2.2 -2,1.1 -4.8,.1 -1.9-1.2 1.4-3.2 4.6-1.6 .4-1.6 -1.7-8 -1.8-4.8 .2-1.6 .4-.9 1.6-.2 3.2,.8 1.6-.6 1.2-2.3 .8-4.8 -.4-1 -1.6,.8 -1.6,.1 -3.2-2.1 -1.6,1 -1.6,2.3 -1.6-.9 -1.6-2.3 -1.6-.6 -11.2,1.4 -4.8-.7 0-1.6 3.2-.4 6.4-4.2 2.9-3 2.6-4.8zM384,607.9l-1.3,3.2 1.9-.1 2.8-1.5 .4-1.6 -1.6-1.2 -1.6,.4zM379.4,654.3l.3,1.6 1.7,.8 1.6-.8 .7-1.6 -.7-1.2 -1.6-.1zM152.6,586.9l1.6-1 1.4,1.2 -.2,1.6 -1.2,.7 -1.6,.1zM159,590.3l1.6-.9 1.6,.4 2,2.1 1.3,4.8 2.5,4.8 .1,1.6 -.8,1.6 -1.9,1.3 -3.2,0 -1.6,6.7 -1.6,2.3 -1.6,.9 -3.2,.4 -6.4,2.4 -4.8-.8 -2.8-2 -4.4-4.8 -.5-1.6 .5-1.6 2.4-2.7 1.6-.3 14.4,2.1 1-.7 .7-4.8 1.5-3.7 .7-5.9zM480.6,593.5l1.6-1.1 .7,1.1 -3.9,3.3 -1.6,.3 -.8-2zM487,604l3.2,2 3.2,.3 3.2,1.3 4.8-.3 1.6,.8 2.6,3 .3,3.2 -6.1,2.4 -1.7,2.4 -1.4,4.8 -6.5,4.6 -5.4,1.8 -2.6,2.9 -3.2-1.5 -6.4,4.9 -6.4,3.2 -1.6,1.1 -1.6-.1 -1.6-1.3 -4.8-7 -2.9-2.2 -.1-4.8 4.6-2.3 3.2-3.9 1.6-.6 4.8,4.8 4.8-3 5.9-1.4 4.1-4.8 5.6-4.8 0-1.6 -1.2-1.6zM461.4,631.9l.2,3.2 1.4,1.6 1.6-.4 1.3-1.2 0-1.6 -1.3-1.7 -1.6-.7zM330.2,607.8l.7,1.7 -.8,3.2 3.5,3.2 3,5.4 1.6,.8 1.9-9.4 1.3-3.2 1.6-1.6 1.6-.3 1.6,1.1 .3,.8 -1,3.2 -3,4.8 .1,3.2 1.8,3.2 .1,1.6 -1.5,1 -4.8-2 -.3,1 -1.5,3.2 .1,4.8 -1.5,1.5 -3.2,.2 -1.6-2.1 -1.6-.2 -1.1,2.2 -2.1,1.4 -1.6-.1 -1.6-1.3 -1-4.8 -1.2-1.6 -2.5-1.6 -.9-1.6 1.9-4.8 -.5-3.2 5.8-5.7zM293.4,610.7l1.6-.5 3.2,.2 3.8,2.3 1,1.6 -3.2,4.8 -1.6,1.4 -1.6-.9 -3.8-6.9 0-1.6zM107.8,611.8l1.6,.1 .6,.8 0,1.6 -2.2,2.2 -2.2-.6zM311,614l3.2,.4 2.3,1.5 .5,1.6 -1.2,.5 -3.2,.2 -1.9-.7 -1-1.6zM216.6,617.5l3.2-1 1.6,.3 1.4,.7 -1.4,1.7 -3.2,.5 -1.6-.6zM240.6,620.7l3.2,3.8 2.4,1 -.8,1.7 -3.2,.8 -3.2,.1 -1.6-1.1 .7-4.7 .9-1.1zM640.6,625.3l1.6-.7 1.7,.9 -.1,1.8 -1.6,.6 -1.6-.7zM208.6,630l1.6-1 1.6,.5 .5,.8 -.5,2 -2.5-.4 -1.2-1.6zM59.8,632l1.6,.2 1.6,1.1 .6,1.8 -.8,1.6 -1.4,.9 -3.2-.4 0-1.3 3.2,.2 .7-1 -.7-1.5 -3.2,.2 0-1.7zM432.6,635.6l3.2-.3 1.6,.6 2.6,2.4 1.7,4.8 2.3,3.2 -1.8,2.3 -1.6-1.4 -8-3 -1.2-1.1 -1.5-3.2 .2-1.6zM266.2,638l1.6-.3 2.1,2.2 2,4.8 .3,4.8 -.1,1.6 -4.3,.3 -1.2-.3 -.7-1.6 1.4-3.2 0-1.6 -1.1-.6 -3.2,.6 -1.6-.3 -.6-1.3 2.6-3.2zM208.6,639.5l1.7,.4 .5,1.6 -.6,.6 -1.6,.2 -.5-.8zM482.2,639.5l2.6,2 -1,.9 -1.9-.9 -.2-1.6zM218.2,641.2l1.6-.6 4,.9 1.3,1.6 -.7,1.6 -3,1.3 -1.6-.1 -1.7-1.2 -.4-1.6zM295,640.6l1.6-.4 1.6,1.9 .5,1 -.5,2 -1.6,1 -2.1-1.4 -.8-1.6 .3-1.6zM421.4,641.1l2.6,2 3.8,1.7 1.5,1.5 2,8 -1.9,.1 -3.2-.7 -1.4-1 -1.8-4.3 -3.2-2.6 -.4-2.7 .4-1zM146.2,642.8l1.6-.4 1.4,2.3 -.2,1.6 -1.7,1.6 -1.1,.4 -1.1-2 .1-1.6zM63,643.8l1.6-.7 1.6,.6 .6,1 -.1,3.2 -2.1,1.5 -1.6,.3 -1.3-1.8 0-1.6zM64.1,644.7l-1.5,1.6 0,1.6 2,.6 1.5-2.2 -1-1.6zM312.6,646l1.6-.8 4,1.1 2.4,3.2 2.2,1.6 1,5 4.8,2.3 1.9,2.3 -.1,1.6 -1.4,1.6 -2,1.2 -3.2,.7 -1.6,.1 -3.2-3.6 -1.6-.6 -2.8,.6 -3.7,8 .1,1.7 1.6,.5 9.6-.5 3.5,1.5 6.1,.8 2,2.4 .1,4.8 .7,1.6 2,.4 3.2-3.4 5.5-1.8 -.2-3.2 -2.1-3.2 .4-1.6 6.5-3.2 4.4-3.2 0-1.6 -4.8-3.2 -1-1.6 .2-1.6 2-1.6 1.9-.3 3.2,1.4 3.2-.3 1.8,.8 2.2,3.2 .2,4.8 .6,1 3.2,1 1,1.2 -1.2,8 -3.9,4.8 .7,1.6 8.2,1.1 4.8-1.4 .8,.3 .4,1.6 -.9,1.6 -3.5,2.1 -3.5,1.1 -1.6,1.6 -.5,1.6 4,1.8 1.3,1.4 1.9,5.6 3.2,.2 3.2-1 .2-1.6 -2-3.2 .6-1.6 4.8-3.2 2.8-5.7 1.6-.3 1.6,1.1 1.6-.2 .4-1.3 -.4-.8 -1.6-.6 -1.6,.3 -1.1-2.1 .3-6.4 -.8-1.5 -1.6-1.4 -3.2,.6 -1.1-.9 -.3-1.6 1.4-1.8 3.2,3 3.2,.1 2.3,3.5 3.6,3.2 3.7,.5 2.2,1.1 .7,1.6 -.3,1.6 -2.9,6.4 .3,.8 3.2,1.8 1.8,3.8 -.3,3.2 -1.6,3.2 -1,4.8 -2.9,3.2 -.5,1.6 .1,1.6 2.8,.6 1.6,1.6 .3,1 -1.4,3.2 1.2,4.8 -3.3,.6 -2.3-.6 -.5-1.6 1.4-3.2 -.2-5.7 -.7-.7 -1.2,0 -1.3,1.1 -.8,3.7 .7,3.2 -.6,1.6 -2.1,1.6 -1.1,4.8 -.9,1.3 -1.6,1.3 -6.4-.8 -4.3,1.4 1.1,1 .5,2.2 -.5,3.4 -2-.2 -1.2-4.2 -1.6,0 -1.6,1 -1.1,1.6 -2.3,1.6 -3,.6 -1.6-.4 -2.5-1.8 -2.3-3.7 -4.9-2.7 -4.1-6.4 1-2.5 5.1-2.3 1-1.6 -1.4-3.2 1.1-4.8 3-6.4 -.8-3.2 -3.7-4.8 -4.3-2 -3.2-.2 -1.6,2.2 -.2,3.2 -1.4,1 -5.1,.6 -2.4,1.6 -2.1,3.1 -.4,3.3 -1.2,1.7 -3.2-.3 -3.2-3.4 -4.8-.4 -2-.8 2.1-4.8 -1.7-3.2 .3-4.8 1.3-3.4 1.6-1.2 3.2,.5 1.6,.9 .9,1.6 -.5,6.4 1.2,3.2 3.2,.9 1-.9 -1-9.6 -1.2-1.6 -1.5-4.8 -3.7-3.5 -1.6-.9 -1.6,.3 -1.6,1.3 -2.3,4.4 -6.6,4.8 -2.3,2.6 -3.8,2.2 1.3,1.6 2.5,.4 1.6,1.1 1.2,1.7 .5,6.4 3.1,5.5 8.4,2.5 7.6,0 1.6,1.1 .9,2.1 -.3,1.6 -5,4.8 -6.8,2.5 -1.6,0 -6.4-4.9 -3.2-.3 -8.3,2.7 -2,1.6 -.9,2.2 -3.2,.3 -4.8,2.3 -1.6-1 -3.2-3.7 -3.2,1.7 -4.8-3.5 -1.6-.1 -4.3,1.8 .7,4.8 -2.8,1.8 -3.3-1.8 -1.1-1.6 3.8-3.2 .4-1.6 -3-2.5 -8,.2 -4.8-1.6 -4.8,.6 -4.8-.8 -2.1,.9 -1.1,2.3 -1.6-.5 -.6-3.4 -4.2-7.3 -1-.7 -.5-1.6 2-1.6 -.2-1.6 -4.2-6.4 .2-1.6 1.7-3.2 -.1-1.6 -1-1.6 -8.1-7 -.5-1 .5-5.8 -3.4-3.8 -2.3-4.8 -.3-8 1.2-1.8 4.8-1.7 3.2,0 6.4-1.8 11.2,0 3.2-2.5 6.4,1.3 4.8,4.7 1.6-.3 3.2-2.4 3.2,.6 4.8-.6 2.3,2.9 -2.9,3.2 -.2,3.2 .8,1.1 4.8,.9 1.6,.9 .2,1.9 -.8,3.2 -1,1.2 -4.8-.7 -1,1.1 -1.5,8 .9,1.3 6.4-1.2 3.2-3.2 3.2,0 2,1.5 .1,1.6 -2.1,1.1 -4.8,.1 -.5,2 .5,1.6 1.6,1.3 6.4,2.6 1.1-.7 .1-1.6 2-4.7 3.2-2.4 .3-.9 .3-4.8 -.6-1.1 -4.4-2.1 -1.1-1.6 1.2-3.2 4.3-6.2 3.2-1.9 1.6,.3 1.6,1.9 1.6,.3 1.6-.8 1.3-3.2 -1.2-3.2 1.5-.2 4.8-2.4 3.5-.6 1-1.6 -1.3-.7 -1.6-2.3zM310.6,655.9l-1.3,1.6 .1,2.3 1.6,.9 4.7-1.6 2.3-1.6 -1.9-1.6 -3.5-.9zM351.6,657.5l1,1.4 3.2,.5 1.6,1.2 .8,1.7 -.7,1.6 -6.5,5.1 -3.2,1.3 -1.4,1.6 1.6,4.8 -.2,2.6 -6.4,1.3 -3.2,3.4 -3.8,2.3 .1,6.4 .8,3.2 1.3,2.4 1.6,.3 6.2-1.1 .9-1.6 -.7-8 1.6-.8 3.2,.7 1.6-1.5 -1.8-3.2 -.6-3.2 4-.2 2.3,1.8 -.7,3.1 -1.6,2.6 -1.4,.7 -.6,1.6 1.2,1.6 4,2 6.1,7.6 -3.7,8 -.4,3.2 1.2,1.5 3.7,.1 .9,1.6 -1.4,3.7 -1.6,.7 -3.2,.1 -3.2,1.3 -1.2,.6 -1,1.6 2.2,5.6 1.6,1.4 3.2,1.2 2.9,4.6 1.9,1.3 3.2,.2 2.6-1.5 5.6-8 6.2-1 4.8,2.5 1.6-.2 1.1-1.3 .2-1.6 -3.4-3.2 -.5-3.2 1.2-3.2 -1.8-3.4 -.4-3 -3.6-6.4 -.8-.8 -3.2-.2 -4.8,2.5 -1.6-.6 -1.5-2.5 2.7-4.8 -.5-1.6 -7.1-3 -2.1-1.8 .5-1.6 3.2-.4 4.8-3.2 3.7-1.2 -11.7-2 -3.2-3.5 -1.6-.2 -1.6-1.4 -1.6-2.6 -.6-1.5 .6-1.6 1.6-.5 3.2,.4 1.3,1.7 -.5,3.2 .8,1.4 1.6-.6 2.9-2.4 1.4-6.4 -4.4-3.2 -.8-1.6 -.7-4.8 -1.4-1.6 -1.8,.1 -1.6,.8 -3.2-1.5zM254.8,659.1l-6.2,2.6 -6.4-2 -8,.8 -4.8,2.2 -2.7,4.4 .4,1.6 3.1,1.6 1.1,1.6 -.2,1.6 -1.7,1.7 -.6,3.1 -1.7,3.2 .1,1.6 10,9.6 -.4,8 .6,1.7 4.3,4.7 .3,1.6 -1.9,1.6 -.3,1.6 1.1,3.2 1.3,1.9 1.6,.8 3.2-.7 4.8,.6 4.8-2.5 1.6,.9 1.6,2.7 1.6,.5 6.4-1.6 1.6,.1 4.8,4.7 1.6,.3 4.8-1.5 3.2,2.2 1.5-.4 .5-3.2 2.8-2.8 1.6-1 1.6,.5 0,1.7 .2,3.2 -1.1,3.2 .2,1.6 .9,1.6 1.4,.9 2.4-.9 5.6-5.6 6.4-1.1 2.7-1.3 .7-1.6 -.8-4.8 2.7-1.6 .8-1.6 -1.3-3.2 .4-4.8 -1.1-3.2 -2.5-1.2 -8,2 -3.2-1.9 -4.8-.8 -12.8-7.1 -1.9-3.8 -1.3-1.2 -1.6-.2 -4.8,1.3 -1.1-1.5 1.7-11.2 -1.4-4.8 .7-4.8 -.7-3.2 -2.4-1.2 -1.6,.1 -1.7,2.7 -.6,3.2 -2.5,1.4 -3.2,.2 -.2-1.6 1.4-3.2 -.4-1.6 -2.4-1.6zM324.1,660.7l-.1,1.6 1.4,.8 2.2-.8 .4-1.6 -1-.8 -1.6,0zM306.4,663.9l-1.7,1.6 -.5,1.6 2,3.2 1.6-.1 2.5-3.1 .4-1.6 -1.3-2.5 -1.6,0zM295.6,667.1l-1.3,1.6 0,1.6 .7,.6 1.6-.1 1.3-2.1 0-1.6 -1.3-.6zM275.4,670.3l.5,1.6 1.5,.5 .6-.5 .1-1.6 -.7-.6zM315.3,675.1l.5,3.2 -1.6,2.1 -4.8,1.8 -6.4-.1 -9.6,4.3 -1.4,1.5 -.5,1.6 1.9,3.2 3.2,.8 3.1-2.4 1.7-1.5 4.8,2.5 1.6-.5 3.2-3.5 3.2-.7 4.1-2.7 4.5-8 -.6-1 -3.2-1.1 -1.6-.3zM390.3,675.1l-1.2,1.6 .3,2.7 4.6,2.1 1.8,4.3 2.5-1.1 1.5-1.6 .8-3.2 -1.6-1.5 -4.8-.9 -3.2-2.8zM304.9,676.7l-1.9,1.6 0,1.6 4.8,1.3 4.8-1.3 1.1-1.6 -2.7-.4 -3.2-2zM328.1,676.7l.5,1.7 1.6,.7 .7-.8 -.1-1.6 -.6-.4zM387.9,686.3l-1.8,3.2 -4.1,3.2 -.5,1.6 1.5,2.2 9.6,1 2.7,1.6 .8,1.6 -1.5,3.2 2.4,1.6 2-.1 .9-1.5 .5-3.2 2.2-3.2 .2-3.2 -.6-1 -3.2-1.2 -3.2-3.2 -3.2-1.8 -3.2-1.2zM323.7,687.9l-1.4,1.6 -.8,3.2 1.8,6.4 -.7,3.2 1.2,1.3 3.2-.2 1.6,.5 1.6,3 1.6,.8 1.2-.6 .6-1.6 -.4-1.6 -1-1.6 -3.6-2.7 -.8-2.1 .6-4.8 -.3-3.2 -2.7-1.8zM300.5,692.7l-.5,1.6 1.4,1.8 1.6-.3 1.6,1 1.6-.7 .9-.2 -1.1-1.6 -3-2.2 -1.6-.5zM385.1,699.1l-.9,3.2 .4,2.5 4.8-.5 .6-.4 -2.7-3.2 .2-1.6 -1.3-.4zM387.4,708.7l.4,1.6 1.7,0 .6-1.6 -.7-.6zM317.4,713.5l-1.3,1.6 -.1,3.2 4.6,5.6 1.6,1 1.6-.1 5.2-3.3 4.2-3.2 .6-1.6 -1.2-1.6 -2.4-.5 -3.2,.5 -6.4-2zM270.3,727.9l.7,1.7 1.6,.5 .9-.6 .2-1.6 -1.1-1.5zM192.6,647.9l2.3,1.6 .2,1.6 -2.5,1.9 -3.8,1.3 -2,6.4 -.6,.6 -1.6-.3 -1.6-3.5 0-2.5 1.6-1.5 3.2-.6 3.2-4.3zM183.9,655.9l.7,3.2 1.7,0 -.1-3.8 -1.6-.3zM479,647.1l1.6,.1 1.6,1.4 .6,.9 -.6,1.7 -1.6,.2 -1.6-.9 -.8-2.6zM285.4,649.3l3.2,.6 2,1.2 -1.5,3.2 .3,3.2 -.8,1.1 -1.6,.4 -3.2-3 -1.8-4.9 1.8-1.5zM200.6,652l1.6-.1 .8,.8 .2,1.6 -2.6,1.4 -1.8-1.4 .2-1.6zM440.6,652.6l1.6-.5 0,2.4 -1.6,1.1zM130.2,653.2l1.2,2.7 -4.2,4.8 -2,1.6 -4.6,2.1 -1.5-.5 -.2-1.6 1.7-7.3 1.6-.6 4.8,1.4zM120.8,655.9l-.6,6.4 2,.5 3.2-1.3 1.9-2.4 0-1.6 -3.5-2.2 -1.6-.3zM453.4,655.4l3.4,.5 -.2,1.8 -4.1-.2 -.3-1.6zM463,660.1l3.2,.2 1.6,2 0,1.7 -3.2,.8 -1.6-.5 -1-2zM335,663.1l2.7,.8 1,1.6 -.5,1.9 -1.6,.8 -1.6-.2 -1.8-2.5 .5-1.6zM456.6,666.5l2.2,.6 -.6,1.7 -1.6-.2 -.5-1.5zM375,671.3l1.6,0 4.8,1.5 1.6,1.9 .7,2 -.2,1.6 -1.1,1.6 -1,.5 -1.3-.5 -1.9-3 -3.3-3.4zM595.8,671.1l1.6-.2 3.2,2.1 3.2-1.9 1.5,.8 .3,1.6 -1.8,1.8 -4.8,1.9 -4.8-.6 -1.5-1.5zM255,675l1.6-1.3 1.6,.6 6.6,4 .4,1.6 -.6,5.5 -1.6-.9 -.4-1.4 -1.4-1.6 -5-3.2 -1-1.6zM568.6,675.5l1.6,.2 1.5,1 -.5,1.6 -1,.6 -1.9-.6 -.4-1.6zM459.8,677l1.1,1.3 -1.1,1.8 -.7-1.8zM469.4,681.1l2.4,.4 1.1,1.6 -.3,.2 -1.6,1.3 -1.6-.6 -.7-.9zM240.6,686.2l4,.1 1.1,1.6 -1.9,2 -4.8,.9 -1.1-1.3 0-1.6 1.1-1.3zM253.4,687.8l6.4,.6 1.4,1.1 .2,3.7 .9,1.1 2.3,1 3.2-.5 5.4-3.7 2.6,.5 .5,1.1 -1,1.6 -7.1,6.4 -2.5,3.2 -1.1,2.7 -1.6,.8 -1.8-1.9 -.1-4.8 -1.9-6.4 -4.2-2.5 -1.6-.1 -3.2,1.5 -.8-.5 .5-3.2zM599,694.1l1.6-.5 2.1,.7 .2,1.6 -.7,2 -1.6,.9 -1.9-1.3 -1.2-1.6zM283.8,698l1.7,1.1 -.1,3.7 -1.6-1 -.6-2.7zM354.2,699.6l1.6-.2 .9,1.3 -1.1,1.6 -1.4,0 -.8-1.6zM415,700.7l3.5,1.6 .4,1.6 -.9,3.2 1.2,3.2 0,1.6 -1,3.7 -1.6,.6 -2.4-1.1 -2.4-3 -2.8-1.8 -.7-1.6 1.3-4.8 3.8-2.8zM413.9,702.3l-3.5,4.8 .2,1.6 3.4,4.8 2.6,1.4 1.4-1.4 .2-1.6 -1.5-4.8 .6-3.2 -.7-1.7 -1.6-.4zM603.8,701.5l3.8,.8 .8,1.6 -.3,3.2 .5,.5 1.8-.5 .3,6.4 3.9,3.2 -1.2,1.3 -4.8-.1 -3.2,1.3 -1.6,1.4 -2.5,4.1 .9,7.2 6.4,8.1 1.6,1.3 3.2,.8 2.3,1.8 1.2,3.2 -.3,1.2 -1.6,.7 -3.2-1.7 -1.6,.3 -6,4.3 -2,.7 -.6-.7 -.5-6.4 1.1-3.2 -.2-1.6 -1.9-3.2 0-3.2 -1.1-1.5 -1.6-.5 -4.8,.1 -3.2-2 -6.4,0 -1.4-.9 -.2-1.8 3.2-.6 1.3-2.4 -.6-1.6 -3-3.2 -1.2-3.2 .7-3.2 1.2-1.9 1.6-.5 3.2,.3 3.6-4.3 7.6-1zM602.8,703.9l-2.2,2.8 -8,1.7 -4.8,5.8 -3.2-.5 -1.3,1.4 -.3,1.6 .5,1.6 3.4,3.2 .8,1.6 .4,4.8 2.4,1.6 3.7,1.8 4.8-1 1.3-2.4 -.8-4.8 4.3-5 3.2-1.5 1.2-1.5 .3-3.2 -2.5-3.2 .1-4.8 -.7-.7 -1.6-.1zM604.7,739.1l-1.9,6.4 .1,3.2 .9,1 4.6-2.6 2.6-3.2 -4-4zM343,704.8l3.2,.2 2.4,2.1 .3,1.6 -1,1.6 -1.7,1.4 -1.3,.2 -1.9-.2 -1.2-1.4 -.4-3.2 .5-1.6zM343.5,705.5l-1.5,1.6 .1,1.6 .9,1.7 1.6,.7 1.6-.4 1.6-2 -.4-1.6 -1.2-1.2zM663,706.9l3-.2 0,5.9 -3-.1 -1.6-.6 -1.2-1.6 1.2-2.5zM490.2,719.2l1.6,1 .4,1.3 -2,1.7 -1.8-.1 -.1-1.6zM504.6,719.4l1.6,0 3.2,1.8 1.5,1.9 -.4,1.6 -5.9,.9 -3.8,2.3 -2.6,.3 -1.6-.9 -1-2.6 .6-1.6 2-2.3zM523.8,722.3l1.6-.6 4.8,2.5 4.8,0 .5,.5 -3.1,4.8 -.6,3.6 -1.6,1.4 -2.4-.2 -4-1.2 -1.6-1.5 .3-6.9zM524.4,723.1l-1.1,1.6 .3,6.4 1.8,.8 1.6-1.3 2.8-4.3 -.9-1.6 -1.9-1.6zM424.6,726.8l1.5,1.1 .1,1.6 -1.6,.6 -.9-.6 -.2-1.6zM483.8,726.5l1.1,3 -.8,3.2 .2,4.8 -.5,.7 -1.6,.2 -2.5-.9 -1.1-4.8 .4-1zM344.6,729.4l1.6-.5 1.3,.6 .7,1.6 -.4,.8 -1.6,.7 -1.6-1.1zM517.4,733.5l2.3,.8 -.8,4.8 -1.5,2.8 -1.6,.8 -1.6,0 -1.6-1 -.4-1 .4-1.6 3.5-4.8zM59.8,734.3l4.8,1.5 3.2,2.1 1.8,2.8 .9,4.8 -.9,4.8 -1.9,3.2 -6.3,3 -3.2,.4 0-.7 4.8-.9 4.8-3 1-2 .8-4.8 -.4-3.2 -1.4-3.3 -4.6-3.1 -5-.9 0-.7zM392.6,734.3l1.6,.9 1.1,3.9 2.9,4.8 2.8,3.2 -.4,1 -1.6,1.1 -1.4-.5 -1.8-1 -5.3-.6 -1.4-1.6 2-6.4 .2-3.2zM392.1,740.7l-1.3,1.6 -.4,3.2 2.2,1 3.2-.9 .7-1.7 -.7-2.2 -1.6-1.7 -1.6-.1zM586.2,735.7l1.6-.5 3.2,.1 3.8,3.8 -.6,1.8 -1.6,.5 -6.4-1.9 -.6-2zM629.4,743.8l3.2,1.2 .7,2.1 -3.9,2.5 -1.6,.3 -1.6-.6 -.2-2.2 .3-1.6 1.5-1.5zM627.9,745.5l-.5,1.6 .4,.7 1.6,.3 1.6-.9 0-1.7 -1.6-.6zM522.2,748.4l3.2-1 1.6,.4 .7,.9 .1,1.6 -.8,1 -4.8-.6 -.4-2zM623,751.7l1.6-.5 .7,.7 -.6,6.4 1.5,1.3 1.6,.1 6.4-1.9 3.2-.3 2.2,.8 0,1.6 -2.2,2.2 -5.1,1 0,1.6 1.9,3.4 -1.6,2 -1.6,.6 -3.2-.8 -1.6,.5 -1.6,1.7 -1.6-.9 -2.3-3.3 -4.1-.7 -.8-.9 -.7-1.6 .7-1.6 4.9-3.2 -.1-4.8 .8-1.9zM633.6,759.9l2.2,.8 1.7-.8 -1.7-.6zM621.9,763.1l-.5,.7 -3.2-.6 -1.1,1.5 1.1,.9 3.2-.4 3.2,3.2 3.2-.5 3.6,0 -3.6-5.3 -3.2-.8zM397.4,755.1l1.6-.6 .3,.6 -.3,4.8 -1.6,.4 -1.9-2 .1-1.6zM397,756.7l-.6,1.6 1,1.3 .8-1.3 -.4-1.6zM437.4,759.8l1.6-.6 2,.7 1.8,4.8 -.6,2.2 -5.8-5.4zM551,759.4l1.8,.5 -.2,1.8 -1.6,2.1 -1.6,.4 -.7-1.1 .7-2.5zM429.4,762l1.6-.1 .5,1.2 -1.2,1.6 -.9,1.3 -1.5-1.3 .3-1.6zM485.4,775.6l1.6-.5 2.5,.8 .5,3.2 -1.4,1.9 -1.6,.1 -1.6-.8 -.7-1.2zM486.3,777.5l.4,1.6 .8,0 .8-1.6 -1.3-.8zM632.6,777.1l2.2,.4 -.5,1.6 -1.7,.9 -1.6-.3 -.3-.6zM475.8,786.5l1,2.2 -1,1.6 -.8-1.6zM666,786.8l0,1 -3,.7 -3.2,2.6 -3.2,1.1 -1.6,1.6 -1.5,2.9 .3,1.6 1.2,1 1.6,.1 9.4-3.7 -.2,1 -9.2,4 -3.2-.1 -1.2-.7 -.3-1.6 3.1-8.3 1.6-1 1.6,.7 1.6-.3 3.2-2zM645.4,800.7l3.2-.4 3.1,1.2 .1,1.6 -1.6,2.1 -3.2,.6 -2.5-1.1 -.7-1.6zM482.2,809.1l1.3,.4 .6,1.6 1.3,1.2 6.4,1.6 4.8-.6 3.8,2.6 .8,3.2 -.5,3.2 -2.8,4.8 -2.9,2.1 -1.6-.2 -2.4-1.9 -.7-1.6 .5-3.2 -.6-1 -3.2,.5 -2.8-1.1 -2.5-6.4 -.1-4.8zM487.1,814.3l-2.4,1.6 .7,2.9 1.6,.9 6.4-1.2 0,2.2 -1.4,4.8 1.4,1.9 1.6,.4 1.3-.7 1.9-2.2 1.2-2.6 .7-3.2 -.9-3.2 -2.6-1.6 -1.6-.1 -1.6,1.2 -1.6,.2 -3.2-1.5zM320.6,821.9l1.6-.1 1.6,1.2 .6,.9 -.6,2.3 -1.6,.8 -1.6-.8 -1-2.3zM320.2,823.9l.8,1.6 1.2,.6 1-.6 .2-1.6 -1.2-1.3 -1.6,.4zM333.4,821.9l1.6-.9 1.6,1.4 -1.6,1.2 -1.6-.8zM602.2,825l1.6-.8 1.6,.1 .6,1.2 1.5,6.4 -3.8,4.8 -.6,1.6 .7,1.7 5.6,3.1 .9,1.6 -.1,4 -1.5,0 .3-2.4 -.4-2.1 -4.8-2.2 -3.2-3.7 -1.6-.6 -3.8,2.2 -1.5,3.2 2.4,5.6 -1.5,0 -2.5-5.6 1.5-3.2 3.7-3.2 .7-1.6 .2-4.8 -2.4-3.2zM601.8,830.3l-1.2,3.2 1.6,1.6 1.6-1.2 1.1-2 -1.1-2.7 -1.6-.2zM523.8,828l1.6,1.2 .4,2.7 -3.6,5.3 -2,1.1 -1.1,4.8 1,5.6 -5.9-.4 -3,.4 1.4-2 2.7-2 -3.7-4.8 .7-1.6 1.9-.6 4.8,.1 .6-1.1 -2-4.8 1.4-1.5zM523.5,830.3l-4.2,1.6 1.3,2.7 1.6-.1 2-2.6zM513.3,839.9l.9,1.5 2.2,.1 .5-1.6 -1.1-.6 -1.6-.2zM59.8,835.1l3.2-.1 1.4,1.7 .6,6.4 -3,5.6 -3.8,0 4-4 .3-1.6 -1.1-2.5 -1.6-.6 -1.6,1 0-4.9zM557.4,835.1l1.6,0 2.5,1.6 0,1.6 -.9,1 -1.6,.6 -2.6-1.6 -.6-1.6zM615,835l1.6-.4 1.6,.5 .6,1.6 -.6,.6 -1.8-.6zM584.6,836.2l1.8,.5 1.3,1.6 .1,1.6 -1.6,1.3 -4.8,1.1 -1.6-.5 .5-1.9 2.7-3.1zM330.2,837.2l3.1,1.1 1.4,1.6 .3,1.6 -5.4,3.2 -1,.6 -1.7-.6 2.1-6.4zM329.8,839.9l.4,2.4 1.8-.8 .4-1.6 -.6-.9 -1.6-.1zM570.2,838.8l1.6,.8 .9,3.5 -.4,5.6 -1.6,0 -.5-3 -1.6,.6 -1,2.4 -2.2,0 2.3-4 .9-4.5zM538.2,840.4l1.6,0 1.6,1.1 -1.6,1.1 -2-1.1zM487,842.7l4.8,2.9 11.2-.4 1.4,1.1 1.1,2.4 -1.1,0 -1.4-2 -1.6-.4 -1.6,.6 -8,.3 -4.8-1.2 -1.6,1.4 -.5,1.3 -1.8,0 1.6-4zM559,843.7l1.6-.3 1.6,1.1 1.6,3 1.6,1.2 -3.2-.2 -1.6-2.7 -.6,.5 -.5,2.4 -1.7,0 0-2.4zM656.6,844.7l2.4,1.6 .3,2.4 -.7,0 -.6-2.4 -1.4-.9 -3.2,.6 -1.3,2.7 -.9,0 .8-2.4 1.4-1.1z" fill="#FFEEEE" stroke="#FFEEEE" stroke-width="0.6"/>
<path d="M59.8,545.5l29.3,0 1.1,1.6 1.6-1.6 33.2,0 1.7,4.8 0,3.2 -.6,1.6 -4.1,4.8 -1.4,4.5 -1.6,.6 -3.2,0 -3.2-1.9 -1.6,.2 -4,3 -3.7,6.4 -1.2,4.8 2.7,6.4 .1,1.6 -1.9,3.2 -.2,1.6 2.8,4.8 3.8,2.7 3.2,.5 4.8-.3 6.4,1.6 3.2-.1 2.9-1.2 1.3-1.6 .1-6.4 2.1-3.2 0-4.3 1.6-1.1 1,3.8 -.9,3.2 1.2,4.8 -.5,1.6 -3.3,3.2 -1.1,3.2 2,2.5 1.6,.1 3.2-2.2 .7-5.2 .9-1.6 5-3.2 .7-1.6 -.6-6.4 1.3-2.7 3.2-2.6 1.6-2.7 -.3-1.6 -4.9-8 1.9-4.8 3.3-1.2 1.9-2 0-1.6 -2.6-6.4 .5-1.6 2.6-3.2 47,0 -1.4,2.2 -3.2,1.4 -1.9,2.8 -4.5,2.1 -2-.5 -1.5-1.6 -2.9-5.1 -.7,3.5 -.9,1.3 -4.8-1.8 -1.6,.4 -3.2,4.5 -1.6,.8 -1.6-.8 -1.6-2.7 -3-1.7 -1.8-1.9 -3.2,1.3 -1.4,2.2 .4,1.6 2.6,1.9 3.2,3.6 4.1,2.5 1.9,6.4 3.1,3.2 3.7,7.9 1.6,7 3.4,5.9 .1,1.6 -1.1,1.6 .8,.7 1.8,4.1 -.2,2.6 -1.1,.6 -2.1-.3 -3.2-2.3 -2,1 -.9,1.6 1.3,1.5 1.6,.3 1.6,5.2 -1.6,.8 -4.8-3.6 -3.2,.8 -1,1.4 .6,1.6 2.7,1.6 1.2,1.6 -1.6,1.6 -6.7,3.9 -1.7,2.5 -.8,3.2 .4,6.4 -.9,1.6 1.6,3.2 -.1,3.2 -1.7,2.4 -3.2-.7 -1.9,1.5 .6,1.6 1.3,.7 3.2-2.1 3.2,.9 2,2.1 1.2,3.8 1.6-.3 .2-3.5 2-3.2 -.4-3.2 1.4-1.8 3.2-.2 1.6-1.1 .5-1.7 -2.1-4.3 -6.4,.6 -3.2,2.3 -2.2-.2 -.6-1.6 2.6-3.2 .3-1.6 1.5-.7 8,2.5 3.2-1.3 3.2,1.2 3.2-.5 1.6,.8 .8,2.8 2.4,1.3 3.2-3.4 1.6,.1 .5,2 -.3,3.2 4.6,.8 1.6,.1 4.1-4.1 .1-1.6 -1.7-1.6 .2-1.6 2.3-1.6 1.2-3.2 3.6-3.2 .1-1.6 -1.2-8 -5.9-6.4 -2.1-4.8 -.8-11.2 4.9-7.1 1.6-.7 8,3.4 3.2-1.4 1.6-2.3 1.6-.6 8,3.5 3.2,2.6 4.5,1 1.2,3.2 -1,3.2 .1,2 1.6,1.5 4.8,2.3 2.2,2.2 2.6,1.1 1.6-.2 3.2-2.1 1.6-.3 3.2,1 3.2-1.7 14.4-4.1 1.6,.8 1.6,3.9 1.6-.4 3.4-2.8 4.8-6.4 .6-1.6 -.2-3.2 2.1-1.6 -.1-1.6 -1-1.9 -.8,.3 -.2,3.2 -.6,1 -3.2-.1 -3.4-.9 -2.5-3.2 -4.5-3.2 -4-.3 -2.9,1.9 -3.5,5.5 -1.6,.8 -9.6,1.3 -4.8-1.8 -8.8-1 -.9-1.6 1-3.2 3.1-3.2 2.4-5.8 3.2-2.9 3.2-1.6 4.8,0 3.2-1.4 4.8,1.2 1.6-.4 4.8-4.1 6.4-4.2 3.5-4.8 -1.2-4.8 16.5,0 .2,3.2 .8,1.6 2.6,2.4 1.6,.2 1.6-.7 3.2-.1 1-1.8 1-4.8 11.7,0 -.8,1.6 1,1.6 2.1,2.4 3.4,.8 3.6,4.8 5.8,2.5 9.6,2.4 8-3.2 8-4.8 3.2-4.2 1.6-.6 1.6,.1 5.3,3 .4-1.6 -.5-1.6 -2.5-3.2 47.3,0 .9,3.2 -.5,4.8 .8,1.5 1.6,.3 4.8-3.8 1.6-.5 4.8,.7 .8-1.4 -.5-1.6 -2.9-3.2 31.9,0 -.4,4.8 .6,1.6 4.1,3.8 3.2,1.7 9.6-.1 1.9,1 .4,1.6 -.7,2.2 -1.1,1 1.1,.7 6.4,.6 1.6-.3 1.1-1 .5-7 1.6-1.1 3.2,.4 3.2-.9 4.8,3.5 4.8,.7 6.4,2.2 17.9,15 1.2,4.8 1.7,3.3 1.6,6.9 3.2,.9 1.4,3.3 0,1.6 -3,3.8 -1.3,4.2 1.3,2.6 4,3.8 -3.4,11.2 -6.9,11.2 -3.3,2.3 -1.6,.2 -1.6-.7 -4.8-3.5 -4.8-.4 -1.6,.4 -3.2,2.6 -4.3,2.3 -.7,3.2 1.6,3.2 -1.3,3.2 1.5,1.5 1.6,.2 1.6,1.2 3.8,5.1 -.2,1.6 -2,1.5 -1.6,.5 -3.2-.3 -6.4-3.3 -.2-1.6 3.8-4.8 -3.6-3.7 -1.6,.5 -1.6,5 -1.6,1.8 -3.2-1.6 -2.4,1.2 -1,3.2 -1.7,1.6 0,1.6 1.9,3.2 0,2.2 -4.8,.9 -2.1,1.7 2.1,3.8 1.6,.4 4.8-3.8 6.4,1.8 1.5,1 0,1.6 -6,8 0,1.6 2.5,3.2 -.4,1.6 -.8,.6 -4.8-.4 -1.6,.4 -2.1,2.6 -2.7,.9 -2-.9 -4.4-4.9 -.6,3.3 -4.2,2.7 -1.6-.3 -4.8-2.8 -3.2-.4 -1.5,.8 .5,1.6 3.4,4.8 -.6,1.6 -1.8,.9 -1.9,3.9 -2.9,2.9 -1.6-.8 0-5.3 -4.3-3.2 -1.5-6.4 0-4.8 -1.2-1.6 -5.8-.8 -1.6-1 -.5-6.2 -1.1-2.4 -3.2-1.1 -6.4-6.5 -4.8-.1 -3.2-1.7 -2.4,.6 -1.6,1.6 .6,1.6 5,1.6 2.9,3.2 1.6,3.2 5.1,2.4 6.4,7 1.6,.8 .5,2.6 -.5,1.4 -4.8,1.1 -3.2,.8 -4.8-.1 1-4.8 -.7-3.2 -3.5-1.8 -4.8-1 1.3-5.2 -1.3-2.7 -4.3-3.7 -.9-4.8 .1-1.6 1.9-.9 2-2.3 .8-1.6 -.1-3.2 -1.1-2.2 -4.8-1.2 -8-7.3 -1.6-.5 -2,1.6 .6,8 -1.8,3 -3.2,.5 -1.6-.9 -1.1-1 -.8-3.2 -1.3-.6 -1.2,.6 -.6,1.6 1.6,3.2 -.6,1.6 -3.8,3.2 -.9,1.6 3,3.2 2.5,1 3.2-.7 3.2-1.8 8.9,4.7 .5,1.6 -.6,3.2 .8,1.3 3.2,1.6 1.6,1.9 -1.6,1.1 -3.2,.3 -1.1,1.8 .9,1.6 1.8,.9 5,.7 1,1.6 -.5,1.6 -1.9,1.6 0,1.6 2.8,3.3 1.6,.8 3.2-.3 3.2-2.4 3.2-1.3 .2,1.5 -1.3,4.8 1.1,2.5 1.6,.9 6.4-2.6 4.2,.8 -1,2.2 -3.2,.4 -4.8,2.1 -3.6,3.3 -.3,1.6 .7,2 3.2,.5 1.6-4.3 .4,1.8 3,3.2 -3.4,.1 -1.5,1.5 .3,6.4 -3.8,3.2 1.5,6.4 -.3,3.2 3.8,2.2 3.2-.4 3.2-1.5 3.2,.6 1.4,.7 1.1,1.6 -.3,3.2 1,1.4 1.6,.5 6.4-.8 8,3.3 2.8,5.2 -2.6,6.4 .3,3.2 1.1,3.2 -.9,1.6 -2.3,1.5 -1.3,.1 1.3,3.2 -1.6,1.1 -.8-1.1 .7-3.2 -1.5-.5 -4.8,6.3 -3.2,2.6 -1.6,.5 -3.2-.9 -4.8,1.4 -3.2-.3 -1.6,.9 -1.6,2.7 -1.6,1.1 -3.2-.1 -4.6,3.9 -5,2.4 -4.8,.8 -1.8,1.6 -3,1.1 -9.6-.2 -8,7.5 -1.6,.9 -4.8,.5 -3.3,4.6 -4.7,3.4 -9.6,2.8 -4.8-1.5 -1.6,1.4 -1.6,2.8 -4.7,3.9 -1.7,4.2 -1.6-1 -3.2-6.2 -1.6-.6 -4.9,2 -2,3.2 0,4.8 2.1,3 3.5,.2 -1.9,1 -1.6-.6 -1.6,.4 -.8,.8 1,3.2 -1,4.8 .2,1.6 .6,1.4 2,1.8 -.3,1.6 -4.9,4.5 -1.5,.3 1.5,.2 1.4,3 -1.4,1.6 -1.6,.5 -1.4,1.9 -1.3,0 1.5-4 -.4-.1 -3.8,1.7 -1.4,2.4 -2.2,0 -.9-4 3.5-8 1.6-.6 4.8,1.6 1.6-.3 1.1-2.3 -.7-4.8 .8-3.2 -1.2-1.3 -3.2-.7 -1.4-1.2 -.3-1.6 1.7-2.7 3.2-1.2 .7-.9 .7-4.8 -.7-4.8 .9-.9 3.2,.5 6.4-1.2 1.6,.6 1.6,2.3 1.6-.2 4.8-2.7 3.2-4.4 1.6-1.1 3.2,.9 1.6-1.9 1.6-.6 1.6,.7 1.6-.2 6.4-1.8 6.4-5.5 4.8-1.1 9.6-7.4 8-.2 3.2-1.1 3.2-2.1 6.9-1.4 2.9-1.6 3-3.3 4.8-1.5 2.8-3.2 5.2-.8 .6-.8 -.6-1.6 -4.3-4.8 1.5-1.6 2.8-1.5 1.6,.1 1.8,1.4 3,7.3 1.6,.1 3.2-1.6 1.6-1 1.1-1.6 .7-3.2 3-1.2 3.2-.2 1-1.8 0-4.8 2-6.4 -.3-1.6 -2.1-3.2 -7-2.9 -1.6,0 -4.1,1.3 2.5,3.2 -3.2,.1 -3.2-5.6 -.2-4.1 -1.4-1.7 -3.2-.5 -3.2,1.3 -3.2,.5 -4.8-1.8 -3.2,1 -1.6-.4 -1.6-7.1 1.6-.1 3.2,1.5 .9-.7 -1.2-6.4 .3-.6 3.2-1.4 .4-1.2 -.4-2.9 -1.6-.4 -3.2,3 -3.2-3.4 -.9,3.7 -2.3,2.7 -1.6,0 -6.4-2.7 -1.7,0 -.7,3.2 -1.4,1.6 3.8,.8 2.3,4 -.8,4.8 -1.5,2.1 -2.9-3.7 -1.9-.9 -1.6-.4 -6.4,.5 -8,4.7 -3.9,.9 -.9,1.7 -3.2-1.2 -1.9,4.3 -1.3,1.4 -1.6,0 -1.6-1 -1.6-2.4 -3.3,2 -3.1,1 -1.6,.1 -2.9-1.1 -4.1-4.8 -4.2-2.1 -3.2-4.2 -3.2-1.4 -.5-5.1 -2.7-1.3 -2.1,2.9 -2.7,1.6 -3.2-.7 -1.6,.4 -3.2,2.2 -4.8,.2 -3.2,1.2 -3.2-.6 -3.2-2.9 -1.6-.5 -8,.7 -3.3,1.6 -.6,3.2 -.9,1 -4.8-.3 -4.8,1.4 -4.8-3.3 -3.2,1 -1.6-.2 -3.2-2.6 -1.6,.1 -2.3,1.3 .1,1.6 1.4,1.6 -5.6,2.7 -4.8-2.3 -4.8,1.2 -1.7-1.6 .1-4.8 -1.6-.9 -3.2-.5 -1.6,.8 -6.4-1.9 -3.2,1.5 -3.2-.2 -2.1-2 -.4-3.2 -2.3-4.4 -4.5-3.6 -.3-1.6 1.6-4.8 -1.6-2 -3.2-.6 -.3-.6 4.2-4.8 .9-1.6 -.1-1.6 -1-1.6 -5.3-4.7 -1.6-.5 -3.2,1.4 -1.9-1 -.1-1.6 3.6-2.6 .5-2.2 -.5-1.7 -4.1-3.1 -2.3-3.9 -3.3-2.5 1.9-4.8 -.3-6.4 2.8-3.2 .1-1.6 -4.4-6.9 -1.6-1.1 -3.2,.3 -3.1,1.3 -1.7,4.8 0,3.2 -1.6,1.6 -3.2,1 -2.1-1 -2.7-2.9 -1.6,.5 -3.8,2.4 -2.6,5.5 -1.6,1.2 -1.6-.2 -2.4-4.9 -.2-3.2 1-1.5 4.8-2.5 3.2-5.2 1.6,0 1.6,1.3 3.2,4 1.6,.3 2.1-1.2 0-3.2 -.8-3.2 -4.5-2.6 -1.6-.3 -1.6,.6 -1.6,1.5 -1.6,.5 -2.6-1.3 -.6-2.2 -1.6-1.6 -3.2,0 -10.1,8.6 -1.1,6 -1.6,.6 -1.6-.4 -3.2-2 -1.6,.4 -1.6,1.8 -1.6,.1 -1.6-1.3 -1.6-2.9 -3.2-3.1 -2.2,2.4 -4.2,2.3 -1.6,.2 -.6-.9 0-4.8 2.2-4 1.6-.4 3.2,2.2 1.6-1.5 .3-4.3 -1.3-3.2 -2.2-1.2 -6-.4 -2.3-1.6 -1.3-2.7 -1.6-.4 -1.6,.6 -3.2,3 -1.6-.1 -3.2-4.1 -3.2,0 -1.6-.6 -.3-.5 4-3.2 .3-1.6 -.8-2.2 -6.1-4.2 -2.4,0 -2,4.8 -5.5,1.8 -4.8-.3 -3.2,1.2 -4.8-2.5 -4.8-.6 -3.2,.7 -1.6,3.1 -4.8,1.8 -5.2-2 -.7-1.6 .8-3.2 4.4-3.2 .7-1.6 .4-3.2 -1-1.6 -1.5-1.6 -4.3-2.4 -1.6-2.8 -4.8-3.7 -4.8-7.5 -1.6-.6 -6.4,1.7 0-16.6 1.7-1.7 -.2-1.6 -1.5-1.3 0-24.3zM77.2,548.7l-.4,1.6 2.1,6.4 -.5,1.6 -4.2,3.7 -1.6,.8 -3.2,0 -2.8,1.9 -1.3,6.4 1,1.6 8.2,6.4 2.4,6.4 3,3.2 1.8,3.2 2.1,.3 1.6,3 3.2,.7 .8-.8 -.4-3.2 -3.3-3.2 -.6-6.4 -5.3-12.8 .7-3.2 -.1-3.2 1.5-3.2 3.5-3.8 4.8-2.3 .8-1.9 -.8-2.6 -1.6-1.8 -3.2,1.6zM439,550.3l-1,4.8 1,2.2 1.6,1.3 1.6,.2 3.2-1.1 .9-2.6 -.8-1.6 -4.9-3.8zM285.2,553.5l.2,1.7 1.6-.1 0-1.9zM398.9,553.5l-5.8,3.2 -1,1.6 -1.4,4.8 .1,1.6 1.4,1.6 2,.5 1.6-.3 3.2-1.9 2.4-3.1 .8-6.4 -1.6-1.8zM364.3,564.7l-1.1,1.6 0,1.6 1.3,3.2 4.1,4.1 1-.9 1.5-6.4 -.9-1.6 -3.2-2.7zM494.6,564.7l-.9,1.6 1.3,1.2 2-1.2 .8-1.6 -1.2-.8zM375.6,566.3l-.3,1.6 1.3,1.8 1.6,.4 1.6-1.2 .5-1 -1.4-1.6 -2.3-.5zM435.6,574.3l-1.3,6.4 -6.5,6.1 -2.3,5.1 -2.5,3 -4.8,.7 -4.8-.6 -4.8,1.1 -1.6,1.3 -2.5,4.1 -.3,1.6 2.2,8 3.8,.9 2.7,2.3 1.2,4.8 -.2,4.8 1.1,3.7 1.6,1.3 1.6,0 4.8-3.7 4.8,.4 6.4,2.6 1.6-.1 1.5-2.6 .1-4.8 1.3-1.6 3.5,.3 4.8-2.6 3.2-2.7 3.2-.8 1-2.2 -1-2.7 -6.4-2.9 -6.4,.7 -1.6-.1 -1.9-1.4 -.4-1.6 3.3-4.8 .4-1.6 1.5-16 -.4-3.2 -1.3-3.2 -1.2-1.1 -1.6,0zM472.7,575.9l-4.9,5.3 -9.6,.6 -1.6,.8 -1.6,1.6 -1.3,2.9 -.5,4.8 1.8,3.1 1.6,.5 4.8-.9 3.2,1.9 1.6,0 1.9-1.4 .8-1.6 .5-8 9.6-1.3 3.2,1.9 3.2-.5 1.6,.6 2-.7 .2-1.6 -.6-.6 -3.2,.4 -2.5-1.4 -2.3-.4 -1.6-1.7 -.9-2.7 -1.8-1.6 -2.1-.5zM491.5,575.9l-1.1,1.6 .1,1.6 3.4,3.2 5.9,8.2 1.6,.1 3.2-3.9 3.2-1.2 6.4,2.2 1.6-.9 .7-1.3 .3-1.6 -1-2 -4.8,.9 -1.6-.3 -3.2-5 -4.8-.6 -4.8-2.1 -3.2-.2zM331,580.7l-2.7,1.6 -.7,1.6 .8,1.6 1.8,.9 3.2,0 1.8-.9 .9-1.6 -.3-1.6 -.8-1.4 -1.6-.7zM395.9,583.9l-.6,1.6 .5,1.1 2.2-1.1 1.1-1.6 -.1-1.5zM352,585.5l-1.9,1.6 -2.6,4.8 -2.9,3 -6.4,4.2 -3.2,.4 0,1.6 4.8,.7 11.2-1.4 1.6,.6 1.6,2.3 1.6,.9 1.6-2.3 1.6-1 3.2,2.1 1.6-.1 1.6-.8 .4,1 -.8,4.8 -1.2,2.3 -1.6,.6 -3.2-.8 -1.6,.2 -.4,.9 -.2,1.6 1.8,4.8 1.7,8 -.4,1.6 -4.6,1.6 -1.4,3.2 1.9,1.2 4.8-.1 2-1.1 1.2-2.2 1.6,0 2.7,3.8 .3,1.6 -3,.7 -.8,.9 .4,3.2 1.3,1.6 15.3,6.4 .2,1.6 -3.6,2.4 -1.7,2.4 .4,1.6 2.9,3 1.1,1.8 -1.6,3.2 2.1,2.6 1.7-5.8 2.4-3.2 1.9-4.8 .1-3.2 -1.8-4.8 .5-3.2 1.6-2.6 4.1-.6 -.9-1.5 -1.6,1.2 -1.6-2.3 -.1-2.2 1.6-4.8 1.7-1.1 4.8-1.4 1.5-2.3 -.3-4.8 .8-9.6 -2.6-6.4 -.6-6.4 1.2-1.7 3.3,.1 -.6-1.6 -2.7-4.2 -1.6-1.1 -4.8-.5 -6.4,1 -3.2-1 -1.6,.4 -4.3,5.4 -2.1,.7 -1.6-.2 -4.8-2.1 -3.2-5 -1.6-1.4 -6.4-1.1zM152.5,587.1l.1,2.4 2.8-.8 .2-1.6 -1.4-1.2zM317.2,588.7l-1.4,1.3 0,.9 1.6,.7 3.2-.8 3.2,1.3 1.3-1.8 -1.3-2.1 -1.6-.4zM159,590.3l-.9,1.6 -.7,5.9 -1.5,3.7 -.7,4.8 -1,.7 -14.4-2.1 -1.6,.3 -2.4,2.7 -.5,1.6 .5,1.6 4.4,4.8 4.4,2.6 4.8,0 4.8-2.2 3.2-.4 1.6-.9 1.6-2.3 1.6-6.7 3.2,0 1.6-.9 1.1-2 -.1-1.6 -2.5-4.8 -1.3-4.8 -2-2.1 -1.6-.4zM480.6,593.5l-4,1.6 .8,2 1.7-.4 3.8-3.2 -.7-1.1zM227.5,601.5l-1.3,.9 -1.1,2.3 2.1,8 2.2,1.1 1.9-1.1 1.5-3.2 .2-3.2 -2-3.4 -1.6-1.3zM486.7,604.7l.3,1.6 1.2,1.6 0,1.6 -5.6,4.8 -4.1,4.8 -5.9,1.4 -4.8,3 -4.8-4.8 -1.6,.6 -3.2,3.9 -4.6,2.3 .1,4.8 2.9,2.2 4.8,7 1.6,1.3 1.6,.1 3.2-2.2 4.8-2.1 6.4-4.9 3.2,1.5 2.6-2.9 5.4-1.8 6.5-4.6 1.4-4.8 1.7-2.4 6.1-2.4 -.3-3.2 -2.6-3 -1.6-.8 -4.8,.3 -3.2-1.3 -3.2-.3 -3.2-2zM330,607.9l-6.2,3.9 -5.8,5.7 .5,3.2 -1.9,4.8 .9,1.6 2.5,1.6 1.2,1.6 1,4.8 1.6,1.3 1.6,.1 2.1-1.4 1.1-2.2 1.6,.2 1.6,2.1 3.2-.2 1.5-1.5 -.1-4.8 1.8-4.2 4.8,2 1.5-1 -.1-1.6 -1.8-3.2 -.1-3.2 3-4.8 1-3.2 -.3-.8 -1.6-1.1 -1.6,.3 -1.6,1.6 -1.3,3.2 -1.9,9.4 -1.6-.8 -3-5.4 -3.5-3.2 .8-3.2zM292.8,611.1l0,1.6 3.8,6.9 1.6,.9 2.6-3 2.2-3.2 -1-1.6 -3.8-2.3 -1.6-.3zM107.2,612.7l-1.6,3.2 2.2,.6 .9-.6 1.3-1.6 0-1.6 -.6-.8 -1.6-.1zM86.1,614.3l-1.1,1.6 .4,2.5 1.6,1.1 1.4-.4 1.1-1.6 0-3.2 -.9-1.5zM310.4,614.3l-.7,1.6 1,1.6 3.5,.9 2.8-.9 -.5-1.6 -2.3-1.5 -1.6-.5zM216.6,617.5l0,1.6 1.6,.6 3.4-.6 1.2-1.6 -1.4-.7 -1.6-.3zM240.5,620.7l-1.5,.5 -.9,1.1 -.9,3.2 .2,1.6 1.6,1 4.8-.1 1.7-.9 .7-1.6 -2.4-1zM257.3,628.7l-1.1,3.2 1.3,1.6 3.9,1.3 1.6-.3 1-1 .3-1.6 -1.3-3.4 -3.2-1.1zM208.1,630.3l2.1,2.1 1.9-.5 -.3-2.4 -1.6-.5zM308.8,633.5l-5.8,4.2 -.5,2.2 3.7,.8 3.2,1.8 4.8-.8 .4-1.8 -2-4.8 -1.6-1.5zM248,635.1l-9,4.2 -4.8,1 -2.1,1.2 .5,1.6 3.2-.4 3.2,1 3.2,1.9 1.6,.1 3.2-1.9 1.6,.4 4.8,4.4 3.2-.4 .4-.3 -1.4-3.2 .4-1.6 2.5-3.2 -.1-1.6 -1.8-1.7 -4.8-2.2zM431.2,636.7l-1.3,3.2 1.5,3.2 1.2,1.1 8,3 1.6,1.4 1-.7 .8-1.6 -2.3-3.2 -1.7-4.8 -1.6-1.6 -2.6-1.4 -1.6,0zM265.7,638.3l-2.3,1.6 -2.6,3.2 .6,1.3 1.6,.3 3.2-.6 1.1,.6 0,1.6 -1.4,3.2 .3,1.2 1.6,.7 4.3-.3 0-4.8 -2.7-7.2 -1.6-1.4zM208.3,639.9l.3,2.4 1.6-.2 .6-.6 -.6-1.7zM342,639.9l2.6,1.3 .7-1.3 -.7-.7zM481.7,639.9l.5,1.9 1.6,.6 1-.9 -2.6-2zM218,641.5l.1,3.2 1.7,1.2 3.2-.4 1.6-1.2 .5-1.2 -1.3-1.6 -4-.9zM294,641.5l-.3,1.6 1.3,2.3 1.6,.7 2-1.4 .1-1.6 -2.1-2.9 -1.6,.4zM331.5,641.5l-2.6,3.2 -.3,9.6 3.2,3.1 1.6,.2 .8-3.3 .8-.8 3.2-.3 4.8,2.4 1.1-1.3 .1-1.6 -2.5-6.4 -5.1-5.3 -1.6-.9 -1.6,.2zM420.5,641.5l-1.1,1.6 .4,2.7 3.2,2.6 1.8,4.3 1.4,1 4.8,1 .2-2 -1-1.6 -.9-4.8 -1.5-1.5 -3.8-1.7 -1.8-1.6 -.8-.4zM146,643.1l-.9,3.2 1.1,2 1.6-.6 1.2-1.4 .2-1.6 -1.4-2.3zM453.2,644.7l-3,4.8 .1,1.6 1.5,1.4 3.2,.5 4.8,2 3.2,.1 .8-.8 -1.8-3.2 .5-3.2 -.4-1.6 -7.1-2.5zM302.2,646.3l-.8,1.6 3.2,.5 3.2-.3 0-2.4 -1.6-.7 -1.6-.1zM312.4,646.3l.2,1.8 1.6,2.3 1.3,.7 -1,1.6 -3.5,.6 -4.8,2.4 -1.5,.2 1.2,3.2 -1.3,3.2 -1.6,.8 -1.6-.3 -1.6-1.9 -1.6-.3 -3.2,1.9 -4.3,6.2 -1.2,3.2 1.1,1.6 4.4,2.1 .6,1.1 -.3,4.8 -.3,.9 -3.2,2.4 -2,4.7 -.1,1.6 -1.1,.7 -6.4-2.6 -1.6-1.3 -.5-1.6 .5-2 4.8-.1 2.1-1.1 -.1-1.6 -2-1.5 -3.2,0 -3.2,3.2 -6.4,1.2 -.9-1.3 1.5-8 1-1.1 4.8,.7 1-1.2 .8-3.2 -.2-1.9 -1.6-.9 -4.8-.9 -.8-1.1 .2-3.2 2.9-3.2 -2.3-2.9 -4.8,.6 -3.2-.6 -3.2,2.4 -1.6,.3 -4.8-4.7 -6.4-1.3 -3.2,2.5 -11.2,0 -6.4,1.8 -3.2,0 -4.8,1.7 -1.2,1.8 .3,8 2.3,4.8 3.4,3.8 -.5,5.8 .5,1 8.1,7 1,1.6 .1,1.6 -1.7,3.2 -.2,1.6 4.2,6.4 .2,1.6 -2,1.6 .5,1.6 1,.7 4.2,7.3 .6,3.4 1.6,.5 1.1-2.3 2.1-.9 4.8,.8 4.8-.6 4.8,1.6 8-.2 3,2.5 -.4,1.6 -3.8,3.2 1.1,1.6 3.3,1.8 2.8-1.8 -.7-4.8 4.3-1.8 1.6,.1 4.8,3.5 3.2-1.7 3.2,3.7 1.6,1 4.8-2.3 3.2-.3 .9-2.2 2-1.6 8.3-2.7 3.2,.3 6.4,4.9 1.6,0 6.8-2.5 5-4.8 .3-1.6 -.9-2.1 -1.6-1.1 -7.6,0 -8.4-2.5 -3.1-5.5 -.5-6.4 -1.2-1.7 -1.6-1.1 -2.5-.4 -1.3-1.6 3.8-2.2 2.3-2.6 6.6-4.8 2.3-4.4 1.6-1.3 1.6-.3 1.6,.9 3.7,3.5 1.5,4.8 1.2,1.6 1,9.6 -1,.9 -3.2-.9 -1.2-3.2 .5-6.4 -.9-1.6 -1.6-.9 -3.2-.5 -1.6,1.2 -1.3,3.4 -.3,4.8 1.7,3.2 -2.1,4.8 .4,.2 6.4,1 3.2,3.4 3.2,.3 1.2-1.7 .4-3.3 2.1-3.1 2.4-1.6 5.1-.6 1.4-1 .2-3.2 1.6-2.2 3.2,.2 4.3,2 3.7,4.8 .8,3.2 -3,6.4 -1.1,4.8 1.4,3.2 -1,1.6 -5.1,2.3 -1,2.5 4.1,6.4 4.9,2.7 2.3,3.7 2.5,1.8 1.6,.4 3-.6 2.3-1.6 1.1-1.6 1.6-1 1.6,0 1.2,4.2 2,.2 .5-3.4 -.5-2.2 -1.1-1 4.3-1.4 6.4,.8 1.6-1.3 .9-1.3 1.1-4.8 2.1-1.6 .6-1.6 -.7-3.2 .8-3.7 1.3-1.1 1.2,0 .7,.7 .2,5.7 -1.4,3.2 .5,1.6 2.3,.6 3.3-.6 -1.2-4.8 1.4-3.2 -.3-1 -1.6-1.6 -2.8-.6 -.1-1.6 .5-1.6 2.9-3.2 1-4.8 1.9-4.8 -.2-2.2 -1.6-3.2 -3.2-1.8 -.3-.8 3.2-8 -1.3-2.1 -4.8-.8 -1.6-1.1 -2.5-2.4 -2.3-3.5 -3.2-.1 -3.2-3 -.6,.2 -.8,1.6 .3,1.6 1.1,.9 3.2-.6 2.4,2.9 -.4,4.8 1.2,3.7 1.6-.3 1.6,.6 .4,.8 -.4,1.3 -1.6,.2 -1.6-1.1 -1.6,.3 -2.8,5.7 -4.8,3.2 -.6,1.6 2,3.2 -.2,1.6 -3.2,1 -3.2-.2 -1.9-5.6 -1.3-1.4 -4-1.8 .5-1.6 1.6-1.6 3.5-1.1 3.5-2.1 .9-1.6 -.4-1.6 -.8-.3 -4.8,1.4 -8.2-1.1 -.7-1.6 3.9-4.8 1.2-8 -1-1.2 -3.2-1 -.6-1 -.2-4.8 -2.4-3.4 -1.6-.6 -3.2,.3 -3.2-1.4 -3.2,1.1 -.9,2.4 2.5,2.9 3.3,1.9 0,1.6 -4.4,3.2 -6.5,3.2 -.4,1.6 2.1,3.2 .2,3.2 -3.9,.9 -1.6,.9 -2.5,3 -2.3,.3 -1.1-1.9 -.1-4.8 -2-2.4 -6.1-.8 -3.5-1.5 -9.6,.5 -1.7-.6 0-1.6 3.7-8 2.8-.6 1.6,.6 3.2,3.6 1.6-.1 3.2-.7 2-1.2 1.4-1.6 .1-1.6 -1.9-2.3 -4.8-2.3 -1-5 -2.2-1.6 -2.4-3.2 -4-1.1zM192.5,647.9l-1.5,.7 -3.2,4.3 -3.2,.6 -1.6,1.5 0,2.5 1.4,3.2 1.8,.6 1.4-2.2 1.2-4.8 3.8-1.3 2.5-1.9 -.2-1.6zM349,647.9l.4,2.2 1.6,0 .8-.6 -.8-1.7zM478.2,647.9l.8,2.6 1.6,.9 1.8-.3 .4-1.6 -1.3-1.6 -2.5-.8zM284.5,649.5l-2.5,1.6 1.7,4.8 3.3,3.1 1.6-.4 .8-1.1 -.3-3.2 1.5-3.2 -2-1.2zM199,652.7l0,1.8 1.6,1.2 1.6-.5 1-.9 -.2-1.6 -.8-.8zM440.6,652.7l0,2.9 1.6-1.3 0-2.2zM471.8,654.3l-4.1,1.6 2.1,4.8 3.7,4.8 -.9,1.5 -1.6,.5 -4.8-.9 -2.2,.5 -2.6,4.5 -4.8,.3 -2.2-1.6 -.2-4.8 2.4-2.5 1.7-.7 -1.7-1.6 -9.6-1.9 -3.1,1.9 -1.3,1.6 .1,4.8 -1.6,6.4 .4,3.2 .7,.7 6.4,1.3 2.4,1.2 .5,3.2 -.5,4.8 .8,3.4 1.3,1.4 3.5,1.4 1.6-.7 1.7-2.3 -1.7-4.1 -.5-.7 .3-1.6 .9-1.6 -1.3-3.2 -.2-3.2 .8-2.5 1.3-.7 .3-1.5 1.6,1.1 1.3,2 1,4.8 -.8,3.2 1.7,.7 1.6-.1 .1-2.2 1.5-1.6 6.4-1.7 1.6,.6 4.8,7.2 1.6,.9 1.6-.3 3.2-3.2 3.2-.7 .3-1.2 -.8-1.6 2.5-4.8 -.4-1.2 -1.8-2 -1.4-.6 -4.8,1.5 -1.6-1.3 -1.6-2.9 -5.2-3.1 0-1.6 1.6-3.2 -.3-3.2 -2.5-2.8zM452.2,655.9l.3,1.6 4.5,0 -.4-1.7 -1.6-.6zM342.4,657.5l-2.9,1.6 -.5,1.6 2.4,2.5 1.6,.2 1.6-.9 2.4-1.8 -4-4.1zM370.3,657.5l-1.6,1.6 -.2,3.2 3.3,4 1.8-.8 1.8-1.6 1.2-3.3 -1-1.5 -2.2-1.6zM462.3,660.7l-.3,1.6 1,2 1.6,.5 3.3-.9 -.1-1.6 -1.6-2 -1.6-.5zM333.7,663.9l-.5,1.6 1.8,2.5 1.6,.2 1.6-.8 .5-1.9 -1-1.6 -2.7-.8zM386.7,663.9l-.5,1.8 4.8,3.2 2.6,4.6 2.2,1.9 4.8,.2 3.2,2.2 1.6-.1 .6-1 .9-1.6 -1.2-8 -1.9-2.4 -4.8-1.7 -6.4,1.8 -4.8-1.2zM456.1,667.1l.5,1.5 1.9,.1 .3-1.6 -.6-.5 -1.6-.1zM371.5,668.7l-1.3,.6 -.8,5.8 -1.3,3.2 .3,1.6 1.8,1.1 1.6,.4 1.6-.7 2.4-2.4 -2.7-3.2 -.7-1.6 0-3.2zM374.7,671.9l.2,1.6 3.3,3.4 1.9,3 1.3,.5 1.6-1 .7-2.7 -.7-2 -1.6-1.9 -4.8-1.5 -1.6,0zM386,675.1l-.4,3.2 -.9,1.6 -4.9,3.2 -1.6,2.6 -3,2.2 -.4,1.6 1.8,1.2 6.4-1.1 1.6-1.5 1.9-6.6zM423.8,675.1l1,1.6 3,1.4 1.6,1.8 1.2,6.4 2.1,0 .8-1.6 1.9-4.8 -2.8-4 -1.6-1.1 -3.2-.7 -3.2,.3zM459.1,678.3l1,1.6 .8-1.6 -1.1-1.3zM403.5,681.5l-1.3,1.7 -.1,3.1 2.3,3.2 1.2,8 1.4,1.7 1.6,.9 6.4-.7 3.2,.7 1.6-.3 1.6-1.4 1.6,.4 1.6,2.3 1.6,.4 1-.8 .4-1.6 -3-7.4 -6.4,1.5 -4.8-3.4 -3.2,.4 -2.6-2.3 .6-1.6 2.9-3.2 -2.2-1.6 -3.5-1zM468.8,681.5l-.1,1.6 .7,.9 1.6,.6 1.9-1.5 -1.9-2zM348.1,694.3l-1.1,4.8 -.8,.7 -4.8,.1 -1.2,.8 0,1.6 1,1.6 5,.2 3.2,2 3.2,.2 1.6,.4 2-1.2 -.7-1.6 -2.9-1.2 -.8-2 .8-1.6 2.1-1.6 -.6-1.6 -3.1-1.9zM353.4,700.7l.8,1.6 1.6,0 .9-1.6 -.9-1.3 -1.6,.2zM415,700.7l-1.6,.4 -3.8,2.8 -1.3,4.8 .7,1.6 2.8,1.8 3.2,3.5 1.6,.6 2-1.1 .6-4.8 -1.2-3.2 .9-3.2 -.4-1.6zM422.5,703.9l-1.7,1.6 .2,1.6 2,.1 1.1-1.7 -.7-1.6zM337.7,705.5l-1.1,1.6 .1,3.2 1.5,3.1 1.6,1.6 0-9.5zM341.9,705.5l-.5,1.6 .4,3.2 1.2,1.4 3.2,0 2.7-3 -.3-1.6 -2.4-2.1 -1.6-.4zM322.1,707.1l-.8,1.6 .9,.9 1.6-.1 1-.8 -.5-1.6zM349.5,710.3l-2.1,3.2 2,3 2,.2 1.4-1.6 1.4-5.1 -1.6-.8 -1.6,.1zM423.5,727.9l.2,1.6 .9,.6 1.7-.6 -.2-1.6 -1.5-1.1zM437.2,759.9l-.8,1.6 1,1.3 4.8,4.1 .3-.6 0-3.2 -1.5-3.2 -2-.7zM333.2,822.3l1.8,1.3 2-1.3 -2-1.3zM329,838.3l-2.1,6.4 1.7,.6 1.6-.9 4.8-2.9 -.3-1.6 -2.9-2.5 -1.6-.2zM525.4,545.5l42,0 -2.2,8 -6.1,6.4 -4.6,3.2 -.4,1.6 -.4,6.4 -2,3.2 -2.3,2.2 -3.2,1.9 -3.2-.8 -3.2-7.5 -4.8-2.2 -.8-1.6 0-4.8 -1.7-4.8 -4.4-6.4 -3.5-3.2 -.6-1.6zM575,545.5l21.1,0 1.3,6.4 -3.2,6.4 -1.6,1.8 -1.6,.7 -2.8-.9 -5.2-5.4 -9-5.8 0-1.6zM221.4,567.4l1.6,0 1.6,2.1 .2,3.2 -1.6,1.6 -1.8,.6 -1.6-2.2zM666,570.4l0,20.7 -4,2.4 -1.3,3.2 .7,1.8 1.6,1 3,.4 0,30.8 -3-.3 -4.8-3.9 -1.6,.4 -6.4,2.7 -3,3.9 -6.7,6.4 -.1,1.6 6,4.8 1.4,3.2 .5,4.8 3.3,4.8 .2,1.6 -1.4,4.8 -1.8,.5 -.9-.5 -1-3.2 -1.3-.7 -2.1-2.5 -.1-4.8 -1-1.4 -6.4-1.4 -3-2 -3.9-6.4 -.5-3.2 1-2.4 2.1-2.4 .3-1.6 -.9-3.2 .7-6.4 1-1.6 4.8-3 1.6-2.2 1.6-.8 3.2,.5 1.6-1.8 2.1-7.1 -1.4-4.8 .4-8 .6-1.6 4.3-4.8 1.4-6.4 3.2-4.8 2.2-4.8 1.6-1.3 4.7-.3zM640.5,625.5l.1,1.7 1.6,.7 2-.8 -.3-1.6 -1.7-.9zM615,604.8l1.6,.3 0,1.3 -1.8-.1zM600.6,607.6l1.6-1.1 1.6,.1 1.6,2.5 1.6,4.9 1.6,0 1.6-1.3 .8,1.6 -2.4,2.1 -2.4,4.3 -2.4,2.1 -1.6,.6 -3.2-.5 -1.6,.4 -1.6,1.6 -1.6,1.6 -1.6,.5 -3.2-.4 -1.6-1.4 -2.1-4.5 -.1-1.6 1.6-3.2 2.2-2.1 1.6-.9 4.8-.8 3.2-2.2zM103,623.2l1.3,2.3 -.2,1.6 -1.1,.7 -1.1-.7 -.5-1.9zM58.5,627.1l.3,1.6 1.4,1.6 2.8,1.6 1.5,1.6 .6,1.6 -2.1,3.3 -1.6,.8 -3.2-1.1 0-.9 3.2,.4 1.4-.9 .8-1.6 -.5-1.6 -1.7-1.3 -3.2-.1zM83.8,626.8l1.6-.7 6,1 .5,1.6 -1.7,1.5 -4.8,.9 -1.5-.8 -.7-1.6zM128.6,638.3l1.6,.2 1.4,1.4 -.5,1.6 -2.5,.3 -1.1-.3 -.8-1.6zM509.4,641.2l1.6-.4 1.3,.7 .4,1.6 -1.4,1.6 -1.9-.2 -1.4-1.4zM63,641.9l3.2,.1 1.7,1.1 -.2,4.8 -1.7,1.6 -3,1.1 -1.8-1.1 -.5-4.8zM62.3,644.7l-.6,3.2 1,1.6 1.9-.1 1.6-1.1 .9-2 -.9-2.6 -1.6-.6zM587.8,647.7l1.6-.7 .8,.9 .6,1.6 -.4,3.2 2.2,2.2 3.2,1.2 1.5,1.4 1.2,3.2 2.1,2.6 1.6,.3 1.6-1.1 1.6-4.3 1.6-1.5 3.2,1.8 3.2,8.3 1.6,2.3 1.6-1.3 1.6-.2 1.6,1.1 -.1,1.6 -3.1,.4 -1.3,1.2 -1.9,4 -3.2-.3 -1.2,1.1 2.1,6.4 -1.6,4.8 .7,3.2 1.6,1.1 3.2,.5 1.6-.1 1.5-1.5 .1-3.2 -4.5-4.8 .3-3.2 1-1.7 1.6-.7 1.6,0 3.2,1.5 1.1-.7 .2-4.8 .3-1.1 1.6-1.5 3.2,1.5 1.6,3.2 3.7,2.7 -.3,1.6 -3,3.2 -.5,1.6 2.5,1.6 1.3,1.6 -.3,1.6 -1.4,1.6 -2,.5 -2.6-.5 -.6-1.6 .6-3.2 -.6-.7 -1.6-.6 -1.6,.2 -1.4,1.1 2.6,4.8 -1.2,3.6 -1.6,1.2 -.1,1.6 1.7,0 1.6,1.1 .7,2.1 -.7,1.1 -3.2-.3 -1.6,.5 -1.6,1.9 .7,1.6 4.1,3.1 4.8,1.6 1.6-.7 1.6-1.7 1.8-3.9 1.4-1.4 1.6-.2 1.6,.7 2.3,2.5 -.6,6.4 -2.3,3.2 -1,2.9 -1.6-.2 -2.4-2.7 -2.4-1.2 -1.1,1.2 .2,3.2 2.9,4.8 .8,3.2 -2,6.4 5.6,7.6 2.6,2 1,1.6 -.7,4.8 1.9,3.4 1.6,1.4 3.2,6.5 1.1,4.7 2.1,2 7.7,2.8 -1.3,.5 -2.1,4.3 .5,2.9 1.6,0 4.8-1.7 .7,.4 1.1,3.2 1.4,1.2 3,1 0,5.5 -3,.6 -3.2,2 -1.6,.3 -1.6-.7 -1.6,1 -2.9,6.7 .1,3.2 1.2,.7 3.2,.1 9.4-4.1 0,1.3 -7.5,3.6 -6.4,4.8 -4.2,1.6 -2.5,2.5 -4.8-.8 -3.2,1 -4.8-1.4 -2.1-1.3 -.5-3.2 -1.6-1.6 -1.6,0 -2.8,1.6 -1.4,1.6 .4,.8 3.2,.8 .2,1.6 -3.1,8 -.3,3.3 -3.2,3 -1.6-.5 -1.6-2.8 -1.6-.5 -1.4,3.9 -1.6,1.6 1,1.6 -.7,3.2 1.7,1.6 5.8,1.4 2.3,5 -2.3,1.6 -4.8-1.5 -3.2,.8 -3.2-3.3 -1.6,.8 -.6,1.6 2.2,1.6 1.6,.3 1.2,4.5 0,4 -1.2,0 .1-4 -.9-1.6 -5.6-3.1 -.7-1.7 .6-1.6 3.8-4.8 -1.5-6.4 -.6-1.2 -1.6-.1 -3.2,1.7 -4.8,1.2 2.4,3.2 -.2,4.8 -.7,1.6 -3.7,3.2 -1.5,3.2 2.5,5.6 -8.1,0 .5-4 -.8-.2 -1.6,.6 .1,3.6 -12.4,0 .4-5.6 -.9-3.5 -1.6-.8 -1.6,1.4 -.9,4.5 -2.3,4 -1.6-1.2 -1.6-3 -1.6-1.1 -1.6,.3 -.8,1 -.4,4 -27.2,0 -.4-1.7 -.4,1.7 -4,0 -.4-1 -.6,1 -4.7,0 -1-5.6 1.1-4.8 2-1.1 3.6-5.3 -.4-2.7 -1.6-1.2 -4.8,2.4 -1.4,1.5 2,4.8 -.6,1.1 -4.8-.1 -1.9,.6 -.7,1.6 3.7,4.8 -2.7,2 -1.4,2 -2.2,0 2.5-4 -.1-1.6 -2-2.3 -3.2,.6 -1.6-.4 .3-2.7 1.3-1.2 3.2,.5 6.4-1.9 .7-.6 -.8-4.8 4.9-1.8 3.2-2.9 3.4,3.1 .7,1.6 -2.4,6.4 -.1,1.6 6.4,1.8 1.6-.4 3.9-4.6 -.7-3.7 -5.8-7.5 -3.8-3.2 -1.6,.5 -.7-.5 2.3,0 3.7-3.2 .7-1.6 0-4.8 4.3-1.6 -1.5-4.8 -.8-.8 -1.6-.1 -4.8,3.5 -3.2,.8 -2.3,1.4 -.9,6.2 -1.6,1.5 -6.4,0 -4.8,2.5 -2.1,2.6 -1.1,2.6 -3.2,1.3 -4.1,4.1 -.4,1.6 .7,1.6 -2.6,.7 -3.4-.7 -.7,1.6 -.1,3.2 1,3 1.6,1.1 3.2-.7 3.2,1.1 3.2-.2 1.6,.9 2.8,5.2 -1.9,0 -1.1-2.4 -1.4-1.1 -11.2,.4 -4.8-2.9 -2.3,2 -1.6,4 -2.5,0 1.6-9.9 3.2-2.5 -.3-4.4 -1.3-1.9 -4.8-.8 -5.2-3.7 -4.3-4.8 -.7-1.6 .1-1.6 2.1-4.3 1.6-.5 1.6,.7 1.9-.7 1-1.6 -.9-1.6 -7.2-4.8 -1-1.6 .6-3.2 4-5.9 4.1-.5 -.9-3 -1.6,1.1 -3.2-2.6 -.6-1.9 .2-1.6 2-2.4 6.2-2.4 -2.2-3.2 -.2-1.6 1.3-3.2 -3.5-1.6 -1.4-3.2 .4-3.2 -.6-1 -3.2-1.8 -1.2-2 .3-3.2 3-8 .2-6.4 -.7-3.7 1.6-.8 1.7,1.3 .6,4.8 1.6,3.2 -1.1,4.8 .7,3.2 5.6,9.6 -.1,3.2 -3.2,3.2 .6,1 2.4-1 5.6-7.4 1.6,.6 .5,3.6 2.7,2.7 1.6,.5 3.2-.6 1.4,.6 .5,3.2 1.3,2.6 4.8,2.2 4.3,3.2 -1.1,2.4 -1.6,.8 -6.4,.5 -1.6,.1 -3.2-2.9 -3.2-.4 -2.6,2.7 -.6,1.6 0,3.8 4.8,1.8 4.8,7.3 1.6,.5 4.8,.5 6.4-3.5 1.6-.2 1.6,1 .2,1.6 -1.2,3.2 2,8 -.4,3.2 1,.8 1.6,.8 1.6-.5 .6-1.1 -.3-4.8 1-1.6 6.7-1.9 5.2-4.5 -2.5-6.4 .5-1.6 2.1-1.6 1.1-1.8 1.7-1.4 4.7-1.5 3.2,.2 1.3,1.3 1.4,3.2 -2.2,4.8 -2.1,2 -5.6,2.8 -.4,1.6 1.2,2.4 1.6,.8 1.6-.5 2,2.1 -.1,3.2 -1.4,3.2 -.5,6.4 -1.1,3.2 1.1,7.7 1.6,1.6 .7-1.3 -1.8-3.2 3.4-1.6 4.1-.7 3.8-4.1 .8-1.6 0-1.6 -2.2-3.2 .8-1.5 3.6,3.1 .6,1.6 .5,4.8 -1,1.6 -5.3,1.7 -1.2,1.5 -1,4.8 0,1.6 .6,.4 1.6-.1 8-5 5.3-1.7 1.8-6.4 -2-4.8 4.5-8.6 8-.1 1.6,.3 3.2,2.5 1.6,.2 3.6-2.3 4.4-4 1.6-.1 3.2,2.1 .6,2 -5.3,6.4 .5,1.6 1,.7 4.8,.1 4.8-1.5 3.2-.2 6.4-1.5 4.8-2.2 1.6,.7 3.2,3.4 1.6-.4 1.6-2.3 .2-1.6 -1.1-1.6 -3.9-1.5 -1.2-1.7 -.4-3.2 1.2-1.6 11.6-2.1 1.6,1.7 1.4,3.6 1.3,1.6 2.1,.9 1.6-.2 1.5-5.5 -.6-4.8 .7-.8 6.4-.9 1.6-.8 1.6-3.9 -.2-4.8 -1.4-2.9 -1.6-.4 -3.2,1.1 -6.4,6.1 -3.2,.7 -1.3-1.4 -.1-3.2 -1.8-1.8 -3.2-1.1 -3.2-3.9 -6.4-2.3 -1.6-.2 -3.2,1.2 -10.2,.1 -3.4,1.6 -.3,3.2 -1.8,1.6 -1.9,.6 -1.8-.6 -2.2-1.6 -.4-1.6 .4-1.6 .8-1.3 4.8,.8 1.6-.1 .8-1 -.9-4.8 .1-3.2 1.6-3.2 4.3-3.2 0-1.6 -1.1-.1 -3.2,3.2 -3.2-.9 -1.6,.1 -1.6,1.3 -1.6-.2 -3.2-1.5 -4.8,1.4 -1.6,1.4 -.7,3.3 -2.5,1.6 -3,0 -.6-1.6 .4-3 4.1-3.4 2.3-6.8 3.2,4.2 1.6,.9 1.6,0 1.4-1.5 1.4-3.2 -.1-1.6 -1.1-.8 -8-1.9 -3.2-1.6 -8,.2 -2.4,.9 -1.1,1.6 3.5,4.2 1.8,3.8 -.2,1.1 -1.6,.8 -4.8,.2 -1.2,1.1 -.1,6.4 2,3.2 -.7,1.5 -1.6,.1 -2.6-1.6 -.6-5.8 2.5-5.4 -2.5-4.5 0-1.5 3-3.6 -.3-1.6 -2.7-3 -4.5-1.8 1.3-2 3.2,0 1.3-1.2 1.1-3.2 4-4.2 6.4-1 1.3-1.2 .7-1.6 -.4-1.3 -3.3-1.9 -.3-3.2 1.8-3.2 3.6-3.2 .9-3.2 -.4-1.6 -2.3-1.2 -4.8,1.4 -3.2,.2 -2-2 -.1-1.6 .6-1.6 1.5-1.4 3.2-1 1.6-1.2 1.2-4.4 4.7-8 1.1-4.8 -.6-4 1.6-.8 3.6,3.2 4.4,2.4 1.6-.3 .6-2.1 .5-3.2 -.3-3.2 -1.5-4.8 -2.6-1.6 -.1-3.2 1.8-3.7 4.8-2.1 1.3-5.4 -1.3-2.9 -3.2-1.2 -1.6-1.7 0-1.3 1.3-2.5 -1.3-2.3zM594.9,671.9l-2.2,3.2 1.7,1.6 4.6,.5 5.2-2.1 1.4-1.6 -.3-1.6 -1.5-.8 -3.2,1.9 -3.2-2.1 -1.6,.2zM592.8,679.9l-.9,1.6 -.9,9.8 1.6,1.2 3.2,.8 6.4-1.2 1.3,.6 1,1.6 -.7,4.9 6.4,1.5 1.6-.5 3.2-1.6 1.1-2.7 -1.2-1.6 -4.7-.8 -1.6-1.2 -.5-2.8 .8-4.8 -.3-2.3 -1.6-1.4 -4.8,.6 -2.2-1.7 -2.6-.7 -3.2,.1zM581.3,692.7l.2,1.6 3.3,3.2 .5,3.2 -.7,1.3 -1.6,.1 -1.6-3.5 -1.6-1 -1.6,.8 -1.6,2.1 -1.5,3.4 -.1,1.7 1.6,1.8 4.8-3.1 1.6,1.8 1.6,.7 4.8-2.1 9.6-.2 1.6-2.2 -.2-1.6 -4.6-4 -4.8-.1 -2.2-.7 -2.3-3.2 -1.9-.9 -1.6-.5zM598.5,694.3l-1,1.6 1.5,1.9 1.6,1 1.8-1.3 .5-1.6 -.7-2.1 -1.6-.2zM602.5,702.3l-1.9,2.8 -1.6,1 -7.6,1 -3.6,4.3 -3.2-.3 -1.9,.8 -1.6,4.8 1.2,3.2 3,3.2 .6,1.6 -1.3,2.4 -3.3,.8 .3,1.6 1.4,.9 4.8-.3 1.6,.3 3.2,2 6.3,.3 1.2,1.6 0,3.2 1.9,3.2 .2,1.6 -1.1,3.2 .5,6.4 .6,.7 1.6-.3 1.6-1.3 4.8-3.4 1.6-.3 3.2,1.7 1.6-.7 .3-1.2 -1.2-3.2 -2.3-1.8 -3.2-.8 -1.6-1.3 -6.4-8.1 -.9-7.2 2.5-4.1 1.6-1.4 3.2-1.3 4.8,.1 1.2-1.3 -3.9-3.2 -.3-6.4 -1.8,.5 -.5-.5 .3-3.2 -.8-1.6 -2.2-.8 -1.6,0zM617.2,713.5l1.2,3.2 -.2,2.2 -1.6,1.2 -4.8,.2 -2.2,1.2 -2.6,4.8 .3,1.6 2.9,2.9 4.8-.5 .6,.8 -.8,3.2 -4.4,3.2 .6,1.6 8.8,4 1.2-.8 -.5-4.8 .4-1.6 2.1-1.6 1.6,.3 1.5,1.3 .2,4.8 1.5,1 3.7-1 .7-1.6 -.4-1.6 -2.2-3.2 -.5-1.6 2.1-6.4 -5-10 -1.6-2 -6.4-1.1zM586.1,735.9l-.5,1.6 .6,2 6.4,1.9 1.8-.7 .4-1.6 -3.8-3.8 -3.2-.1zM578.2,739.1l-3.2,1.1 -6.4,.1 -2.5,2 -2.4,6.4 1.7,2.7 1.4,.5 1.8-.8 4.8-.4 1.6-1.2 3.2-8.8zM628.6,743.9l-2.3,1.6 -.1,3.8 1.6,.6 3.2-.9 2.3-1.9 -.2-1.6 -2.1-1.5zM474.2,747.1l-4.8,11.2 0,1.6 1.5,1.6 3.3,.5 1.5,1.1 -1.5,3.2 -.3,1.6 .8,1.6 1.1,.6 1.6-.2 2.2-2 .7-1.6 -.5-1.6 -1.7-1.6 -.4-3.2 -2.7-4.8zM582.3,747.1l-1.7,1.6 .2,1.6 5.4,3.6 6.4,.3 .8,.9 .3,3.2 .5,.5 2.9-.5 .2-1.6 -1.2-3.2 1.6-3.2 -.4-1.6 -4.7-.6 -3.2-1.6zM622.7,751.9l-2.1,3.2 .1,4.8 -4.9,3.2 -.7,1.6 .7,1.6 .8,.9 4.1,.7 2.3,3.3 1.6,.9 1.6-1.7 1.6-.5 3.2,.8 1.6-.6 1.7-2.2 -2-3.2 0-1.6 5.1-1 2.2-2.2 0-1.6 -2.2-.8 -3.2,.3 -6.4,1.9 -1.6-.1 -1.5-1.3 .6-6.4 -.7-.7zM610.5,756.7l-3.5,.8 -1.1,2.4 -.3,4.8 -5.1,6.4 1.2,3.2 1.9,1.6 3.4,.1 .6-1.7 1-3.4 1.6-1.2 3.2-.9 .5-.9 -1-3.2 .5-1.6 4-3.2 .9-1.6 -.5-1.6 -1.2-1.3 -1.6-.2zM645.3,767.9l-1.5,.6 -.5,1 -.6,3.2 .5,1.6 2.2,1.3 3.2,.4 .6-1.7 -2.2-3.2 1.3-1.6zM486.2,769.5l-3.4,3.2 -3.2,1.6 -1.2,1.6 .6,2.2 1.6,.9 1.8,.1 1.8-4.8 1.2-.9 3.2,.4 2-1.1 -.5-1.6 -1.5-1.2 -1.6-.9zM493.9,774.3l-1.9,3.2 .1,1.6 1.3,1.4 3.2,.3 1.4-1.7 -1.4-5.8 -1.6-.3zM485.2,775.9l-.5,3.2 .7,1.2 1.6,.8 2-.4 1-1.6 -.5-3.2 -2.5-.8zM631.7,777.5l-1,1.6 .3,.6 1.6,.3 1.6-.8 .6-1.7 -2.2-.4zM480.7,782.3l-2.9,1.6 .7,11.2 -1.1,1.2 -3.2-1.2 -1.6,.6 -2.2,4.2 -.2,3.2 4,3.5 3.2,1.6 1.6,.1 3.2-1.7 1.6-.2 1.6,1 1.6,2.8 1.3,.9 3.5,1 4.8-.2 3.2,1.4 4.7,4.2 1.7-.4 1.6-1.9 3.2-2 1.6-2.1 0-2 -1.6-2.2 -1.6-.5 -4.8,1.9 -6.4-4.2 -2.5-2.6 -.7-3.7 -1.6-2 -3.2-.4 -3.2-2 -1.2-1.5 1.1-4.8 -.2-3.2 -2.9-2.3 -1.6-.3zM635.2,782.3l.6,2 1.6,.5 1.3-.9 .3-1 0-.8 -1.6-1.2zM475.2,787.1l-.2,1.6 .8,1.6 1-1.6 -1-2.2zM539.3,791.9l.5,2.6 1.9-1 -.6-1.6 -1.3-.4zM532.7,795.1l-.9,1.6 1.6,2.8 1.6,.3 1.6-1.1 1.3-2 -1.3-1.4 -1.6-.7zM644.6,801.5l-.8,1.6 1.6,2.4 3.2,.1 2.3-.9 .9-1.6 -.1-1.6 -1.5-1 -3.2-.3zM481.6,809.5l.1,4.8 2.5,6.4 2.8,1.1 3.2-.5 .6,1 -.5,3.2 .7,1.6 2.4,1.9 1.6,.2 3.2-2.5 1.8-2.8 1-3.2 .1-3.2 -.7-1.6 -3.8-2.6 -4.8,.6 -6.4-1.6 -1.3-1.2 -.6-1.6 -1.3-.4zM574.2,812.7l-1.9,1.6 .5,3.2 -.6,1.6 -3.6,3 -2.3,3.4 -2.3,6.4 .1,1.6 2.9,3.1 4.8-.7 1.6,.4 1.6,3.9 1.6,.4 4.8-5.2 3.2-1.1 3.2,0 1.4-.8 .8-1.6 -.8-4.8 6.2-4.8 -4.4-1.2 -2.7-2 -.5-1.6 .4-4.8 -.4-.6 -1.6-.4 -4.8,1.9 -4.8-1.2zM476.9,815.9l-.4,1.6 .9,.7 1.6,.5 1.1-1.2 -1.1-2.2zM568,815.9l-1.8,1.6 .8,1.9 1.6-.1 1.5-1.8 -.1-1.6zM557.3,835.1l-1.5,1.6 1.6,2.5 1.6,.7 2.5-1.6 0-1.6 -.9-.8zM614.9,835.1l1.7,1.7 1.6,.5 .6-.6 -.6-1.6 -1.6-.5zM583.3,836.7l-1.8,1.6 -1.8,3.2 1.7,.8 1.6-.4 3.2-.7 1.6-1.3 -.1-1.6 -1.3-1.6 -1.8-.5zM537.8,841.5l2,1.1 1.6-1.1 -1.6-1.1 -1.6,0zM128.6,647.9l1.6,.2 .4,3 2,4.8 -.4,1.6 -11.6,8.3 -1.6,.1 -1.2-2 1.6-8 1.2-2 6.7,.4 .7-1.6 -.3-3.2zM129,654.3l-2,1.5 -4.8-1.4 -1.6,.6 -1.7,7.3 .2,1.6 1.5,.5 4.8-2.2 3.2-3.7 1.6-1 1.2-1.6 -.5-1.6 -.7-1.1zM88.6,650l1.6,1.1 -1.6,1.3 -1.4-1.3zM663,654l3-.1 0,28.1 -3-.1 -1.6-2.9 -1.6-1 -1.6,.6 -3.2,3.8 -3.2,.7 -1.6-1.1 -3.2-4.7 -1.6-.5 -1.6,.7 -2.5,4 -.7,2.6 -1.6,.5 -.1-1.5 1.1-1.6 .1-3.2 2.2-1.6 1-1.6 -.4-1.6 .5-1.6 8.4-.6 1.6-.8 3.2-5 1.2-4.8zM138.2,655.5l.8,2 -.5,1.6 -1.9,.6 -.7-.6 .3-1.6zM549.4,663.9l1.6,0 1.6,.9 1.5,2.3 -1.1,1.6 -2,.1 -3.7-1.7 -1-1.6zM541.4,664.7l1.6-.3 2.9,1.1 -2,1.6 -2.5,.4 -1-.4 0-1.6zM563.8,667.1l1.6,0 1.7,1.6 -1.2,1.6 -2.1-1.4zM178.2,668.2l.9,.5 .3,1.6 -1.2,.3 -1.1-1.9zM306.2,676.1l1.6-.2 3.2,2 2.7,.4 -1,1.6 -1.7,.3 -3.2,1 -4.8-1.3 0-1.6zM546.2,677.9l1.6,0 5.2,3.6 .7,1.6 -.5,3.2 -2.2,1 -3.2,0 -3-2.6 -.9-1.6 .2-3.2zM501.4,679.7l3.2-1.3 1.6,.7 5,4 1,1.6 .4,1.6 -.5,1.6 -7.2,8 .7,1.6 5.4,2.8 6.7,2 .9,3.2 -.5,3.2 .4,1.6 2.1,3.1 -.1,1.7 -3.1,3 -1.6,.1 -.4-1.5 1.2-6.4 -7.2-1.5 -4.8,2.3 -1.6-1.7 0-.9 2.7-3 -4.9-3.2 -.1-1.6 2.7-3.2 -1-1.6 -2.8-1.6 -1.2-1.6 -.3-1.6 1.1-8zM501.7,683.1l-1.9,6 0,2.4 1.6,1.9 1.6,.3 1.6-1.4 4.6-4.4 0-1.6 -3.5-1.6 -2.7-3zM557.4,687.7l2.1,.2 2.9,4.8 8.6,3.2 -.5,6.4 -5.1,5.9 -1.6-.8 -.4-3.5 -3.3-3.2 -2.7-3.6 -4.4-1.2 -.4-.8 -.1-.8 1.7-.5 1.3-1.1 .3-4zM561.9,695.9l-1.2,1.6 .3,1.6 1.5,1.6 2.9,1.7 1.6,.1 1.6-1.1 .3-2.3 -1.9-2.7 -3.2-1.1zM301.4,691.6l4.6,2.7 1.1,1.6 -2.5,.9 -1.6-1 -1.6,.3 -1.4-1.8zM386.2,698.7l1.3,.4 -.2,1.6 2.7,3.2 -2.2,.7 -3.2,.2 -.5-.9 1-4.8zM527,700.1l1.6-.8 1.6,1.6 1.2,4.6 0,1.6 -2.8,2.5 -1.6,1.4 -1.5-.7 1.3-1.6 -.5-6.4zM488.6,702.2l4.8-1 3.2,.8 .9,.3 -.9,1.6 -1.6,.7 -3.2,1.6 -3.2-.1 -1.4-.6 -.2-1.6zM224.6,703.3l1.6-.1 .4,.7 -.4,1.9 -1.6,.9 -1-1.2zM536.6,706.1l1.6-.2 1.7,2.8 -.1,1.7 -1.6,1.9 -2.5-.4 -1.3-1.6 -.4-1.6zM642.2,714.8l3.2,.7 2,2.8 -1.7,3.2 -2.2,1.6 -2.9,.5 -1.2-.5 -1.6-3.2 .3-1.6zM434.2,718.2l1.6-.4 3.7,.5 .5,1.6 2.6,3.2 -2,.6 -3.2,1.4 -1.6-.1 -1.2-1.9 -.8-3.2zM544.6,719.9l1.6,.4 1.2,2.8 0,1.6 -1.2,1.1 -1.6,0 -1.6-1.1 -.6-1.6 .6-2.1zM525.4,722.7l1.6,.4 1.9,1.6 .9,1.6 -3.2,4.8 -1.2,.8 -1.6-.6 -.6-1.8 .1-4.8 .5-1.2zM525.1,724.7l-.5,1.6 .8,2 1.6-2 -.9-1.6zM648.6,726.3l6,0 2,.7 1.6,1.1 .8,3 1.2,1.6 1.2,.7 4.6,.2 0,6.1 -6.2,.9 -1.5,1.7 1,1.6 2.1,.9 4.6-.6 0,2 -2.2,.9 -2.4,5.2 -1.6,.5 -1.5-5.7 -1.7-1.2 -3.2,1.8 -3.2,1.5 -1.6-1.1 -1.6-2.4 -3.2-.4 -1.6-1.4 -.6-1.6 2.2-4.1 3.2,1.5 1.6,0 1.8-2.2 -.2-2.1 -1.3-1.1 -1.9-.4 -1.6,1.1 -1.6,2.4 -3.2-2 -1.3-2.7 .5-1.6 4-.7 3.2-3.5zM647.6,729.5l-.6,1.7 4.8,0 .5-.1 0-1.6 -.5-.3 -3.2-.4zM653,739.1l-1.3,1.6 0,1.6 1.7,.1 .6-1.7 -.6-2.2zM346.2,727.7l1.6-.1 1.5,3.5 -1.5,2.2 -1.6,.1 -1.2-.7 -2.5-3.2zM344.4,729.5l-.2,1.6 2,1.5 2-1.5 -.7-1.6 -1.3-.6zM466.2,729.4l1.6,.2 1.7,3.1 -.7,1.6 -2.6,.8 -2.3-.8 -1.6-3.2zM544.6,730.9l1.6-.6 2.4,.8 1.2,3.2 -.4,4 -1.6,2 -3.2,1.8 -1.6,1.7 -1.6,4.4 -1.6,.2 -2.5-1.3 -4-1.6 -1.5-1.6 .1-1.6 1.5-1.9 3.2-.1 3.7-1.2 2.7-6.3zM392.6,732.3l1.6,.4 1.1,1.6 1.4,4.8 5.3,8 -1.4,2.7 -1.6,1.5 -.9-1 -3.9-1.7 -4.8-.7 -.9-.8 -.5-1.6 1.6-4.8 .4-4.8 1-2.6zM391.3,735.9l-.2,3.2 -1.7,4.8 0,2.2 1.6,1.2 4.8,.4 3.2,1.5 1.6-1.1 .4-1 -2.8-3.2 -2.9-4.8 -1.1-3.9 -1.6-.9zM59.8,733.6l4.8,1.4 3.8,2.5 2.2,3.2 .9,4.8 -1.6,6.4 -2.1,2.4 -6.4,2.9 -3.2,.4 0-.7 4.8-.9 4.7-2.5 1.9-3.2 .9-4.8 -.9-4.8 -1.8-2.8 -4.8-2.8 -4.8-.8 0-.8zM570.2,741.7l1.6-.2 1.6,2.4 -1.6,3.5 -3.2,1 -.6-1.3 .4-3.2zM541.4,750.4l1.6,1.2 -.2,1.9 -1.4,1.8 -3.2,1.2 -1.6,0 -.5-1.4 2.1-1.3zM399,752.2l1.6,1.3 -.9,6.4 -.7,1.1 -1.6-.1 -2.5-2.6 -.2-1.6zM397.4,755.1l-1.8,1.6 -.1,1.6 1.9,2 1.6-.3 .3-4.9 -.3-.6zM514.2,755.1l6.8,3.2 -2,1.4 -1.6,.8 -4.3-2.2 0-1.6zM450.2,755.8l1.7,.9 1.2,1.6 .1,1.6 -3,.7 -1.9-2.3 .3-1.6zM429.4,761l1.6-.2 1.8,.7 -.3,1.6 -2.5,4.8 -.6,.9 -1.6,.2 -1.3-1.1 -.2-1.6 .6-3.2zM428.2,763.1l-.3,1.6 1.5,1.3 1.6-2.1 .5-.8 -.5-1.2 -1.6,.1zM507.8,762.5l3.2-.7 1.1,1.3 -1.1,3.5 -1.7,1.3 -4.9-1.6 .4-1.6zM469.4,775.3l.5,.6 -.5,2.1 -.8-.5 -.3-1.6zM583,785.1l0,2.1 -1.6,.1 0-1.4zM594.2,790.1l3.1,1.8 .3,1.6 -1.8,1.3 -3.5-1.3 .3-2.4zM599,801l3.2,.7 -3.2,.7 -1.1-.9zM320.6,821.2l1.6-.1 1.6,.8 1.4,2 -.1,1.6 -1,1.6 -1.9,.7 -1.7-.7 -1.6-3.2 .3-1.6zM320.1,822.3l-.5,1.6 1,2.3 1.6,.8 2.1-1.5 .1-1.6 -1.3-1.6 -.9-.5zM579.8,822.1l1.8,.2 0,1.6 -2.3,3.2 -1.1,4.6 -1.6,1.3 -2.5-4.3 4.1-5.7zM59.8,832.8l4.8,.6 1.9,3.3 .5,4.8 -.6,3.2 -1.9,4 -2.5,0 1-1.7 2-3.9 -.6-6.4 -1.2-1.6 -1.8-.3 -3.2,1.3 0-2.7zM653.4,844.3l3.2-.5 2.3,.9 1,1.6 .1,2.4 -.7,0 -.3-2.4 -2.4-1.6 -3.2,.5 -1.4,1.1 -.8,2.4 -1.2,0 .6-2.4z" fill="#F2FFF2" stroke="#F2FFF2" stroke-width="0.6"/>
<path d="M296.6,545.5l11.6,0 -1.8,6.4 -3.4,.3 -1.6,.7 -2.9-1 -2.1-3.2 -.2-3.2zM439,550.2l1.6-.5 4.9,3.8 .8,1.6 -.2,1.6 -2,1.6 -3.5,.3 -2-1.9 -.6-3.2zM399,553.4l1.6-.1 1.6,1.8 -.8,6.4 -2.4,3.1 -4.8,2.2 -1.6-.3 -1.8-1.8 1.3-6.4 1-1.6zM365.4,564l1.6-.4 1.6,1 2.5,3.3 -.9,5.1 -1.6,2.2 -4.1-4.1 -1.3-3.2 0-1.6zM376.6,565.8l1.6,.1 2.1,2 -.8,1.6 -1.3,.6 -1.9-.6 -1-1.6 .3-1.6zM435.8,574.1l1.6-.9 1.6,0 1.2,1.1 1.3,3.2 .4,3.2 -1.5,16 -.4,1.6 -3.3,4.8 .4,1.6 1.9,1.4 1.6,.1 6.4-.7 6.4,2.9 1,2.7 -1,2.2 -3.2,.8 -3.2,2.7 -4.8,2.6 -3.5-.3 -1.3,1.6 -.1,4.8 -1.5,2.6 -1.6,.1 -6.9-2.7 -4.3-.3 -4.8,3.7 -1.6,0 -1.6-1.3 -1.1-3.7 .2-4.8 -1.2-4.8 -2.7-2.3 -3.8-.9 -2.2-8 .3-1.6 2.5-4.1 1.6-1.3 4.8-1.1 4.8,.6 4.8-.7 2.5-3 2.3-5.1 6.5-6.1 .6-4.8zM331.8,580.5l3,.2 1.3,3.2 -1.1,1.8 -3.2,1 -3.2-1.1 -1-1.7 1-1.9zM317.4,588.6l4.8-.8 1.6,.4 1.3,2.1 -1.1,1.6 -1.2,0 -2.2-1.1 -3.2,.8 -1.6-.7 0-.9zM61.4,590.1l3.2-.8 1.6,.6 4.8,7.5 4.8,3.7 1.6,2.8 4.3,2.4 2.5,3.2 -1.1,4.8 -4.4,3.2 -.8,3.2 1.1,1.8 4.8,1.8 3.2-.8 1.6-1 1.6-3.1 3.2-.7 4.8,.6 4.8,2.5 3.2-1.2 4.8,.3 5.5-1.8 1-1.6 0-1.6 1.5-2 3.2,.9 5.2,4.3 .4,1.6 -.3,1.6 -4,3.2 .3,.5 1.6,.6 3.2,0 3.2,4.1 1.6,.1 3.2-3 1.6-.6 1.6,.4 1.3,2.7 2.3,1.6 7.6,1 1.9,3.8 -.3,4.3 -1.6,1.5 -3.2-2.2 -1.6,.4 -2.2,4 0,4.8 .6,.9 1.6-.2 4.2-2.3 2.2-2.4 3.2,3.1 1.6,2.9 1.6,1.3 1.6-.1 1.6-1.8 1.6-.4 4.8,2.4 1.6-.6 .5-4.4 1.1-2.2 3.7-2.6 2.7-3.2 3.2-2.2 3.2,0 1.6,1.6 .6,2.2 2.6,1.3 1.6-.5 1.6-1.5 1.6-.6 1.6,.3 4.5,2.6 .8,3.2 0,3.2 -2.1,1.2 -1.6-.3 -3.2-4 -1.6-1.3 -1.6,0 -3.2,5.2 -4.8,2.5 -1,1.5 .2,3.2 1.3,3.2 1.1,1.7 1.6,.2 2.2-1.9 2-4.8 2.4-1.6 3-1.3 3.2,3.3 3.2,.5 3.2-2.5 0-3.2 1.7-4.8 4.7-1.6 1.6,0 1.6,1.1 4.4,6.9 -.1,1.6 -2.8,3.2 .3,6.4 -1.9,4.8 3.3,2.5 2.3,3.9 4.1,3.2 .5,1.6 -.5,2.2 -3.6,2.6 .4,2 1.6,.6 3.2-1.4 1.6,.5 5.3,4.7 1,1.6 .1,1.6 -.9,1.6 -4.2,4.8 .3,.6 3.2,.6 1.6,2 -1.6,4.8 .3,1.6 4.5,3.6 2.3,4.4 .4,3.2 1.3,1.6 2.4,.8 1.6-.2 3.2-1.5 6.4,1.9 1.6-.8 3.2,.5 1.6,.9 -.1,4.8 1.7,1.6 4.8-1.2 4.8,2.3 1.6-.3 4-2.4 -1.4-1.6 -.1-1.6 2.3-1.3 1.6-.1 3.2,2.6 1.6,.2 3.2-1 4.8,3.3 4.8-1.4 4.8,.3 .9-1 .6-3.2 1.7-1.1 3.2-.7 6.4-.5 1.6,.5 3.2,2.9 3.2,.6 3.2-1.2 4.8-.2 3.2-2.2 1.6-.4 3.2,.7 2.7-1.6 2.1-2.9 2.7,1.3 .5,5.1 3.2,1.4 3.2,4.2 4.2,2.1 4.1,4.8 2.9,1.1 1.6-.1 3.1-1 3.3-2 1.6,2.4 1.6,1 1.6,0 1.3-1.4 1.9-4.3 3.2,1.2 .9-1.7 3.9-.9 8-4.7 6.4-.5 1.6,.4 1.9,.9 2.9,3.7 1.5-2.1 .8-4.8 -2.3-4 -3.8-.8 1.4-1.6 .7-3.2 1.7,0 6.4,2.7 1.6,0 2.3-2.7 .9-3.7 3.2,3.4 3.2-3 1.6,.4 0,4.1 -3.2,1.4 -.3,.6 1.2,6.4 -.9,.7 -3.2-1.5 -1.6,.1 1.6,7.1 1.6,.4 3.2-1 4.8,1.8 3.2-.5 3.2-1.3 3.2,.5 1.4,1.7 .2,4.1 3.2,5.6 3.2-.1 -2.5-3.2 4.1-1.3 1.6,0 7,2.9 2.1,3.2 .3,1.6 -2,6.4 0,4.8 -.7,1.6 -3.5,.4 -3,1.2 -.7,3.2 -1.1,1.6 -4.8,2.6 -1.6-.1 -.6-.9 -2.4-6.4 -1.8-1.4 -1.6-.1 -2.8,1.5 -1.5,1.6 4.3,4.8 .6,1.6 -.6,.8 -5.2,.8 -2.8,3.2 -4.8,1.5 -3,3.3 -2.9,1.6 -6.9,1.4 -3.2,2.1 -3.2,1.1 -8,.2 -9.6,7.4 -4.8,1.1 -6.4,5.5 -6.4,1.8 -1.6,.2 -1.6-.7 -1.6,.6 -1.6,1.9 -3.2-.9 -1.6,1.1 -3.2,4.4 -4.8,2.7 -1.6,.2 -1.6-2.3 -1.6-.6 -6.4,1.2 -3.2-.5 -.9,.9 .7,4.8 -.7,4.8 -.7,.9 -3.2,1.2 -1.7,2.7 .3,1.6 1.4,1.2 3.2,.7 1.2,1.3 -.8,3.2 .7,4.8 -1.1,2.3 -1.6,.3 -4.8-1.6 -1.6,.6 -3.5,8 .9,4 -1.7,0 -.6-4 1.8-3.2 1.5-4.8 1.6-1.6 5.7,0 1-1.6 -2-6.4 -3.2-3.2 .8-3.2 2.5-4.1 1.6-.8 .6-1.5 -.6-2.2 -3.2,0 -.3-2.6 .1-1.6 -.9-1.6 -4.4-3.2 -.5-1.6 2.8-3 1.6-.3 1.4,1.7 1.8,5.6 4.8-.8 4.8,1 4.8-1.7 4.8-4.3 1.6,2.8 1.6-.1 1.6-.9 2.7-6.4 .3-4.8 1.8-1.5 1.6,.5 .6,1 -1.3,4.8 .7,1.9 1.6,1 1.6-1.1 3.2-.1 1.6-.9 6.4-.9 6.4-4 3.2-.8 3.2-1.7 8-5.4 7-.8 5.8-2.6 8.7-2.2 3.8-3.2 1.7-3.2 -2.3-3.2 -1-3.2 -4.2-3.2 1.3-1.4 4.8,1.9 1.6,0 3.2-1.7 4.8,.1 3.2-2.2 3.2-.5 1.8,.6 2,1.6 1,3.7 1.2,1.1 2-.4 1.6-1.2 -2.8-3.2 .1-3.2 1.1-1.5 1.6-.4 4.8,2.7 3.2-.7 1.5-1.7 1.9-9.6 -.3-1.6 -1.5-2.4 -5.4-2.4 -2.6-.3 -.8,.3 1.2,3.2 -.4,1.9 -1.6,.2 -4.8-.9 -2.7-7.6 -.1-3.2 -2-1.5 -8,1.6 -4.8-1 -1.6,.3 -1.7,.6 -1.4,1.6 -.1,2.3 -1.6-.2 .7-3.7 -1.1-4.8 -1.2-1.7 -3.2-.6 -1.6,.9 -3.2,6.1 -1.6,1.2 -1.6-.3 -3.2-2.2 -8,3.1 0,3.3 5,7.8 .5,1.6 -1.5,3.2 .2,3.2 -1.2,3.2 -.1,3.2 -.5,1.6 -.8,.3 -3.7-1.9 -1.6-3.2 2.7-3.2 .5-1.6 -2.7-2.2 -4.8-.3 -2.2-2.3 .1-3.2 1.2-4.8 -.7-3.3 -3.2,1.4 -3.2-1 -1.5,2.9 -1.7,.6 -3.2-.3 -3.2-1.2 -6.4,.9 -3.2-1.2 -4.8-4.9 -4.8-2 -1.6,.4 -.5,1.3 -2.7,1.7 -1.6-.2 -4.8-4.2 -3.4-2.1 -1.4-1.9 -1.6-.5 -3.2,.8 -4.8-.1 -3.2,1.2 -3.2-.7 -3.2-2.1 -4.8,1.6 -4.8-1.4 -1.6,.5 -.7,1 0,3.2 -.9,.8 -6.4-.6 -4.8,.8 -4.8-2.7 -6.4,2.3 -1.6,1.5 -8,1.7 -4.8-2.2 -3.2,1.5 -1.6-.4 -4.8-4.2 -4.8-.5 -3.2-2 -1.6-.4 -4.8-.1 -4.2-1.9 -1.3-1.6 -.9-3.2 -1.6-2.4 -3.3-2.4 -1.3-3.2 .4-4.8 -.6-1.4 -2.3-.2 -2.5,3.7 -1.6,.3 -1.7-.8 -.8-1.6 .9-2.1 8-6.5 1.8-2.6 0-1.6 -5-4.9 -1.6-.4 -3.2,1.3 -1.8-.8 -1.4-3.2 .7-1.6 2.7-1.6 .1-1.6 -1.4-1.6 -3.8-1.6 -1.7-3.2 -4.6-1.7 -2-1.5 2.1-4.8 -3.3-8.8 -1.6-.2 -4.8,1.9 -3.2-.6 -3.2-1.4 -6.6,5.9 -3,1.6 -1.6-.1 -1.5-1.5 -3.3-9.2 -1.6-.5 -3.2-.6 -4.8,2.9 -6.4-.8 -3.2,.9 -1.6-.2 -3.2-1.8 -1.6-2.4 -1.6-.9 -1.6,0 -4.8,2.4 -3.2,.6 -1-1.6 2.1-12.8 -1.1-1 -8,3.8 -1,2 -2,8 1.4,4 1.6,1 3.2-3 1.6,.2 .9,1 0,1.6 -.9,4 -1.6,1.1 -1.6,.2 -2-.5 -1.2-1.1 -1.6,.1 -7.5,4.2 -3.7,3.6 -1.6,.1 -2.4-3.7 2.4-9.6 1.6-1.6 4.8,.4 .6-.4 .1-3.2 2.1-4.8 -4-3.2 -.7-3.2 -1.3-.9 -4.8,.5 -3.2-.6 -4.8-3.8 -4.8,.6 -3.2-1.8 -1.6,.5 -1.4,5.5 -1.8,1.6 -4.8-6.4 -3.2-.9 -3.2,.3 -1.6-.4 -4.8-4.9 -3.2,1.3 -9.6-5.7 -1.6,.1 -1.6,1.3 -1.1,2.5 .3,1.6 2.4,2.9 3.4,1.9 1.8,3.2 2.4,1.6 1.1,1.6 -.6,1.6 -2.7,3.2 -.8,3.2 -1.4,1.4 -6.4,2.8 -1.3-1 -.7-3.2 -1.2-1.9 0-3.1 1.6-1.4 -.6-1.6 -1-.4 0-1.4 3.2,1.1 1.6-.8 2.1-3.3 -.6-1.6 -1.5-1.6 -2.8-1.6 -1.4-1.6 -.6-2.3 0-7.7 3.2-.9 3.2,2.6 1.6-.1 2.4-2.8 1.1-3.2 -.2-1.6 -1.7-.3 -6.4,2.3 -3.2-.8 0-22.9zM102.5,623.9l-1.2,1.6 .6,1.6 1.1,.7 1.1-.7 .2-1.6 -1.3-2.3zM83.7,627.1l-.5,1.6 .6,1.5 1.6,.9 4.6-.8 1.8-1.4 -.4-1.8 -1.2-.5 -4.8-.5zM65.6,638.3l.6,1.6 1.5-1.6 -1.5-.8zM128.6,638.3l-1.9,1.6 .3,1.1 3.2,.9 .9-.4 .5-1.6 -1.4-1.4zM61.8,643.1l-1.3,3.2 .9,3.6 1.6,.7 3.2-1.3 1.5-1.4 .5-1.6 -.4-3.4 -3.2-1.2 -1.6,.2zM127.7,649.5l.3,3.2 -1,1.8 -6.4-.6 -1.2,2 -1.6,8 1.2,2 1.9-.4 5.2-3.2 6.1-4.8 .4-1.6 -2-4.8 -.4-3 -1.6-.2zM137.7,655.9l-1.5,1.6 -.3,1.6 .7,.6 1.6-.3 .8-1.9 -.4-1.6 -.4-.4zM224,703.9l-.4,1.6 1,1.2 1.8-1.2 -.2-2.3 -1.6,.1zM342.6,724.7l-.2,1.6 2.5,0 -.3-2.1zM345.9,727.9l-3.4,1.6 .9,1.6 2.8,2.3 2.5-.7 .6-1.6 -1.5-3.5zM392,732.7l-1,.6 -1,2.6 -.4,4.8 -1.6,4.8 .5,1.6 .9,.8 6.4,1.2 3.2,2.2 1.6-1.5 1.4-2.7 -5.3-8 -1.4-4.8 -1.1-1.6 -1.6-.4zM397.9,753.5l-3.2,3.2 .2,1.6 2.5,2.6 1.6,.1 .7-1.1 .9-6.4 -1.6-1.3zM448.6,756.7l-.3,1.6 .9,1.6 1,.7 1.6-.1 1.4-.6 -.1-1.6 -1.2-1.6 -1.7-.9zM428.6,761.5l-1.7,1.6 -.4,4.8 1.3,1.1 1.6-.2 1.2-2.5 1.9-3.2 .3-1.6 -1.8-.7zM432.7,764.7l-.5,1.6 .4,1.1 3.2-.6 .5-.5 -.5-1.7 -1.6-.8zM666,591.1l0,8.8 -3-.4 -1.6-1 -.7-1.8 .2-1.6 2.1-2.6zM227.8,601.4l1.6,.2 1.6,1.3 2,3.4 -.2,3.2 -1.8,3.6 -1.6,.7 -2.2-1.1 -1.9-6.4 -.2-1.6 .6-1.6zM87,613.4l1.6-.6 1.1,3.1 -1.1,3.1 -1.6,.5 -1.6-1.1 -.4-2.5zM258.2,627.8l3.2-.1 1.6,.8 .9,1.8 .1,3.2 -1,1 -1.6,.3 -3.2-.9 -2-2 .4-2.1zM309.4,633.3l1.6,.3 1.6,1.5 1.6,3.2 .4,3.2 -5.2,1 -1.6-.9 -5.3-1.7 0-1.6 3.7-3.3zM248.6,634.8l3.2-.4 4.8,2.2 1.6,1.2 .3,2.1 -2.5,3.2 -.4,1.6 1.4,3.2 -.4,.3 -3.2,.4 -4.8-4.4 -1.6-.4 -3.2,1.9 -1.6-.1 -3.2-1.9 -3.2-1 -3.2,.4 -.5-1.6 2.1-1.2 4.8-1zM343,639.2l1.6,0 .7,.7 -.7,1.3 -2.6-1.3zM93.4,641.2l1.6-.4 0,.7 -1.6,2.7 -4.8,1 -2.3-.5 1.1-1.6zM331.8,641.3l3.2-1.2 1.6,.9 4.8,4.9 1,2 1.8,4.8 -.1,1.6 -1.1,1.3 -3.2-1.8 -3.2-.9 -2.4,1.4 -.8,3.3 -1.6-.2 -3.2-3.1 .3-9.6zM107.8,643.4l1.6-.1 2.2,1.4 -2.2,5.5 -1.6,1.2 -1.1-.3 .5-3.2 -.4-3.2zM453.4,644.3l1.6-.5 1.6,.3 5.5,2.2 .4,1.6 -.5,3.2 1.8,3.2 -.8,.8 -1.6,.2 -6.4-2.3 -3.2-.5 -1.5-1.4 -.1-1.6zM303,645.5l1.6-.6 3.2,.8 .2,2.2 -1.8,.5 -4.8-.5zM349.4,647.5l1.8,.4 .6,1.6 -.8,.6 -1.6,0 -.4-.6zM87,648.2l1.6,.1 1.6,1 1.3,1.8 .1,1.6 -1.4,.9 -1.6-.1 -3-2.4 -.2-1.6zM87.2,651.1l1.4,1.3 1.6-1.3 -1.6-1.1zM58.9,654.3l2.5,.7 1.6,1.9 0,.9 -1.6,1.9 -1.6,.1 -1.6-.9 0-5zM472.6,654l3.2,2.2 1.4,2.9 -1.8,6.4 5.2,3.1 1.6,2.9 1.6,1.3 4.8-1.5 1.4,.6 1.8,2 .4,1.2 -2.5,4.8 .8,1.6 -.3,1.2 -3.2,.7 -3.2,3.2 -1.6,.3 -1.6-.9 -4.8-7.2 -1.6-.6 -6.4,1.7 -1.5,1.6 -.1,2.2 -1.6,.1 -1.7-.7 .8-3.2 -1-4.8 -1.3-2 -1.6-1.1 -.3,1.5 -1.3,.7 -.9,4.1 1.6,4.8 -1.2,3.2 1,1.6 1.2,3.2 -1.7,2.3 -1.6,.7 -3.5-1.4 -1.3-1.4 -.8-3.4 .5-4.8 -.5-3.2 -2.4-1.2 -6.4-1.3 -.7-.7 -.4-3.2 1.6-6.4 -.1-4.8 1.3-1.6 3.1-1.9 9.6,1.9 1.7,1.6 -1.7,.7 -2.4,2.5 .2,4.8 2.2,1.6 4.8-.3 2.6-4.5 2.2-.5 4.8,.9 1.6-.5 .9-1.5 -3.7-4.8 -2.1-4.8zM448.1,670.3l-4.3,1.9 -.6,1.3 .1,1.6 2.5,1.6 6,.2 1.6,.8 1.6-.7 -.6-1.9 -2.6-2 -1.6-2.2 -1.6-1.1zM343,656.6l4,4.1 -.8,1.1 -3.2,1.6 -1.6-.2 -2.4-2.5 .5-1.6zM371.8,657.2l3.2,1.4 1.6,2.1 -1.2,3.2 -2,1.7 -1.6,.7 -3.3-4 .2-3.2 1.6-1.6zM387.8,663.6l4.8,1.2 6.4-1.8 3.2,.7 2.7,1.8 .8,1.6 1.2,8 -1.5,2.6 -1.6,.1 -3.2-2.2 -3.2,.1 -2-.6 -1.8-1.6 -2.6-4.6 -4.9-3.4 .6-1.6zM393,667.1l1.2,4 1.6,1 4.8-.8 1.1-1 -1.1-1 -.3-2.2 -1.3-1.4 -3.2,.2zM165.4,665.5l1.6-.4 0,5.1 -2.1-1.5zM178.2,666.9l1.6,.6 .8,1.2 .1,1.6 -.9,1.3 -1.6,.1 -2-1.4 -.7-1.6 1.1-1.4zM177.1,668.7l.7,1.6 1.6,0 -.3-1.6 -.9-.5zM371.8,668.4l.6,5.1 3.4,4.8 -1.2,1.6 -2.8,1.5 -3.4-1.5 -.3-1.6 1.3-3.2 .8-5.8zM191,672.6l1.6,.9 -1.6,1.1 -1-1.1zM386.2,674.9l.3,6.6 -1.9,6.6 -1.6,1.5 -4.8,1.1 -1.6,0 -1.6-.9 .2-1.9 3-2.2 1.6-2.6 4.9-3.2zM424.6,674.4l1.6-.4 4.8,.8 3.7,3.5 .7,1.6 -2.7,6.4 -2.1,0 -1.2-6.4 -1.6-1.8 -3-1.4 -1-1.6zM594.2,679.3l4.8,.2 3.2,2.1 4.8-.6 1.6,1.4 .3,2.3 -.8,4.8 .5,2.8 1.6,1.2 4.7,.8 1.2,1.6 -1.1,2.7 -4.7,2.1 -6.5-1.5 .7-4.9 -1-1.6 -1.3-.6 -6.4,1.2 -3.2-.8 -1.6-1.2 .9-9.8 .7-1.5zM593.8,687.9l-1.3,1.6 1.3,1.6 4.5,0 1.8-1.6 -1.1-2.3 -1.6-.5zM403.8,681l1.6-.5 1.6,.4 4.1,2.2 -2.9,3.2 -.6,1.6 1.3,1.6 1.3,.7 3.2-.4 4.8,3.4 6.4-1.5 3,7.4 -.4,1.6 -1,.8 -1.6-.4 -1.2-2 -2-.7 -1.6,1.4 -1.6,.3 -3.2-.7 -6.4,.7 -1.6-.9 -1.4-1.7 -1.2-8 -2.3-3.2 .1-3.1zM503,681.7l2.7,3 3.5,1.6 0,1.6 -4.8,4.8 -1.4,1 -1.6-.3 -1.7-2.3 1.7-7.5zM581.4,692.5l1.6-1.2 3.5,1.4 1.3,2.2 1.6,1.3 6.4,.5 4.6,4 .2,1.6 -1.6,2.2 -9.6,.2 -4.8,2.1 -1.6-.7 -1.6-1.8 -4.8,3.1 -1.6-1.9 1.6-5 1.6-2.1 1.6-.8 1.6,1 1.6,3.5 1.6-.1 .7-1.3 -.5-3.2 -3.3-3.2zM349.4,693.8l2.3,.5 2.4,1.6 .6,1.6 -2.1,1.6 -.8,1.6 .8,2 2.9,1.2 .7,1.6 -2,1.2 -3.2-.5 -1.6-.1 -3.2-2 -5-.2 -1-1.6 0-1.6 1.2-.8 4.8-.1 .8-.7 .8-4.5zM215,695.9l3.2-.8 1.6,.8 .6,1.6 -1.9,1.6 -3.6,0 -1.2-1.6zM562.2,695.7l3.2-.2 2.8,2 .7,3.2 -1.5,1.6 -2,.1 -4.4-3.3 -.3-1.6zM423,703.7l1.1,1.8 -1.1,1.7 -1.6,.3 -.6-2 .6-1.1zM338.2,705.2l1.6,.2 .4,3.3 -.4,6.3 -1.3-1.5 -1.8-3.2 -.2-1.6 .1-1.7zM322.2,707.1l2.1,0 .5,1.6 -1,.8 -1.6,.1 -.9-.9zM351,709.3l1.6-.1 1.7,1.1 -1.7,5.1 -1.6,1.5 -1.6-.4 -2-3 2-3.1zM618.2,713.2l6.4,1.1 1.6,2 5,10 -2.1,6.4 .5,1.6 2.2,3.2 .4,1.6 -.7,1.6 -3.7,1 -1.5-1 -.2-4.8 -1.5-1.3 -1.6-.3 -1.6,.9 -.9,2.3 .5,4.8 -1.2,.8 -8.8-4 -.6-1.6 4.4-3.2 .8-3.2 -.6-.8 -4.8,.5 -2.9-2.9 -.3-1.6 3.2-5.3 3.2-1 3.2,.1 1.6-1.2 .2-2.2 -1.2-3.2zM619.1,723.1l-.9,.6 -3.2,.2 -1.3,.8 -.8,1.6 3.7-.3 1.6,.5 4.2,4.6 3.8,1 1.5-1 1.5-3.2 -.5-1.6 -2.5-2.6zM525.4,724.5l1.6,1.8 -1.3,1.6 -.6,0 -.5-1.6zM648.6,728.8l1.6-.1 2.1,.8 0,1.6 -2.1,.4 -3.4-.4zM251.8,730.5l1.6,1.7 .8,2.1 0,1.6 -.8,.6 -1.6-.2 -1.1-.4 -1-1.6 .5-2.4zM59.8,732.8l6.4,2.1 3.2,2.6 3.1,4.8 .4,3.2 -1.3,4.8 -2.2,3.5 -6.4,3.6 -4.8,.9 0-.7 6.4-1.6 4.1-2.5 1.8-3.2 1-4.8 -.9-4.8 -2.2-3.2 -3.8-2.5 -6.4-1.5 0-.7zM578.2,739.1l0,1.6 -2.7,8 -1.3,1.6 -5.6,.8 -1.6,.8 -1.6-.5 -1.7-2.7 1.5-4.8 1.8-2.6 1.6-1 6.4-.1zM569.6,742.3l-1.2,1.6 -.3,1.6 .5,2.9 1.6-.1 1.9-1.2 1.3-3.2 -.7-1.6 -.9-.8 -1.6,.2zM653.4,738.5l.6,2.2 -.5,1.6 -1.7,.2 -.1-1.8zM659.8,740.6l6.2-.9 0,4.5 -4.6,.6 -1.6-.5 -1.5-2zM474.2,747.1l.8,8 2.7,4.8 .4,3.2 1.7,1.6 .5,1.6 -.7,1.6 -2.2,2 -1.6,.2 -1.6-1.3 0-2.5 1.5-3.2 -1.5-1.1 -3.3-.5 -1.5-1.6 0-1.6zM583,746.9l6.4-.4 3.2,1.6 4.7,.6 .4,1.6 -1.6,3.2 1.2,3.2 -.2,1.6 -1.3,.6 -2.1-.6 -.3-3.2 -.8-.9 -6.4-.3 -5.4-3.6 -.2-1.6zM375,751.5l1,.4 .2,1.6 -1.2,.8 -1.1-.8zM389.4,752.3l1.6,1.2 -.1,1.6 -1.5,.4 -1.7-.4 .1-1.6zM611.8,756.2l3.2-1 1.6,.2 1.2,1.3 .5,1.6 -.9,1.6 -4,3.2 -.5,1.6 1,3.2 -.5,.9 -3.2,.9 -1.7,1.4 -1.3,4.8 -1.8,.4 -1.8-.4 -1.9-1.6 -1.2-3.2 5.1-6.4 .3-4.8 1.1-2.4zM645.4,767.9l2.9,1.6 -1.3,1.6 2.2,3.2 -.6,1.7 -1.6,.1 -3.2-1.2 -1.1-2.2 1.1-4.2zM487,769l3.1,2.1 .5,1.6 -2,1.1 -3.2-.4 -1.2,.9 -2,5.1 -3.2-1.3 -.6-2.2 1.2-1.6 3.2-1.6 2.6-2.8zM365.4,774.3l.7,1.6 -.6,1.6 -1.7,.2 -.5-1.8zM495,773l1.6,.3 1.4,5.8 -1.1,1.6 -1.9,.2 -1.6-.4 -1.3-1.4 -.1-1.6zM482.2,781.3l1.6,.3 2.9,2.3 .2,3.2 -1.1,4.8 1.2,1.5 3.2,2 3.2,.4 1.6,2 .7,3.7 .9,1.2 6.4,5 1.6,.6 1.6-.3 3.2-1.6 1.6,.5 1.6,2.2 0,2 -1.2,1.6 -3.6,2.5 -1.6,1.9 -1.6,.5 -1.6-1.3 -3.2-3 -3.2-1.4 -4.8,.2 -3.5-1 -1.3-.9 -1.6-2.8 -1.6-1 -1.6,.2 -3.2,1.7 -1.6-.1 -3.2-1.6 -4-3.5 .2-3.2 2.2-4.2 1.6-.6 3.2,1.2 1.1-1.2 -.7-11.2zM479.7,785.5l.9,10.8 2.1,3.6 -.7,1.6 -1.4,1.2 -3.2-.4 -.9-.8 -.6-3.2 -1.7-.8 -.6,.8 0,3.2 .2,1.6 1.4,1.6 2.2,1.1 1.6-.2 3.2-2.4 3.2-.3 1.3-3 .2-1.6 -.8-1.6 -3-3.2 -.1-1.6 1.3-3.2 -.2-3.2 -1.9-1.4 -1.6,.4zM635.8,781.9l1.6-1 1.7,1.4 -.4,1.6 -1.3,.9 -1.6-.5 -.6-2zM539.8,791.5l1.6,.6 0,1.9 -1.6,.5 -.5-2.6zM533.4,794.7l2.9,.4 1.6,1.6 -.8,1.6 -2.1,1.5 -1.6-.3 -1.6-2.8zM666,797.9l0,2.3 -3,.9 -1.6,1.2 -.6,.8 -1,4.8 -1.3,1.6 -1.9,1 -1.6-.1 -3.2-1.8 -1.6,.2 -4.8,4 -14.4-.9 -1.6,.2 -1.6,1.5 -1.7,3.9 -1.3,8 1.7,3.2 -.8,3.2 3.1,3.2 .8,3.2 -1.4,1.6 -4.8,1.6 -1.9,1.6 4.7,2.9 .8,2.7 -7.6,0 -1.2-3.9 -3.2-2 -1.6,1.3 -.3,4.6 -1.7,0 -.2-5.6 -1-2.9 -1.6-.3 -2.2-1.6 .6-1.6 1.6-.8 3.2,3.3 3.2-.8 4.8,1.5 2.3-1.6 -2.3-5 -5.8-1.4 -1.7-1.6 .7-3.2 -1-1.6 1.6-1.6 1.4-3.9 1.6,.5 1.6,2.8 1.6,.5 3.2-3 .3-3.3 3.1-8 -.2-1.6 -3.2-.8 -.4-.8 1.4-1.6 2.8-1.6 1.6,0 1.6,1.6 .5,3.2 2.1,1.3 4.8,1.4 3.2-1 4.8,.8 2.5-2.5 4.2-1.6 6.4-4.8zM530.2,804.7l1.6-.9 1.6,.1 1.6,2.4 .7,3.2 -4.3,1.6 0,4.8 -.7,1.6 -3.7,3.2 -2.3,0 .7,.5 1.6-.5 1.6,.9 8,9.8 .7,3.7 -.9,1.6 -3,3 -1.6,.4 -6.4-1.8 .1-1.6 2.4-6.4 -.7-1.6 -3.4-3.1 -3.2,2.9 -4.9,1.8 .8,4.8 -.7,.6 -6.4,1.9 -3.2-.5 -1.3,1.2 -.3,2.7 1.6,.4 3.2-.6 2,2.3 .1,1.6 -2.1,3.6 -2,.4 -2.8-5.2 -1.6-.9 -3.2,.2 -3.2-1.1 -3.2,.7 -1.6-1.1 -1-3 .1-3.2 .7-1.6 3.4,.7 2.6-.7 -.7-1.6 .4-1.6 4.1-4.1 3.2-1.3 1.1-2.6 2.1-2.6 4.8-2.5 6.4,0 1.6-1.5 .9-6.2 2.3-1.4 3.2-.8zM528.4,812.7l-.8,3.2 1.2,0 0-3.2 -.2-1.3zM575,812.4l6.4,1.2 4.8-1.9 1.6,.4 .4,.6 -.4,4.8 .5,1.6 2.7,2 4.4,1.2 -6.2,4.8 .8,4.8 -.8,1.6 -1.4,.8 -4.8,.3 -3.1,2.1 -3.3,3.9 -1.6-.4 -1.6-3.9 -1.6-.4 -4.8,.7 -2.9-3.1 -.1-1.6 2.3-6.4 2.3-3.4 3.6-3 .6-1.6 -.5-3.2zM577.1,817.5l-.1,1.6 1.2,.6 5.4-.6 .4-1.6 -2.6-1 -3.2,0zM579.4,822.3l-1.2,.7 -4.1,5.7 2.5,4.3 1.2-1.1 1.5-4.8 2.3-3.2 0-1.6zM581.5,827.1l-.1,2.3 1.6,1.3 1.4-.4 1-1.6 0-1.6 -.8-.9 -1.6-.2zM477.4,815.4l1.6-.1 .4,.6 .7,1.6 -1.1,1.2 -2.5-1.2zM568.6,815.7l1.4,.2 .1,1.6 -1.5,1.8 -1.6,.1 -.8-1.9zM648.6,817.4l3.2-.7 1.6,.3 .4,.5 -1.3,1.6 -2.3,.6 -1.6-.3zM320.6,820.5l1.6-.2 1.6,.6 1.8,1.4 1,1.6 -1.3,3.2 -1.5,1.2 -3.2-.1 -1.6-2.1 -.7-3.8zM319.2,822.3l-.3,1.6 1.6,3.2 1.7,.7 1.6-.5 1.3-1.8 .1-1.6 -.9-1.6 -2.1-1.2 -1.6,.1zM631,821.2l1.6-.2 1.6,1.3 .5,3.2 -.9,1.6 -1.2,1.2 -1.6-.4 -.9-4 0-1.6zM306.2,826.4l1.6-.5 .9,1.2 -.9,1.5 -1.6-1.3zM59.8,831l3.2,.2 3.2,1.2 1.7,2.7 1.1,3.2 .1,3.2 -2,7.2 -2.6,0 2.4-5.6 -.4-6.4 -1.9-3.3 -3.2-.8 -3.2,.8 0-2zM655,843l3.2,.2 2.5,1.5 .3,4 -1,0 -.1-2.4 -1.7-2.1 -3.2-.3 -2.6,.8 -1.8,1.6 -.6,2.4 -3.3,0 3.5-4.5 1.6-1.1zM120.6,844.4l1.6-.4 4.8,1.2 4.8,.2 2.3,.9 .5,2.4 -9.2,0 -12.5,0 .5-2.4 .8-.8 3.2,.1zM333.4,844.6l.4,.1 -1.5,4 -3.7,0 1-2.4zM586.2,844.5l.8,.2 -.5,4 -1.8,0 -.1-3.6zM77.4,847.1l1.6,.1 1,1.5 -1,0 -2.7,0zM138.2,847.4l1.6-.5 1.1,1.8 -1.1,0 -2.7,0z" fill="#DCFFDC" stroke="#DCFFDC" stroke-width="0.6"/>
<path d="M67.8,612.4l1.7,.3 .2,1.6 -1.1,3.2 -2.4,2.8 -1.6,.1 -3.2-2.6 -1.6,.2 -1.6,.7 0-4.8 3.2,.8zM64.6,623.3l3.2,.5 8,5.1 3.2-1.3 4.8,4.9 1.6,.4 3.2-.3 3.2,.9 4.8,6.4 1.8-1.6 1.4-5.5 1.6-.5 3.2,1.8 4.8-.6 4.8,3.8 3.2,.6 4.8-.5 1.3,.9 .7,3.2 4,3.2 -2.1,4.8 -.1,3.2 -.6,.4 -4.8-.4 -1.6,1.6 -2.4,9.6 2.4,3.7 1.6-.1 3.7-3.6 7.5-4.2 1.6-.1 1.2,1.1 2,.5 1.6-.2 1.6-1.1 .9-4 0-1.6 -.9-1 -1.6-.2 -3.2,3 -1.6-1 -1.4-4 2-8 1-2 8-3.8 1.1,1 -2.1,12.8 1,1.6 3.2-.6 4.8-2.4 1.6,0 1.6,.9 1.6,2.4 3.2,1.8 1.6,.2 3.2-.9 6.4,.8 4.8-2.9 3.2,.6 1.6,.5 3.3,9.2 1.5,1.5 1.6,.1 3-1.6 6.6-5.9 3.2,1.4 3.2,.6 4.8-1.9 1.6,.2 3.3,8.8 -2.1,4.8 2,1.5 4.6,1.7 1.7,3.2 3.8,1.6 1.4,1.6 -.1,1.6 -2.7,1.6 -.7,1.6 1.4,3.2 1.8,.8 3.2-1.3 1.6,.4 5,4.9 0,1.6 -1.8,2.6 -8,6.5 -.9,2.1 .8,1.6 1.7,.8 1.6-.3 1.6-3 1.6-1 1.3,.3 .9,1.6 -.6,3.2 .7,3.2 .9,1.7 3.2,2.3 1.6,2.4 .9,3.2 1.3,1.6 4.2,1.9 6.4,.5 3.2,2 4.8,.5 4.8,4.2 1.6,.4 3.2-1.5 4.8,2.2 1.6-.3 1.6-.8 4.8-.6 1.6-1.5 6.4-2.3 4.8,2.7 4.8-.8 6.4,.6 .9-.8 0-3.2 .7-1 1.6-.5 4.8,1.4 4.8-1.6 3.2,2.1 3.2,.7 3.2-1.2 4.8,.1 3.2-.8 1.6,.5 1.4,1.9 3.4,2.1 4.8,4.2 1.6,.2 2.7-1.7 .5-1.3 1.6-.4 4.8,2 4.8,4.9 3.2,1.2 6.4-.9 3.2,1.2 3.2,.3 1.7-.6 1.5-2.9 3.2,1 3.2-1.4 .7,3.3 -1.2,4.8 -.1,3.2 2.2,2.3 4.8,.3 2.7,2.2 -.5,1.6 -2.7,3.2 1.6,3.2 3.7,1.9 .8-.3 .5-1.6 .1-3.2 1.2-3.2 -.2-3.2 1.5-3.2 -.5-1.6 -5-7.8 0-3.3 8-3.1 3.2,2.2 1.6,.3 1.6-1.2 3.2-6.1 1.6-.9 3.2,.6 1.2,1.7 1.1,4.8 -.7,3.7 1.6,.2 .1-2.3 1.4-1.6 1.7-.6 1.6-.3 4.8,1 8-1.6 2,1.5 .1,3.2 2.7,7.6 4.8,.9 1.6-.2 .4-1.9 -1.2-3.2 .8-.3 2.6,.3 5.4,2.4 1.5,2.4 .3,1.6 -1.9,9.6 -1.5,1.7 -3.2,.7 -4.8-2.7 -1.6,.4 -1.1,1.5 -.1,3.2 2.8,3.2 -1.6,1.2 -2,.4 -1.2-1.1 -1-3.7 -2-1.6 -1.8-.6 -3.2,.5 -3.2,2.2 -4.8-.1 -3.2,1.7 -1.6,0 -4.8-1.9 -1.3,1.4 4.2,3.2 1,3.2 2.3,3.2 -.4,1.6 -2.6,3.1 -3.2,2 -8,1.9 -5.8,2.6 -7,.8 -8,5.4 -3.2,1.7 -3.2,.8 -6.4,4 -6.4,.9 -1.6,.9 -3.2,.1 -1.6,1.1 -1.6-1 -.7-1.9 1.3-4.8 -.6-1 -1.6-.5 -1.8,1.5 -.3,4.8 -2.7,6.4 -1.6,.9 -1.6,.1 -1.6-2.8 -4.8,4.3 -4.8,1.7 -4.8-1 -4.8,.8 -1.8-5.6 -1.4-1.7 -1.6,.3 -2.8,3 .5,1.6 4.4,3.2 .9,1.6 .2,4.2 3.2,0 .5,.6 -.5,3.1 -2.2,1.7 -2.6,4.8 -.1,1.6 3.2,3.2 2,6.4 -1,1.6 -5.7,0 -1.6,1.6 -1.5,4.8 -1.8,3.2 .6,4 -1.5,0 -.8-4 1.8-3.8 .9-4.2 2.3-3.3 3.7-1.5 .1-1.6 -.6-2.3 -1.6-1.5 -4.8,3 -3.2-.1 -1.6-1.2 -1.5-5.9 1.3-1.6 1.8-1 3.2-.2 3.2,1.4 1.6-.7 .6-1.1 .1-11.2 -1.3-1.6 -2.6-1.6 -1.2-3.2 4.4-5 1.6-.4 4.8,5.7 1.2-.3 -.8-3.2 1.2-1.6 3.2,2.5 6.4,2.2 2.7-1.5 .9-1.6 .2-1.6 -2.2-2.1 -1.6-3.2 0-1.4 1.6-1.9 1.6,.1 2.4,2.1 -1.2,4.8 2,1.2 3.2,.3 1.6-.9 1.2-2.2 -.2-3.2 3.8-3.1 1.6,.2 2.7,2.9 -.6,3.2 1.1,.9 4.8-1.1 3.2,.1 4.8-1.3 3.2-2 9.6-4.1 4.8-3.1 5.6-2.2 .8-1.6 0-2.4 1.6-1.8 1.6-.5 3.2,4 6.4-.9 3.3-1.6 3.1-3.2 0-1.6 -5.7-9.6 -.2-1.6 1-1.6 8.1,2.1 4.8-1.3 3.2,0 4.8-2.1 6.4,.5 3.2-3.6 1.6-.1 4.8,2.2 1.6-.2 1.6-1.1 1.7-7.6 0-3.2 -1.3-1.6 -3.6-1.1 -1,1.1 -.6,3.2 -1.6,1.2 -3.2-1.7 -3.2,0 -1.6-.8 -.4-3.5 -2.3-8 -2.1-.5 -6.4,1.4 -4.8-.1 -2.1,.8 .4,1.6 1.7,.8 .4,.8 -.4,3 -1.6,2.6 -1.6-2.5 -4.6-3.1 -.4-1.6 .7-4.8 -.5-1.7 -1.6,.1 -1.6,3.3 -1.6,.9 -1.6,0 -1.6,2 -5.1,1.8 2.7,3.2 .3,1.6 -1.1,.7 -1.7-.7 -1.5-2.6 -4.8-1 3.2,8.4 -1.2,3.2 .1,3.2 -2,4.8 1,3.2 -2.7,.9 -4.3-2.5 -2.1-3.2 -4.8-.7 -.9-.9 .3-4.8 -.9-1.6 .3-8 -.4-.9 -3.2-.5 -4.8,1.3 -8-1 -4.8,.4 -3.2-1.4 -4.8-4.4 -3.2-1 -1.6,.2 -4.8,2.5 -1.6-.7 -4.8-4.2 -6.4-3.7 -6.4-.3 -4.8,1.4 -6.4-1.8 -4.8,.7 -4.8-.6 -1,2.8 -2.2,2 -1.6,.3 -6.4-1.3 -3.2,.5 -4.8-2.1 -8,4.1 -8,1.5 -4.8-2.1 -3.2,1.7 -6.4-4 -1.6-.3 -2,1.3 .4,5.1 -1.6,1.1 -3.2-.5 -3-2.5 -.3-1.6 2.1-3.2 -.1-1.6 -11.3-4.8 -1.6-1.6 -2.7-4.8 -2.3-2 -1.6-5 -1.1-1 -3.7,.3 -3.2-.8 -1.8-1.1 .1-1.6 4.9-6.3 5-3.3 .9-1.6 -1.1-2.7 -3.2-1.7 -1,1.2 .3,1.6 -.9,4.8 -2.2,1.6 -4.2,1.1 -3.2-.3 -2.2-.8 -.7-1.6 .3-1.6 4.2-2.4 4.8-.4 .8-2 -3.1-4.8 -1.9-6.4 -3.8-4.6 -6.4-3.8 -3.9-1.2 -.6-1.6 3.2-3.2 -.3-1.7 -1.6-1.9 -6.4-1.5 -4.8,3.2 -6.4,1.9 -1.6-.1 -2.6-1.5 -.6-3.3 -1.6-3.8 -1.6-1.3 -4.8,.4 -4.8,2.8 -1.6,.3 -1.7-1.5 -6.3-.3 -8-2.7 -4.8,.4 -3.2,.8 -1.6,5.7 -1.4,.9 -9.8-.6 -4.7,2.2 -2,1.6 -2.2,3.2 -2.3,.7 -1.6-1.3 -2.7-4.2 2.7-5.9 .3-3.7 -.7-1.6 -2.8-2.9 -1.6,0 -4.8,3.2 -3.2,.9 -.5,2 .5,1.6 -1.4,1.6 -3.4-.3 -1-1.3 .2-3.2 1.3-1.6 4.3-2.7 .7-2.1 -.7-3.7 -1.5-2.7 -3.3-1 -3.2,2.4 -1.6,2.6 -3.4,2.4 2,4.8 -.6,1.6 -2.8,.6 -3.2-1.2 -3.1-2.6 -3.3-7 -3.2,.4 -1.6-1.3 -1.6,.8 -.3,2.3 -3.3,3.2 -6.8,3.2 -.5,1.6 .9,3.2 -1.2,2 -3.2,1.7 -1.6-.3 0-2 1.6,.9 1.6-.1 1.7-2.2 -1.7-2.5 -3.2-1.1 0-7.9 1.2,1.9 .7,3.2 1.3,1 1.6-.3 4.6-2.3 1.6-1.6 .8-3.2 2.7-3.2 .6-1.6 -1.1-1.6 -2.4-1.6 -1.8-3.2 -3.4-1.9 -2.4-2.9 .2-3.2zM92.8,641.5l-5.4,1.6 -1.1,1.6 3.9,.4 2.3-.4 1.7-1.6 .8-2.3zM106.8,644.7l.4,3.2 -.5,3.2 1.1,.3 2.1-1.9 1.7-4.8 -2.2-1.4 -1.6,.1zM121.8,644.7l-1.2,.3 -1.1,1.3 -.1,1.6 2.3,3.2 2.1,.2 1-5 -1-1.2zM135.9,646.3l-1.7,4.8 .2,1.6 .6,.5 1.9-2.1 2.9-.6 1.4-2.6 -1.4-2.2 -1.6-.9 -1.6,0zM85.4,649.5l.2,1.6 3,2.4 1.6,.1 1.4-.9 -.1-1.6 -1.3-1.8 -1.6-1 -1.6-.1zM215,695.9l-1.3,1.6 1.2,1.6 3.3,.1 1.6-1 .6-.7 -.6-1.6 -1.6-.8zM250.9,731.1l-1.1,1.6 -.1,1.6 1,1.6 2.7,.6 .8-.6 0-1.6 -.8-2.1 -1.6-1.7zM392.1,751.9l1.2,1.6 1.2,0 .4-1.6 -.7-.6 -1.6-.1zM387.8,753.5l0,1.7 3.1-.1 .1-1.6 -1.6-1.2zM320.2,820.7l-1.9,1.6 0,1.6 1.2,3.2 1.1,1.1 1.6,.3 1.6-.2 1.5-1.2 1.3-3.2 -1-1.6 -3.4-2zM66.2,637.5l1.5,.8 -1.5,1.6 -.6-1.6zM59.2,639.9l.6,1.6 -1.6,1.4 0-3.4zM167,659.3l2.3,4.6 -.1,6.4 -2.1,1.6 -1.7-.2 -2.4-3 -.9-1.6 .1-1.6 1.6-3.2zM165.4,665.5l-.6,1.6 .6,2.4 1.6,.7 .3-1.5 -.3-3.6zM74.2,662.1l5.5,.2 -.7,1 -1.6-.2 -1.6,1.3 -1.6,1.3 -1.9-.2 -.4-1.6zM175,666.8l1.6-1 3.2-.1 1.5,1.4 .5,1.6 -.1,1.6 -1,1.6 -.9,.9 -1.6,.1 -3.2-2.6 -.7-1.6zM177.3,667.1l-1.8,1.6 .7,1.6 2,1.4 1.6-.1 .9-1.3 -.1-1.6 -.8-1.2zM394.2,666.4l3.2-.9 1.6,.2 1.3,1.4 0,1.6 1.4,1.6 -1.1,1 -1.6,.2 -3.2,.6 -1.6-1 -1.2-4zM139.8,669.9l2.4,2 0,1.6 -.8,.7 -1.6-.1 -.6-.6 -.5-1.6zM448.6,669.8l5.8,5.3 .6,1.4 0,.5 -1.6,.7 -3.2-1 -4.4,0 -2.5-1.6 -.1-1.6 .6-1.3zM189.4,671.7l1.6-.5 1.8,.7 1.1,1.6 -.4,1.6 -.9,.4 -1.6,.4 -1.6-.7 -.6-1.7zM190,673.5l1,1.1 1.6-1.1 -1.6-.9zM594.2,687.5l3.2-.8 2.2,1.2 .5,1.6 -2.7,1.8 -3.6-.2 -1.2-1.4 0-.7zM619.8,722.8l3.2,.8 3.2,.1 2.5,2.6 .5,1.6 -1.4,3.1 -1.6,1.1 -3.8-1 -1-1 -3.2-3.6 -1.6-.5 -3.7,.3 .8-1.6 1.3-.8 3.2-.2zM343,724.3l1.6-.1 0,2.3 -2.2-.2zM59.8,731.9l6.4,2.2 4.4,3.4 3.7,4.8 .7,3.2 -2.8,6.4 -3.1,3.2 -7.7,3.6 -3.2,.6 0-.9 6.4-1.6 4.8-3 2.2-3.5 1.3-4.8 -.4-3.2 -3.1-4.8 -4.8-3.3 -6.4-1.4 0-.9zM101.4,742.3l4.8,1.4 .2,1.8 -3.4,.3 -3.1,1.3 -1.7-.1 -2.9-1.5 .4-1.6zM373.4,751.3l1.6-.8 2.5,1.4 -.1,1.6 -1.7,1.6 -2.5,0 -.9-1.6zM374.4,751.9l-.5,1.6 1.1,.8 1.2-.8 -.2-1.6zM434.2,763.8l1.7,.9 .4,1.6 -2.1,1.2 -1.6-.1 -.4-1.1 .5-1.6zM363.8,774.2l1.6-.9 1.2,1 .2,1.6 -1.4,2.4 -1.6,.1 -1.1-.9 -.1-1.6zM365.3,774.3l-2,1.6 .3,1.6 1.8,.1 .7-1.7zM480.6,784.5l1.6-.4 1.9,1.4 .2,3.2 -1.3,3.2 .1,1.6 3,3.2 .8,1.6 -.7,3.2 -.8,1.4 -3.2,.3 -3.2,2.4 -1.6,.2 -3.2-2.2 -.6-3.7 .6-2.4 1.7,.8 .6,3.2 .9,.8 3.2,.4 1.4-1.2 .7-1.6 -2.1-3.6 -.9-10.8zM663,801.1l3-.9 0,12.7 -4.6-2.2 -5.2,2 -1.1,1.6 1.1,1.6 .1,1.6 -1.3,1.8 -4.5,3 -.5,3.2 -1.4,3 -1.6,.5 -2.9-1.9 -.2-1.6 2.2-3.2 .3-1.6 -1-3.1 -4.8-1.7 -3.2,.2 -2.2,1.4 1.6,6.4 0,3.2 -4.8,6.4 -.3,1.6 .9,1.4 3.2-2.5 1.9,1.1 .4,1.6 -2.6,4.8 -1.3,2.1 -4.2,2.7 -.3,2.4 -2.7,0 -.8-2.7 -4.7-2.9 1.9-1.6 4.8-1.6 1.4-1.6 -.8-3.2 -3.1-3.2 .8-3.2 -1.7-3.2 1.3-8 1.7-3.9 1.6-1.5 1.6-.2 14.4,.9 4.8-4 1.6-.2 3.2,1.8 1.6,.1 1.9-1 1.3-1.6 1-4.8zM649.2,812.7l1,1.7 1.6-.1 1.6-1.4 -1.6-1.3 -1.6,.2zM648.5,817.5l.1,1.9 1.6,.3 2.3-.6 .9-.9 .4-.7 -.4-.5 -1.6-.3zM630.1,822.3l.9,5.6 1.6,.4 1.6-1.6 .5-1.2 -.5-3.2 -1.6-1.3 -1.6,.2zM528.6,811.4l0,4.8 -1-.3 .8-1.6zM578.2,816.5l4.8,.4 1,.6 -.4,1.6 -.6,.2 -4.8,.4 -1.2-.6 .1-1.6zM306.2,818.8l1.6,0 1.9,1.9 -1.4,3.2 1.8,3.2 0,1.6 -.7,1.2 -1.6,.1 -2.8-2.9 1-3.2zM306.1,827.1l1.7,1.5 .9-1.5 -.9-1.2 -1.6,.5zM583,826l1.6,.2 .8,.9 0,1.6 -.8,1.5 -1.6,.5 -1.8-2 .3-1.6zM59.8,829.3l4.8,.9 3.2,1.7 4,6.4 -.1,3.2 -1.3,3.2 -.6,4 -2,0 -.7,0 2.2-8.8 -1.4-4.8 -1.7-2.7 -1.6-.8 -3.2-.7 -3.2,.5 0-1.8zM307.8,833.9l1.6-.2 2.3,1.4 .6,1.6 -1.3,1.2 -1.6,0 -2.6-1.2 0-1.6zM651.8,838.7l3.2,2.5 3.2,.5 4.8,2.3 2.8,.7 -1.4,4 -3.4,0 -.3-4 -2.5-1.5 -4.4-.1 -2,0 -1.6,1.1 -3.5,4.5 -4.8,0 1.6-2.4 3.5-1.6zM111,840.7l3.2-.8 3.2,1.2 4.8-1 3.2,1 8,.2 8,3.4 1.3,1.6 .3,2.4 -2.1,0 -1.1-1.8 -3.2,1.8 -2,0 -.5-2.4 -.7-.6 -6.4-.5 -4.8-1.2 -4.8,1.6 -3.2-.1 -.8,.8 -.5,2.4 -6.6,0 2.7-5.6zM231,841l1,.5 .6,1.6 -.6,5.6 -1,0 -2.7,0 1.1-6.7zM615,842.8l3.1,1.9 .9,1.6 .4,2.4 -2.8,0 -3.5,0 .3-4.6zM75.8,845.7l3.2-.2 1.3,.8 1,2.4 -1.3,0 -1-1.5 -1.6-.1 -1.1,1.6 -1.6,0z" fill="#C4FFC4" stroke="#C4FFC4" stroke-width="0.6"/>
<path d="M98.2,641.3l1.6-.8 3.2,.9 1.6,2.8 .7,3.7 -.7,2.1 -4.3,2.7 -1.3,1.6 -.2,3.2 1,1.3 3.4,.3 1.4-1.6 -.5-1.6 .5-2 3.2-.9 4.8-3.2 1.6,0 2.8,2.9 .7,1.6 -.3,3.7 -2.7,5.9 2.7,4.2 1.6,1.3 2.3-.7 2.2-3.2 2-1.6 4.7-2.2 9.8,.6 1.4-.9 1.6-5.7 3.2-.8 4.8-.4 8,2.7 6.3,.3 1.7,1.5 1.6-.3 4.8-2.8 4.8-.4 1.6,1.3 1.6,3.8 .6,3.3 2.6,1.5 1.6,.1 6.4-1.9 4.8-3.2 6.4,1.5 1.6,1.9 .3,1.7 -3.2,3.2 .6,1.6 3.9,1.2 6.4,3.8 3.8,4.6 1.9,6.4 3.1,4.8 -.8,2 -4.8,.4 -4.2,2.4 -.3,1.6 .7,1.6 2.2,.8 3.2,.3 4.2-1.1 2.2-1.6 .9-4.8 -.3-1.6 1-1.2 3.2,1.7 1.1,2.7 -.9,1.6 -5,3.3 -4.9,6.3 -.1,1.6 1.8,1.1 3.2,.8 3.7-.3 1.1,1 1.6,5 2.3,2 2.7,4.8 1.6,1.6 11.3,4.8 .1,1.6 -2.1,3.2 .3,1.6 3,2.5 3.2,.5 1.6-1.1 -.4-5.1 2-1.3 1.6,.3 6.4,4 3.2-1.7 4.8,2.1 8-1.5 8-4.1 4.8,2.1 3.2-.5 6.4,1.3 1.6-.3 2.2-2 1-2.8 4.8,.6 4.8-.7 6.4,1.8 4.8-1.4 6.4,.3 6.4,3.7 4.8,4.2 1.6,.7 4.8-2.5 1.6-.2 3.2,1 4.8,4.4 3.2,1.4 4.8-.4 8,1 4.8-1.3 3.2,.5 .4,.9 -.3,8 .9,1.6 -.3,4.8 .9,.9 4.8,.7 2.1,3.2 4.3,2.5 2.7-.9 -1-3.2 2-4.8 -.1-3.2 1.2-3.2 -3.2-8.4 4.8,1 1.5,2.6 1.7,.7 1.1-.7 -.3-1.6 -2.7-3.2 5.1-1.8 1.6-2 1.6,0 1.6-.9 1.6-3.3 1.6-.1 .5,1.7 -.7,4.8 .4,1.6 4.6,3.1 1.6,2.5 1.6-2.6 .4-3 -.4-.8 -1.7-.8 -.4-1.6 2.1-.8 4.8,.1 6.4-1.4 2.1,.5 2.3,8 .4,3.5 1.6,.8 3.2,0 3.2,1.7 1.6-1.2 .6-3.2 1-1.1 3.6,1.1 1.3,1.6 0,3.2 -1.7,7.6 -1.6,1.1 -1.6,.2 -4.8-2.2 -1.6,.1 -3.2,3.6 -6.4-.5 -4.8,2.1 -3.2,0 -4.8,1.3 -8.1-2.1 -1,1.6 .2,1.6 5.7,9.6 0,1.6 -3.1,3.2 -3.3,1.6 -6.4,.9 -3.2-4 -1.6,.5 -1.6,1.8 0,2.4 -.8,1.6 -5.6,2.2 -4.8,3.1 -9.6,4.1 -3.2,2 -4.8,1.3 -3.2-.1 -4.8,1.1 -1.1-.9 .6-3.2 -2.7-2.9 -1.6-.2 -3.8,3.1 .2,3.2 -1.2,2.2 -1.6,.9 -3.2-.3 -2-1.2 1.2-4.8 -2.4-2.1 -1.6-.1 -1.6,1.9 0,1.4 1.6,3.2 2.2,2.1 -.2,1.6 -.9,1.6 -2.7,1.5 -6.4-2.2 -3.2-2.5 -1.2,1.6 .8,3.2 -1.2,.3 -4.8-5.7 -1.6,.4 -4.4,5 1.2,3.2 2.6,1.6 1.3,1.6 -.1,11.2 -.6,1.1 -1.6,.7 -3.2-1.4 -3.2,.2 -1.8,1 -1.3,1.6 1.5,5.9 1.6,1.2 3.2,.1 4.8-3 1.9,2.2 .2,3.2 -3.7,1.5 -2.3,3.3 -.9,4.2 -1.8,3.8 .8,4 -7.4,0 1.1-2.4 2.6-1.6 1.1-6.4 2.2-6.4 -5.3,0 .4-4.8 -1.1-4.8 1.1-1.6 5.1-3.2 1.9-4.8 2.5-3.2 -1.6-.8 -1.6,2.3 -1.6-.7 -1.2-2.4 2.4-3.2 -1-3.2 .5-1.6 2.6-1.6 3.1-5.2 1.6-.3 3.2,2 3.8,.3 4.2,2.7 1.6,.2 2.7-1.3 .3-1.6 -1.2-4.8 3-5.4 1.6-.4 1.6,.8 1.6,2.1 4.8,1.1 1.6-.3 3.2-2.6 1.6,.5 4.8,3.5 3.2,1.3 3.2,.3 11.2-3.7 9.6-5 4.8-1.8 1.5-1.6 1-3.2 2.3-2 1.6-.4 1.6,.6 1.6,2.3 1.6,.6 3.2-.6 3.5-2.1 .7-1.6 -.2-1.6 -2.9-3.2 .9-3.2 -2-6.5 -3.2-.4 -3.2,1 -1.6,2.7 -1.6,.8 -6.4,.7 -3.2-1.7 -3.2-3.4 -1.6-1 -3.3-.2 -1.5-1.3 -1.1-3.5 -2.8-1.6 2.6-3.2 -.3-3 -1.6-1.4 -4.8-.9 -4.7,.5 -1.5,1.6 .4,1.6 -1.1,1.6 -2.7,1.9 -1.6,.3 -1.3-2.2 1.3-1.5 4.5-1.7 .3-1.6 -1.6-1.1 -6.4-.8 -8-5.2 -3.2,.1 -1.6,.6 -1.6,2.1 -1.6,.1 -6.4-6.2 -8-3.5 -4.8-.4 -3.2,1.5 -1.6,0 -4.8-.9 -9.6-.5 -2.6,3 -3.8,2 -4.8-1.6 -6.4-.1 -3.2-1.3 -5.4,2.6 -4.2,2.9 -4.8,.9 -4.8-2.3 -1.6,0 -3.2,1.3 -4.8-3.4 -3.2-.6 -.7,1.2 -.1,3.2 -.8,1.4 -1.6,.6 -4.4-.4 -3.7-3.2 -.6-1.6 1.1-3.2 -1.2-1.6 -8.8-4.4 -2.7-2 -1.3-3.2 -2.6-3.2 -1.4-4.1 -1.6-.8 -6.4-.2 -1.8-2.9 -.2-1.6 1.9-3.2 -7.9-2.5 -3.4-3.9 .2-1.9 9.6-3.6 .5-.9 -.5-2.8 -4.8-6.8 -5.2-4.8 -2.2-1.6 -3.8-1.1 -6.4-5.7 -4.8-.6 -6.4,1.8 -1.6,1.6 -1.1,2.4 -3.4,3.2 -.3,3 -.9-1.4 .5-1.6 -.6-1.6 -3.9-3.2 -1-1.6 -.5-2.6 -.6,4.2 -1.3,1.6 -2.9,1.1 -1.6,0 -4.8-5.1 -1.6-.8 -1.6-.4 -5,.4 -.5-1.6 .5-1.6 3-3.2 -.9-1.6 -3.5-.7 -3.2,.2 -1.6,.6 -1.6,1.6 -2.7,6.3 -.4,1.6 1.9,4.8 -2,1.7 -1.6-.1 -1.5-1.6 -1.6-4.8 1.6-3.2 -1-1.6 -7.1-.7 -3.2,.7 -2.2,1.6 -1.4,3.2 -1.2,1.1 -3.2,1.5 -4.8-5 -3.3-.8 -1.5-1.6 .4-1.6 4.4-2.4 1.6-2.4 0-2.3 -1.6-1.6 -3.2,.3 -2.9,2 .8,3.2 -1.1,1.2 -6.4,.8 -3.2,3.3 -1.9-.5 -.2-4.8 -1.1-1.6 -1.6-.7 -3.2-.1 -4.8-2.2 -1.6,.1 -.4,1.3 -1.2,.9 -6.4-.4 -8-3.7 -1.6,.6 -.7,1 -.2,3.2 -.9,1.6 -4.2,3.2 -2,3.6 0-5 3.2-.2 2-1.6 .8-1.6 -.9-3.2 .5-1.6 6.8-3.2 2-1.6 1.3-1.6 .3-2.3 1.6-.8 1.6,1.3 3.2-.4 3.3,7 3.1,2.6 3.2,1.2 2.8-.6 .6-1.6 -2-4.8 3.4-2.4zM165.8,660.7l-3,3.2 -.7,3.2 1.9,3.2 1.4,1.4 1.3,.2 2.5-1.6 .1-6.4 -2.3-4.6zM174.8,667.1l-.5,1.6 .7,1.6 3.2,2.6 1.6-.1 1.6-1.9 .4-2.2 -.5-1.6 -1.5-1.4 -3.2,.1zM139.3,670.3l-.6,1.6 .5,1.6 .6,.6 1.6,.1 .8-.7 -.8-2.7 -1.6-.9zM433,734.3l-2.3,1.6 -2.8,8 -1.7,1.2 -4,.4 .8-.4 .7-2.8 -.9-1.6 -3-1.1 -1.6,.8 -1.6,3 -3.2-1 -1.6,2.2 -1.6,.5 -4.8-.6 -1.4,9 -2.1,3.2 -.4,1.6 .7,1.8 1.6,0 4.8-2.2 3.2-5.7 3.2-1.9 1.6,0 .9,1.6 .4,3.2 1.2,1.6 7.1,1.9 8-.8 4.8-1.6 4.8-.4 1.6-.6 3.2-2.7 1.6-.2 3.2,1.9 1.6,.2 1.6-.9 .4-1.6 -.4-1.2 -1.6-1.3 -4.8-1.3 -1.6-1.6 -5.6-1 -.7-1.6 .2-3.2 -2.5-6.4 -2.6-.6zM122.2,644.6l1.6,.5 1,1.2 0,1.6 -.8,3.2 -1.8,.2 -2.8-3.4 .1-1.6 1.1-1.3zM136.6,644.8l3.2,.9 1.4,2.2 -1.4,2.6 -3.2,.7 -1.6,2 -.8-2.1zM74.2,659.1l1.6-.6 1.6,.4 7.7,3.4 -.3,1.6 -1,.8 -4.8,2.1 -4.8,.9 -1.6-.3 -2.6-1.9 .1-1.6zM73.9,662.3l-2,1.6 .4,1.6 1.9,.2 2.6-1.8 .6-.8 1.6,.2 .7-1zM191,670.1l3.2,1.6 1,1.8 -.1,1.6 -3.4,1.6 -2.3,0 -1.6-3.2 .1-1.6 1.5-1.6zM189.2,671.9l-.4,1.6 .6,1.7 1.6,.7 2.5-.8 .4-1.6 -1.3-1.8 -1.6-.5zM88.6,684.5l1.6-1 1.6,.9 .6,1.9 -.9,1.6 -1.3,.9 -1.6-.5zM59.8,731l6.4,2.2 4.1,2.7 6.9,6.4 1.8,3.2 -.4,1.6 -9.2,8.7 -3.2,2 -6.4,2.2 -1.6,.2 0-.9 8-2.4 4.6-3.4 2.9-4.8 1.3-4.8 -3-4.8 -3.2-3.2 -4.2-2.6 -6.4-1.4 0-.8zM283.8,736.1l1.6,.4 .4,1 -1.2,1.6 -1.2,0 -.7-1.6zM98.2,740.3l3.2-.8 4.7,1.2 3.9,1.6 .3,1.6 -1.3,3.2 -1.2,1.1 -6,2.1 -3.6,.5 -3.2,.2 -2.7-.7 -6.1-3.2 -.3-1.6 2.7-4.5 4.8,.3zM101.2,742.3l-5.5,1.6 -.4,1.6 2.9,1.5 3.2-.5 4.8-.9 .3-1.7zM373.4,749.8l1.6-.5 1.6,.6 2.4,2 -2,3.2 -2,1.3 -1.6,.1 -3.2-1.9 -.2-1.1zM372.9,751.9l-.6,1.6 .9,1.6 1.8,.4 1.6-1 .8-1 .1-1.6 -.9-.9 -1.6-.5zM434.2,749.4l1.6-.5 1.4,1.4 -1.4,1.7 -1.6,.3 -.7-.4 -.2-1.6zM392.6,751.2l2.3,.7 -.7,1.8 -1.6-.7 -.5-1.1zM365.4,772.3l1.6,1 .4,1 -.4,3.1 -1.6,1.5 -1.6,.2 -1.6-.9 -.4-2.3 2-2.6zM363.7,774.3l-1.1,1.6 .1,1.6 1.1,.9 1.6-.1 .9-.8 .3-3.2 -1.2-1zM311,802.9l1.6,.2 1.1,1.6 -1.1,1.7 -1.6,.4 -1-.5 -.4-1.6zM661.4,810.7l4.6,2.2 0,2.9 -3,.6 -3.2,2.6 -3.2,1.3 -2.8,2 -2,2.8 -.7,3.6 .5,1.6 3.4,4.7 1.6,.7 3.2-.6 .9-1.6 -1.4-3.2 .1-1.6 2-6.5 1.6-1 3,0 0,11.7 -4.6,2.2 -1,3.2 1,1.7 4.6,.9 0,7.8 -1.6,0 1.4-4 -2.8-.7 -4.8-2.3 -3.2-.5 -3.2-2.5 -1.6,1.4 -1.7,3 -1.5,1.6 -3.5,1.6 -1.6,2.4 -12.2,0 .3-2.4 4.7-3.2 3.4-6.4 -.7-2 -1.6-.7 -3.2,2.5 -.9-1.4 .3-1.6 4.8-6.4 0-3.2 -1.6-6.4 2.2-1.4 3.2-.2 4.8,1.7 1,3.1 -.3,1.6 -2.2,3.2 .2,1.6 2.9,1.9 1.6-.5 .9-1.4 1-4.8 4.5-3 1.3-1.8 -.1-1.6 -1.1-1.6 1.1-1.6zM639.8,831.9l.8,2.2 1.6,.7 3-1.3 -.3-1.6 -2.7-1.6 -1.6,.4zM650.2,811.8l1.6-.2 1.8,1.1 -1.8,1.6 -1.9,0 -.7-1.6zM306.2,817.1l1.6,.5 3.1,3.1 -.8,3.2 1.4,4.8 -1,3.2 3.7,3.2 -1.6,4.1 -1.6,.4 -3.2-.8 -1.6-.2 -3.2,1.2 -.9-1.5 2.5-2.3 2.5-4.1 -3.2-4.8 .2-8 .8-1.6zM305.9,819.1l.1,4.8 -1,3.2 2.8,2.9 1.6-.1 .7-1.2 0-1.6 -1.8-3.2 1.4-3.2 -1.9-1.9zM306.8,835.1l0,1.6 2.6,1.2 1.6,0 1.3-1.2 -.6-1.6 -2.3-1.4 -1.6,.2zM59.8,827.7l6.4,1.6 3.2,2.3 4.1,5.1 1,4.8 1.3,1.5 4.8,1.8 1.5,1.5 .7,2.4 -1.5,0 -1-2.4 -1.3-.8 -3.2,.2 -1.1,3 -4.9,0 2.1-8.8 -.8-3.2 -3.3-4.8 -1.6-1.2 -4.8-1.3 -3.2,.2 0-1.9zM130.2,831.8l4.8,3.6 3.2,.8 .6,2.1 2.6,2 3.2,.1 3.2-2.9 1.6-.1 1.5,2.5 -.1,1.6 -1.4,1.1 -3.2,.8 -.7,1.3 -.1,4 -2.4,0 -.3-2.4 -1.3-1.6 -8-3.4 -8-.2 -3.2-1 -4.8,1 -3.2-1.2 -3.2,.8 -2,2.4 -2.7,5.6 -10.7,0 1-2.5 9.6-4.8 3.5-3.1 4.5-2.5 9.6,1.8 4.8-.4 .9-.5 .4-1.6zM291.8,838.1l1.6-.6 1.2,.8 -1.2,1.9 -1.6,.2 -.5-.5zM229.4,840.4l1.6-.5 1.6,.3 .7,1.3 -.3,7.2 -1,0 .6-5.6 -.6-1.6 -1-.5 -1.6,1 -1.1,6.7 -1.5,0 1.2-7.2zM216.6,847.9l1.6-.7 1.5,1.5 -1.5,0 -2.4,0z" fill="#A8FFA8" stroke="#A8FFA8" stroke-width="0.6"/>
<path d="M66.2,653.3l1.6-.6 8,3.7 6.4,.4 1.2-.9 .4-1.3 1.6-.1 4.8,2.2 3.2,.1 1.6,.7 1.1,1.6 .2,4.8 1.9,.5 3.2-3.3 6.4-.8 1.1-1.2 -.8-3.2 2.9-2 3.2-.3 1.6,1.6 0,2.3 -1.6,2.4 -4.4,2.4 -.4,1.6 1.5,1.6 3.3,.8 4.8,5 3.2-1.5 1.2-1.1 1.4-3.2 2.2-1.6 3.2-.7 7.1,.7 1,1.6 -1.6,3.2 1.6,4.8 1.5,1.6 1.6,.1 2-1.7 -1.9-4.8 .4-1.6 2.7-6.3 1.6-1.6 1.6-.6 3.2-.2 3.5,.7 .9,1.6 -3,3.2 -.5,1.6 .5,1.6 5-.4 1.6,.4 1.6,.8 4.8,5.1 1.6,0 2.9-1.1 1.3-1.6 .6-4.2 .5,2.6 1,1.6 3.9,3.2 .6,1.6 -.5,1.6 .9,1.4 .3-3 3.4-3.2 1.1-2.4 1.6-1.6 6.4-1.8 4.8,.6 6.4,5.7 3.8,1.1 2.2,1.6 5.2,4.8 4.8,6.8 .5,2.8 -.5,.9 -9.6,3.6 -.2,1.9 3.4,3.9 7.9,2.5 -1.9,3.2 .2,1.6 1.8,2.9 6.4,.2 1.6,.8 1.4,4.1 2.6,3.2 1.3,3.2 2.7,2 8.8,4.4 1.2,1.6 -1.1,3.2 .6,1.6 3.7,3.2 4.4,.4 1.6-.6 .8-1.4 .1-3.2 .7-1.2 3.2,.6 4.8,3.4 3.2-1.3 1.6,0 4.8,2.3 4.8-.9 4.2-2.9 5.4-2.6 3.2,1.3 6.4,.1 4.8,1.6 3.8-2 2.6-3 9.6,.5 4.8,.9 1.6,0 3.2-1.5 4.8,.4 8,3.5 6.4,6.2 1.6-.1 1.6-2.1 1.6-.6 3.2-.1 8,5.2 6.4,.8 1.6,1.1 -.3,1.6 -4.5,1.7 -1.3,1.5 1.3,2.2 1.6-.3 2.7-1.9 1.1-1.6 -.4-1.6 1.5-1.6 4.7-.5 4.8,.9 1.6,1.4 .3,3 -2.6,3.2 2.8,1.6 1.1,3.5 1.5,1.3 3.3,.2 1.6,1 3.2,3.4 3.2,1.7 6.4-.7 1.6-.8 1.6-2.7 3.2-1 3.2,.4 2,6.5 -.9,3.2 2.9,3.2 .2,1.6 -.7,1.6 -3.5,2.1 -3.2,.6 -1.6-.6 -1.6-2.3 -1.6-.6 -1.6,.4 -2.3,2 -1,3.2 -1.5,1.6 -4.8,1.8 -9.6,5 -11.2,3.7 -3.2-.3 -3.2-1.3 -4.8-3.5 -1.6-.5 -3.2,2.6 -1.6,.3 -4.8-1.1 -1.6-2.1 -1.6-.8 -1.6,.4 -3,5.4 1.2,4.8 -.3,1.6 -2.7,1.3 -1.6-.2 -4.2-2.7 -3.8-.3 -3.2-2 -2.1,.7 -2.6,4.8 -2.6,1.6 -.5,1.6 1,3.2 -2.4,3.2 1.2,2.4 1.6,.7 1.6-2.3 1.6,.8 -2.5,3.2 -1.9,4.8 -5.1,3.2 -1.1,1.6 1.1,4.8 -.4,4.8 5.3,0 -2.2,6.4 -1.1,6.4 -2.6,1.6 -1.1,2.4 -1.2,0 -1.3,0 -.6-2.4 -2.1-4.8 -.8-.6 -1.6-.7 -4.8,1.2 -2.6-1.5 -.8-1.6 5.3-6.4 -2.4-6.4 .5-1.6 -.5-3.2 .8-3.2 1.3-1.2 1.6-.3 1.6,.5 6.4,5.4 .8-1.2 4.9-3.2 1.1-1.6 .5-3.2 -3.2-6.4 2.9-1.6 -.1-1.6 -4.6-3.2 7.3-2.3 1-.9 1.2-3.2 2.6-2.3 1.6-.2 4.8,2.6 6.4,.9 1.6-.7 .6-3.5 2.6-5.6 1.6-1.3 6.6,.5 3,2.7 1.6-.2 1.6-1.8 1.6-.4 4.8,3.2 9.6,1.5 9.6-3.1 4.1-1.9 2.3-1.7 6.4-1.8 1.9-1.3 1.3-3.2 3.2-2.7 1.6-.5 1.6,.3 3.2,2.3 1.6-.2 2.9-2.4 -2-3.2 -.2-1.6 1.5-4.8 -1.1-3.2 -1.1-.7 -1.6,0 -1.6,.6 -4.2,3.3 -5.4,1.1 -4.8-2.3 -4.8-4.2 -4.7-1 -1.7-3.3 -1.6-.9 -1.6-.2 -1.6,.9 -4.8,4 -1.6,.4 -3.2-.8 -2.1-1.7 -.5-3.2 -3.1-3.2 -1.1-6.4 -1.3-1.6 -6.3-3.3 -3.2,.4 -1.6,2.4 -3.2-.6 -6.4-6.7 -8-3.2 -4.8-.2 -3.2,1.7 -3.2-1 -3.2-.3 -4.8,2 -1.6-2 -1.6-.3 -1.6,.4 -6.4,4.5 -6.4-2.6 -4.8,.2 -3.2-.5 -2.8,1.1 -1.4,1.6 1.8,1.6 .3,1.6 -1.1,2.1 -1.6,.6 -3.2-3 -6.4,1.5 -4.8-2.2 -3.2,1.1 -1.6-.4 -3.2-2.9 -3.2-1.5 -1.5,1.5 -.2,1.6 -1.5,2.2 -6.4,.4 -4.5-4.2 -.6-1.6 .1-3.2 -1.2-1.6 -6.6-2.7 -4.8-3.7 -5.3-9.6 -2.7-.5 -3.3,.5 -2.8-4.8 -.2-4.8 -1.7-.5 -3.2,.3 -2.2-3 -2.6-1.9 -.9-1.3 0-1.6 5.8-9.6 .2-1.6 -6.7-7.3 -4.8-1.6 -3.2-2.4 -.3,3.3 -1.3,1.5 -6.4,1.4 -1.7-1.3 -1.5-4.6 -1.6-.9 -4,3.9 -.8,4.1 -1.6,1.2 -2.2-2.1 -.8-4.8 -1.8-1.1 -8,1.9 -6.4-5.4 -8-.3 -1.8-6.3 -1.4-.2 -1.6,.7 -2.3,4.3 -.6,1.6 1.2,4.8 -1.1,1.6 -3.6,1.2 -1.6-1.3 -2.8-4.7 -3.6-1.9 -3.2-3.2 -1.8,.3 -2.6,4.8 -5.3,3.2 -1.5-.3 -3.2-4.3 -1.6-.8 -1.6,.3 -1.6,1.9 -1.6,.7 -2.3-2.3 -2.5-4.9 -4.8,1.9 -2.6-.2 -1.1-1.6 -1.1-3.9 -1.6-.1 -3.2,1.4 -3.2,4.5 -4.8,2.5 -6.4,1.3 -3.2-1.4 -2.5-2.7 0-1.6 1.8-3.2 -2.5-2 -1.6,0 -4.8,4.2 -3.2,5.7 0-2.7 .7-2 1.3-1.6 4.2-3.2 .9-1.6 .2-3.2zM74.2,659.1l-4.1,4.8 -.1,1.6 2.6,1.9 1.6,.3 6.4-1.4 4.2-2.4 .3-1.6 -7.7-3.4 -1.6-.4zM189.7,670.3l-1.8,1.6 .3,3.2 1.2,1.6 3.2-.2 2.5-1.4 .1-1.6 -2.6-3zM282.7,737.5l1.1,1.9 1.6-.9 0-2 -1.6-.4zM376.6,743.9l-1.6,3.2 1.6,1.6 3.2,.6 1.6-1.6 .9-.6 -.5-1.6 -3.6-1.6zM373,750.3l-3,3.2 .4,1.6 3,1.4 3.2-1 1.8-2 .6-1.6 -1.7-1.6 -2.3-1zM304.9,817.5l-.8,1.6 -.2,8 3.2,4.8 -2.5,4.1 -2.5,2.3 .9,1.5 3.2-1.2 3.2,.6 3.2,0 1.6-4.1 -3.7-3.2 1-3.2 -1.4-4.8 .8-3.2 -3.1-3.1 -1.6-.5zM312.2,823.9l.4,2.5 1.6,2.1 1.1-1.4 .3-1.6 -1.4-2.8 -1.6,.4zM79,672.7l4.1,.8 -.9,1.8 -1.6,.6 -2.3-.8 -.5-1.6zM90.2,681.4l1.6,.6 1.7,4.3 -.7,1.6 -1.8,1.6 -2.4,1.2 -.9-1.2 -.5-3.2 .4-3.2 1-1.2zM88.5,684.7l.1,3.6 1.6,.5 1.6-1.2 .6-1.3 -.6-1.9 -1.6-.9zM59.8,730.1l6.4,2.2 9.6,5.8 4.8,1.4 3.2,.1 3.2-1 6.4,.6 8-2 11.4,3.5 1.3,1.6 -3.1,6 -6.4,4.1 -9.6,1 -9.6-1.7 -4.8-.7 -3.2,.5 -9.6,6.4 -9.6,3.2 0-.9 6.4-1.8 4.8-2.6 9.2-8.7 .4-1.6 -1.8-3.2 -6.9-6.4 -5.7-3.4 -3.2-1.1 -3.2-.3 0-1zM96.7,740.7l-3.3,.6 -4.8-.3 -2.7,4.5 .3,1.6 7.2,3.6 6.4-.1 8-2.4 2.1-2.7 .1-3.2 -8.6-2.8zM434.2,734.1l4.8-.4 1,.6 2.5,6.4 -.2,3.2 .7,1.6 5.6,1 1.6,1.6 4.8,1.3 1.6,1.3 .4,1.2 -.4,1.6 -1.6,.9 -1.6-.2 -3.2-1.9 -1.6,.2 -3.2,2.7 -1.6,.6 -4.8,.4 -4.8,1.6 -8,.8 -7.1-1.9 -1.2-1.6 -.4-3.2 -.9-1.6 -1.6,0 -3.2,1.9 -3.2,5.7 -4.8,2.2 -1.6,0 -.7-1.8 .4-1.6 2.1-3.2 1.4-9 4.8,.6 1.6-.5 1.6-2.2 3.2,1 1.6-3 1.6-.8 3,1.1 .9,1.6 -.7,2.8 -.8,.4 4-.4 1.7-1.2 2.8-8zM433.6,735.9l-2.6,3.6 -1.7,4.4 -1.5,2.2 -1.6,1 -.4,1.6 3.6,2.7 4.8-3.5 1.6-.2 1.6,.6 1.5,2 -.5,1.6 -1.8,1.6 .8,1.5 7.7-1.5 3.3-3.2 -.1-1.6 -1.3-1.1 -3.2-.3 -1.6-.7 -1.2-2.7 -.1-4.8 -1.9-2.8 -3.2-.9zM433.3,750.3l.2,1.6 .7,.4 1.7-.4 1.3-1.6 -1.4-1.4zM406.2,755.1l-2.9,1.6 -.7,1.6 1.9,0 2-1.6 .7-1.6zM264.6,740.1l1.6-.3 2.5,2.5 -.3,1.6 -.6,.2 -3.4-1.8 -.5-1.6zM315.8,740.2l1.6-.2 2.1,.7 -.5,1.9 -2.1-.3 -1.6-1.6zM363.8,772.2l1.6-.8 1.6,.8 .9,2.1 -.3,3.2 -.6,1.1 -1.6,.9 -3.2,.2 -1.4-2.2 1-3.2zM364.8,772.7l-2.6,2.5 -.5,2.3 2.1,1.6 1.6-.2 1.6-1.4 .4-3.2 -1.2-1.6zM264.6,786.4l.6,3.9 -2.2,2.6 -.5-1 .3-1.6zM234.2,796.5l3.2-.6 1,.8 -.2,1.6 -1.4,1.6 -1,.8 -1.6-1.6 -.6-2.4zM311,801.4l1.6,0 1.6,1.1 2.3,2.2 .4,1.6 -4.3,1.5 -1.6,.5 -1.5-.4 -1.4-1.6 1.1-3.2zM310.8,803.1l-1.2,1.6 .4,1.6 1,.5 1.8-.5 .9-1.6 -1.1-1.6zM234.2,803l1.6,.6 .7,2.7 -.7,1.7 -1.6-.1 -2-1.6 0-1.6zM666,815.8l0,5.4 -3,0 -1.6,1 -2,6.5 -.1,1.6 1.4,3.2 -.9,1.6 -1.6,.5 -1.6,.1 -1.6-.7 -3.4-4.7 -.5-1.6 1.3-4.8 4.2-3.6 3.2-1.3 3.2-2.6zM59.8,825.9l6.4,1.9 3.2,1.8 5.2,5.5 2.8,5.5 6.4,3.6 4.8,1.5 1.6-.1 1.9-2.5 2.9-2.2 17.9-7.4 2.9-.5 6.4,.8 2.6-.3 1.8-3.2 3.5-1.6 3.3,0 3.2,1.5 3.2,.6 3.8,2.7 2.6,.9 1.6-.6 3.2-3.8 3.5,1.9 .5,1.6 -.7,4.8 2.1,3.2 -.6,2.1 -4.8,2.7 -.2,2.4 -5.4,0 .1-4 .7-1.3 3.2-.8 1.4-1.1 .1-1.6 -1.5-2.5 -1.6,.1 -3.2,2.9 -3.2-.1 -2.6-2 -.6-2.1 -3.2-.8 -4.8-3.6 -.3,3.3 -.4,1.6 -.9,.5 -4.8,.4 -9.6-1.8 -4.5,2.5 -3.5,3.1 -9.6,4.8 -1,2.5 -12.8,0 -.7-2.4 -1.5-1.5 -4.7-1.7 -1.4-1.6 -1-4.8 -3.8-4.8 -3.5-2.6 -8-1.6 0-2.2zM640.6,830.7l1.6-.4 2.7,1.6 .3,1.6 -1.4,1 -1.6,.3 -1.6-.7 -.8-2.2zM247,832.6l1.6-.2 1.6,1.1 -1.1,1.6 -.5,.3 -1.6-.8 -.7-1.1zM666,832.9l0,8 -4.6-.9 -1-1.7 1-3.2zM291.8,836.5l1.6-.5 1.6,.5 1.7,1.8 -2.5,3.2 -.4,1.6 1.2,3 1.6,1.6 4.8-.3 1.5,1.3 -11.1,0 -1.5-5.6 -1.3-1.6 .3-1.6zM291.6,838.3l-.3,1.6 .5,.5 2-.5 .8-1.6 -1.2-.8zM227.8,839.6l4.8-.6 1.3,.9 .6,4.8 -.7,4 -.8,0 .5-5.6 -.9-2.9 -1.6-.3 -3,1.6 -1.2,7.2 -1.4,0 1.1-4 -.3-3.2 .8-1.6zM277.4,840.2l2.9,1.3 -.2,1.6 -1.1,.3 -2.8-1.9zM207,844.3l1.6-1 1.6,.1 3.2,2.7 1.6,.6 3.2-1 1.6,.8 1.2,2.2 -1.2,0 -1.6-1.5 -2.4,1.5 -6.7,0 -2.5-4z" fill="#6CFF6C" stroke="#6CFF6C" stroke-width="0.6"/>
<path d="M66.2,658.7l1.6,0 2.5,2 -1.8,3.2 0,1.6 .9,1.4 4.8,2.7 6.4-1.3 4.8-2.5 3.2-4.5 3.2-1.4 1.6,.1 1.1,3.9 1.1,1.6 2.6,.2 4.8-1.9 2.5,4.9 2.3,2.3 1.6-.7 1.6-1.9 1.6-.3 1.6,.8 3.2,4.3 1.5,.3 5.3-3.2 2.6-4.8 1.8-.3 3.2,3.2 3.6,1.9 2.8,4.7 1.6,1.3 3.6-1.2 1.1-1.6 -1.2-4.8 .6-1.6 2.3-4.3 1.6-.7 1.4,.2 1.8,6.3 8,.3 6.4,5.4 8-1.9 1.8,1.1 .8,4.8 2.2,2.1 1.6-1.2 .8-4.1 4-3.9 1.6,.9 1.5,4.6 1.7,1.3 6.4-1.4 1.3-1.5 .3-3.3 3.2,2.4 4.8,1.6 6.7,7.3 -.2,1.6 -5.8,9.6 0,1.6 .9,1.3 2.6,1.9 2.2,3 3.2-.3 1.7,.5 .2,4.8 2.8,4.8 3.3-.5 2.7,.5 5.3,9.6 4.8,3.7 6.6,2.7 1.2,1.6 -.1,3.2 .6,1.6 4.5,4.2 6.4-.4 1.5-2.2 .2-1.6 1.5-1.5 3.2,1.5 3.2,2.9 1.6,.4 3.2-1.1 4.8,2.2 6.4-1.5 3.2,3 1.6-.6 1.1-2.1 -.3-1.6 -1.8-1.6 1.4-1.6 2.8-1.1 3.2,.5 4.8-.2 6.4,2.6 6.4-4.5 1.6-.4 1.6,.3 1.6,2 4.8-2 3.2,.3 3.2,1 3.2-1.7 4.8,.2 8,3.2 6.4,6.7 3.2,.6 1.6-2.4 3.2-.4 6.3,3.3 1.3,1.6 1.1,6.4 3.1,3.2 .5,3.2 2.1,1.7 3.2,.8 1.6-.4 4.8-4 1.6-.9 1.6,.2 1.6,.9 1.7,3.3 4.7,1 4.8,4.2 4.8,2.3 5.4-1.1 4.2-3.3 1.6-.6 1.6,0 1.1,.7 1.1,3.2 -1.5,4.8 .2,1.6 2,3.2 -1.3,1.6 -3.2,1 -3.2-2.3 -1.6-.3 -1.6,.5 -3.2,2.7 -1.3,3.2 -1.9,1.3 -6.4,1.8 -2.3,1.7 -5.7,2.5 -9.6,2.6 -3.2-1.2 -4.8-.4 -4.8-3.2 -1.6,.4 -1.6,1.8 -1.6,.2 -3-2.7 -6.6-.5 -1.6,1.3 -2.6,5.6 -.4,3.2 -1.8,1 -6.4-.9 -4.8-2.6 -2.7,.9 -3.7,5.7 -7.3,2.3 4.6,3.2 .1,1.6 -2.9,1.6 3.2,6.4 -.5,3.2 -1.1,1.6 -4.9,3.2 -.8,1.2 -6.4-5.4 -1.6-.5 -1.6,.3 -1.3,1.2 -.6,1.6 .1,8 1.8,3.2 .3,1.6 -5.3,6.4 .8,1.6 2.6,1.5 4.8-1.2 2.4,1.3 2.7,7.2 -10,0 -1.5-1.3 -4.8,.3 -1.6-1.6 -1.2-3 .4-1.6 2.5-3.2 -1.3-1.6 -2-.7 -1.6,.5 -1.6,1.8 -1.2,3.2 1.3,1.6 1.5,5.6 -2.3,0 -.7-4 -2.4-3.2 5.4-6.5 1.6-.3 4.8,1.8 1.6-.9 2.8-3.7 .2-1.6 -.7-1.6 -2.3-2.6 -1.7-.6 0-1.6 1.7-1.3 3.2-6.6 1.6-.8 3.2,.1 3.2,2.9 3.2,1 2.8-1.7 1.7-3.2 .4-3.2 -1.7-2.3 -3.2-.3 -3.2,1.4 -1.6-.5 -1.9-1.5 -.8-1.6 .4-1.6 2.3-3.5 5.3-2.9 7.1-1.6 1.9-1.6 1.7-3.2 3.2-2.4 1.6-.3 4.8,3.1 3.2-.2 3.2-1.2 4.8-7.9 1.6-.6 9.6-.7 1.2-1 1.2-4.8 1-1.6 3-3.7 1.6-.6 2.6,2.7 .4,3.2 -1.4,3.8 -4.1,1 -.6,1.6 1.6,1.6 3.1,2 1.6,.1 3.2-1.5 3.2,2 1.6,.1 8-1.8 8-4 6.4-1.5 2.2-3.4 4.2-3.5 1.6-.6 4.8,.6 .7-1.3 -.2-4.8 1.6-3.2 -.5-2 -1.6-.4 -1.6,.5 -3.2,2.5 -6.4,1.6 -4.8-2.9 -4.8-3.9 -4.8-1.1 -3.2-3.5 -1.6-.1 -4.8,3.4 -3.2,1.4 -3.2-.4 -2.9-1.5 -1-3.2 -3.3-4.8 -2.6-6.4 -3-1.6 -1.6,.7 -1.6,2.1 -1.6,.3 -6.4-4.2 -4.8-5.5 -8-2.7 -4.8-.3 -3.2,1.3 -3.2-1.1 -3.2-.1 -2.9,1.5 -1.9,2.5 -1.6,0 -1.6-2.7 -1.6-.6 -3.2,1.3 -3.2,2.7 -3.2-2.2 -3.2-1.1 -8,.9 -1.2,.8 -.1,3.2 -1.9,3 -1.6,.4 -3.2-2 -2.9,.2 -5.1,3.2 -3.2,3.4 -1.6-.2 -3.2-2.1 -3.7-1.1 .6-1.6 1.6-1.6 -.1-1.6 -3.2-2.5 -1.6-.3 -1.5,2.8 -1.7,1.4 -8,1 -3.9-5.6 -1.3-4.8 -2.8-1.5 -3.2-.8 -5.6-4.1 -2.8-3.2 -3.4-6.4 -4.2-.1 -1.6-1.1 -2.6-5.2 -.6-3.2 -3.2,.6 -1.6-.4 -1.7-3.4 -3.6-3.2 -1-1.6 -.1-1.6 3.8-6.4 .8-3.2 -1.4-3.3 -3.1-3.1 -1.7-.8 -3.2,1.7 -4.8-.6 -4.8,.6 -3-.9 -1.8-4 -1.6,.3 -1.3,2.1 -.3,4.8 -1.6,.9 -1.6-.3 -3.7-3.8 -1.7-3.2 -1-.3 -6.4,1.2 -1.6-.5 -3.2-3.7 -4.8-1.7 -4.8,1.1 -5.1,3.9 -3.7,1.6 -2.4,2.4 -1.6-.5 -3.2-6.4 -6.4-1.5 -6.4,2.4 -4.8,3.8 -1.6-.4 -1.6-2.6 -1.6-1 -8,3.4 -1.6,.1 -3.2-1.1 -3.2,2.9 -1.6,.3 -1.5-1.8 -2.2-4.8 .6-4.8 -1.7-1.7 -1.6,.1 -1,1.6 -.3,1.6 .8,3.2 -1.3,1.6 -6.2,4 -3.2-1.3 -3.2-3.9 -4.8-2.7 -3.2-5.9 -1.6-.8 -3.2,1.8 -1.7,4 -.8,4.8 -.7,.8 0-5.7 2.3-4.7zM146,668.7l.2,2.7 1.7-1.1 -.6-1.6zM97.9,670.3l-.8,3.2 1.1,1.4 1.6-.8 .1-.6 -.1-3.2 -1.6-.6zM77.8,673.5l1.2,2.1 1.6,.3 1.9-.8 .6-1.6 -.9-.5 -3.2-.3zM263.9,740.7l.5,1.6 4,1.6 .3-1.6 -2.5-2.5zM363.4,772.7l-2.5,3.2 .5,3.2 2.4,.7 2.6-.7 1.2-1.6 .3-1.6 -.5-3.2 -2-1.3zM310.9,801.5l-1.7,1.6 -1.1,3.2 1.3,1.6 1.6,.4 3.2-1.2 2.7-.8 -.4-1.6 -3.6-3.2zM296.2,841.5l-.6,1.6 1,2.1 1.6,.5 3.2-1 4.8,2 1.8-2 -.2-1.7 -1.6-.6 -3.2,1.1 -4.8-3zM61.4,678.6l1.9,1.3 -.7,1.6 -1.2,.9 -1.5-2.5zM88.6,679.7l3.2-.5 1.4,.7 1.3,4.8 -.5,3.2 -3.8,4 -1.6,2.2 -1.6-1.9 -1.4-7.5 .6-3.2zM89.7,681.5l-2.1,1.6 -.5,1.6 .6,4.8 .9,1.2 3.2-1.8 1.7-2.6 -.2-1.6 -1.5-2.7zM128.6,680.8l1.6-.5 .6,1.2 -.6,.5 -1.6,.1 -.7-.6zM67.8,682.8l1,.3 .6,1.8 -3.2,1.5 -2,3.1 -1.2,.8 -1.6-1 -.7-1.4 .7-3.9 1.6-.4 1.6,.4zM104.6,686.2l1.6,.4 1,1.3 -.2,1.6 .8,.5 1.2,2.7 -2.8,.8 -1.6,.2 -1.2-1 2.2-3.2 -1.3-1.6zM165.4,689l1.6-.4 1.6,.9 -.5,1.6 -1.1,.5 -1.2-.5zM59.8,729.1l6.4,2.2 4.8,2.5 9.6,2.9 12.8,.2 8-1.9 12.8,4.3 1.8,1.4 1.1,3.2 -3.3,6.4 -9.2,4.1 -9.6,1.3 -16-1.9 -17.6,7.6 -3.2,.6 0-.9 9.6-3.2 8-5.4 3.2-1.4 3.2,0 12.8,2.3 9.6-1 6.1-3.7 3.4-6.4 -1.5-1.7 -11.2-3.4 -8,2 -6.4-.6 -4.8,1.1 -4.8-.9 -11.2-6.5 -4.8-1.9 -3.2-.3 0-.9zM434.2,735.6l3.2,0 1.6,.7 1.9,2.8 .1,4.8 1.2,2.7 1.6,.7 3.2,.3 1.3,1.1 .1,1.6 -3.3,3.2 -7.7,1.5 -.8-1.5 .8-.5 1.5-2.7 -.9-1.6 -2.2-1 -1.6,.2 -4.8,3.5 -3.6-2.7 .4-1.6 1.6-1 1.5-2.2 1.7-4.4zM433.7,740.7l-1.3,1.6 -.1,3.2 6.7,1.7 .6-1.7 -.1-4.8 -.5-1.2 -3.2,.1zM314.2,738.1l6.3,2.6 -.1,1.6 -1.4,1 -1.6-.2 -4.1-2.4 -.1-1.6zM315.3,740.7l2.1,1.9 2.1-.3 0-1.6 -.5-.3 -1.6-.4zM376.6,743.9l1.6,0 3.6,1.6 .5,1.6 -1.8,1.6 -.7,.6 -1.6,0 -1.6-.6 -1.6-1.6zM407,754.9l-.5,1.8 -2.7,1.9 -1.2-.3 .7-1.6zM365.4,762.9l1.6-.8 .5,1 -2.1,3.2 -.7-1.6zM279,781.9l1.6-.2 .5,.6 -.5,2 -1.8,1.2 -1.4,1.2 -1.2-1.2zM264.6,784.5l1.6,.6 .7,5.2 -.8,1.6 -1.8,1.6 -1.3,3.3 -1.6,1.1 -1.6-.6 -1.6-2.2 3.2-3.9zM264.3,787.1l-1.8,4.8 .5,1 .9-1 1.3-1.6 -.1-3.2 -.5-.7zM235.8,788.1l3,.6 .1,1.6 -1.5,2.4 -1.6-.1 -1.5-2.3 .1-1.6zM229.4,793l1.6-.5 3.2,1.6 3.2-.4 1.7,1.4 .6,1.6 -.3,1.6 -2,3.2 0,6.7 -1.1,1.3 -5.2-1.6 -1.3-1.6 .5-1.6 2.9-3.2 -.6-2.4 -3.2-3.4zM233.6,796.7l.6,2.4 1.6,1.6 1.6-1.2 1-2.8 -1-.8zM234.1,803.1l-1.9,1.6 0,1.6 2,1.6 1.6,.1 .7-1.7 -.2-1.6 -.5-1.1zM203.8,794.4l1.6-.3 1.6,.6 1.1,2 -1.1,3.6 -1.6,.8 -1.6-.3 -2.2-2.5 0-1.6zM203.8,805l1.6,1.1 .2,3.4 -1.2,1.6 -2.2,1.1 -1.6,0 -1-1.1zM245.4,811.1l2.2,1.6 .2,1.6 -.8,1.6 -1.6,.6 -2.9-2.2 -1.9-.7 -1.6,.5 -1.3-1.4 1.3-1.5 1.6,.9 1.6,0 1.6-1zM59.7,822.3l1.7,1.7 8,3.3 8,7 3.2-.4 1.6,.6 3.2,3.7 3.2,.7 3.2-.8 8-4.4 6.4-.9 6.4-2 9.6-.5 3.2-2.1 9.6-3.5 11.2,2 1.6-1 1.6-3.2 1.6-.5 1.6,1.2 1.1,3.9 3,3.2 .7,6.4 1.6,2.3 3.2,1.5 1.6-.2 2.8-2 2-.6 3.2-.2 .6,.8 1.8,4.8 -1.7,3.2 -.4,2.4 -8.3,0 -13,0 .2-2.4 5.3-3.2 .1-1.6 -2.1-3.2 .7-4.8 -.5-1.6 -1.9-1.5 -1.6-.4 -3.2,3.8 -1.6,.6 -2.6-.9 -3.8-2.7 -8-2.2 -4.8,1.4 -1.6,3 -1.6,.9 -8-.9 -3.2,.6 -17.6,7.3 -2.9,2.2 -1.9,2.5 -1.6,.1 -4.8-1.5 -6.4-3.6 -2.8-5.5 -5.2-5.5 -3.2-1.8 -8-2.3 0-4.7zM232.6,823.8l1.6-1.3 1.6,.6 .3,2.4 -1.7,1.6 -1.8-1zM312.6,823.1l1.6-.4 1.4,2.8 -.3,1.6 -1.1,1.4 -1.9-3zM251.8,828.4l1.6-.5 1.8,2.4 -3.4,2.9 -1.6,3.1 -1.6,.9 -3.2-.2 -1.1,1.3 -2.1,.7 -6.4,.2 -1,9.5 -1,0 .7-4 -.3-3.8 -.3-1 -1.3-.9 -5.6,.9 -.8,1.6 .3,3.2 -1.1,4 -4.4,0 -1.2-2.2 -1.6-.8 -3.2,1 -1.6-.6 -3.2-2.7 -1.6-.1 -1.6,1 -.4,.4 2.5,4 -2.8,0 -2.5-1.7 -.9-2.3 1.2-1.6 4.5-1.4 3.2,.7 3.2,2.3 3.2-.4 1.6,.5 3.2,3 1.8-3.1 -1-4.8 1.2-1.6 1.2-.5 3.2,.4 4.8-.5 3.2-3.3 6.4,.7 .4-3.2 1.2-1.1 4.8-.1zM246.3,833.5l2.3,1.9 1.6-1.9 -1.6-1.1 -1.6,.2zM199,837.7l2.2,.6 .4,1.6 -1,1.7 -2.6-1.7 -.2-1.6zM274.2,838.2l4.8,1 3.1,2.3 .3,1.6 -1.8,1.5 -1.6,0 -6.9-3.1 .1-1.6zM276.2,841.5l2.8,1.9 1.1-.3 .2-1.6 -1.3-.9 -1.6-.4zM183,839.3l1.6,.6 .3,1.6 -1.8,3.2 .3,4 -2,0 -3.3,0 2.5-7.2zM245.4,846.6l1.6-.2 1.4,2.3 -1.4,0 -2.6,0z" fill="#58FF58" stroke="#58FF58" stroke-width="0.6"/>
<path d="M63,663.4l1.6-.5 1.6,.8 3.2,5.9 4.8,2.7 3.2,3.9 3.2,1.3 6.2-4 1.3-1.6 -.8-3.2 .3-1.6 1-1.6 1.6-.1 1.7,1.7 -.6,4.8 2.2,4.8 1.5,1.8 1.6-.3 3.2-2.9 3.2,1.1 1.6-.1 8-3.4 1.6,1 1.6,2.6 1.6,.4 4.8-3.8 6.4-2.4 6.4,1.5 3.2,6.4 1.6,.5 2.4-2.4 3.7-1.6 5.1-3.9 4.8-1.1 4.8,1.7 3.2,3.7 1.6,.5 6.4-1.2 1,.3 1.7,3.2 3.7,3.8 1.6,.3 1.6-.9 .3-4.8 1.3-2.1 1.6-.3 1.8,4 3,.9 4.8-.6 4.8,.6 3.2-1.7 1.7,.8 3.1,3.1 1.4,3.3 -.8,3.2 -3.8,6.4 .1,1.6 1,1.6 3.6,3.2 1.7,3.4 1.6,.4 3.2-.6 .6,3.2 2.6,5.2 1.6,1.1 4.2,.1 3.4,6.4 2.8,3.2 5.6,4.1 3.2,.8 2.8,1.5 1.3,4.8 3.9,5.6 8-1 1.7-1.4 1.5-2.8 1.6,.3 3.2,2.5 .1,1.6 -1.6,1.6 -.6,1.6 3.7,1.1 3.2,2.1 1.6,.2 3.2-3.4 5.1-3.2 2.9-.2 3.2,2 1.6-.4 1.9-3 .1-3.2 1.2-.8 8-.9 3.2,1.1 3.2,2.2 3.2-2.7 3.2-1.3 1.6,.6 1.6,2.7 1.6,0 1.9-2.5 2.9-1.5 3.2,.1 3.2,1.1 3.2-1.3 4.8,.3 8,2.7 4.8,5.5 6.4,4.2 1.6-.3 1.6-2.1 1.6-.7 3,1.6 2.6,6.4 3.3,4.8 1,3.2 2.9,1.5 3.2,.4 3.2-1.4 4.8-3.4 1.6,.1 3.2,3.5 4.8,1.1 4.8,3.9 4.8,2.9 6.4-1.6 3.2-2.5 1.6-.5 1.6,.4 .5,2 -1.6,3.2 .2,4.8 -.7,1.3 -4.8-.6 -1.6,.6 -4.2,3.5 -2.2,3.4 -6.4,1.5 -8,4 -8,1.8 -1.6-.1 -3.2-2 -3.2,1.5 -1.6-.1 -3.1-2 -1.6-1.6 .6-1.6 4.1-1 1.4-3.8 -.4-3.2 -2.6-2.7 -1.6,.6 -3,3.7 -1,1.6 -1.2,4.8 -1.2,1 -9.6,.7 -1.6,.6 -4.8,7.9 -3.2,1.2 -3.2,.2 -4.8-3.1 -1.6,.3 -3.2,2.4 -1.7,3.2 -1.9,1.6 -7.1,1.6 -3.7,1.8 -1.8,1.4 -2.5,4.8 1.1,1.9 3.2,1.7 3.2-1.4 3.2,.3 1.7,2.3 -1,4.8 -1.1,1.6 -2.8,1.7 -3.2-1 -3.2-2.9 -3.2-.1 -1.5,.7 -3.3,6.7 -1.7,1.3 0,1.6 3.3,2.1 1.4,2.7 -1.3,3.2 -1.7,2.1 -1.6,.9 -4.8-1.8 -1.6,.3 -1.6,1.5 -3.8,5 2.4,3.2 .7,4 -5.5,0 -.2-2.4 -1.6,.7 -1.6,0 -6.4-3.6 -3.2-.3 -.7-1.6 .7-1.9 1.6-2.3 1.6-.7 3.2,.4 6.4,3.2 3.2-1.7 1.6-2.2 .5-2.8 -5.8-3.2 -.2-1.6 2.3-3.6 1.6-.5 2.5,2.5 1.6,4.8 5.5,2 1.6,.2 1.6-1.4 .8-2.4 -1.2-1.6 -3.4-1.6 -.7-1.6 .2-1.6 4.3-4.4 1.7-3.6 1.5-1.4 4.8-.9 1.3-.9 -4.1-6.4 3.9-6.4 5.3-2.6 4.8-1.1 1.7-1.1 1.8-3.2 6.1-4.2 1.6-.3 3.2,2.7 1.6,.2 1.7-1.6 4.7-.3 1.6-1.5 1.6-3.4 1.6-1.6 8-.9 2.8-1.9 1.4-3.2 3.5-4.8 -.1-1.6 -3.3-3.2 .2-1.6 3.1-1.6 1-1.6 -.3-1.6 -3.4-1.6 -.6-1.6 2.1-1.9 3.2,.9 .7-2.2 -5.5-8.6 -1.6-.8 -4.8,1.3 -3.4-3.1 -3-1.7 -4.8-4.8 -4.8-1.2 -3.2-1.5 -3.2-.4 -4.8,.7 -4.8-.9 -3.2,.5 -2.2,2.9 .4,1.6 5.8,3.2 -.3,1.6 -2.1,1.6 -1.6-.2 -3.2-1.9 -3.2-.7 -.4-.4 1.4-3.2 -.2-1.6 -2.4-2.6 -3.2,.8 -1.6,2.8 -1.6,0 -3.2-2.4 -3.2-1 -5.7,.8 -2.3,1.8 -1.3,3 -1.9,2.2 -1.6,.3 -4.8-1.1 -1.6,.9 -3.2,4.4 -4.8,1.2 -10.3-4.7 -.1-1.6 1.9-1.6 -1.1-1.9 -1.6,.3 -1.6,2.1 -6.4,.9 -4.8,2.2 -1.6-.1 -1.7-1.9 .8-3.2 -.2-1.6 -2.1-5.4 -3.2-1.2 -3.2,.5 -3-3.5 -3.4-2.2 -1.6-.7 -3.2,.3 -2.1-.6 2.8-3.2 -.9-3.2 -1.4-1.6 -1.6-.2 -2.2-1.4 -2.3-4.8 -1.9-2 -3.2-1.2 -4.8-5.5 -4.1-2.5 .4-4.8 2.9-4.8 .3-1.6 -2.7-3.7 -3.2-.3 -4.8-1.4 -8-.2 -1.4,.8 -1.1,3.2 -.7,.4 -6-2 -3.6-3.4 -1.6-.6 -4.8,.3 -4.8-.9 -1.7-1.8 -4.7-.6 -3.2-2.4 -1.6,.4 -3.2,2.6 -4.8,1.1 -3.2,4.6 -1.6,.9 -3.2-3.3 -1.6,.4 -.5,1.1 -2.7,2.1 -1.6,.3 -2.2-.8 -.7-1.6 1.3-2.1 2.5-1.1 .8-1.6 -2.6-1.6 -2.3-.6 -2.1,.6 -2.8,3.2 -3.1,2 -1.6,.4 -1.6-.6 -3.2-2.3 -5.6,2.1 -1,1.6 5.8,4.8 .7,8 -1.5,.8 -6.4,.6 -4.8-1.4 1.6-.8 1-2.4 .3-6.4 -.6-1.6 -2.3-.6 -1.6,.6 -1.1,4.8 -4.4,4.8 -.9,4.2 -1.6,.2 -3.2-4.4 -.6-4.8 -.8-1.6 -5-.7 -1.3-2.5 .1-1.6 1-1.6 -3-1.8 -.5,3.4 -2.7,2.8 -.2,2 1.8,1.4 3.2,.9 .8,.9 -.3,1.6 -3.7,.4 -4.8-2.5 -1.6-.1 -4.8,3.2 -1.6-.7 -1.7-1.9 -1.4-3.2 -.1-12 .7-.8 .8-4.8 1.3-3.2zM61.3,668.7l0,6.4 1.7-.1 1.4-1.5 1.7-3.2 -3.1-3.1zM59.9,679.9l1.5,2.5 1.6-1.4 0-1.6 -1.6-.8zM88.2,679.9l-2,1.6 -.7,1.6 1.1,8 2,3 2.1-3 3.3-3.2 .6-1.6 -.4-3.2 -1-3.2 -1.4-.7zM127.9,681.5l.7,.6 2.2-.6 -.6-1.2zM66.6,683.1l-2,.9 -1.6-.4 -1.6,.4 -.7,3.9 .7,1.4 1.6,1 1.2-.8 2-3.1 3.3-1.7 -.7-1.6zM104.5,686.3l-.2,1.6 1.3,1.6 -2.2,3.2 1.2,1 3.2-.2 1.2-.8 -1.2-2.7 -.8-.5 .2-1.6 -1-1.3zM313.2,739.1l.1,1.6 4.1,2.4 1.6,.2 1.4-1 .1-1.6 -1.5-.9 -4.8-1.7zM378.6,756.7l-8.4,4.1 -2.4,3.9 -1.7,3.2 .1,1.6 2.5,3.2 .5,1.6 -.6,5.2 -.8,1.2 -2.4,.6 -1.1,1 2.7,1.8 3.2-2.2 4.8,2.6 1.6,.2 6.4-1 6.4-2.7 9.6-3.5 1-1.6 5.4-4.4 4.8-1.7 0-2.8 -1.6-2 -1.6-.1 -6.4,1.7 -1.6-.3 -1.2-1.6 -6.8-5.2 -4.8-1.4 -3.2-2.7 -1.6-.3zM365.2,763.1l-.5,1.6 .4,1.6 1.3-1.6 1.1-1.6 -.5-1zM313.2,811.1l-3.2,3.2 1,2.1 1.6,.5 1.2-1 2.1-4.8 -1.7-.6zM274,838.3l-1.8,1.6 .4,1.9 3.2,1 3.2,1.8 1.6,0 1.6-1.3 -.1-1.8 -3.1-2.3zM146.2,668.4l1.1,.3 .5,1.9 -1.6,.8 -.5-1.1zM98.2,669.7l1.6,.6 0,3.8 -1.6,.8 -1.1-1.4 .1-1.6zM162.2,684.4l7.9,3.5 1.2,1.6 -2.7,2.7 -1.6,.6 -1.6-.3 -3.2-2.1 -3.2,.8 -7.2-.1 2.4-2.3 1.3-2.5zM165.1,689.5l.7,1.6 1.2,.5 1.1-.5 .5-1.4 -1.6-1.1zM96.6,695.2l1.6-.9 .5,1.6 -.5,.5 -1.6,.8 -.7-1.3zM59.8,728.1l11.2,4.4 9.6,2.2 12.8-.1 6.4-1.8 1.6,.1 3.2,1.5 9.6,2.9 4.8,3 3.2,.9 4.8,3.6 .9,2.3 -.9,.8 -4.8-.6 -1.6,.7 -5.5,5.5 -10.5,2.9 -11.2,1.5 -14.4-1.8 -6.4,1.6 -8,3.5 -4.8,1.5 -1.6,.2 0-.9 9.6-3 9.6-5 4.8-.1 12.8,1.8 9.6-1.3 9.2-4.1 2.8-4.8 .3-3.2 -2.7-3 -12.8-4.3 -8,1.9 -12.8-.2 -9.6-2.9 -9.6-4.4 -3.2-.2 0-1.1zM218.2,731l1.6,.8 0,1.2 -1.6,.4 -.7-.7zM223,738.9l1.7,.2 -.1,2.7 -.9,.5 -.9,0 -.4-1.6zM434.2,740.2l4.8-.7 .5,1.2 .1,4.8 -.7,1.6 -6.6-1.6 .1-3.2zM261.4,750.1l1.6-.6 1.3,.8 .5,1.6 -1.2,1.6 -.6,.2 -1.6-1.3zM247,752.9l2.8,.6 -2.5,1.6 -1.3-1.6zM383,767.8l1.6-.7 3,.8 -.7,1.6 -.7,.2 -1.6,.4 -1.6-.5zM279,780.1l2.2,.6 1.2,1.6 0,1.6 -3.4,5.1 -1.6,1 -3.2-.3 -.8-1 .1-1.6 1.8-3.2zM278.6,782.3l-2.4,3.2 1.2,1.2 1.6-1.4 1.9-1.4 .2-1.6 -.5-.6zM264.6,783.4l1.6-.3 .6,.8 1,4.6 3.1,3.4 -1.5,1.1 -3.2,.9 -2.4,4.4 -3.4,3.2 2.3,1.6 .5,1.6 -3.4,.4 -2,1.2 -.6,1.6 .8,3.2 -.8,1.6 -7,2.1 -3,2.7 -4.9,1.6 -1.1,1.6 -.2,1.6 5.4,6.4 2.2,0 1.6-2.3 1.6-1.1 3.2,.7 2.1,2.7 .3,1.6 -.8,1.6 -3.2,1.8 -1.9,3 -.4,1.6 3.9,3.2 .1,1.6 -.6,1.6 -2.8,1.6 -1.1,2.4 -2.2,0 -1.4-2.3 -1.6,.2 -1,2.1 -2,0 .6-2.4 2-3.2 -1-1.6 -3.4-.7 -2.8,.7 -1.7,7.2 -1.3,0 .7-4 .1-4.8 .2-.7 6.4-.2 2.1-.7 1.1-1.3 3.2,.2 1.6-.9 1.6-3.1 3.4-2.9 -1.8-2.4 -1.6,.5 -1.6,2.3 -4.8,.1 -1.2,1.1 -.4,3.2 -6.4-.7 -3.2,3.3 -4.8,.5 -3.2-.4 -1.2,.5 -1.2,1.6 1,4.8 -1.8,3.1 -3.2-3 -1.6-.5 -3.2,.4 -4.8-3 -6.1,1.4 -1.2,1.6 .4,1.6 3,2.4 -22.9,0 -.3-4 1.8-3.2 -.3-1.6 -1.6-.6 -2.4,2.2 -2.5,7.2 -6,0 .4-2.4 1.7-3.2 -2.4-5.6 -4.8,.6 -3.2,2.2 -1.6,.2 -3.2-1.5 -1.6-2.3 -.7-6.4 -3-3.2 -1.1-3.9 -1.6-1.2 -1.6,.5 -1.6,3.2 -1.6,1 -11.2-2 -9.6,3.5 -3.2,2.1 -9.6,.5 -6.4,2 -6.4,.9 -9.6,5 -4.8-.5 -3.2-3.7 -1.6-.6 -3.2,.4 -8-7 -8.3-3.4 -2.9-3.1 0-2.2 1.8,.5 4.6,3.3 1.6,.4 3.2-2.2 4.8,1.3 .6,2 -.7,3.2 1.5,1.6 1.8,.8 4.8,.6 3.2,3.4 1.6,.4 1.4-.4 .7-1.6 -1.8-1.6 -.3-1.6 2.6,0 3.8,1.8 12.8-2.2 14.4-1.1 8-2.3 6.4-2.8 8-.7 4.8-3 4.8,1.2 4.8,2.5 3.2-.5 1.6,.4 3.2,2.8 1.6,.4 4.8-1.9 1,.6 .1,1.6 -1.8,3.2 .5,1.6 5,1.1 1.6,1.5 4.8,2.3 6.4-.3 8.8-1.4 0-4.8 .8-1.4 1.6-.6 1.6,.6 .7,1.4 -.2,1.6 -2.8,3.2 3.6,3.2 1.9,3 4.8-1 3.2,1.1 .3-1.5 -1.9-4.8 4.8-5.5 1.6-1.1 2.9,1.8 .9,1.6 .1,3.2 2.5,.7 1.3-.7 1.5-3.2 3.6-.1 1.2-1.5 -1.3-3.2 .2-1.6 3.1-3.8 1.6-.8 3.2,.6 1.5-2.4 -3.1-1.8 -2.2-4.6 -2.6-1.1 -3.2-.2 -1.6-1.9 .5-3.2 2.9-3.2 0-1.6 -3.3-1.6 -1.2-4.8 -3.5-1.6 -.2-1.6 1.6-1.1 4.8,1.4 1.6-.2 3.2-3.6 4.8,.6 1.6,.8 .3,.5 -1.4,4.8 1.3,3.2 -2.2,6.4 .4,5.7 1.6,1.3 4.8-1.4 6.4-.1 2-.7 1.5-1.6 .1-8 -.6-4.8 5-1.8 1.6-2.2 1.4-4zM263.9,785.5l-2.5,5.7 -3.2,3.9 .8,1.6 2.4,1.2 1.6-1.1 1.3-3.3 1.8-1.6 .8-1.6 -.7-5.2 -1.6-.6zM234.4,788.7l-.1,1.6 1.5,2.3 1.6,.1 .2-.8 1.3-1.6 -.1-1.6 -3-.6zM229.1,793.5l.3,2.2 3.2,3.4 .6,2.4 -2.9,3.2 -.5,1.6 1.3,1.6 4.7,1.7 1.6-1.4 -.4-5.1 .4-1.6 2-3.2 .3-1.6 -.7-1.7 -1.6-1.3 -3.2,.4 -3.2-1.6zM244.2,811.1l-2,1 -1.6,0 -1.6-.9 -1.3,1.5 1.3,1.4 3.2-.3 1.6,1.9 1.6,.8 1.6-.6 .8-1.6 -.8-2.2 -1.6-1zM232.5,823.9l-.2,1.6 1.9,1.8 1.6-1.4 .5-2 -.5-.8 -1.6-.6zM236.2,828.7l-.9,1.6 1.1,1.6 4.2,.6 .8-.6 -.2-1.6 -2.2-3.1 -1.6-.1zM232.1,831.9l-3.8,3.2 1.1,1.3 2.2,.3 2.4-1.6 .5-1.6 -.4-1.6 -1.5-.8zM197.8,838.3l.2,1.6 1,1.1 1.7,.5 .9-1.6 -.4-1.6 -2.2-.6zM189.2,843.1l-.7,1.6 .9,1.4 .7-1.4zM218.2,788.4l2.8,3.5 -.5,1.6 -2.3,2.1 -2.3-2.1 .7-4.3zM202.2,793l3.2-.6 2.5,1.1 1.5,1.6 .3,12.8 -1.4,3.2 -1.3,1.2 -4.8,3 -1.6,2.4 -1.6,.6 -1.3-4 -5.1-9.6 -1-4.8 1-2 3.2-2.9zM202.8,795.1l-1.2,1.6 .6,2.7 1.6,1.4 1.6,.3 1.6-.8 1.1-3.6 -.7-1.6 -2-1zM202.9,806.3l-3.3,4.8 1,1.1 3.2-.7 1.8-2 .2-1.6 -.4-1.8 -1.6-1.1zM299.8,796.2l1.8,2.1 -.5,1.6 -1.4,1.6 -1.5,1 -1-2.6 1-2.6zM267.8,799.8l1.6-.5 1.6,.7 .6,1.5 -1.1,1.6 -1.1,.7 -2.2-.7 -.6-1.6zM219.8,802.1l1.6,0 .9,1 .1,1.6 -1.6,1.6 -1.2,0 -.9-1.6zM299.8,805.4l1.2,.9 .4,1.6 -1.6,1.2 -.9-1.2 .1-1.6zM261.4,814l3.2-1.3 1.3,1.6 -3.3,3.2 .6,3.2 -1.8,1.4 -1.6-.3 -1.1-1.1 -.1-1.6zM179.8,825.4l1.6-1.3 1.6-.1 2,1.5 1.7,3.2 -1.3,3.2 -.8,.9 -1.6-.3 -3.1-2.2 -.5-1.6zM296.6,841.1l1.6-.6 4.8,3 3.2-1.1 1.7,.7 -.1,2 -1.6,1.6 -4.8-2 -3.2,1 -1.6-.5 -1-2.1zM263,845.6l1.6-.4 3.6,1.1 1.7,2.4 -1.9,0 -1.8-.9 -1.8,.9 -2.2,0z" fill="#40FF40" stroke="#40FF40" stroke-width="0.6"/>
<path d="M61.4,668.2l1.6-1 3.1,3.1 -.6,1.6 -2.5,3.1 -1.7,.1zM123.8,674.8l3.2,0 3.3,1.9 -.8,1.6 -2.5,1.1 -1.3,2.1 .7,1.6 2.2,.8 1.6-.3 2.7-2.1 .5-1.1 1.6-.4 3.2,3.3 1.6-.9 3.2-4.6 4.8-1.1 3.2-2.6 1.6-.4 3.2,2.4 4.7,.6 1.7,1.8 4.8,.9 4.8-.3 1.6,.6 3.6,3.4 6,2 .7-.4 1.1-3.2 1.4-.8 8,.2 4.8,1.4 3.2,.3 2.7,3.7 -.3,1.6 -2.9,4.8 -.4,4.8 4.1,2.5 4.8,5.5 3.2,1.2 1.9,2 2.3,4.8 2.2,1.4 1.6,.2 1.4,1.6 .9,3.2 -2.8,3.2 2.1,.6 3.2-.3 1.6,.7 3.4,2.2 3,3.5 3.2-.5 3.2,1.2 2.1,5.4 .2,1.6 -.8,3.2 1.7,1.9 1.6,.1 4.8-2.2 6.4-.9 1.6-2.1 1.6-.3 1.1,1.9 -1.9,1.6 .1,1.6 10.3,4.7 4.8-1.2 3.2-4.4 1.6-.9 4.8,1.1 1.6-.3 1.9-2.2 1.3-3 2.3-1.8 5.7-.8 3.2,1 3.2,2.4 1.6,0 1.6-2.8 3.2-.8 2.4,2.6 .2,1.6 -1.4,3.2 .4,.4 3.2,.7 3.2,1.9 1.6,.2 2.1-1.6 .3-1.6 -5.8-3.2 -.4-1.6 .8-1.6 3-1.8 6.4,.9 4.8-.7 3.2,.4 3.2,1.5 4.8,1.2 4.8,4.8 3,1.7 3.4,3.1 4.8-1.3 1.6,.8 5.5,8.6 -.7,2.2 -3.2-.9 -2.1,1.9 .6,1.6 3.4,1.6 .3,1.6 -1,1.6 -3.1,1.6 -.2,1.6 3.3,3.2 .1,1.6 -6.1,9.2 -3.2,1.1 -6.4,.5 -1.6,1.6 -1.6,3.4 -1.6,1.5 -4.7,.3 -1.7,1.6 -1.6-.2 -3.2-2.7 -1.6,.3 -6.1,4.2 -1.8,3.2 -1.7,1.1 -4.8,1.1 -5.3,2.6 -3.9,6.4 4.1,6.4 -1.3,.9 -4.8,.9 -1.5,1.4 -1.7,3.6 -4.3,4.4 -.2,1.6 .7,1.6 3.4,1.6 1.2,1.6 -.3,1.6 -1.3,1.6 -.8,.6 -1.6-.2 -5.5-2 -1.6-4.8 -2.5-2.5 -1.6,.5 -2.3,3.6 .2,1.6 5.8,3.2 -.5,2.8 -1.6,2.2 -3.2,1.7 -8-3.7 -3.2,.8 -2.3,4.2 .7,1.6 3.2,.3 6.4,3.6 3.2-.7 .2,2.4 -9.1,0 -.2-2.4 -2.1-.4 0,2.8 -2.7,0 -1.7-2.4 -3.6-1.1 -1.6,.4 -.8,3.1 -11.6,0 1.1-2.4 2.8-1.6 .6-1.6 -.1-1.6 -3.9-3.2 .4-1.6 1.9-3 3.2-1.8 .8-1.6 -.3-1.6 -2.1-2.7 -3.2-.7 -1.6,1.1 -1.6,2.3 -2.2,0 -5.4-6.4 .2-1.6 1.1-1.6 4.9-1.6 3-2.7 7-2.1 .8-1.6 -.8-3.2 .6-1.6 2-1.2 3.4-.4 -.5-1.6 -2.3-1.6 3.4-3.2 2.4-4.4 3.2-.9 1.5-1.1 -3.1-3.4 -1.6-5.4 -1.6,.3 -1.6,1.8 -1.6,4.3 -1.6,2.2 -5,1.8 .6,4.8 -.1,8 -1.5,1.6 -2,.7 -6.4,.1 -4.8,1.4 -1.6-1.3 -.4-5.7 2.2-6.4 -1.3-3.2 1.4-4.8 -.3-.5 -1.6-.8 -4.8-.6 -3.2,3.6 -1.6,.2 -4.8-1.4 -1.6,1.1 .2,1.6 3.5,1.6 1.2,4.8 3.3,1.6 0,1.6 -2.9,3.2 -.5,3.2 1.6,1.9 3.2,.2 2.6,1.1 2.2,4.6 3.1,1.8 -1.5,2.4 -3.2-.6 -1.6,.8 -3.1,3.8 -.2,1.6 1.3,3.2 -1.2,1.5 -3.6,.1 -1.5,3.2 -1.3,.7 -2.5-.7 -.1-3.2 -.9-1.6 -2.9-1.8 -1.6,1.1 -4.8,5.5 1.9,4.8 -.3,1.5 -3.2-1.1 -4.8,1 -1.9-3 -3.6-3.2 2.8-3.2 .2-1.6 -.7-1.4 -1.6-.6 -1.6,.6 -.8,1.4 0,4.8 -8.8,1.4 -6.4,.3 -4.8-2.3 -1.6-1.5 -5-1.1 -.5-1.6 1.8-3.2 -.1-1.6 -1-.6 -4.8,1.9 -1.6-.4 -3.2-2.8 -1.6-.4 -3.2,.5 -4.8-2.5 -4.8-1.2 -4.8,3 -8,.7 -6.4,2.8 -8,2.3 -14.4,1.1 -12.8,2.2 -3.8-1.8 -2.6,0 .3,1.6 1.8,1.6 -.7,1.6 -1.4,.4 -1.6-.4 -3.2-3.4 -4.8-.6 -1.8-.8 -1.5-1.6 .7-3.2 -.6-2 -4.8-1.3 -3.2,2.2 -1.6-.4 -4.6-3.3 -1.8-.5 0-2.3 4.8,.3 3.2-1.3 3.2,1.4 3.2,2.4 4,1.6 .8,4.8 1.6,1.1 4.8-1.4 8,1.1 1.6-.6 .9-1.8 -.3-3.2 1.4-1.6 2.8-.8 8,.6 2.8,1.8 .7,1.6 1.3,.7 4.8,.8 3.2,.1 6.4-1.3 4.8-1.6 4.8-2.6 3.2-.2 4.8-1.4 3.2-3.4 3.2-1.2 1.4,2.1 1.8,1.1 6.4,1.1 3.2-1.3 1.6,.4 3.2,4.8 1,.3 3.8-.9 6.4,2.5 6.4-.9 5.2,4.1 1.1,1.6 .4,3.2 2.9,.9 1.4-.9 .4-1.6 .1-3.2 -1.1-3.2 .6-4.8 -7.4-17.6 2.8-5.8 3.6-3.8 3.4-1.6 4.2-.2 3.2,.6 6.4,3.2 1.6-.7 3.2-7.3 1.6,0 3.2,3.6 3.2-.1 4.8,1 1.6-1.1 1.6-2.6 4.8,1.2 3.2-.1 1.2,.9 .6,1.6 -1.3,4.8 .9,4.8 -1.3,3.2 .3,1.6 1.2,1.3 8-2.1 1.6-3 1.8-7.4 6.2-1.7 3-6.3 1.8-1.6 1.6-.5 1.6,.4 1.4,4.9 1.8,.2 3.6-5 .2-1.6 -2.8-1.6 -.5-1.6 1.1-2.9 1.6,0 3.2,3.7 3.2,.9 1.9,1.5 .8,1.6 .3,8 1.8,2.7 1.6,0 1.6,.9 1.8,2.8 -.2,.5 -1.6-.1 -3.2-1.4 -1.6,2 -4.8,3.6 -1.6,.9 -3.2-.5 -3.2,3.1 -2.8,1.5 -.7,1.6 1.2,6.4 -.9,2.2 -1.7,1 -.5,1.6 .3,3.2 -1.6,1.6 1.9,.4 1.6,1.1 1.9-4.7 6.1-5.6 6.4-1.6 6.6,2.4 4,4.8 2.2,.2 3.2-2.1 1.5-2.9 -3.1-2.8 -.6-2 .9-6.4 -1.2-4.8 .1-1.6 2.4-4.2 1.6-.7 1.6,.7 2.7,4.2 -.2,1.6 -2.1,3.2 1.2,1 1.6-.7 3.2-5.6 9.6-2.8 1.1-1.5 .2-1.6 -1.5-4.8 .2-1.6 1.6-1.5 1.7-.1 3.1,4 6.4-2.1 3.2,1.8 8-1.7 3.2-4.3 1.6-.7 6.4-.5 2.6-1.3 5.2-8 -.4-1.6 -2.8-3.2 -.2-1.6 3.1-3.2 -2.5-3.2 -.3-1.6 2.5-4.8 -2.2-3.2 -1.8-1.3 -1.6,.1 -3.2,1.8 -.7-3.8 -2.5-3 -3.1-1.8 -3.3-3 -8-2.8 -12.8-1 -3.2,.6 -.9,1.4 .5,1.6 3.6,1.7 1.6,1.5 -.4,1.6 -2.8,2.1 -1.6-.1 -3.2-1.8 -3.9-.2 -1.1-1.6 1.8-3.2 -.3-1.6 -1.3-1.4 -1.6-.3 -1.6,1.3 -1.6,2.8 -6.4-3.5 -3.2-.5 -3.2,.9 -2.7,2.3 -2.1,3.5 -1.6,1.1 -4.8,.3 -1.6,1 -3.2,4 -1.6,.9 -6.4-.3 -3.2-2.5 -4.8-1.1 -3.2-2.1 -3.2-.7 -1.6-.2 -6.4,2.4 -1.6-.2 -1.6-1 -.9-1.9 -.2-6.4 -.5-1.4 -1.6-1.4 -4.8,.1 -8-5.5 -1.6-.3 -3.2,.6 -3.2-.8 -1.6,1.9 -2.4-1.2 -1.2-1.6 .4-.6 1.6-1.7 4.3-2.5 .4-1.6 -3.9-4.8 -2.2-4.8 -5.1-3.2 -3.2-3.2 -1.5-.8 -1.6,.1 -6.4,3.3 -1.1-4.2 -1.4-1.6 -2.9-1.6 -3.1-4.8 .5-1 1.6-.2 8,3.7 1.6-2.5 .1-1.6 -3.4-1.6 -.2-3.2 -1.3-1.4 -3.2-1 -1.6-.4 -1.6,1 .5,3.4 -.5,1.6 -1.6,1 -3.2-.6 -3.2,1.2 -8,.8 -4.8,2 -4.8-.4 -7.2,.8 -2.8,1.6 -.4,3.2 -.8,1.5 -1.6,.3 -3.2-2.8 -1.6,.2 -4.8,2.5 -1-1.7 0-4.8 1-.9 5.4-.7 2.6-4.2 0-4.7 -1.6-2.8 -1.6-.3 -1.6,.6 -1.6,1.8 -4.8,8.4 -4.8,.6 -3.2-.5 -3.2-1.4 -4.8,0 -1-2.3 .6-1.6 3-1.6 .4-1.6 -1.4-1.7 -1.6,.2 -3.2,2.5 -3.2,.4 -1.6,1.5 -.6,3.5 1.1,4.8 -.5,1.8 -1.6,1 -4.8-.6 -4.8,1 -3.2,1.6 -4.8-.4 -4.8,4.8 -.9-1.2 .3-3.2 -.9-1.6 -4.9-4.8 -8,.7 -4.8-1.6 -1.6,.1 -4.8,2.3 -4.8-.8 0-10.6 .4,5.1 2.8,3.5 1.6,.7 1.6-.6 3.2-2.6 1.6,.1 4.8,2.5 3.7-.4 .3-1.6 -.8-.9 -3.2-.9 -1.8-1.4 .2-2 2.7-2.8 .5-3.4 3,1.8 -1,1.6 -.1,1.6 1.3,2.5 5,.7 .8,1.6 .6,4.8 3.2,4.4 1.6-.2 .9-4.2 4.4-4.8 1.1-4.8 1.6-.6 2.3,.6 .6,1.6 -.3,6.4 -1,2.4 -1.6,.8 4.8,1.4 6.4-.6 1.5-.8 -.7-8 -5.8-4.8 1-1.6 5.6-2.1 3.2,2.3 1.6,.6 1.6-.4 3.1-2zM132.1,684.7l.7,1.6 2.2,.4 .6-.4 -.6-2.3 -1.6-.1zM161.5,684.7l-6,1.6 -1.3,2.5 -2.4,2.3 7.2,.1 3.2-.8 1.3,.7 1.9,1.4 1.6,.3 1.6-.6 2.7-2.7 -1.2-1.6 -6.3-3.1zM94.9,691.1l-1.7,1.6 .2,1.4 2.4-1.4 .9-1.6zM95.9,695.9l.7,1.3 2.1-1.3 -.5-1.6zM277.9,780.7l-3.7,4.8 -.8,3.2 .8,1 1.6,.4 3.2-1.1 3.2-4.6 .2-2.1 -1.8-2 -1.6-.2zM217.5,788.7l-.9,.5 -.7,4.3 1.3,1.6 1,.5 .7-.5 1.6-1.6 .5-1.6 -2.8-3.5zM200.7,793.5l-4.9,1.5 -3.2,2.9 -1,2 1,4.8 5.1,9.6 .8,3.2 .5,.8 1.6-.6 1.6-2.4 6.1-4.2 .9-1.6 .6-3.2 -.4-11.2 -1.5-1.6 -2.5-1.1zM213.2,795.1l-1.2,1.6 .3,1.6 2.7,6.5 1.6-.7 .5-5.8 -2.1-2.3zM222.6,795.1l-1.7,1.6 .1,1.6 2,.5 .6-.5 1-2.1 -.6-1.1zM299.1,796.7l-1.6,1.6 -.3,1.6 1,2.6 1.6-1 1.8-3.2 -1.8-2.1zM267.6,799.9l-1,1.6 .6,1.6 2.2,.7 1.6-1.3 .6-1 -.7-1.6 -1.5-.6zM219.1,803.1l-.4,1.6 .9,1.6 1.8-.1 1-1.5 -.1-1.6 -.9-1 -1.6,0zM299,806.3l-.1,1.6 .9,1.2 1.6-1.2 -.4-1.6 -1.2-.9zM222.2,807.9l-2.4,.6 -3.2-.6 -2.6,6.4 .1,1.6 -4,4.8 -4,3.2 -.3,3.2 .9,1.6 4.4,0 2.6-1.6 .1-4.8 1.2-.5 .4,.5 6,3.5 1.6,.2 3.2-3 3.2,.4 2.6-2.7 2.9-4.8 -.7-3.2 -4.8-.6 -2.8-2.6 -2-3.1zM301.8,811.1l.8,1.6 2,0 1.1-1.6 -1.1-1.2 -1.6-.2zM261,814.3l-2.4,4.8 .1,1.6 1.1,1.1 1.6,.3 1.6-1.1 0-1.3 -.4-2.2 3.3-3.2 -1.3-1.6zM244.7,820.7l-.2,1.6 .9,1.1 1.6-1.6 1.3-1.1 -1.3-.5zM179.7,825.5l-.3,3.2 .5,1.6 1.5,1.4 3.2,1.1 1.6-2.2 .5-1.9 -.4-1.6 -1.7-2.1 -1.6-1 -1.6,.1zM269.2,828.7l-.5,1.6 -.9,.5 -3.2-1.2 -.8,.7 -.3,1.6 .6,1.6 -.7,3.2 -2,3.9 -3.2,.9 -.6,1.6 .6,2.7 1.6-.2 .5-.9 1.1-1.7 1.6-.7 3.2,1.3 1.8-.5 4.5-9.6 -2.2-3.2 -.9-3.1zM254.7,836.7l1.9,.8 1-.8 -1-1.2zM154.2,698.7l3.2-1 1.7,1.4 -.8,1.6 -2.7,0 -2.3-1.6zM58.6,700.7l1.7,1.6 -2.1,1.4 0-3.4zM59.8,727l11.2,4.1 9.6,1.9 11.2-.5 6.4-1.6 3.2-.1 12.8,4 8,3.3 3.9,2.6 6.4,6.4 -.1,1.6 -2.2,1.4 -3.2,3.5 -1.6,.5 -3.2-1 -1.6,.9 -3.2,5 -1.6-.6 -1.6-1.6 -1.6-.3 -17.6,3.7 -16-2 -12.8,3.6 -6.4,1.9 -1.6,.2 0-1 9.6-2.7 4.8-2.5 4.8-1.4 3.2-.2 14.4,1.8 12.8-2.3 7.3-2.1 5.5-5.5 1.6-.7 4.8,.6 .9-.8 -.3-1.6 -3.8-3.3 -4.8-1.9 -4.8-3 -9.6-2.9 -3.2-1.5 -1.6-.1 -6.4,1.8 -12.8,.1 -9.6-2.2 -9.6-4.1 -3.2-.3 0-1.2zM218.2,728.6l1.6,.2 2.4,3.9 -.9,1.6 -1.5,.4 -3.2-.4 -.6-1.6 .6-2.6zM218.1,731.1l-.6,1.6 .7,.7 1.9-.7 -.3-.9zM223,735.6l1.6,.3 1.4,4.8 -1.4,3.2 -1.6,.1 -2.7-1.7zM222.9,739.1l-.5,1.6 .4,1.6 1.8-.5 0-2.9zM263,748.6l1.6,.5 .9,2.8 -.9,2.1 -1.6,.5 -1.8-1 -.9-3.2 1.1-1.3zM261.2,750.3l-.1,1.6 1.5,1.6 1,0 1-1 -.3-2.2 -1.3-.8zM344.6,750.3l4.8-.7 1,.7 -.6,1.6 -1.7,1.6 -3.5,.7 -.9-2.3zM247,751.9l3.2-.1 1.6,1 0,1.2 -1.6,1.3 -3.2,.5 -2-.7 -.2-1.6zM246,753.5l.9,1.6 1.7-.5 1.2-1.1 -2.8-.6zM237.4,755.9l1.6-.2 .6,1 -.6,.7 -1.6,.1 -1.1-.8zM379.8,755.9l1.6-.8 1.6,.3 3.2,2.7 4.8,1.4 6.8,5.2 1.2,1.6 1.6,.3 4.8-1.5 3.2-.1 1.9,2.9 -.3,1.9 -4.8,1.7 -5.4,4.4 -1,1.6 -11.2,4.4 -4.8,1.8 -6.4,1 -1.6-.2 -4.8-2.6 -3.2,2.2 -2.7-1.8 1.1-1 2.4-.6 .8-1.2 .6-5.2 -.5-1.6 -2.5-3.2 -.1-1.6 1.7-3.2 2.4-3.9 5.8-2.5zM381.3,756.7l-9.7,4.8 -1.4,1.1 -2.6,3.7 -.4,3.2 2.7,4.8 -.1,4.8 2,2 4.8,1.8 6.4-.8 9.6-4 9.6-5.2 4.3-3.4 .9-1.6 -2-1.3 -6.4,1.7 -2.5-3.6 -6.7-4.8 -3.6-.8zM215,759.8l.6,.1 .1,1.6 -.7,.6 -1.6,0 -.4-.6 .4-.7zM384.6,766.2l3.2-.3 3,2 0,1.6 -1.4,1 -1.6,.2 -3.2,.3 -1.6-.5 -.8-1 0-1.6zM382.9,767.9l.1,1.7 1.6,.5 2.3-.6 .7-1.6 -1.4-.7zM255,778.4l1.7,.7 .4,1.6 -.5,.8 -1.6,.4 -1.3-1.2 -.1-1.6zM314.2,810.5l1.7,.6 -2.1,4.8 -1.2,1 -1.6-.5 -1-2.1zM237.4,827.1l1.6,.1 2.2,3.1 .2,1.6 -.8,.6 -1.6,0 -2.6-.6 -1.1-1.6zM232.6,831.1l1.6,.9 .3,1.5 -.5,1.6 -1.4,1.3 -1.6,.4 -1.6-.4 -1.1-1.3zM239,841.1l3.2-.2 1.8,.6 1,1.6 -2.8,5.6 -6.1,0 1.7-7.2zM189.4,842.8l.7,1.9 -.7,1.4 -.9-1.4z" fill="#28FF28" stroke="#28FF28" stroke-width="0.6"/>
<path d="M122.2,681.4l1.4,1.7 -.4,1.6 -3,1.6 -.6,1.6 1,2.3 4.8,0 3.2,1.4 3.2,.5 4.8-.6 1.6-3.6 1.8-1.6 1.4-3.2 1.6-1.8 3.2-.3 1.6,2.8 0,4.7 -2.6,4.2 -5.4,.7 -1,.9 -.3,3.2 1.3,3.3 4.8-2.5 1.6-.2 3.2,2.8 1.4-.2 1-1.6 .4-3.2 2.8-1.6 7.2-.8 4.8,.4 4.8-2 8-.8 3.2-1.2 3.2,.6 1.6-1 .5-1.6 -.5-3.4 1.6-1 4.8,1.4 1.3,1.4 .2,3.2 3.3,1.4 -.8,3.4 -.8,.9 -1.6-.3 -3.2-2.2 -3.2-1.2 -1.6,.2 -.5,1 3.1,4.8 2.9,1.6 1.4,1.6 1.1,4.2 6.4-3.3 1.6-.1 4.7,4 4.9,3 2.4,5 3.9,4.8 -.4,1.6 -4.3,2.5 -1.6,1.7 -.4,.6 1.2,1.6 2.4,1.2 1.6-1.9 3.2,.8 3.2-.6 1.6,.3 8,5.5 4.8-.1 1.6,1.4 .5,1.4 .2,6.4 .9,1.9 1.6,1 1.6,.2 6.4-2.4 1.6,.2 3.2,.7 3.2,2.1 4.8,1.1 3.2,2.5 4.8,.5 3.2-1.1 3.2-4 1.6-1 4.8-.3 1.6-1.1 3.2-4.8 4.8-1.9 4.8,1 3.2,2.5 1.6,.5 1.6-2.8 1.6-1.3 1.6,.3 1.3,1.4 .3,1.6 -1.8,3.2 1.1,1.6 3.9,.2 3.2,1.8 1.6,.1 1.6-.9 1.2-1.2 .4-1.6 -1.6-1.5 -3.6-1.7 -.5-1.6 .9-1.4 1.6-.6 12.8,.6 9.6,3.2 8,6.2 1.6,5.4 3.2-1.8 1.6-.1 1.6,1 2.4,3.5 -2.5,4.8 .3,1.6 2.5,3.2 -3.1,3.2 .2,1.6 2.8,3.2 .4,1.6 -5.2,8 -3.8,1.6 -5.2,.2 -2.3,1.4 -2.5,3.6 -6.4,1.8 -1.6-.1 -3.2-1.8 -6.4,2.1 -3.1-4 -1.7,.1 -1.6,1.5 -.2,1.6 1.5,4.8 -.2,1.6 -1.1,1.5 -9.6,2.8 -3.2,5.6 -1.6,.7 -1.2-1 2.1-3.2 .2-1.6 -2.7-4.2 -2.2-.6 -1,.6 -2.4,4.2 -.1,1.6 1.2,4.8 -.9,6.4 .3,1.6 3.4,3.2 -1.5,2.9 -3.2,2.1 -1.6,.1 -2.4-1.9 -2.2-3.2 -6.6-2.4 -1.6,.2 -4.8,1.4 -4.8,4 -1.3,1.6 -1.9,4.7 -1.6-1.1 -1.9-.4 1.6-1.6 -.3-3.2 .5-1.6 1.7-1 .9-2.2 -1.2-6.4 .7-1.6 2.8-1.5 3.2-3.1 3.2,.5 1.6-.9 4.8-3.6 1.6-2 3.2,1.4 1.6,.1 -.4-2.1 -2.8-2.1 -1.6,0 -2.2-4.3 .3-4.8 -1-3.2 -1.9-1.5 -3.2-.9 -3.2-3.7 -1.6,0 -1.1,2.9 .5,1.6 2.8,1.6 -.2,1.6 -3.6,5 -1.8-.2 -1.4-4.9 -1.6-.4 -1.6,.5 -1.8,1.6 -3,6.3 -6.2,1.7 -1.8,7.4 -1.6,3 -8,2.1 -1.2-1.3 -.3-1.6 1.3-3.2 -.9-4.8 1.3-4.8 -.6-1.6 -1.2-.9 -3.2,.1 -4.8-1.2 -1.6,2.6 -1.6,1.1 -4.8-1 -3.2,.1 -3.2-3.6 -1.6,0 -3.2,7.3 -1.6,.7 -6.4-3.2 -3.2-.6 -3.2,0 -3.2,1 -4.4,4 -3.2,6.4 7.4,17.6 -.6,4.8 1.1,3.2 -.1,3.2 -.4,1.6 -1.4,.9 -2.9-.9 -.4-3.2 -1.1-1.6 -5.2-4.1 -6.4,.9 -6.4-2.5 -3.8,.9 -1-.3 -3.2-4.8 -1.6-.4 -3.2,1.3 -6.4-1.1 -1.8-1.1 -1.4-2.1 -3.2,1.2 -3.2,3.4 -4.8,1.4 -3.2,.2 -8,3.9 -8,1.6 -8-.9 -1.3-.7 -.7-1.6 -2.8-1.8 -9.6-.5 -2.6,2.3 .3,3.2 -.6,1.6 -1.9,.8 -8-1.1 -4.8,1.4 -1.6-1.1 -.8-4.8 -4-1.6 -3.2-2.4 -3.2-1.4 -3.2,1.3 -4.8-.3 0-52.4 20.8-5.7 16,2 17.6-3.7 1.6,.3 1.6,1.6 1.6,.6 3.2-5 1.6-.9 3.2,1 1.6-.5 3.2-3.5 2.2-1.4 .1-1.6 -6.4-6.4 -3.9-2.6 -8-3.3 -12.8-4 -3.2,.1 -6.4,1.6 -11.2,.5 -9.6-1.9 -9.6-3.8 -3.2-.4 0-23.2 2.1-1.4 -2.1-2 0-6.9 4.8,.8 4.8-2.3 1.6-.1 4.8,1.6 8-.7 4.9,4.8 .9,1.6 -.3,3.2 .9,1.2 4.8-4.8 4.8,.4 3.2-1.6 4.8-1 4.8,.6 1.6-1 .5-1.8 -1.1-4.8 .6-3.5 1.6-1.5 3.2-.4 3.2-2.5zM153.3,699.1l2.5,1.6 2.5,0 .7-1.1 -1.6-1.9 -1.6,.1zM217.1,729.5l-1.1,3.2 .6,1.6 1.6,.5 3.1-.5 .9-1.6 -1.8-3.2 -2.2-.9zM222.9,735.9l-2.6,6.4 2.3,1.6 2,0 1.1-1.6 .1-3.2 -1.2-3.2zM262.6,748.7l-1.2,.3 -1.1,1.3 .1,1.6 1,1.8 1.6,.8 1.6-.5 .9-2.1 -.2-1.6 -.7-1.2zM344.5,750.3l-.8,1.6 .9,2.3 3.2-.5 1.6-1.5 1-1.9 -1-.7zM246.9,751.9l-2.1,1.6 .2,1.6 2,.7 3.8-.7 1.3-1.6 -.3-.7 -1.6-1zM236.3,756.7l1.1,.8 1.6-.1 .6-.7 -.6-1zM214.6,759.9l-1.6,1.6 .4,.6 1.6,0 .7-.6 -.1-1.6zM253.6,779.1l.1,1.6 1.3,1.2 1.6-.4 .5-.8 -.5-1.7 -1.6-.6zM133.4,683.9l1.6,.1 .5,.7 .1,1.6 -.6,.4 -2.2-.4 -.7-1.6zM95,691l1.7,.1 -1.7,2.2 -1.6,.8 -.2-1.4zM381.4,756.7l4.8,2.4 3.6,.8 6.7,4.8 2.5,3.6 6.4-1.7 2,1.3 -.9,1.6 -4.3,3.4 -11.2,5.9 -8,3.3 -6.4,.8 -4.8-1.8 -2-2 .1-4.8 -2.7-4.8 .4-3.2 2.6-3.7 1.4-1.1zM384.4,766.3l-2.2,1.6 0,1.6 .8,1 1.6,.5 4.8-.5 1.4-1 0-1.6 -3-2zM213.4,795l3.7,3.3 -.5,5.8 -1.3,.6 -3-6.4 -.3-1.6zM223,794.9l1,.2 .7,1.6 -1.7,2.1 -2-.5 -.1-1.6zM223,807.5l1.6-1.1 2,3.1 2.8,2.6 4.8,.6 .7,3.2 -2.9,4.8 -2.6,2.7 -3.2-.4 -3.2,3 -1.6-.2 -6.4-4 -1.2,.5 -.1,4.8 -2.6,1.6 -4.4,0 -.9-1.6 .3-3.2 4-3.2 4-4.8 -.1-1.6 2.6-6.4 3.2,.6zM303,809.7l1.6,.2 1.1,1.2 -1.1,1.6 -2,0 -.8-1.6zM245.4,820.3l2.9,.4 -1.6,1.6 -1.3,1.1 -.9-1.1 .2-1.6zM269.4,827.2l.9,3.1 2.2,3.2 -4.5,9.6 -1.8,.5 -3.2-1.3 -1.6,.7 -1.6,2.6 -1.6,.2 -.6-2.7 .6-1.6 3.2-.9 2-3.9 .7-3.2 -.6-1.6 .3-1.6 .8-.7 3.2,1.2 .9-.5zM255,836.3l1.6-.8 1,1.2 -1,.8 -1.6-.4zM272.6,845.9l2.1,.4 .2,2.4 -.7,0 -1.6,0z" fill="#0CFF0C" stroke="#0CFF0C" stroke-width="0.6"/>
<clipPath id="hb"><path d="M57,662 78,655 80,647 140,647 142,655 150,662 185,662 188,670 190,678 212,678 214,690 238,694 240,702 226,710 226,718 242,725 243,733 250,740 322,738 325,742 358,742 360,750 366,758 366,766 353,772 352,782 345,785 295,789 294,798 275,799 292,805 292,814 316,805 316,814 296,822 296,830 347,836 348,846 128,846 126,836 75,830 73,822 60,815 57,812ZM79,723 116,723 119,738 120,753 87,754 85,768 75,768 74,754 57,754 57,738 66,738 79,736Z" clip-rule="evenodd"/></clipPath><g clip-path="url(#hb)"><path d="M58.2,555.58H666M58.2,571.44H666M58.2,587.3H666M58.2,603.16H666M58.2,619.02H666M58.2,634.88H666M58.2,650.74H666M58.2,666.6H666M58.2,682.46H666M58.2,698.32H666M58.2,714.18H666M58.2,730.04H666M58.2,745.9H666M58.2,761.76H666M58.2,777.62H666M58.2,793.48H666M58.2,809.34H666M58.2,825.2H666M58.2,841.06H666M-105.17,848.7L69.88,545.5M-86.87,848.7L88.18,545.5M-68.57,848.7L106.48,545.5M-50.27,848.7L124.78,545.5M-31.97,848.7L143.08,545.5M-13.67,848.7L161.38,545.5M4.63,848.7L179.68,545.5M22.93,848.7L197.98,545.5M41.23,848.7L216.28,545.5M59.53,848.7L234.58,545.5M77.83,848.7L252.88,545.5M96.13,848.7L271.18,545.5M114.43,848.7L289.48,545.5M132.73,848.7L307.78,545.5M151.03,848.7L326.08,545.5M169.33,848.7L344.38,545.5M187.63,848.7L362.68,545.5M205.93,848.7L380.98,545.5M224.23,848.7L399.28,545.5M242.53,848.7L417.58,545.5M260.83,848.7L435.88,545.5M279.13,848.7L454.18,545.5M297.43,848.7L472.48,545.5M315.73,848.7L490.78,545.5M334.03,848.7L509.08,545.5M352.33,848.7L527.38,545.5M370.63,848.7L545.68,545.5M388.93,848.7L563.98,545.5M407.23,848.7L582.28,545.5M425.53,848.7L600.58,545.5M443.83,848.7L618.88,545.5M462.13,848.7L637.18,545.5M480.43,848.7L655.48,545.5M498.73,848.7L673.78,545.5M517.03,848.7L692.08,545.5M535.33,848.7L710.38,545.5M553.63,848.7L728.68,545.5M571.93,848.7L746.98,545.5M590.23,848.7L765.28,545.5M608.53,848.7L783.58,545.5M626.83,848.7L801.88,545.5M645.13,848.7L820.18,545.5M663.43,848.7L838.48,545.5" fill="none" stroke="#000" stroke-width="1.45"/></g>
<path d="M181,555.6L186.4,555.6M404.2,555.6L451.6,555.6M574,555.6L580.6,555.6M631,555.6L640.6,555.6M59.2,571.4L66.4,571.4M79,571.4L96.4,571.4M208,571.4L211.6,571.4M340,571.4L358.6,571.4M410.2,571.4L471.4,571.4M544,571.4L550.6,571.4M59.2,587.3L69.4,587.3M104.2,587.3L108.4,587.3M179.2,587.3L195.4,587.3M203.2,587.3L205.6,587.3M220,587.3L261.4,587.3M422.2,587.3L475.6,587.3M541,587.3L564.4,587.3M83.2,603.2L93.4,603.2M112,603.2L133.6,603.2M202,603.2L205.6,603.2M224.2,603.2L268.6,603.2M374.2,603.2L382.6,603.2M424,603.2L439.6,603.2M464.2,603.2L475.6,603.2M523,603.2L532.6,603.2M560.2,603.2L568.6,603.2M583,603.2L610.6,603.2M77.2,619L85.6,619M97,619L102.4,619M184,619L186.4,619M256,619L258.4,619M271,619L274.6,619M361,619L376.6,619M449.2,619L459.4,619M472,619L490.6,619M106,634.9L109.6,634.9M149.2,634.9L156.4,634.9M265,634.9L273.4,634.9M325,634.9L346.6,634.9M392.2,634.9L397.6,634.9M451,634.9L474.4,634.9M143.2,650.7L153.4,650.7M155.2,650.7L166.6,650.7M256,650.7L261.4,650.7M317.2,650.7L331.6,650.7M370,650.7L382.6,650.7M452.2,650.7L466.6,650.7M473.2,650.7L501.4,650.7M514,650.7L519.4,650.7M620.2,650.7L622.6,650.7M326.2,666.6L355.6,666.6M440.2,666.6L444.4,666.6M497.2,666.6L528.4,666.6M614.2,666.6L622.6,666.6M511,682.5L520.6,682.5M602.2,682.5L604.6,682.5M620.2,682.5L636.4,682.5M641.2,682.5L643.6,682.5M662.2,682.5L664.6,682.5M239.2,698.3L246.4,698.3M338.2,698.3L349.6,698.3M364,698.3L375.4,698.3M443.2,698.3L463.6,698.3M539.2,698.3L561.4,698.3M580,698.3L585.4,698.3M631,698.3L633.4,698.3M236.2,714.2L247.6,714.2M293.2,714.2L295.6,714.2M344.2,714.2L357.4,714.2M433,714.2L436.6,714.2M452.2,714.2L486.4,714.2M499,714.2L511.6,714.2M527.2,714.2L570.4,714.2M242.2,730L268.6,730M296.2,730L300.4,730M425.2,730L478.6,730M487,730L505.6,730M535,730L552.4,730M589,730L616.6,730M397,745.9L420.4,745.9M436,745.9L441.4,745.9M473.2,745.9L483.4,745.9M517,745.9L532.6,745.9M616,745.9L630.4,745.9M455.2,761.8L471.4,761.8M613,761.8L625.6,761.8M383.2,777.6L387.4,777.6M545.2,777.6L550.6,777.6M428.2,793.5L438.4,793.5M584.2,793.5L591.4,793.5M601,793.5L619.6,793.5M397,809.3L403.6,809.3M475,809.3L490.6,809.3M602.2,809.3L613.6,809.3M403,825.2L411.4,825.2M500.2,825.2L514.6,825.2M595,825.2L607.6,825.2M403,841.1L435.4,841.1M449.2,841.1L463.6,841.1M514,841.1L517.6,841.1M586,841.1L604.6,841.1M626.2,841.1L636.4,841.1M167.2,598.8L169.6,594.7M149.2,661.7L153.4,654.4M155.5,650.8L157.6,647.1M185.8,598.3L193.3,585.3M188.5,625.3L189.7,623.2M201.7,602.4L204.4,597.8M224.2,595.2L230.5,584.3M229.3,618L251.5,579.6M248.5,616.5L263.8,590M266.8,616.5L271.9,607.6M239.2,696L241.9,691.3M275.5,633.1L278.8,627.4M285.7,615.4L286.6,613.9M287.2,612.8L289,609.7M241,724.6L246.4,715.2M247,714.2L247.9,712.6M340.6,552L343.6,546.9M251.2,738.6L259.9,723.5M344.2,577.5L353.5,561.4M268.9,739.6L270.4,737M315.7,658.6L335.5,624.3M341.2,614.4L343.9,609.7M325.3,673.6L332.8,660.6M344.5,672.1L351.1,660.6M367,633.1L375.4,618.6M407.2,563.5L416.8,546.9M343,706.4L348.4,697M373.3,653.9L380.8,640.9M416.2,579.6L435.1,546.9M350.8,724.6L352.9,720.9M353.5,719.9L354.4,718.3M363.7,702.2L370.6,690.3M425.2,595.7L450.4,552M437.5,606.1L439.9,601.9M443.5,595.7L462.4,563M450.7,614.9L457.3,603.5M460.3,598.3L472.9,576.5M440.2,664.8L443.5,659.1M452.2,644L463.6,624.3M467.2,618L474.4,605.6M475,604.5L475.9,603M389.2,784.8L390.7,782.2M408.4,751.6L415.9,738.6M464.8,653.9L466.9,650.3M472.6,640.4L474.4,637.3M481.3,625.3L487.9,613.9M431.2,743.8L444.4,720.9M450.1,711L457.6,698.1M480.7,658L487.9,645.6M402.7,824.8L404.8,821.2M456.4,731.8L471.7,705.3M501.4,653.9L502.9,651.3M528.1,607.6L532.9,599.3M545.2,578L549.4,570.8M407.8,847.7L416.2,833.2M437.5,796.3L438.4,794.7M453.1,769.2L458.8,759.4M470.2,739.6L486.4,711.6M488.5,707.9L489.4,706.4M506.2,677.3L520.9,651.8M552.7,596.7L560.8,582.7M569.8,567.1L577.3,554.1M426.1,847.7L431.2,838.9M477.4,758.8L484,747.4M491.2,734.9L508.3,705.3M523.3,679.3L525.4,675.7M564.7,607.6L568.9,600.4M448.9,839.9L452.8,833.2M460.9,819.1L463.3,815M503.5,745.3L510.1,733.9M582.7,608.2L589.6,596.2M479.2,819.1L488.5,803M518.2,751.6L525.4,739.1M532.9,726.1L541.3,711.6M543.7,707.4L549.1,698.1M581.2,642.5L583.9,637.8M601.3,607.6L609.7,593.1M630.7,556.7L636.4,546.9M498.7,817L500.8,813.4M541.6,742.7L553.9,721.4M556.6,716.8L561.4,708.4M508,832.6L514.9,820.7M561.7,739.6L564.1,735.5M586,697.5L586.9,696M517.6,847.7L520.9,842M614.8,679.3L622.9,665.3M623.5,664.3L628.9,654.9M597.7,740.7L609.4,720.4M625.3,692.9L631.9,681.4" fill="none" stroke="#000" stroke-width="1.45"/>
<path d="M262.7,545.5 252.7,556.4 244.4,559.7 231.1,564.7 224.4,576.3 214.5,581.3 209.5,593 201.1,601.3 196.1,609.6 191.2,614.6 190.5,624.6 197.8,631.3 195.2,636.2 199.5,642.9 197.8,657.9 194.5,667.9 191.2,676.2 186.2,677.9 191.2,681.2 192.8,689.7 191.5,695.7 201.1,700.7 206.1,704 211.1,710.7 221.1,719 229.4,729 231.1,735.7 239.4,742.3 251.1,747.3 264.6,756.5 277.7,763.9 284.6,767.3 291.3,765.6 301.3,762.3 319.6,759.6 341.2,763.9 351.2,759.6 364.5,755 372.8,753 377.8,750.6 391.1,749.6 404.5,749.6 411.1,753 414.4,760.6 417.8,766.3 427.8,768.3 447.7,766.6 452.7,770.6 457.7,773.9 461,780.6 459.4,792.2 456,795.6 459.4,798.2 455,805.6 451.7,812.2 454.4,820.5 466,832.2 476,840.5 485,848.7" fill="none" stroke="#000" stroke-width="2.0" stroke-linejoin="round"/>
<path d="M493.9,682.8 498,682 502.1,682.5 504.5,685.1 505.6,688.1 509.1,689.2 516.5,689.2 515,693.3 510.3,694.8 505,697.2 502.1,695.3 500.9,692.7 498,690.4 496.3,686.9Z" fill="none" stroke="#000" stroke-width="1.7" stroke-linejoin="round"/>
<path d="M447.6,773.2 451.8,772.3 452.4,777.2 448.6,778.3Z" fill="none" stroke="#000" stroke-width="1.7" stroke-linejoin="round"/>
<path d="M656,848.7 657.7,838.7 658.7,833.7 660.4,842.2 661.7,848.7Z" fill="none" stroke="#000" stroke-width="1.7" stroke-linejoin="round"/>
<path d="M190.9,559.9 198.8,557.3 196.6,561.7 194,563.1 191.4,560.8Z" fill="none" stroke="#000" stroke-width="1.7" stroke-linejoin="round"/>
<path d="M201.5,562.1 203.6,561 206.7,562.1 206.3,564.5 203.2,565.2 201.7,563.7Z" fill="none" stroke="#000" stroke-width="1.7" stroke-linejoin="round"/>
<path d="M217.2,560.3 219.4,557.7 222,554.2 224.7,552.5 226.4,552.5 226,554.6 223.4,555.5 222,557.7 222.7,559.9 219.9,561.2 217.5,562.3Z" fill="none" stroke="#000" stroke-width="1.7" stroke-linejoin="round"/>
</g></g>
<g id="pc">
<rect x="58.7" y="1042.9" width="608.8" height="304.3" fill="#FFF0F0"/>
<path d="M222.7,1234.4l12-.1 22,.9 10,1.8 7.2,1.9 6.8,2.6 2,2.2 2,4.1 1.2,5.1 .3,4 -.8,4 -2,4 -2.7,2.1 -2,0 -28-2.9 -20,.2 -6-1.6 -2-2.1 -.8-1.7 -3.7-10 -1.5-6 -.1-2 .6-2 1.4-2z" fill="#FF2626" stroke="#FF2626" stroke-width="0.6"/>
<path d="M222.7,1228.4l4-.2 12,.5 14,1.1 8,1.1 20,4.9 4,2.4 1.9,2.7 2.3,8 .6,6 -.1,4 -.7,4 -2,5.3 -2,3.5 -2,2.1 -2,1 -6-.1 -22-2.8 -4,.4 -4,1.5 -3.6,3.1 -2.4,4 -8,21.6 -2,3 -2,1.6 -2,.4 -2-.3 -4-2.2 -1.5-2.1 -2.2-6 -1.2-6 -.4-24 -2.9-26 1.3-4 2.9-3.6 4-3.2zM221.5,1234.9l-2.8,1.9 -1.5,2.1 -.6,2 .1,2 1.5,6 3.7,10 .8,1.7 2,2.1 6,1.6 20-.2 24,2.6 6,.3 2-1.2 2-2.8 1.5-6.1 -.3-4 -1.2-5.1 -2-4.1 -2-2.2 -6.8-2.6 -7.6-2 -11.6-1.9 -28-.9z" fill="#FF3A3A" stroke="#FF3A3A" stroke-width="0.6"/>
<path d="M220.7,1222.8l4-.8 8,.3 24,3.1 26,7.6 4,2.6 2.6,3.3 1.3,4 1.1,6 .5,10 -1.1,6 -2.4,7.3 -2,3.8 -2,2.3 -2,1.5 -4,1 -20,.3 -6,.6 -3.1,1.2 -2.8,2 -3.3,4 -2.4,4 -6.5,14 -3,4 -2.9,2.4 -4,1.1 -2-.2 -4-1.3 -3.2-2 -2.8-2.5 -2-2.6 -1.4-2.9 -2-8 -.7-6 -.2-26 -1.1-22 1.2-4 2.8-4 7.4-7.5zM221.2,1228.9l-4.5,2.6 -3.5,3.4 -2.3,4 -.4,2 2.9,26 .4,24 1.2,6 2.2,6 1.5,2.1 4,2.2 2,.3 2-.4 2-1.6 2-3 7.1-19.6 1.9-4 3-3.7 4-2.3 4-.9 4,0 22,2.8 4,0 2-1 2-2.1 2-3.5 2-5.3 .7-4 .1-4 -.6-6 -2.3-8 -1.9-2.7 -4-2.4 -20-4.9 -8-1.1 -18-1.4 -10-.3z" fill="#FF4242" stroke="#FF4242" stroke-width="0.6"/>
<path d="M222.7,1216.6l8,0 12,1.4 12,2 10,2.9 20,7.8 5.2,4.2 1.4,2 1.4,3 1.8,11 -.1,10 -1.6,8 -1.9,6 -2.2,4.1 -2,2.7 -2,2 -4,2.3 -26,3.9 -4,1.4 -4,3.4 -3,4.2 -6.4,12 -2.6,3.6 -4,3.8 -4,1.9 -2,.2 -4-.6 -6-2.9 -4-3.1 -4-4.1 -2.1-2.8 -1.9-4 -1.9-8 -.8-6 -.3-48 .4-2 2.2-4 10.4-12.5 4.1-3.5zM220.6,1222.9l-3.9,2.5 -7.4,7.5 -2.8,4 -1.2,4 1.1,22 .4,28 1.4,8 1.9,6 3.1,4 5.5,4 4,1.3 2,.2 4-1.1 2-1.5 2.6-2.9 2.4-4 7-14.9 2.3-3.1 3.7-3.5 4-1.7 4-.5 16-.1 8-.5 2-.8 2-1.5 2-2.3 2-3.8 2.4-7.3 1.1-6 -.5-10 -1.1-6 -1.3-4 -2.6-3.3 -4-2.6 -26-7.6 -24-3.1 -8-.3z" fill="#FF5C5C" stroke="#FF5C5C" stroke-width="0.6"/>
<path d="M218.7,1212.4l6-1.1 10,.6 18,3.1 8,2.2 19.4,7.7 6.6,3.6 5,4.4 1.5,2 1.9,4 1.1,6 .7,8 -.4,10 -2.7,12 -1.7,4 -3.4,5.8 -4,4.6 -4,2.3 -24,4.8 -4,1.4 -2,1.2 -2.1,1.9 -8.7,14 -4.8,6 -4.4,3.1 -2.1,.9 -3.9,.6 -6-1 -4-1.7 -4-2.5 -9.8-9.4 -3.2-4 -2-4 -2-8 -.7-6 -.2-40 .5-10 2.3-4 7.1-7.3 8-10.2 4-3.1zM221.2,1216.9l-4.5,2.1 -4,3.4 -10.4,12.5 -2.2,4 -.4,2 .3,48 .8,6 1.9,8 1.9,4 2.1,2.8 4,4.1 4,3.1 6,2.9 4,.6 2-.2 4-1.9 4-3.8 3.8-5.6 6.2-11.6 3.8-4.4 4.2-2.5 4-1 24-3.4 4-2.3 2-2 2-2.7 2.2-4.1 1.9-6 1.6-8 .1-10 -2.1-12 -2.5-4 -5.2-4.2 -4-1.8 -20-7.3 -8-1.9 -16-2.5 -10-.8z" fill="#FF7272" stroke="#FF7272" stroke-width="0.6"/>
<path d="M222.7,1206.7l10,.3 12,1.7 10,2.2 10,3.6 18,7.9 4.3,2.5 6.5,6 2.6,4 1.5,4 1.5,14 0,6 -.6,6 -2.7,12 -2.5,6 -3.2,6 -3.4,4.2 -2,1.7 -4,2.4 -8,2.6 -12,2.9 -6,2.3 -4,2.7 -4,5.2 -7.2,10 -4.8,4.1 -6,2.6 -4,.4 -4-.4 -8-2.7 -9.1-6 -10.4-10 -2.5-4 -1.4-4 -1.5-8 -.6-6 0-18 -.9-14 0-14 .2-4 .7-2 2.4-4 8.2-8 6.3-8 4-4 6.6-4.1 4-1.3zM217.4,1212.9l-4.7,2.8 -3.4,3.2 -6.6,8.7 -7.1,7.3 -2.3,4 -.5,10 .2,40 .7,6 2,8 2,4 3.2,4 9.8,9.4 4,2.5 4,1.7 6,1 3.9-.6 2.1-.9 4.4-3.1 4.8-6 8.8-14.1 4-3 4-1.4 24-4.8 4-2.3 4-4.6 3.4-5.8 1.7-4 2.7-12 .4-10 -.7-8 -1.1-6 -1.9-4 -1.5-2 -5-4.4 -6.6-3.6 -19.4-7.7 -8-2.2 -20-3.3 -10-.3zM488.7,1266.7l14-.5 9.2,.7 8.2,2 3.8,2 1.6,2 5.6,8 2.1,4 .4,2 -.2,2 -1,2 -3.7,3 -4,1.7 -6,1.3 -8,.9 -14,.2 -14-1.7 -5.6-1.4 -5.4-2 -3.3-2 -1.9-2 -.4-2 .9-6 3-8 1.4-2 4.8-2z" fill="#FF8A8A" stroke="#FF8A8A" stroke-width="0.6"/>
<path d="M220.7,1202.7l10-.1 12,1.3 12,2.2 8,2.8 22,10.8 5.1,3.2 2.9,2.6 4,5.2 2.1,4.2 1.3,4 1.3,16 -.9,12 -1,6 -1.7,6 -3.1,8.1 -3,5.9 -5,6.2 -6,4.9 -8,4 -16,5.7 -6,3.8 -3.1,3.4 -6.9,7.6 -6,3.7 -4,1.4 -4,.7 -4,0 -6-1.2 -4-1.4 -6-3 -9-5.8 -5-4 -3.5-4 -2.6-4 -2-4 -1.2-4 -1.8-12 -.1-20 -1.9-14 -.4-16 1.3-6 2.2-4 4-4.8 8.8-9.2 6.7-6 8.5-5 6-2.3zM221.5,1206.9l-6.9,2 -6.5,4 -4,4 -6.3,8 -8.2,8 -2.4,4 -.7,2 -.2,4 0,14 .9,14 0,18 .6,6 1.5,8 1.4,4 2.5,4 10.4,10 9.1,6 8,2.7 4,.4 4-.4 6-2.6 4.8-4.1 7.2-10 4-5.2 4-2.7 6-2.3 12-2.9 8-2.6 4-2.4 2-1.7 3.4-4.2 3.2-6 2.5-6 2.7-12 .6-6 0-6 -1.5-14 -1.5-4 -2.6-4 -6.5-6 -4.3-2.5 -18-7.9 -10-3.6 -12-2.5 -12-1.5zM488.7,1262.9l14-.4 12,.8 10,1.7 6,1.9 4,1.8 3.3,2.2 10.5,10 3.3,4 2.9,5 6,8 1.1,3 .3,2 -.6,4 -.8,2.4 -1.1,1.6 -.9,.9 -2,1 -10,1.1 -32,.6 -22-.3 -10-1.3 -8.5-2 -9.5-3.5 -10-5.2 -8-5.2 -3.6-4.1 -1.4-4 -.1-2 .9-4 3.6-6 5.1-6 3.9-2 9.6-2.8 10-1.8zM487.1,1266.9l-10.9,2 -4.8,2 -1.4,2 -3,8 -.9,6 .4,2 1.9,2 3.3,2 5.4,2 7.6,1.7 14,1.5 14-.5 8-1 6-1.7 4-2.3 1.7-1.7 1-2 .2-2 -1.3-4 -8.4-12 -5.2-2.4 -10-2 -10-.3z" fill="#FF9090" stroke="#FF9090" stroke-width="0.6"/>
<path d="M384.7,1112.4l6-1.4 10,.2 7.7,1.7 3,2 1.1,2 0,2 -.8,2 -3.8,4 -5.2,3.1 -4,1.7 -6,1.2 -4-.1 -4-1.9 -2.2-2 -1.8-2.6 -1.7-5.4 .1-2 1.4-2zM220.7,1198.6l12,0 16,1.8 10,2 8,3.1 22,12.5 4,2.9 3.7,4 2.3,3.7 2,4.3 1.8,6 1.2,18 -.3,6 -1.4,10 -1.5,6 -3.3,10 -4.5,9.7 -6,8.9 -6,6.2 -6,3.5 -18,6.5 -4,2.3 -6.2,4.9 -5.8,3.8 -4,1.7 -4,1.1 -6,.8 -4,0 -6-.9 -6-1.9 -5.7-2.6 -14.2-8 -6.1-6 -2.6-4 -3.1-6 -1.4-4 -2.3-10 -.8-6 -.1-18 -.8-4 -3.8-8 -.5-2 .2-18 2.7-8 3.7-6 18.8-16 16-7.5zM219.9,1202.9l-9.2,3 -8.5,5 -6.7,6 -8.8,9.2 -4,4.8 -2.2,4 -1.3,6 .4,16 1.9,14 .1,20 1.8,12 2.1,6 2.3,4 3.1,4 3.8,3.8 14,9.1 6,2.6 4,1.2 4,.7 4,0 4-.7 4-1.4 6-3.7 8-8.9 4-3.6 4-2.3 16-5.7 8-4 6-4.9 5-6.2 3-5.9 3.1-8.1 1.7-6 1-6 .9-12 -1.3-16 -1.3-4 -2.1-4.2 -4-5.2 -2.9-2.6 -5.1-3.2 -22-10.8 -8-2.8 -14-2.5 -12-1.1zM472.7,1260.7l18-1.5 16-.1 14,1.1 12,2.2 7.6,2.5 7.5,4 12,10 5.4,6 5.9,10 2.1,6 .8,18 -.8,4 -1.2,2 -3.3,2.3 -4,1.1 -4,.5 -42-.1 -40-.4 -38-2.3 -8.4-1.1 -7.6-1.8 -4.8-2.2 -2-2 -1.1-4 -.4-4 -.3-8 .3-2 6.3-10 5.5-12 6.1-8 2.8-2 3.6-1.8 6-1.9 12-2.5zM488.1,1262.9l-13.4,1.4 -10,1.8 -9.6,2.8 -3.9,2 -5.1,6 -3.6,6 -.9,4 .1,2 1.4,4 3.6,4.1 8,5.2 10,5.2 9.5,3.5 8.5,2 10,1.3 24,.3 30-.6 10-1.1 2-1 .9-.9 1.1-1.6 .8-2.4 .6-4 -.3-2 -1.1-3 -6-8 -2.9-5 -3.3-4 -10.5-10 -3.3-2.2 -4-1.8 -6-1.9 -10-1.7 -12-.8z" fill="#FFA6A6" stroke="#FFA6A6" stroke-width="0.6"/>
<path d="M424.7,1096.6l16-1.3 6-.1 4,.5 4,1.2 3.2,2 1.5,2 .4,2 -1.3,2 -3.8,2.3 -4.7,1.7 -9.3,2.1 -4.7,1.9 -3.3,2.5 -6.9,9.5 -5.2,4 -6.3,4 -3.6,1.6 -8,1.8 -6,.7 -8,.2 -4-.5 -6.1-1.8 -2.5-2 -1.4-1.8 -3.2-6.2 -1.3-6 .1-2 .8-2 1.6-2 4-3.2 8-3.9 6-1.5 20-3.6zM383.5,1112.9l-3,2 -1.4,2 -.1,2 1.7,5.4 1.8,2.6 2.2,2 4,1.9 4,.1 6-1.2 6-2.7 4-2.8 3-3.3 .8-2 0-2 -1.8-2.6 -4-2 -8-1.3 -10,.3zM218.7,1194.7l6-.6 8,.2 22,2 10,2.5 4.9,2.1 5.1,2.9 18,12.5 4,3.5 2.4,3.1 3.6,7.8 1.8,6.2 1.6,16 -.2,10 -1.2,10 -4.9,18 -3.1,8.8 -4,9.2 -3.3,6 -2.7,3.5 -4,3.3 -6,3.4 -18,7.2 -14.8,6.6 -9.2,2.4 -10,.9 -10-1.1 -10-3.1 -15.5-7.1 -4.5-3 -3.5-3 -3.4-4 -7.1-11.4 -6.3-8.6 -5.7-4.8 -12.1-7.2 -.8-2 .4-16 -1.1-2 -6.8-8 -1.4-4 .4-2 1.4-2 8-8 2.8-4 6.7-12 3.1-4 2.4-2 15-8 10-7.6 4-2.5 20-7.8zM219.1,1198.9l-10.4,3.3 -14,6.7 -18.8,16 -4.6,8 -1.4,4 -.5,4 -.1,16 .5,2 3.8,8 .8,4 .1,18 1.2,8 1.9,8 1.4,4 3.1,6 4.3,6 6.3,5.3 14,7.6 10,3.6 6,.9 4,0 6-.8 4-1.1 6-2.9 4-2.8 6-4.7 4-2.3 18-6.5 6-3.5 6-6.2 6-8.9 4.5-9.7 3.3-10 1.5-6 1.4-10 .3-6 -1.2-18 -1.8-6 -2-4.3 -2.3-3.7 -3.7-4 -4-2.9 -22-12.5 -8-3.1 -12-2.3 -18-1.7 -6,0zM490.7,1254.8l12-.3 10,.3 10,.8 10,1.6 8,1.9 6,1.9 6,2.7 6,3.6 4,3.4 4,4.2 7.8,10 6.8,14 4.7,16 1.7,4 3.2,4 6.8,6 1.6,2 .8,2 -.1,4 -1.3,4.2 -1.9,1.8 -2.1,.9 -6,1.2 -8-.3 -14-3.2 -8-.9 -60-.1 -18,.8 -30,2.5 -22-.2 -18-1.5 -20-2.6 -2-1.5 -1.4-3.1 .8-18 .7-4 1.9-4.7 4.8-7.3 13.3-12 9.8-14 3.4-4 2.3-2 8.4-4.7 10.9-3.3 23.1-3.7zM470.7,1260.9l-13.2,2 -12.8,2.9 -6,2.3 -4.4,2.8 -6.1,8 -5.5,12 -6.3,10 -.3,2 .3,8 .4,4 1.1,4 2,2 4.8,2.2 7.6,1.8 10.4,1.3 38,2.2 40,.3 40,.1 4-.5 4-1.1 3.3-2.3 1.2-2 .8-4 -.8-18 -2.1-6 -5.9-10 -5.4-6 -12-10 -7.5-4 -7.6-2.5 -12-2.2 -16-1.2 -16,.3z" fill="#FFC0C0" stroke="#FFC0C0" stroke-width="0.6"/>
<path d="M418.7,1086.8l14-1.3 14-.5 6,.5 7.1,1.4 6.9,3.1 4,3 3.1,3.9 1.3,4 .1,2 -.8,2 -1.9,2 -2.8,2 -21.1,10 -3.9,2.5 -9.7,7.5 -6.2,4 -4,2 -6.4,2 -11.7,2.2 -14,1 -10-.6 -8-1.8 -5.5-2.8 -1.7-2 -3.5-8 -1-6 .7-4 2.7-4 14.3-12.4 4-2.9 4-2.1 8-2.3 12-2.7zM423.8,1096.9l-15.1,4.2 -18,3.2 -6,1.5 -8,3.9 -4,3.2 -1.6,2 -.8,2 -.1,2 1.3,6 3.2,6.2 1.4,1.8 2.5,2 6.1,1.8 4,.5 10-.3 6-.9 4.9-1.1 4.7-2 9.1-6 4.1-4 5.2-7.5 3.3-2.5 4.7-1.9 9.3-2.1 4.7-1.7 3.8-2.3 1.3-2 -.4-2 -1.5-2 -3.2-2 -4-1.2 -4-.5 -8,.2 -12,.9zM220.7,1190.7l12-.3 18,.5 8,.5 8,1.3 6,2 4,2.2 12,9.6 8,7.7 4,4.7 2.2,4 2.7,8 1.9,8 1.3,14 -.2,10 -1,10 -6.9,27.2 -4.7,14.8 -1.8,4 -2.5,4 -3,3.2 -4,3 -10,5.4 -11.6,4.4 -13.5,4 -10.5,2 -10.4,.8 -10-.2 -10-1.6 -10.5-3 -11.4-4 -7.2-4 -5.1-4 -11.8-11.3 -4-3.2 -6-3.7 -10-4.8 -28.2-11 -7.4-4 -2.3-2 -.8-2 -.8-12 .7-18 .5-2 3-4 12.2-10 17.5-16 5.9-4 8.7-4 19-7.2 10.9-6.8 5.1-2.5 22.8-7.5zM217.7,1194.9l-7,2.1 -20,7.8 -4,2.5 -10,7.6 -15,8 -2.4,2 -3.1,4 -6.7,12 -2.8,4 -8,8 -1.4,2 -.4,2 1.4,4 6.8,8 1.1,2 -.4,16 .8,2 12.1,7.2 5.7,4.8 6.3,8.6 7.1,11.4 3.4,4 4.8,4 4.7,2.8 16,7 10,2.8 10,.7 10-1.2 8-2.4 14-6.3 18.5-7.4 6.6-4 4.2-4 3.7-6 5-11.2 2.5-6.8 4.1-14 1.4-6 1-8 .3-14 -.8-10 -1.1-6 -2.1-6 -3.3-6.6 -2-2.5 -4-3.5 -18-12.5 -5.1-2.9 -4.9-2.1 -10-2.5 -22-2 -10-.1zM504.7,1248.9l22,.6 16,2.2 8,2.2 6,2.5 8,5.3 6,6.2 12.4,17 7.7,14 8.2,18 2.8,4 5.9,6 4.1,6 2.9,6.6 2.1,7.7 -124.1,0 -109.9,0 -2.5-4.3 -1.4-6 0-8 1.3-12 3-14 1.5-4 2-3.1 10.1-8.9 14-16 4.9-4 5-3.1 11.6-4.9 12.4-3.2 34-5.1 14-1.3zM489.6,1254.9l-24.9,2.6 -21.1,3.4 -10.9,3.3 -8.4,4.7 -2.3,2 -3.4,4 -9.8,14 -13.3,12 -4.8,7.3 -1.9,4.7 -.7,4 -.8,18 1.4,3.1 2,1.5 20,2.6 18,1.5 20,.2 34-2.7 18-.6 58,.1 8,.9 14,3.2 8,.3 6-1.2 2.1-.9 1.9-1.8 1.3-4.2 .1-4 -.8-2 -1.6-2 -6.8-6 -3.2-4 -1.7-4 -4.7-16 -6.8-14 -7.8-10 -4-4.2 -4-3.4 -6-3.6 -6-2.7 -6-1.9 -8-1.9 -10-1.6 -10-.8 -12-.3z" fill="#FFD8D8" stroke="#FFD8D8" stroke-width="0.6"/>
<path d="M534.7,1042.9l40.9,0 -2.9,1.1 -10,2.2 -10,.4 -12-1.2 -6-1.7 -1.9-.8zM434.7,1046.8l12-.6 14,.9 9,1.8 5,2 2.9,2 1.4,2 .3,2 -.9,2 -3.7,2.9 -4,1.8 -6,1.5 -12,1.4 -16,0 -14-1.2 -9.6-2.4 -4.4-2.8 -1-1.2 -.8-2 .5-2 2.6-2 4.6-2 7.1-2zM414.7,1076.9l34-.9 20,1.5 10,2 6,2 4,2.1 1.5,1.3 1.1,2 .8,16 -1,2 -2.1,2 -6.3,4 -16.1,8 -18.6,12 -9.3,4 -10,2.9 -15.7,3.1 -14.3,1.3 -12,.1 -11.6-1.4 -7.1-2 -4.1-2 -2.6-2 -3.1-6 -1.8-6 -.5-6 1.4-4 2.8-4 5.1-6 9.5-13.2 6.2-6.8 3.8-2.7 4-1.5zM417.7,1086.9l-11,2 -10,2.3 -8,2.3 -4,2.1 -4,2.9 -14.3,12.4 -2.7,4 -.7,4 1,6 3.5,8 1.7,2 5.5,2.8 8,1.8 10,.6 14-1 12-2.3 6.1-1.9 4-2 6.2-4 9.7-7.5 3.9-2.5 21.1-10 2.8-2 1.9-2 .8-2 -.1-2 -1.3-4 -3.1-3.9 -6-4.1 -6-2.3 -6-1.1 -8-.5 -14,.6zM534.7,1096.6l10-.9 12,.1 6,1.1 4,1.7 2.7,2.3 .5,2 -1,2 -4.2,3.1 -6,2.1 -6,0 -14-1.6 -7.8-1.6 -5.5-2 -2.4-2 .5-2 3.2-2.2zM226.7,1186.9l42-1 6,.4 6,1.4 2,1.5 11.1,11.7 10.1,16 2.8,7.2 3.3,14.8 1.4,14 -.1,14 -.8,8 -3.3,12 -4.5,21.7 -3.8,14.3 -2.2,5.1 -2,2.9 -2,2.1 -4,2.9 -14,6.8 -14.8,4.5 -57.2,0 -16-3.4 -10-3.6 -5.6-3.3 -8.4-6.3 -8-5.2 -10-5.3 -22-9.9 -8-4.9 -9.2-6.4 -17.5-10 -1.4-2 -.7-2 -2.3-10 -.3-20 1.4-3.4 1.9-2.6 18.1-19.7 10-9.3 8-5.2 9.7-3.8 50.3-16 30-6.6zM218.9,1190.9l-9.4,2 -22.8,7.5 -5.1,2.5 -10.9,6.8 -19,7.2 -8.7,4 -5.9,4 -17.5,16 -12.2,10 -3,4 -.5,2 -.7,18 .8,12 .8,2 2.3,2 7.4,4 28.2,11 10,4.8 6,3.7 4,3.2 11.8,11.3 5.1,4 7.2,4 11.9,4.1 10,2.9 10,1.6 10,.2 10.4-.8 10.5-2 13.5-4 11.6-4.4 10-5.4 4-3 3-3.2 2.5-4 1.8-4 4.7-14.8 6.9-27.2 1-10 .2-10 -1.3-14 -1.9-8 -2.7-8 -2.2-4 -4-4.7 -8-7.7 -12-9.6 -4-2.2 -6-2 -8-1.3 -12-.7 -18-.3zM530.7,1242.9l20,0 6,.2 2,.5 4,3.2 5,6.1 7,7.4 17.4,24.6 6.1,10 10.2,22 8.3,12.5 2.1,5.5 3.3,12.3 -5.3,0 -2.1-7.7 -2.9-6.6 -4.1-6 -5.9-6 -2.8-4 -8.2-18 -9-16 -13.1-17.4 -4-3.8 -6-4.2 -8-3.6 -8-2.2 -10-1.6 -14-1 -14-.2 -14,.5 -14.9,1.5 -17.1,2.4 -14,2.4 -10,2.4 -8,2.9 -7.9,3.9 -8,6 -14,16 -10.1,8.9 -2.8,5.1 -2.3,8 -1.4,8 -1.3,12 -.1,6 .4,4 1.1,4 2.5,4.3 -17,0 3.2-18.3 4.8-22 3.8-12 3.2-6 16.4-16 7.3-6 8.2-5.2 10-4.8 10-3.6 10-2.5 24.5-3.9 17.5-2 16-1.1z" fill="#FFDCDC" stroke="#FFDCDC" stroke-width="0.6"/>
<path d="M60.7,1042.9l108.7,0 9.3,5.9 12.4,10.1 7.6,3.6 16.1,6.4 2.5,2 -.1,2 -1.7,2 -8.8,7.3 -6.9,6.7 -4.2,2 -10.9,2.6 -20,1.6 -8,1.2 -8,2.5 -2.7,2.1 -.6,2 -.1,48 -1.2,6 -2.9,8 -4.5,2.7 -10,3.1 -8,1.5 -21.2,2.7 -6.8,2 -2.5,2 -.5,2 -1.2,10 .3,8 1.1,2 2.8,1.1 4,.1 12-1.2 13.9-2 28.8-6 37.3-4.2 11.9-1.8 16.1-3.2 18.2-2.8 2.5-2 -2.4-2 -6.2-2 -12.1-2.7 -8-2.3 -7.1-3 -2.3-2 0-4 .9-4 3.2-6 4.2-4 4.3-2 4.8-1.3 8-1.1 6,.4 6,1.6 22,7.9 28.2,6.5 3.1,2 1.4,2 .2,2 -2.2,10 -.2,4 .5,4 2,4 1.6,2 7,6 3,4 1.8,4 5.6,16.5 3.6,19.5 1.6,12 .3,22 -4.3,16 -6.4,40 -1.8,6 -2.4,4 -4.6,4.1 -4,2.1 -5.4,2.1 -25.4,0 8.8-2.4 10-3.8 8.3-4.1 5.7-3.9 3.4-4.1 2.1-4 2.5-7.8 1.9-8.2 4.6-22 3.3-12 .6-4 .3-18 -1.4-14 -1.6-8 -2-8 -2.5-6 -11.2-17.4 -10-10.3 -2-1.5 -8-1.6 -16-.2 -32,1.1 -12,1.3 -32,7.1 -52,16.8 -9.9,4.7 -7.6,6 -8.5,8.4 -16,17.4 -2.8,4.2 -.8,4 .5,18 2.3,10 .7,2 1.4,2 17.5,10 9.2,6.4 8,4.9 22,9.9 10,5.3 8,5.2 8.4,6.3 5.6,3.3 10,3.6 16,3.4 -29.3,0 -2.7-1.1 -18-11.7 -24.3-11.5 -11-6 -6.7-4.7 -10.1-9.3 -3.9-3.1 -6-3.5 -15.8-7.4 -2-2 -2.9-6 -2.4-8 -2-12 0-8 1.3-6 3.8-11.2 6-12.8 6.1-10 .5-4 -.6-3 -.6-1 -1.4-.8 -6-.7 -16,.3 0-31.4 5.7-1.4 2.3-1.1 3.2-2.9 .9-4 .4-12 -.3-4 -2.6-4 -4.7-4 -4.9-3.4 0-92.6zM392.7,1044.8l8.8-1.9 131.3,0 3.9,1.5 6,1.3 6,.7 8,.2 10-1 8.9-2.7 25.9,0 -2.8,3.7 -2.7,2.3 -13.3,7.3 -3.6,2.7 -3,4 -2,6 -2,10 -.8,8 .9,2 9.7,8 2.3,4 .3,2 -.6,2 -1.2,2 -8.6,8 -1.2,2 -.1,2 .5,2 3.9,8 1,4 -.5,4 -1.3,4 -5,8 -3.9,2 -4.8,1 -6,.4 -6-1.4 -2.6-2 -8.9-12 -5.4-10 -3.1-4 -2.9-2 -5.1-2.1 -7.9-1.9 -8.1-1 -6-.2 -4,.4 -10,2.8 -10,4.3 -17.7,9.7 -8.3,3.1 -20,4.6 -14,2.3 -20,1.6 -16-.4 -8.9-1.2 -7.1-1.7 -5.8-2.3 -3.4-2 -2.3-2 -1.3-2 -3-8 -1-6 0-2 1.1-4 6.1-10 6.9-14 7.8-18 3.8-12 2-4 3.1-3.5 3.3-2.5 4.7-2.3zM433.5,1046.9l-11.8,2 -7.1,2 -4.6,2 -2.6,2 -.5,2 .8,2 1.8,2 5.2,2.6 10,2.1 14,1 16-.2 12-1.7 8-2.9 3.7-2.9 .9-2 -.3-2 -1.4-2 -2.9-2 -5-2 -9-1.8 -14-.9zM414.3,1076.9l-25.6,1.8 -4,1.5 -4,2.9 -6,6.6 -9.5,13.2 -5.1,6 -2.8,4 -1.4,4 .2,4 .8,4 2.1,6 2.3,4 2.6,2 4.1,2 8.7,2.3 12,1.2 14-.4 14-1.7 14-3 8-2.4 9.3-4 18.6-12 16.1-8 6.3-4 2.1-2 1-2 -.8-16 -1.1-2 -1.5-1.3 -4-2.1 -6-2 -10-2 -20-1.5zM533,1096.9l-6.7,2 -2.8,2 -.5,2 2.4,2 5.5,2 7.8,1.6 14,1.6 4,.1 4-.6 6-2.7 2.2-2 1-2 -.5-2 -.7-.7 -4-2.6 -6-1.6 -6-.3 -10,.1zM214.7,1110.7l12-.5 4,.5 6,2.2 2.5,2 1.3,2 0,2 -1,2 -2,2 -2.8,1.8 -6,2.2 -6,.4 -8-.6 -8.4-1.8 -5.6-2.4 -2.2-1.6 -1.3-2 .1-2 1.8-2 1.6-.9 6-2zM536.7,1236.8l20-1.5 4,1 5.8,4.6 6.8,8 9.7,10 7.5,12 10.3,14 4.5,8 10.7,26 5.6,12 4.5,16.3 -4,0 -3.3-12.3 -2.1-5.5 -8.3-12.5 -8.2-18 -6.8-12 -18.2-26 -7.5-8 -5-6.1 -4-3.2 -4-.6 -14-.2 -42,1.1 -20,1.6 -26,3.6 -10.4,1.8 -9.6,2.4 -10,3.6 -8.5,4 -6.8,4 -5.5,4 -19.4,18 -4.1,6 -4.6,14 -4.8,22 -3.2,18.3 -9.7,0 2.1-4.3 2.1-8 2.7-16 1.7-16 2-7.3 4-9.1 2.3-3.6 3.5-4 7.2-6 12-8 10.2-6 12.4-6 10.4-3.7 9.7-2.3 24.3-3.7 18-2.1z" fill="#FFF0F0" stroke="#FFF0F0" stroke-width="0.6"/>
<path d="M170.7,1042.9l135.1,0 -.1,14 -1,2.7 -3.1,3.3 -3.1,2 -5.8,2.6 -26,8.6 -8,3.1 -7,3.7 -2.4,2 -1.1,2 .9,6 3.5,10 5.3,8 2,6 0,2 -.9,4 -3.5,8 -.4,2 .4,2 1.8,2 5.4,3 18,6 4,1.9 10,7.4 3.2,3.7 1.1,2 .6,2 0,2 -5.8,8 -1.4,4 -.2,4 1.5,4 1.5,2 3.5,3 7.6,5 1.9,4 2.5,14.3 1.8,15.7 3.6,20 .8,8 .4,16 -.8,4 -3.3,10 -1.9,10 -2.1,18 -.7,20 -1.8,9.8 -1.3,2.5 -20.1,0 7.4-3 4-2.6 4-4.7 1.8-4 1.4-6 6-38 4-14 .3-4 -.1-18 -1.8-14 -3.3-18 -2.3-8.1 -5.4-13.9 -3-4 -7-6 -1.6-2 -2-4 -.5-4 .2-4 2.2-10 -.2-2 -1.4-2 -3.3-2.1 -28-6.4 -22-7.9 -8-1.9 -6,.1 -6,.9 -6,1.8 -4,2.2 -3.3,3.3 -2.5,4 -1.6,6 0,4 2.3,2 7.1,3 8,2.3 12.1,2.7 6.2,2 2.4,2 -2.5,2 -18.2,2.8 -16.1,3.2 -11.9,1.8 -37.3,4.2 -34.7,6.9 -20,2.3 -4-.1 -2.8-1.1 -1.1-2 -.3-2 .3-10 1.4-8 2.5-2 6.8-2 21.2-2.7 8-1.5 10-3.1 4.5-2.7 2.9-8 1.2-6 .1-48 .6-2 2.7-2.1 8-2.5 8-1.2 20-1.6 10.9-2.6 4.2-2 6.9-6.7 8.8-7.3 1.7-2 .1-2 -2.5-2 -16.1-6.4 -7.6-3.6 -12.4-10.1 -9.3-5.9zM212.8,1110.9l-8.1,1.6 -5.6,2.4 -1.8,2 -.1,2 1.3,2 4.2,2.7 6,2 8,1.3 8,.5 6-1 4-1.7 2.8-1.8 2-2 1-2 0-2 -1.3-2 -4.5-3 -6-1.6 -8,0zM157.1,1172.9l-12.8,4 -2.9,2 .6,2 .7,.4 4,1.7 10,1.4 12,.2 10-.7 7.1-1 6.9-2 1.3-2 -2.4-2 -10.9-4 -8-1.5 -8,.1zM358.7,1044.6l1.5-1.7 41.3,0 -10.8,2.4 -6,2.2 -5.5,3.4 -3.6,4 -2,4 -3.8,12 -7.8,18 -6.9,14 -5.1,8 -1.7,4 -.4,4 1,6 2.1,6 2.2,4 3.5,2.8 6,2.8 6,1.7 8,1.5 12,.9 16-.5 16-1.8 18.1-3.4 15.5-4 8.5-4 15.9-8.7 10-4 8-2.1 8-.3 8,.8 8,1.6 6,2.1 4,2.6 3.1,4 5.4,10 8.9,12 2.5,2 6.1,1.4 6-.4 4.8-1 3.9-2 1.5-2 3.5-6 1.7-6 -.2-4 -4.6-10 -.5-2 .1-2 1.2-2 8.6-8 1.2-2 .6-2 -.3-2 -2.3-4 -9.7-8 -.9-2 .8-8 2.5-12 1.5-4 3-4 3.6-2.7 13.3-7.3 2.7-2.3 2.8-3.7 66,0 0,42 0,63.8 -2.8-4.9 -6.5-8.9 -3.1-6 -2.4-6 -.7-6 1.7-10 .3-6 -.9-4 -3.5-10 -2.2-8 -2.7-5.7 -2.3-2.3 -5.9-2 -9.8-1.2 -14-.6 -6,.5 -3.8,1.3 -2.2,1.5 -2,2.5 -2.9,6 -1.2,4 -.4,4 .3,2 4,10 .5,4 -.3,4 -.8,4 -3.8,10 -3,22 -2.9,6 -3.3,2 -8.2,2.4 -10,1.7 -10,.5 -6-1 -3.8-1.6 -3.1-2 -11.1-12.1 -8-6.5 -4-2.6 -8-3.2 -10-1.4 -6,.2 -8,1.5 -8,2.6 -13.6,5.5 -6.4,2.1 -12,3.1 -16,2.8 -16,2.3 -16,1.2 -14,.2 -14-1.1 -8-1.2 -8-2.1 -6-2.4 -5.5-2.9 -2.7-2 -5.8-6.9 -3.4-3.1 -1.6-2 -1.6-4 .1-2 .8-2 1.6-2 4.1-3.4 4-5 6-13.4 3-12.2 4-24 2.3-6zM60.7,1136.9l7.6,6 2.6,4 .2,6 -.5,12 -.7,2 -3.2,2.9 -2.3,1.1 -5.7,1.4 0-36.8zM60.7,1203.6l14-.2 6,.7 1.4,.8 .6,1 .6,3 -.5,4 -6.1,10 -6,12.8 -3.8,11.2 -1.3,6 0,8 2,12 2.4,8 2.9,6 2,2 15.8,7.4 6,3.5 3.9,3.1 10.1,9.3 6.7,4.7 11,6 24.3,11.5 12,8 4,2.6 4.7,2.2 -13.4,0 -5.4-4.3 -5.9-3.6 -27.9-12.4 -10.1-6.6 -15.6-15.4 -4.7-4 -9.7-5.2 -17.4-6.8 -2.6-2 -2-2.9 0-80.3zM544.7,1230.8l12-.8 4,1.2 9.6,7.7 8.4,8.4 8,6.8 2.4,2.8 7.6,12 10,13.4 4,7.3 2,5 6.9,22.3 5.6,14 4.5,16.3 -3.6,0 -3.2-12.3 -2.1-6 -4.8-10 -9.3-23 -4.7-9 -11.5-16 -7.5-12 -9.7-10 -6.8-8 -5.8-4.6 -4-1 -4,.2 -32,2.8 -36,2.5 -19.8,2.1 -20.2,2.9 -10,1.9 -8,2.2 -8.4,3 -8.6,4 -10.8,6 -12.3,8 -7.9,5.9 -4.1,4.1 -4.1,6 -4.8,12 -1.3,6 -1.4,14 -2.7,16 -2.1,8 -2.1,4.3 -5.8,0 3.5-6.3 2.1-8 1.6-12 .3-20 1.2-6 3.6-10 3.4-6 5.4-6 7.6-6 18.5-10 12.1-6 9.1-3.5 9.3-2.5 10.4-2 14.4-2 59.9-5.7z" fill="#F4FFF4" stroke="#F4FFF4" stroke-width="0.6"/>
<path d="M306.7,1042.9l53.5,0 -4.2,6 -2.3,6 -4.4,26 -3.3,12 -5.3,11.6 -4,5 -4.1,3.4 -1.6,2 -.8,2 -.1,2 1.6,4 5,5.1 5.8,6.9 6.2,4 4.4,2 7.6,2.4 8,1.7 10,1.2 12,.4 14-.4 14-1.3 14.3-2 15.7-2.8 12.5-3.2 19.5-7.5 8-2.6 8-1.5 6-.2 10,1.4 8,3.2 4,2.6 8,6.5 11.1,12.1 3.1,2 3.8,1.6 4,.9 8,0 8-.9 7.6-1.6 6.6-2 3.3-2 2.9-6 2.6-20 1-4 3.2-8 1-6 -.4-6 -4-10 -.2-4 .8-4 1.5-4 3.5-6 2.6-1.9 2-.8 4-.9 4-.2 20,1.2 4,.6 5.7,2 2.3,2.3 2,3.7 6.9,22 .4,6 -2,12 .7,6 2.4,6 3.1,6 6.5,8.9 2.8,4.9 0,61.6 -7-5.4 -5.1-6 -1.7-4 -2.3-12 -1.4-4 -3.4-6 -6.1-8 -3.9-4 -3.9-2.8 -18-8.8 -2-.4 -2,.4 -2,1.6 -4,2 -6.3,2 -9.7,1.4 -16,1.5 -10,.6 -8-.2 -4-.9 -6-2.5 -5.9-3.9 -7.8-8 -6.3-4.6 -10-4.6 -6-1.7 -6-.7 -6,.2 -6,.9 -32.1,8.5 -9.9,2.2 -24,3.4 -18,1.7 -18,.5 -18-.9 -12-1.6 -20-4.6 -6-.6 -14,.2 -10.2,1.7 -2.4,2 -1,2 -.3,2 2.1,10 .1,6 -8.7,8 -2.1,4 -.2,4 1.9,4 1.9,2 4.9,3.1 6.2,2.9 2.1,2 1.2,32 4.9,26 1.3,18 -.8,6 -3,8 -2.2,8 -2.1,14 -.9,12 -.1,28.3 -5.9,0 1.8-4.3 1.1-6 .9-22 2.4-20 1.6-8 3.3-10 .8-4 -1-22 -3.8-22 -3.7-28 -1.3-4 -1.2-2 -9.6-6.6 -3-3.4 -.9-2 -.7-4 .8-4 2.1-4 4.6-6 0-2 -.6-2 -2.3-3.5 -4-3.9 -8-5.7 -4-1.9 -18-6 -5.4-3 -1.8-2 -.4-2 .4-2 3.5-8 .9-4 0-2 -2-6 -5.3-8 -3.5-10 -.9-6 1.1-2 2.4-2 7-3.7 8-3.1 26-8.6 5.8-2.6 3.1-2 3.1-3.3 1-2.7 .1-14zM609,1128.9l-2.7,2 -.9,2 .8,6 2.5,5.6 2,2.7 2,1.7 4.8-4 3.2-3.7 1-2.3 1-6 -1.4-2 -4.3-2 -4.3-.6zM158.7,1172.5l8-1.1 8,.3 8,1.8 8.9,3.4 2.4,2 -1.3,2 -6.9,2 -9.1,1.2 -10,.6 -12-.4 -8.6-1.4 -4.1-2 -.6-2 2.9-2 5.5-2zM542.7,1226.8l14-1 2,.3 4,2.2 26.7,22.6 3.8,4 15.5,20 4,6.1 2.5,5.9 6.2,24 7.2,20 4.7,16.3 -3.6,0 -3.9-14.3 -6.2-16 -6.9-22.3 -2.3-5.7 -3.3-6 -10.4-14 -9.2-14 -8.8-7.6 -8.4-8.4 -9.6-7.7 -4-1.2 -10,.6 -34,4.6 -41.3,3.7 -24.7,2.8 -20,3.5 -8,2.2 -9.1,3.5 -28.9,14.9 -7.1,5.1 -4.9,4.7 -4,5.3 -2,3.7 -4,11.5 -1,6.8 -.2,18 -1.6,12 -2.1,8 -3.5,6.3 -3.6,0 3.9-8.3 1.5-6 1.3-14 -.7-19.4 1.1-6.6 2-8 2.9-7 3.5-5 4.2-4 10.3-7.6 8-4.3 18-8.5 9.7-3.6 10.3-2.6 7.4-1.4 14.6-1.8 64-6.7zM59.3,1284.9l1.4,2 2.6,2 17.4,6.8 8,4.1 4.2,3.1 13.8,13.9 7.5,6.1 10.6,6 19.9,8.4 6,3.1 9.3,6.8 -3.3,0 -4.4,0 -3.6-2.6 -6-3.4 -21.7-8.3 -8.3-4.2 -6-4.6 -14-15.3 -9.1-7.9 -8.9-4.5 -16-5.4 0-7z" fill="#E0FFE0" stroke="#E0FFE0" stroke-width="0.6"/>
<path d="M610.7,1128.4l4,.1 4,1 2.6,1.4 1.4,2 -.4,4 -1.5,4 -2.1,3 -2,1.9 -4,3.1 -2-1.7 -2-2.7 -2-4 -.9-3.6 -.4-4 1.3-2.4 2-1.5zM488.7,1132.8l8-1.3 6-.2 6,.7 6,1.7 6,2.5 6,3.4 6,4.8 6.1,6.5 3.9,2.8 6,2.9 6,1.6 14-.1 26-2.5 8-2 6-2.7 2-1.6 2-.4 2,.4 16,7.7 4,2.4 4,3.5 5,6 5.3,8 1.8,4 2.9,14 1.7,4 5.1,6 7,5.4 0,12.9 -4.8-2 -4-2.4 -9.2-7.9 -7.1-8 -4.6-6 -11.1-18.1 -4-4.3 -6-4.4 -10-4.1 -12-2.6 -12-1.2 -26-.8 -6-1.2 -6-2.5 -6-3.6 -4.3-3.2 -6.2-6 -5.5-3.8 -6-2.7 -6-1.7 -8-1.1 -12,.8 -10,1.8 -32,7.5 -22,2.9 -14,1.1 -18,.7 -18-.1 -18-.8 -22-2 -8,.3 -4.8,1.1 -3.6,2 -2.9,4 -3.9,10 -11.2,8 -1.6,2 -1.6,4 .2,2 .8,2 2.6,3 4,2.5 9.9,4.5 1.3,2 -1.6,14 -.3,18 5.6,26 1.1,10 .4,10 -1.2,6 -3.2,8 -2.4,8 -2.3,14 -.7,8 -.2,18 1.1,12.3 -2.9,0 .3-34.3 2.4-18 2-8 3.6-10 .8-6 -1.3-18 -4.9-26 -1.2-32 -2.1-2 -6.2-2.9 -4.9-3.1 -3.1-4 -.8-4 .8-3.2 1.6-2.8 8.7-8 -.1-6 -2.1-10 .3-2 1-2 2.6-2.1 4-.9 8-.9 10-.1 8,.7 18,4.3 14,1.9 18,.9 18-.5 18-1.7 24.9-3.6 9-2zM534.7,1224.7l12-1.2 10-.5 2,.1 4,1.5 10,9.4 10.3,6.9 5.7,4.7 9.4,9.3 14.6,15.8 2.7,4.2 2.5,6 6.3,28 13,38.3 -3.9,0 -4.7-16.3 -7.2-20 -5.6-22 -2.2-6 -2.1-4 -16.8-22 -4-4.7 -4-3.8 -26-21.5 -4-1.1 -10,.5 -38,6.1 -54,5.7 -26,3 -12,2.6 -10.1,3.2 -9.3,4 -18.6,9.2 -4.3,2.8 -10.3,8 -3.5,4 -2.4,4 -2.4,6 -2,8 -1.2,8 .8,18 -1.1,12 -1.7,8 -3.9,8.3 -2.3,0 3.2-8.3 1.7-10 .6-12 -1.2-11.8 0-6.2 1.5-12 1.9-8 2.6-6 3.4-4 16.6-12 19.9-10 10.1-3.7 8.7-2.3 13.1-2 44.2-4.6 32-4zM60.7,1291.6l14,4.8 8.9,4.5 7.2,6 13.9,15.2 6,5.3 10.3,5.5 17.7,6.6 6,2.7 7.6,5 -3.6,0 -2.8,0 -9.2-4.9 -21.3-7.4 -7.8-4 -4.9-4 -11.7-14 -8.1-8 -5.4-4 -3.8-2 -7-2.8 -8-2.5 0-2.6z" fill="#DCFFDC" stroke="#DCFFDC" stroke-width="0.6"/>
<path d="M488.7,1136.7l8-.9 8-.1 6,1 6,1.7 6,2.7 4,2.6 7.7,7.2 6.3,4.5 6,3.2 6,2.1 6,.9 22,.5 12,1 12,2.3 8,2.8 4,1.9 6,4.4 4,4.3 11.1,18.1 4.6,6 7.1,8 9.2,7.9 4,2.4 4.8,2 0,12.8 -6.8-2.4 -6-4 -16-15 -10-11 -12-11.7 -6-5 -4-1.9 -4-1.3 -20-4.8 -4.7-2 -11.3-6 -12-4.5 -18-10.7 -14-11.1 -6-3.1 -6-1.9 -8-1 -12,.7 -12,2.1 -28,6.6 -24,2.5 -24,1.2 -48,.6 -16,1.1 -6.6,1.5 -5.4,3 -7,7 -13.6,8 -2.1,2 -1.3,2 -.6,2 .2,2 1,2 1.8,2 3.6,2.3 8.8,3.7 3.1,2 .8,2 -.4,4 -2.1,10 -.9,10 -.1,8 .6,4 3,10 2.4,12 1.1,12 .3,8 -1.5,8 -6.2,18 -2,12 -.6,8 -.2,16 .5,6 1.5,6.3 -2.6,0 -.6-4.3 -.5-10 .5-20 2.2-16 2.9-9.9 3.8-10.1 .6-6 -1.5-18 -5.6-26 .3-18 1.6-14 -1.3-2 -9.9-4.5 -4-2.5 -2.6-3 -.8-2 -.2-2 1.6-4 1.6-2 11.2-8 5.2-12.2 2-2.1 3.2-1.7 4.8-1.1 4-.4 6,.2 22,2 20,.7 22-.1 21.3-1.3 26.7-3.5 30-7.2zM532.7,1222.7l24-1.7 4,.5 3.7,1.4 2.6,2 7.7,8 4,2.8 6.7,3.2 3,2 10.3,10.3 16.9,13.7 3.1,4.6 2.8,7.4 4.3,26 1.5,6 14.4,38.3 -4.5,0 -5.3-16.3 -7.1-20 -1.7-6 -4.4-21.3 -2-5.9 -2.5-4.8 -3-4 -13.1-14 -9.4-9.3 -5.7-4.7 -10.3-6.9 -10-9.4 -4-1.5 -2-.1 -16,1 -7.2,.9 -28.8,5.1 -46,5.7 -36,3.7 -9.3,1.5 -10.7,3 -12,4.7 -14,7 -18.6,13.3 -2,2 -2.4,4 -1.6,4 -1.5,6 -2,16 1.3,16 -.4,10 -1.4,10 -3.7,10.3 -2.2,0 3.3-8.3 1.6-12 .4-10 -1-12 -.1-6 .4-12 .8-8 1.1-5.4 1.1-2.6 2.9-3.7 4-3 20-13 12.2-6.3 11.4-4 14.4-2.5 60-6.7zM60.7,1294.2l13,4.7 7,4.2 8.6,7.8 13.4,16 4.9,4 7.8,4 23.3,8.3 7.2,4 -3.2,0 -2.8,0 -9.2-4.2 -19.1-6.1 -8.2-4 -2.8-2 -3.9-3.9 -8.8-12.1 -5.5-6 -5.7-4.7 -4.9-3.3 -5.1-2.4 -8-2.8 0-2.1z" fill="#C6FFC6" stroke="#C6FFC6" stroke-width="0.6"/>
<path d="M494.7,1138.8l6-.3 6,.4 6,1.2 4,1.4 6.5,3.4 9.6,8 5.9,4.1 16,9.4 12,4.5 11.3,6 4.7,2 20,4.8 4,1.3 4,1.9 6,5 12,11.7 10,11 16,15 6,4 6.8,2.4 0,13.5 -11.2-4.6 -3.6-2.1 -4-3.2 -8-9.5 -5.9-9.2 -3.2-4 -14.9-12.3 -6-3.7 -6-3.1 -20-8 -28-12 -4-3.1 -10.1-11.8 -21.9-16.3 -4-2.2 -6-2.2 -8-1.1 -12,.7 -12,2.2 -19.6,4.9 -13.8,2 -32.6,1.9 -44,.9 -12,.9 -10,1.6 -12,3.8 -8.5,4.9 -13.5,6.1 -5.5,3.9 -1.5,2 -.7,2 .2,2 1.2,2 2.2,2 12.6,6 1.9,2 .4,2 -.5,6 -1.7,8 -1.1,8 -.5,10 .7,4 3.2,10 2.3,12 1.2,12 .2,8 -.7,6 -1.9,7.4 -4,10.6 -1.8,6 -1.9,12 -.3,22 1.2,6 .8,2 1.6,2.3 -3.6-.3 -1.6-8 -.3-8 .4-16 1.5-12 2-8 5.1-14 1.5-8 -.3-8 -1.1-12 -2.4-12 -3-10 -.6-4 .1-8 .9-10 2.1-10 .4-4 -.8-2 -1.9-1.3 -10.6-4.7 -3-2 -1.8-2 -1-2 -.2-2 .6-2 1.3-2 5-4 10.7-6 5-5.3 4-3.1 4-1.8 4-1 16-1.4 54-.7 30-1.9 16-2.1 28-6.6zM532.7,1220.8l24-1.6 4,.3 4,1.2 4,2.5 4.8,5.7 4.6,4 2.6,1.6 6.4,2.4 3.4,2 7.6,8 4.6,3.9 6,3.4 8,3.1 2.6,1.6 2.1,2 2.4,4 1.8,6 2.1,24 2.2,12 6.8,17.4 9.9,22.9 -4.9,0 -13-34.3 -2.9-10 -4.3-26 -2.1-6 -2.2-4 -3.6-4 -14.9-11.7 -10.3-10.3 -3-2 -6.7-3.2 -4-2.8 -7.7-8 -2.3-1.8 -4-1.6 -4-.5 -18,1.1 -12,1.5 -44,7 -22,2.9 -49.9,5.4 -12.1,2.5 -10,3.6 -14,7.3 -22,14.9 -2,2.3 -1.8,3.4 -1.5,8 -1,20 1.1,16 -.4,10 -1.6,12 -3.3,8.3 -2.3,0 2.4-4.3 1.9-6 1.5-14 0-6 -.9-12 -.3-14 .7-16 .6-4 1.5-4 1.4-2.1 4-3.2 22-13 10.5-5.7 4.3-2 5.2-1.3 17.8-2.7 52.2-5.8 38.7-6.2zM60.7,1296.4l11.1,4.5 8.3,6 7.8,8 8.8,12.1 3.9,3.9 2.8,2 8.2,4 23.1,7.7 5.2,2.6 -3.2,0 -2.6,0 -9.4-3.6 -15.8-4.7 -5.2-2 -5-2.7 -5.8-5.3 -7.8-12 -5.2-6 -4.5-4 -5.6-4 -5.1-2.8 -6-2.3 0-2.1z" fill="#A8FFA8" stroke="#A8FFA8" stroke-width="0.6"/>
<path d="M484.7,1142.7l10-1.4 10-.1 8,1.6 6,2.6 23.9,17.5 10.1,11.8 4,3.1 28,12 20,8 6,3.1 6,3.7 14.9,12.3 3.2,4 5.9,9.2 8,9.5 4,3.2 3.6,2.1 11.2,4.6 0,10.3 -6.8-1.7 -6-.9 -16-.6 -2,1.1 -.7,1.2 -2,4 -1.1,4 -2.2,20 1.4,16 2.5,8 11.6,24 5.3,12.3 -4.9,0 -9.9-22.9 -6.8-17.4 -2.2-12 -2.1-24 -1.1-4 -1.7-4 -3.5-4 -3.3-2 -7.3-2.7 -6-3.4 -4.6-3.9 -7.6-8 -3.4-2 -6.4-2.4 -2.6-1.6 -4.6-4 -5.1-6 -3.2-2 -2.5-.9 -6-.8 -18,1.1 -36,4.7 -36.7,5.9 -53.5,6 -14.6,2 -5.2,1.2 -3.2,.8 -4.3,2 -10.5,5.7 -20.9,12.3 -5.2,4 -1.9,3.1 -1.2,4.9 -.8,8 -.2,8 1.2,34 -1.1,12 -2.3,8 -2.4,4.3 -19.6,0 -1.6-2.3 -1.3-4 -.9-8 .4-16 .6-6 1.9-10 4.5-12 1.8-6 1.6-10 -.2-8 -1.2-12 -2.3-12 -3.2-10 -.7-4 .5-10 1.1-8 1.7-8 .5-6 -.4-2 -1.9-2 -10.5-4.8 -4.3-3.2 -1.2-2 -.2-2 .7-2 1.5-2 5.5-3.9 13.5-6.1 8.5-4.9 6-2.2 8-2 10-1.4 10-.7 44-.9 34-2 12.4-1.9zM486.4,1144.9l-23.7,5.5 -12,1.8 -32,1.7 -42,.9 -18,1.8 -12,2.9 -13.2,5.4 -12.8,4.4 -6,2.7 -4.3,2.9 -1.8,2 -.8,2 .2,2 1.4,2 2.7,2 10.6,5.2 2,2.8 .3,2 -.3,4.8 -2.7,19.2 -.4,8 .8,4 3,10 2.5,12 1.3,12 .2,8 -.6,6 -1.7,8 -6.4,18.7 -1.8,9.3 -.5,20 .7,4 1.6,3.6 2,1.6 4,1.7 8,1.4 2-.3 2-1.6 2-3.2 2.3-7.2 1.1-12 .1-8 -1.9-28 .3-14 1-6 1.8-4 3.6-4 6.8-4 10.9-5.1 8-4.7 7.7-4.2 4.3-1.8 10-1.9 58-6.7 38-6.3 30-4 18-1.8 18-1 6,1 5.2,2.5 2.2,2 4.5,6 2.1,1.9 2,1.3 8,2.7 3.9,2.1 2.4,2 5.7,6.7 6,4.4 6,1.8 10,.8 6-.1 4.9-1.6 1.1-1.9 .5-4.1 .1-4 -.7-4 -4.8-14 -3.1-4 -2.4-2 -3.6-2.3 -18-9.4 -20.4-8.3 -13.6-8 -14-5.9 -4-2.1 -4-4 -6-10 -3-4 -7.5-6 -14.4-10 -7.1-2.6 -6-.8 -8,.3zM60.7,1298.5l5.7,2.4 3.4,2 8.9,6.8 6.4,7.2 7.8,12 5.8,5.3 5,2.7 5,1.9 22,6.9 3.4,1.5 -3.4,0 -2.6,0 -21.4-6.4 -8-3 -5.1-2.9 -2.9-2.5 -2.9-3.5 -5.6-10 -4.5-6 -4.3-4 -4.7-3.5 -6-3.7 -4-1.8 0-2.1z" fill="#90FF90" stroke="#90FF90" stroke-width="0.6"/>
<path d="M486.7,1144.8l8-1 8-.3 6,.8 7.1,2.6 14.4,10 7.5,6 3,4 6,10 4,4 4,2.1 14,5.9 13.6,8 20.4,8.3 18,9.4 3.6,2.3 2.4,2 3.1,4 4.8,14 .7,4 -.1,4 -.5,4.1 -1.1,1.9 -4.9,1.6 -6,.1 -10-.8 -6-1.8 -6-4.4 -5.7-6.7 -2.4-2 -3.9-2.1 -8-2.7 -2-1.3 -2.1-1.9 -4.5-6 -2.2-2 -5.2-2.5 -6-1 -18,1 -18,1.8 -30,4 -38,6.3 -60,7 -6,1.1 -4,1.3 -12,6.4 -8,4.5 -10,4.7 -6,3.6 -3.3,3.8 -1.8,4 -1,6 -.3,14 1.9,28 -.1,8 -1.1,12 -2.3,7.2 -2,3.2 -2,1.6 -2,.3 -8-1.4 -4-1.7 -2-1.6 -1.6-3.6 -.7-4 .5-20 1.8-9.3 6.4-18.7 1.7-8 .6-6 -.2-8 -1.3-12 -2.5-12 -3-10 -.8-4 .4-8 2.7-19.2 .3-4.8 -.3-2 -2-2.8 -10.6-5.2 -2.7-2 -1.4-2 -.2-2 .8-2 1.8-2 4.3-2.9 6-2.7 12.8-4.4 13.2-5.4 12-2.9 18-1.8 42-.9 32-1.7 12-1.8zM489.8,1146.9l-21.1,4.5 -16,2.3 -32,1.4 -38,.7 -18,1.7 -10,2.3 -13.2,5.1 -18.8,5.4 -6,2.6 -3.2,2 -2,2 -.9,2 .3,2 1.6,2 2.2,1.4 8,4 2,2 1.2,2.6 .1,6 -2.3,20 -.3,8 .7,4 3,10 3,12 1.8,14 -.1,10 -1.8,10 -7.3,22 -1.4,6 -.4,18 .7,4 1.1,1.8 2.6,2.2 3.4,1.7 6,1.2 2-.3 2-2 2.1-4.6 1.6-10 .4-10 -2.8-28 -.5-18 .9-6 1.5-4 2.8-4.1 4-3.2 18-7.3 9.3-5.4 4.4-2 8.3-2.3 63.6-7.7 30.4-5.3 14-2 36-4.2 26-2 8,.8 4,1.4 2,1.2 2.3,2.1 3.4,6 1.7,2 2.6,1.4 8,2.2 4,1.9 4,3.4 5.5,7.1 4.5,2.8 4,.9 4-.1 4-.6 4-1.8 1.4-1.2 1.1-2 .3-2 -.5-6 -1.9-10 -1.1-2 -3.3-3.3 -6-3 -12.5-3.7 -11.9-6 -15.6-6.8 -4-2.4 -8.6-6.8 -15.7-8 -4.2-4 -6.3-12 -2.6-4 -7.1-6 -11.5-7.4 -6-2.6 -4-.8 -6-.1zM638.7,1256.6l16,.6 6,.9 6.8,1.7 0,6.4 -4.8-.3 -6,.3 -6,1.3 -4,1.8 -4,2.7 -4,3.6 -2,3.1 -1.5,4.2 -.5,4 .2,6 .7,10 1,4 12.7,24 3.8,8 3.3,8.3 -4.9,0 -5.3-12.3 -11.6-24 -2.5-8 -1.4-16 2-19.1 1.3-4.9 2-4 .7-1.2zM60.7,1300.7l10,6.1 7,6.1 4.5,6 5.6,10 2.9,3.5 2.9,2.5 3.3,2 5.8,2.5 25.4,7.8 -3.4,0 -3,0 -21-5.8 -6.3-2.5 -5.7-3.5 -4.3-4.5 -6.1-12 -2.7-4 -6.3-6 -10.6-6.7 0-2.3z" fill="#8CFF8C" stroke="#8CFF8C" stroke-width="0.6"/>
<path d="M490.7,1146.8l8-.8 6,.1 4,.8 6,2.6 11.5,7.4 7.1,6 2.6,4 6.3,12 4.2,4 15.7,8 8.6,6.8 4,2.4 15.6,6.8 11.9,6 12.5,3.7 6,3 3.3,3.3 1.1,2 1.9,10 .5,6 -.3,2 -1.1,2 -1.4,1.2 -4,1.8 -4,.6 -4,.1 -4-.9 -4.5-2.8 -5.5-7.1 -4-3.4 -4-1.9 -8-2.2 -2.6-1.4 -1.7-2 -3.4-6 -2.3-2.1 -2-1.2 -4-1.4 -8-.8 -26,2 -36,4.2 -14,2 -30.4,5.3 -63.6,7.7 -8.3,2.3 -4.4,2 -10.5,6 -14.8,5.8 -4,2.2 -3.6,4 -2.7,6 -.9,6 .4,16 2.9,32 -.9,12 -.6,4 -1.3,4 -1.3,2.6 -1.4,1.4 -.6,.6 -2,.3 -6-1.2 -3.4-1.7 -2.6-2.2 -1.1-1.8 -.7-4 .4-18 1.4-6 7.3-22 1.8-10 .1-10 -1.8-14 -3-12 -3-10 -.7-4 .3-8 2.3-20 -.1-6 -1.2-2.6 -2-2 -8-4 -2.2-1.4 -1.6-2 -.3-2 .9-2 2-2 3.2-2 6-2.6 18.8-5.4 13.2-5.1 10-2.3 18-1.7 38-.7 32-1.4 16-2.3zM496.7,1148.9l-30,4.9 -14,1.5 -30,1.1 -38,.6 -14,1.3 -11.8,2.6 -16,6 -16.2,3.8 -6,2.1 -3.9,2.1 -2.3,2 -1.1,2 .4,2 1.9,2 7,3.8 2,1.6 1.7,2.6 .7,2 0,6 -1.9,20 -.3,8 1.3,6 4.5,13.9 4,9.3 2,0 4.2-3.2 5.8-3.4 16-5.1 7-3.5 7-3.4 10-2.4 37.8-4.2 62.2-10 70.3-8 13.5-2 -.4-2 -7.5-6 -3.4-4 -4.1-6 -12.4-8.1 -4.4-3.9 -2.5-4 -5.5-12 -1.3-2 -4.3-4 -8-5.3 -8-3.7 -6-1.2zM587.5,1220.9l-2.3,2 -.6,2 2.1,2 10,2.9 4,2.3 2.8,2.8 3,6 2.2,2.6 2,.9 2,.3 4-.8 1.9-1 .9-2 -.8-14 -.4-2 -1.5-2 -4.1-1.7 -12-1 -8-.3zM334.2,1288.9l-1.5,2.5 -4,9.5 -3.4,10 -1.2,6 .5,12 1.3,6 2.8,3.1 4,1.7 2,.3 2-.5 2-2.7 1.9-7.9 .7-8 -.2-8 -2.4-16.2 -2-7.5 -2-1.5zM654.7,1266.5l6-.6 6.8,.3 0,5.7 -6.8,.6 -6,1.5 -6.5,2.9 -5.5,4.2 -2,2.8 -.8,3 0,16 .9,4 13.7,24 4.7,10 2.2,6.3 -5,0 -6.1-14.3 -13.6-25.6 -1.1-4.4 -.7-10 -.2-6 .5-4 1.5-4.2 2-3.1 4-3.6 4-2.7 4-1.8zM60,1302.9l9.3,6 5.4,5 3.6,5 6.1,12 4.3,4.5 4,2.6 6,2.7 23,6.5 -3,0 -4.7,0 -15.3-3.9 -8-3 -5.7-3.4 -2.3-2 -3-4 -5.3-12 -2.5-4 -5.2-4.9 -8-5.2 0-2.6z" fill="#70FF70" stroke="#70FF70" stroke-width="0.6"/>
<path d="M498.7,1148.8l6,.2 8,2.5 8,4.5 6.4,4.9 3.2,4 5.5,12 2.5,4 4.4,3.9 12.4,8.1 4.1,6 3.4,4 7.5,6 .4,2 -13.5,2 -70.3,8 -62.2,10 -37.8,4.2 -10,2.4 -8,4 -6,2.9 -16,5.1 -5.8,3.4 -4.2,3.2 -2,0 -4-9.3 -4.5-13.9 -1.3-6 .3-8 1.9-20 0-6 -.7-2 -1.7-2.6 -2-1.6 -7-3.8 -1.9-2 -.4-2 1.1-2 2.3-2 3.9-2.1 6-2.1 16.2-3.8 16-6 11.8-2.6 14-1.3 38-.6 30-1.1 14-1.5 24-4.2zM486.8,1152.9l-20.1,2.8 -16,1.3 -64,1.2 -10,.8 -10.2,1.9 -16.1,6 -5.7,1.6 -18,3.8 -6,2.4 -2,1.3 -1.1,.9 -1.2,2 .4,2 2.1,2 6.3,4 1.6,2 1.4,4 0,6 -1.8,28 1.3,6 5,11.9 2,2.3 4-.2 20-5.3 7.6-2.7 8.4-3.6 6-1.4 38-3.9 50-8.7 52.8-6.4 14-2 8.5-2 1.5-2 1.3-6 .5-8 -.9-2 -9.6-8 -3.7-4 -2.1-4 -4-10 -2.3-4 -1.9-2 -8.1-5.5 -8-3.1 -4-.6 -4,0zM588.7,1220.5l6-.6 15.7,1 4.3,.9 2.1,1.1 1.5,2 .4,2 .8,14 -.9,2 -3.9,1.6 -4-.1 -2.8-1.5 -4.4-8 -2.8-2.8 -4-2.3 -10-2.9 -2-1.9 0-.6 .5-1.5 1.5-1.5zM660.7,1272.5l6.8-.6 0,4.7 -4.8,.6 -6,1.6 -4.6,2.1 -3.4,2.7 -2,3.1 -.5,2.2 -.9,6 -.4,8 .3,2 1.8,4 15.2,26 2.5,6 1.8,6.3 -5.1,0 -4.8-12.3 -9.7-18 -5-8 -1.7-4 -.3-2 0-16 1.3-4 3.5-3.7 4-2.6 6-2.6zM334.7,1287.7l2,1.5 2,7.5 2.4,16.2 .1,10 -1,8 -1.5,6 -2,2.6 -2,.5 -4-.9 -3.4-2.2 -1.4-2 -.7-2 -.8-6 -.3-10 1.2-6 3.4-10zM334.3,1300.9l-1.6,1.7 -4,8.3 -1.1,4 -.3,4 1,8 1.5,4 .9,1.5 2,1.8 2,.7 2-.8 2-5.7 .8-5.5 .2-6 -1-8 -2-7.1 -2-1.3zM58.9,1304.9l7.8,5.1 5.2,4.9 2.5,4 5.3,12 3,4 2.3,2 5.7,3.4 6,2.3 17.3,4.6 -3.3,0 -5.7,0 -10.3-2.6 -8-3 -6-3.8 -2.9-2.9 -2.5-4 -5.6-14 -5-5.5 -6-4.2z" fill="#58FF58" stroke="#58FF58" stroke-width="0.6"/>
<path d="M488.7,1152.6l12-.9 4,.2 4,.9 8.7,4.1 3.3,2.3 4,3.7 2.3,4 4,10 2.1,4 3.7,4 9.6,8 .9,2 -.7,10 -1.1,4 -1.5,2 -8.5,2 -14,2 -52.8,6.4 -50,8.7 -38,3.9 -8,2.1 -8,3.6 -8,2.6 -20,5 -2-.1 -2-2.3 -5-11.9 -1.3-6 1.8-28 0-6 -1.4-4 -1.6-2 -6.3-4 -2.1-2 -.4-2 .3-.5 .9-1.5 2.7-2 8.4-3.2 12-2.2 8-2.1 17.8-6.5 10.2-1.9 10-.8 36-.4 30-.9 16-1.4zM492.6,1154.9l-23.9,2.6 -14,1.1 -66,1 -10,.8 -10.9,2.5 -9.8,4 -7.3,2.3 -10,2.2 -10,1.4 -6,1.9 -2,1.1 -1.7,1.1 -1.4,2 .4,2 6.7,5.4 1.6,2.6 1.1,4 -1.5,34 .8,4 2,4.8 2,3.2 2,2 2,.2 14-2 10-2.3 11.4-3.9 4.6-1.1 18-.9 18.9-2 35.1-7.1 26-3.6 44.5-5.3 9.1-2 3.7-2 2.7-2.3 2.6-3.7 1.3-4 .4-4 -.6-2 -1.5-2 -6-6 -2.9-4 -5.3-13.4 -2.6-4.6 -5.4-4.4 -4-2 -4-1.3 -4-.7zM664.7,1276.9l2.8-.3 0,4.2 -7.9,2.1 -3.4,2 -1.9,2 -1.8,4 -1.2,4 -.9,8 .3,2 1.7,4 15.1,24.6 0,13.7 -1,0 -1.8-6.3 -2.5-6 -15.2-26 -1.8-4 -.3-2 .9-12 .8-4 1-2 3.1-3 4-2.3 4-1.5zM334.7,1300.5l2,1.3 2,7.1 1,10 -1.1,10 -1.9,5.2 -2.1,.8 -1.9-.7 -1.5-1.3 -2.3-4 -1-4 -.6-6 .3-4 1.1-4 4-8.3zM332.9,1312.9l-1.3,4 .7,6 .4,1 2,2 1.5-1 .5-.4 .7-5.6 -.7-6.4 -2-1.4zM60.7,1308.4l5.7,4.5 3.3,4 5.6,14 2.5,4 1.8,2 3.1,2.4 4,2.3 8,3 10.3,2.6 -2.3,0 -7.3,0 -6.7-1.8 -6.4-2.5 -6-4 -1.8-2 -2.6-4 -5.7-16 -3.3-4 -4.2-3.3 0-2.4z" fill="#44FF44" stroke="#44FF44" stroke-width="0.6"/>
<path d="M492.7,1154.9l10-.4 4,.7 4,1.3 4,2 5.4,4.4 2.6,4.6 5.3,13.4 2.9,4 6,6 1.5,2 .6,2 -.4,4 -1.3,4 -2.6,3.7 -2.7,2.3 -3.7,2 -9.1,2 -44.5,5.3 -26,3.6 -35.1,7.1 -18.9,2 -18,.9 -4,.9 -12.4,4.2 -9.6,2.2 -14,2 -2-.2 -2-2 -2-3.2 -2-4.8 -.8-4 1.5-34 -1.1-4 -1.6-2.6 -6.7-5.4 -.4-2 1.4-2 1.7-1.1 2-1.1 6-1.9 10-1.4 10-2.2 7.3-2.3 9.8-4 10.9-2.5 10-.8 66-1 14-1.1zM479.6,1158.9l-26.9,1.8 -68,.9 -8.1,1.3 -11.9,4.8 -8,2.5 -10,2.2 -16,2.2 -5.7,2.3 -1.8,2 .5,2 5,5.4 1.6,4.6 .3,6 -1.2,30 1.3,4.8 2,3.3 2,1.6 2,.1 12-1.2 6-1.3 18-5.2 6-.5 10,.6 6-.2 16-1.9 18-4.7 12-2.4 58.7-7 12.9-2 6.4-2.2 6-3.2 3-2.6 2.5-4 .8-4 -.5-2 -6.8-10 -1.9-4 -3.5-10 -3.4-6 -2.4-2 -3.8-2 -6-1.3 -8,.1zM667.5,1280.8l0,5.1 -2.5,1 -2.3,1.7 -3.5,4.3 -1.7,4 -1,6 .3,2 1.7,4 9,15.3 0,9.3 -1.4-2.6 -5.4-8 -8.3-14 -1.7-4 -.2-4 1.3-8 2.9-6.5 1.5-1.5 3.4-2zM60.5,1310.9l2.4,2 3.3,4 1.8,4 3.1,10 3.6,6.3 2,2 4,2.8 6.6,2.9 8.1,2.3 -2.7,0 -7.5,0 -2.5-.8 -6-2.5 -4.1-3 -3.1-4 -1.9-4 -3.2-12 -1.6-4 -4.1-4.7 0-2.6zM334.7,1311.1l2,1.4 .7,6.4 -.7,5.6 -2,1.4 -2-2 -1.2-5 .1-2 1.1-3.8z" fill="#40FF40" stroke="#40FF40" stroke-width="0.6"/>
<path d="M480.7,1158.8l22-1.2 6,1.3 3.8,2 2.4,2 3.4,6 3.5,10 1.9,4 6.8,10 .5,2 -.8,4 -2.5,4 -3,2.6 -6,3.2 -6.4,2.2 -12.9,2 -58.7,7 -12,2.4 -18,4.7 -15.8,1.9 -6.2,.2 -10-.6 -8,1 -16,4.7 -6,1.3 -12,1.2 -2-.1 -2-1.6 -2-3.3 -1.3-4.8 1.2-30 -.3-6 -1.6-4.6 -5-5.4 -.5-2 1.8-2 5.7-2.3 16-2.2 10-2.2 8-2.5 11.9-4.8 8.1-1.3 68-.9zM472.6,1162.9l-21.9,1.3 -62,.2 -4,.6 -14,4.8 -10,2.7 -10,1.9 -20.1,2.5 -2.8,2 .3,2 3.1,6 .7,4 .2,8 -.9,26 .5,4 1,2.2 2,1.8 2,.1 12-1.6 6-1.9 8-3.7 8-2.2 8-.4 12,2.3 7.9-.6 32.1-7.2 53.8-6.8 18.2-3.3 8-2 5.8-2.7 2.6-2 1.7-2 1-2 .3-2 -.3-2 -4.5-10 -4.2-12 -2.2-4 -2.2-2.7 -2-1.6 -4-1.1zM667.5,1285.9l0,8.9 -2.8,4.1 -.8,4 .9,4 2.7,5.5 0,11.8 -2.8-4.3 -7.2-13 -.7-2 -.2-4 1.6-6 2.4-4 4.1-3.8zM59.5,1312.9l3.3,4 1.6,4 3.2,12 3.1,5.8 2,2.3 4,2.9 8.5,3.3 -2.5,0 -8.6,0 -4.2-2.3 -3.2-3.6 -2.7-6.4 -3.1-14 -2.2-5.2 0-3.5z" fill="#28FF28" stroke="#28FF28" stroke-width="0.6"/>
<path d="M472.7,1162.9l30-1.4 4,1.1 2,1.6 2.2,2.7 2.2,4 4.2,12 4.5,10 .3,2 -.3,2 -1,2 -1.7,2 -2.6,2 -5.8,2.7 -8,2 -18.2,3.3 -53.8,6.8 -32.1,7.2 -9.9,.5 -8-1.9 -4-.4 -8,.9 -6,1.8 -8,3.7 -6,1.9 -12,1.6 -2-.1 -2-1.8 -1-2.2 -.5-4 .9-26 -.2-8 -.7-4 -3.1-6 -.3-2 2.8-2 20.1-2.5 10-1.9 10-2.7 14-4.8 4-.6 62-.2zM667.5,1294.8l0,17.6 -.8-1.5 -1.9-4 -.9-4 .8-4zM59.5,1316.9l1.9,6 2.1,10 2,6 3.2,4.9 2,1.6 3.4,1.8 -3.4,0 -12,0 0-31.5z" fill="#0CFF0C" stroke="#0CFF0C" stroke-width="0.6"/>
<clipPath id="hc"><path d="M160,1208.5 166,1200 218,1200 221,1191 227,1184 232,1184 231,1195 229,1200 238,1200 243,1208.5 243,1218 300,1218 300,1213 383,1213 383,1231 343,1247 341,1249 326,1260 325,1265 318,1278 317,1283 268,1296 267,1300 259,1312 258,1317 238,1330 237,1335 203,1335 202,1330 160,1317 158,1311 150,1301 76,1301 76,1294 100,1294 108,1283 111,1277 103,1266 102,1260 86,1248 85,1242 96,1231 97,1225 120,1222 158,1213ZM325,1283 341,1293 343,1300 359,1312 360,1330 364,1349 322,1349 319,1335 306,1318 302,1300 302,1295 317,1280ZM322,1349 320,1330 418,1330 419,1317 422,1311 434,1300 437,1293 443,1283 446,1276 478,1266 480,1258 486,1255 510,1255 512,1258 514,1266 543,1276 546,1283 553,1293 556,1300 563,1311 565,1318 566,1328 636,1329 638,1335 630,1349ZM333,1155 347,1155 348,1160 344,1163 429,1163 431,1154 490,1154 492,1137 519,1137 521,1154 553,1154 555,1165 557,1165 558,1150 588,1150 590,1138 590,1103 600,1092 603,1086 603,1075 596,1058 595,1050 599,1043 607,1043 606,1050 625,1050 627,1057 635,1069 637,1075 657,1086 660,1092 669,1100 669,1302 661,1302 659,1293 642,1283 640,1277 612,1266 610,1259 603,1248 601,1242 571,1231 569,1225 565,1214 533,1214 532,1231 491,1231 490,1214 383,1214 322,1214 322,1206 326,1197 327,1189 333,1180 334,1172ZM57,1295 64,1295 69,1311 70,1318 79,1329 81,1336 102,1336 104,1340 120,1340 121,1349 57,1349Z" clip-rule="nonzero"/></clipPath>
<g clip-path="url(#hc)"><path d="M58.7,1054.1H667.5M58.7,1071.47H667.5M58.7,1088.84H667.5M58.7,1106.21H667.5M58.7,1123.58H667.5M58.7,1140.95H667.5M58.7,1158.32H667.5M58.7,1175.69H667.5M58.7,1193.06H667.5M58.7,1210.43H667.5M58.7,1227.8H667.5M58.7,1245.17H667.5M58.7,1262.54H667.5M58.7,1279.91H667.5M58.7,1297.28H667.5M58.7,1314.65H667.5M58.7,1332.02H667.5M-108.57,1347.2L67.12,1042.9M-88.47,1347.2L87.22,1042.9M-68.37,1347.2L107.32,1042.9M-48.27,1347.2L127.42,1042.9M-28.17,1347.2L147.52,1042.9M-8.07,1347.2L167.62,1042.9M12.03,1347.2L187.72,1042.9M32.13,1347.2L207.82,1042.9M52.23,1347.2L227.92,1042.9M72.33,1347.2L248.02,1042.9M92.43,1347.2L268.12,1042.9M112.53,1347.2L288.22,1042.9M132.63,1347.2L308.32,1042.9M152.73,1347.2L328.42,1042.9M172.83,1347.2L348.52,1042.9M192.93,1347.2L368.62,1042.9M213.03,1347.2L388.72,1042.9M233.13,1347.2L408.82,1042.9M253.23,1347.2L428.92,1042.9M273.33,1347.2L449.02,1042.9M293.43,1347.2L469.12,1042.9M313.53,1347.2L489.22,1042.9M333.63,1347.2L509.32,1042.9M353.73,1347.2L529.42,1042.9M373.83,1347.2L549.52,1042.9M393.93,1347.2L569.62,1042.9M414.03,1347.2L589.72,1042.9M434.13,1347.2L609.82,1042.9M454.23,1347.2L629.92,1042.9M474.33,1347.2L650.02,1042.9M494.43,1347.2L670.12,1042.9M514.53,1347.2L690.22,1042.9M534.63,1347.2L710.32,1042.9M554.73,1347.2L730.42,1042.9M574.83,1347.2L750.52,1042.9M594.93,1347.2L770.62,1042.9M615.03,1347.2L790.72,1042.9M635.13,1347.2L810.82,1042.9M655.23,1347.2L830.92,1042.9" fill="none" stroke="#000" stroke-width="1.5"/></g>
<path d="M110.5,1089L118,1089M108,1106L120.5,1106M118,1096L107,1117M110.5,1123.5L125.5,1123.5M125.5,1123.5L129,1117M168.6,1146L169.6,1146M168,1183L172,1177M187,1184.5L189,1181M206.5,1187L209,1183M329.3,1054.4L338.7,1054.4M269.7,1089.2L324.4,1089.2M289.9,1077.8L273.6,1105.9M307.4,1082.7L299.9,1096.5M273.6,1106.3L297.7,1106.3M262.7,1123.4L309.6,1123.4M293.4,1107.4L279.6,1131M311.3,1110L302.1,1126.5M327.7,1115.5L324.4,1121.2M348.5,1114.6L344.6,1121.6M326.6,1140.2L342,1140.2M336.5,1137L332.8,1143.5M380.9,1106.2L447.5,1106.2M358.6,1123.6L400.8,1123.6M372.6,1107L360.9,1125.2M394.2,1103.6L375.9,1135.2M414.2,1103.6L409.2,1113.6M435.8,1097L430.8,1110.2M439,1090.3L450.8,1090.3M442.5,1088.6L439.8,1095.3M550,1050L554,1043.5M567.5,1050L571.5,1043.5M585,1050L589,1043.5M574,1105L576,1101.5M662,1297.3L667,1297.3M659.7,1314.6L667,1314.6M650,1343L666,1316" fill="none" stroke="#000" stroke-width="1.5" stroke-linecap="round"/>
</g>
<text x="58" y="28.3" font-size="33" text-anchor="start" font-weight="bold">(a)</text>
<text x="668.5" y="20.8" font-size="29" text-anchor="end" font-weight="normal" letter-spacing="0.18">Temperature at 2m (K)</text>
<text x="58" y="526.6" font-size="33" text-anchor="start" font-weight="bold">(b)</text>
<text x="669.4" y="521.5" font-size="29" text-anchor="end" font-weight="normal" letter-spacing="0.1">Precipitation Rate (mm/day)</text>
<text x="58.4" y="1027.4" font-size="33" text-anchor="start" font-weight="bold">(c)</text>
<text x="666.5" y="1018.3" font-size="30.7" text-anchor="end" font-weight="normal" letter-spacing="0.08">Precipitation Rate (mm/day)</text>
<rect x="58.2" y="45.8" width="607.8" height="303.2" fill="none" stroke="#000" stroke-width="2.9"/>
<line x1="52.2" y1="340.34" x2="58.2" y2="340.34" stroke="#000" stroke-width="1.5" stroke-linecap="butt"/>
<line x1="666" y1="340.34" x2="671.5" y2="340.34" stroke="#000" stroke-width="1.5" stroke-linecap="butt"/>
<line x1="52.2" y1="323.01" x2="58.2" y2="323.01" stroke="#000" stroke-width="1.5" stroke-linecap="butt"/>
<line x1="666" y1="323.01" x2="671.5" y2="323.01" stroke="#000" stroke-width="1.5" stroke-linecap="butt"/>
<line x1="47.6" y1="305.69" x2="58.2" y2="305.69" stroke="#000" stroke-width="2.9" stroke-linecap="round"/>
<line x1="666" y1="305.69" x2="676.6" y2="305.69" stroke="#000" stroke-width="2.9" stroke-linecap="round"/>
<line x1="52.2" y1="288.36" x2="58.2" y2="288.36" stroke="#000" stroke-width="1.5" stroke-linecap="butt"/>
<line x1="666" y1="288.36" x2="671.5" y2="288.36" stroke="#000" stroke-width="1.5" stroke-linecap="butt"/>
<line x1="52.2" y1="271.03" x2="58.2" y2="271.03" stroke="#000" stroke-width="1.5" stroke-linecap="butt"/>
<line x1="666" y1="271.03" x2="671.5" y2="271.03" stroke="#000" stroke-width="1.5" stroke-linecap="butt"/>
<line x1="52.2" y1="253.71" x2="58.2" y2="253.71" stroke="#000" stroke-width="1.5" stroke-linecap="butt"/>
<line x1="666" y1="253.71" x2="671.5" y2="253.71" stroke="#000" stroke-width="1.5" stroke-linecap="butt"/>
<line x1="52.2" y1="236.38" x2="58.2" y2="236.38" stroke="#000" stroke-width="1.5" stroke-linecap="butt"/>
<line x1="666" y1="236.38" x2="671.5" y2="236.38" stroke="#000" stroke-width="1.5" stroke-linecap="butt"/>
<line x1="47.6" y1="219.06" x2="58.2" y2="219.06" stroke="#000" stroke-width="2.9" stroke-linecap="round"/>
<line x1="666" y1="219.06" x2="676.6" y2="219.06" stroke="#000" stroke-width="2.9" stroke-linecap="round"/>
<line x1="52.2" y1="201.73" x2="58.2" y2="201.73" stroke="#000" stroke-width="1.5" stroke-linecap="butt"/>
<line x1="666" y1="201.73" x2="671.5" y2="201.73" stroke="#000" stroke-width="1.5" stroke-linecap="butt"/>
<line x1="52.2" y1="184.41" x2="58.2" y2="184.41" stroke="#000" stroke-width="1.5" stroke-linecap="butt"/>
<line x1="666" y1="184.41" x2="671.5" y2="184.41" stroke="#000" stroke-width="1.5" stroke-linecap="butt"/>
<line x1="52.2" y1="167.08" x2="58.2" y2="167.08" stroke="#000" stroke-width="1.5" stroke-linecap="butt"/>
<line x1="666" y1="167.08" x2="671.5" y2="167.08" stroke="#000" stroke-width="1.5" stroke-linecap="butt"/>
<line x1="52.2" y1="149.75" x2="58.2" y2="149.75" stroke="#000" stroke-width="1.5" stroke-linecap="butt"/>
<line x1="666" y1="149.75" x2="671.5" y2="149.75" stroke="#000" stroke-width="1.5" stroke-linecap="butt"/>
<line x1="47.6" y1="132.43" x2="58.2" y2="132.43" stroke="#000" stroke-width="2.9" stroke-linecap="round"/>
<line x1="666" y1="132.43" x2="676.6" y2="132.43" stroke="#000" stroke-width="2.9" stroke-linecap="round"/>
<line x1="52.2" y1="115.1" x2="58.2" y2="115.1" stroke="#000" stroke-width="1.5" stroke-linecap="butt"/>
<line x1="666" y1="115.1" x2="671.5" y2="115.1" stroke="#000" stroke-width="1.5" stroke-linecap="butt"/>
<line x1="52.2" y1="97.78" x2="58.2" y2="97.78" stroke="#000" stroke-width="1.5" stroke-linecap="butt"/>
<line x1="666" y1="97.78" x2="671.5" y2="97.78" stroke="#000" stroke-width="1.5" stroke-linecap="butt"/>
<line x1="52.2" y1="80.45" x2="58.2" y2="80.45" stroke="#000" stroke-width="1.5" stroke-linecap="butt"/>
<line x1="666" y1="80.45" x2="671.5" y2="80.45" stroke="#000" stroke-width="1.5" stroke-linecap="butt"/>
<line x1="52.2" y1="63.13" x2="58.2" y2="63.13" stroke="#000" stroke-width="1.5" stroke-linecap="butt"/>
<line x1="666" y1="63.13" x2="671.5" y2="63.13" stroke="#000" stroke-width="1.5" stroke-linecap="butt"/>
<line x1="47.6" y1="45.8" x2="58.2" y2="45.8" stroke="#000" stroke-width="2.9" stroke-linecap="round"/>
<line x1="666" y1="45.8" x2="676.6" y2="45.8" stroke="#000" stroke-width="2.9" stroke-linecap="round"/>
<text x="39.1" y="52.4" font-size="18.5" text-anchor="end" font-weight="normal">30N</text>
<text x="39.1" y="139.03" font-size="18.5" text-anchor="end" font-weight="normal">20N</text>
<text x="39.1" y="225.66" font-size="18.5" text-anchor="end" font-weight="normal">10N</text>
<text x="39.1" y="312.29" font-size="18.5" text-anchor="end" font-weight="normal">0</text>
<line x1="58.2" y1="349" x2="58.2" y2="355" stroke="#000" stroke-width="1.5" stroke-linecap="butt"/>
<line x1="108.85" y1="349" x2="108.85" y2="355" stroke="#000" stroke-width="1.5" stroke-linecap="butt"/>
<line x1="159.5" y1="349" x2="159.5" y2="359.6" stroke="#000" stroke-width="2.9" stroke-linecap="round"/>
<line x1="210.15" y1="349" x2="210.15" y2="355" stroke="#000" stroke-width="1.5" stroke-linecap="butt"/>
<line x1="260.8" y1="349" x2="260.8" y2="355" stroke="#000" stroke-width="1.5" stroke-linecap="butt"/>
<line x1="311.45" y1="349" x2="311.45" y2="355" stroke="#000" stroke-width="1.5" stroke-linecap="butt"/>
<line x1="362.1" y1="349" x2="362.1" y2="359.6" stroke="#000" stroke-width="2.9" stroke-linecap="round"/>
<line x1="412.75" y1="349" x2="412.75" y2="355" stroke="#000" stroke-width="1.5" stroke-linecap="butt"/>
<line x1="463.4" y1="349" x2="463.4" y2="355" stroke="#000" stroke-width="1.5" stroke-linecap="butt"/>
<line x1="514.05" y1="349" x2="514.05" y2="355" stroke="#000" stroke-width="1.5" stroke-linecap="butt"/>
<line x1="564.7" y1="349" x2="564.7" y2="359.6" stroke="#000" stroke-width="2.9" stroke-linecap="round"/>
<line x1="615.35" y1="349" x2="615.35" y2="355" stroke="#000" stroke-width="1.5" stroke-linecap="butt"/>
<line x1="666" y1="349" x2="666" y2="355" stroke="#000" stroke-width="1.5" stroke-linecap="butt"/>
<text x="159.5" y="380.9" font-size="18.5" text-anchor="middle" font-weight="normal">20W</text>
<text x="362.1" y="380.9" font-size="18.5" text-anchor="middle" font-weight="normal">0</text>
<text x="564.7" y="380.9" font-size="18.5" text-anchor="middle" font-weight="normal">20E</text>
<rect x="58.2" y="545.5" width="607.8" height="303.2" fill="none" stroke="#000" stroke-width="2.9"/>
<line x1="52.2" y1="840.04" x2="58.2" y2="840.04" stroke="#000" stroke-width="1.5" stroke-linecap="butt"/>
<line x1="666" y1="840.04" x2="671.5" y2="840.04" stroke="#000" stroke-width="1.5" stroke-linecap="butt"/>
<line x1="52.2" y1="822.71" x2="58.2" y2="822.71" stroke="#000" stroke-width="1.5" stroke-linecap="butt"/>
<line x1="666" y1="822.71" x2="671.5" y2="822.71" stroke="#000" stroke-width="1.5" stroke-linecap="butt"/>
<line x1="47.6" y1="805.39" x2="58.2" y2="805.39" stroke="#000" stroke-width="2.9" stroke-linecap="round"/>
<line x1="666" y1="805.39" x2="676.6" y2="805.39" stroke="#000" stroke-width="2.9" stroke-linecap="round"/>
<line x1="52.2" y1="788.06" x2="58.2" y2="788.06" stroke="#000" stroke-width="1.5" stroke-linecap="butt"/>
<line x1="666" y1="788.06" x2="671.5" y2="788.06" stroke="#000" stroke-width="1.5" stroke-linecap="butt"/>
<line x1="52.2" y1="770.73" x2="58.2" y2="770.73" stroke="#000" stroke-width="1.5" stroke-linecap="butt"/>
<line x1="666" y1="770.73" x2="671.5" y2="770.73" stroke="#000" stroke-width="1.5" stroke-linecap="butt"/>
<line x1="52.2" y1="753.41" x2="58.2" y2="753.41" stroke="#000" stroke-width="1.5" stroke-linecap="butt"/>
<line x1="666" y1="753.41" x2="671.5" y2="753.41" stroke="#000" stroke-width="1.5" stroke-linecap="butt"/>
<line x1="52.2" y1="736.08" x2="58.2" y2="736.08" stroke="#000" stroke-width="1.5" stroke-linecap="butt"/>
<line x1="666" y1="736.08" x2="671.5" y2="736.08" stroke="#000" stroke-width="1.5" stroke-linecap="butt"/>
<line x1="47.6" y1="718.76" x2="58.2" y2="718.76" stroke="#000" stroke-width="2.9" stroke-linecap="round"/>
<line x1="666" y1="718.76" x2="676.6" y2="718.76" stroke="#000" stroke-width="2.9" stroke-linecap="round"/>
<line x1="52.2" y1="701.43" x2="58.2" y2="701.43" stroke="#000" stroke-width="1.5" stroke-linecap="butt"/>
<line x1="666" y1="701.43" x2="671.5" y2="701.43" stroke="#000" stroke-width="1.5" stroke-linecap="butt"/>
<line x1="52.2" y1="684.11" x2="58.2" y2="684.11" stroke="#000" stroke-width="1.5" stroke-linecap="butt"/>
<line x1="666" y1="684.11" x2="671.5" y2="684.11" stroke="#000" stroke-width="1.5" stroke-linecap="butt"/>
<line x1="52.2" y1="666.78" x2="58.2" y2="666.78" stroke="#000" stroke-width="1.5" stroke-linecap="butt"/>
<line x1="666" y1="666.78" x2="671.5" y2="666.78" stroke="#000" stroke-width="1.5" stroke-linecap="butt"/>
<line x1="52.2" y1="649.45" x2="58.2" y2="649.45" stroke="#000" stroke-width="1.5" stroke-linecap="butt"/>
<line x1="666" y1="649.45" x2="671.5" y2="649.45" stroke="#000" stroke-width="1.5" stroke-linecap="butt"/>
<line x1="47.6" y1="632.13" x2="58.2" y2="632.13" stroke="#000" stroke-width="2.9" stroke-linecap="round"/>
<line x1="666" y1="632.13" x2="676.6" y2="632.13" stroke="#000" stroke-width="2.9" stroke-linecap="round"/>
<line x1="52.2" y1="614.8" x2="58.2" y2="614.8" stroke="#000" stroke-width="1.5" stroke-linecap="butt"/>
<line x1="666" y1="614.8" x2="671.5" y2="614.8" stroke="#000" stroke-width="1.5" stroke-linecap="butt"/>
<line x1="52.2" y1="597.48" x2="58.2" y2="597.48" stroke="#000" stroke-width="1.5" stroke-linecap="butt"/>
<line x1="666" y1="597.48" x2="671.5" y2="597.48" stroke="#000" stroke-width="1.5" stroke-linecap="butt"/>
<line x1="52.2" y1="580.15" x2="58.2" y2="580.15" stroke="#000" stroke-width="1.5" stroke-linecap="butt"/>
<line x1="666" y1="580.15" x2="671.5" y2="580.15" stroke="#000" stroke-width="1.5" stroke-linecap="butt"/>
<line x1="52.2" y1="562.83" x2="58.2" y2="562.83" stroke="#000" stroke-width="1.5" stroke-linecap="butt"/>
<line x1="666" y1="562.83" x2="671.5" y2="562.83" stroke="#000" stroke-width="1.5" stroke-linecap="butt"/>
<line x1="47.6" y1="545.5" x2="58.2" y2="545.5" stroke="#000" stroke-width="2.9" stroke-linecap="round"/>
<line x1="666" y1="545.5" x2="676.6" y2="545.5" stroke="#000" stroke-width="2.9" stroke-linecap="round"/>
<text x="39.1" y="552.1" font-size="18.5" text-anchor="end" font-weight="normal">30N</text>
<text x="39.1" y="638.73" font-size="18.5" text-anchor="end" font-weight="normal">20N</text>
<text x="39.1" y="725.36" font-size="18.5" text-anchor="end" font-weight="normal">10N</text>
<text x="39.1" y="811.99" font-size="18.5" text-anchor="end" font-weight="normal">0</text>
<line x1="58.2" y1="848.7" x2="58.2" y2="854.7" stroke="#000" stroke-width="1.5" stroke-linecap="butt"/>
<line x1="108.85" y1="848.7" x2="108.85" y2="854.7" stroke="#000" stroke-width="1.5" stroke-linecap="butt"/>
<line x1="159.5" y1="848.7" x2="159.5" y2="859.3" stroke="#000" stroke-width="2.9" stroke-linecap="round"/>
<line x1="210.15" y1="848.7" x2="210.15" y2="854.7" stroke="#000" stroke-width="1.5" stroke-linecap="butt"/>
<line x1="260.8" y1="848.7" x2="260.8" y2="854.7" stroke="#000" stroke-width="1.5" stroke-linecap="butt"/>
<line x1="311.45" y1="848.7" x2="311.45" y2="854.7" stroke="#000" stroke-width="1.5" stroke-linecap="butt"/>
<line x1="362.1" y1="848.7" x2="362.1" y2="859.3" stroke="#000" stroke-width="2.9" stroke-linecap="round"/>
<line x1="412.75" y1="848.7" x2="412.75" y2="854.7" stroke="#000" stroke-width="1.5" stroke-linecap="butt"/>
<line x1="463.4" y1="848.7" x2="463.4" y2="854.7" stroke="#000" stroke-width="1.5" stroke-linecap="butt"/>
<line x1="514.05" y1="848.7" x2="514.05" y2="854.7" stroke="#000" stroke-width="1.5" stroke-linecap="butt"/>
<line x1="564.7" y1="848.7" x2="564.7" y2="859.3" stroke="#000" stroke-width="2.9" stroke-linecap="round"/>
<line x1="615.35" y1="848.7" x2="615.35" y2="854.7" stroke="#000" stroke-width="1.5" stroke-linecap="butt"/>
<line x1="666" y1="848.7" x2="666" y2="854.7" stroke="#000" stroke-width="1.5" stroke-linecap="butt"/>
<text x="159.5" y="880.6" font-size="18.5" text-anchor="middle" font-weight="normal">20W</text>
<text x="362.1" y="880.6" font-size="18.5" text-anchor="middle" font-weight="normal">0</text>
<text x="564.7" y="880.6" font-size="18.5" text-anchor="middle" font-weight="normal">20E</text>
<rect x="58.7" y="1042.9" width="608.8" height="304.3" fill="none" stroke="#000" stroke-width="3.3"/>
<line x1="49.9" y1="1333.5" x2="58.7" y2="1333.5" stroke="#000" stroke-width="1.6" stroke-linecap="butt"/>
<line x1="667.5" y1="1333.5" x2="675.7" y2="1333.5" stroke="#000" stroke-width="1.6" stroke-linecap="butt"/>
<line x1="49.9" y1="1318.1" x2="58.7" y2="1318.1" stroke="#000" stroke-width="1.6" stroke-linecap="butt"/>
<line x1="667.5" y1="1318.1" x2="675.7" y2="1318.1" stroke="#000" stroke-width="1.6" stroke-linecap="butt"/>
<line x1="49.9" y1="1302.7" x2="58.7" y2="1302.7" stroke="#000" stroke-width="1.6" stroke-linecap="butt"/>
<line x1="667.5" y1="1302.7" x2="675.7" y2="1302.7" stroke="#000" stroke-width="1.6" stroke-linecap="butt"/>
<line x1="49.9" y1="1287.3" x2="58.7" y2="1287.3" stroke="#000" stroke-width="1.6" stroke-linecap="butt"/>
<line x1="667.5" y1="1287.3" x2="675.7" y2="1287.3" stroke="#000" stroke-width="1.6" stroke-linecap="butt"/>
<line x1="43.2" y1="1271.9" x2="58.7" y2="1271.9" stroke="#000" stroke-width="3.2" stroke-linecap="round"/>
<line x1="667.5" y1="1271.9" x2="683" y2="1271.9" stroke="#000" stroke-width="3.2" stroke-linecap="round"/>
<line x1="49.9" y1="1256.5" x2="58.7" y2="1256.5" stroke="#000" stroke-width="1.6" stroke-linecap="butt"/>
<line x1="667.5" y1="1256.5" x2="675.7" y2="1256.5" stroke="#000" stroke-width="1.6" stroke-linecap="butt"/>
<line x1="49.9" y1="1241.1" x2="58.7" y2="1241.1" stroke="#000" stroke-width="1.6" stroke-linecap="butt"/>
<line x1="667.5" y1="1241.1" x2="675.7" y2="1241.1" stroke="#000" stroke-width="1.6" stroke-linecap="butt"/>
<line x1="49.9" y1="1225.7" x2="58.7" y2="1225.7" stroke="#000" stroke-width="1.6" stroke-linecap="butt"/>
<line x1="667.5" y1="1225.7" x2="675.7" y2="1225.7" stroke="#000" stroke-width="1.6" stroke-linecap="butt"/>
<line x1="49.9" y1="1210.3" x2="58.7" y2="1210.3" stroke="#000" stroke-width="1.6" stroke-linecap="butt"/>
<line x1="667.5" y1="1210.3" x2="675.7" y2="1210.3" stroke="#000" stroke-width="1.6" stroke-linecap="butt"/>
<line x1="43.2" y1="1194.9" x2="58.7" y2="1194.9" stroke="#000" stroke-width="3.2" stroke-linecap="round"/>
<line x1="667.5" y1="1194.9" x2="683" y2="1194.9" stroke="#000" stroke-width="3.2" stroke-linecap="round"/>
<line x1="49.9" y1="1179.5" x2="58.7" y2="1179.5" stroke="#000" stroke-width="1.6" stroke-linecap="butt"/>
<line x1="667.5" y1="1179.5" x2="675.7" y2="1179.5" stroke="#000" stroke-width="1.6" stroke-linecap="butt"/>
<line x1="49.9" y1="1164.1" x2="58.7" y2="1164.1" stroke="#000" stroke-width="1.6" stroke-linecap="butt"/>
<line x1="667.5" y1="1164.1" x2="675.7" y2="1164.1" stroke="#000" stroke-width="1.6" stroke-linecap="butt"/>
<line x1="49.9" y1="1148.7" x2="58.7" y2="1148.7" stroke="#000" stroke-width="1.6" stroke-linecap="butt"/>
<line x1="667.5" y1="1148.7" x2="675.7" y2="1148.7" stroke="#000" stroke-width="1.6" stroke-linecap="butt"/>
<line x1="49.9" y1="1133.3" x2="58.7" y2="1133.3" stroke="#000" stroke-width="1.6" stroke-linecap="butt"/>
<line x1="667.5" y1="1133.3" x2="675.7" y2="1133.3" stroke="#000" stroke-width="1.6" stroke-linecap="butt"/>
<line x1="43.2" y1="1117.9" x2="58.7" y2="1117.9" stroke="#000" stroke-width="3.2" stroke-linecap="round"/>
<line x1="667.5" y1="1117.9" x2="683" y2="1117.9" stroke="#000" stroke-width="3.2" stroke-linecap="round"/>
<line x1="49.9" y1="1102.5" x2="58.7" y2="1102.5" stroke="#000" stroke-width="1.6" stroke-linecap="butt"/>
<line x1="667.5" y1="1102.5" x2="675.7" y2="1102.5" stroke="#000" stroke-width="1.6" stroke-linecap="butt"/>
<line x1="49.9" y1="1087.1" x2="58.7" y2="1087.1" stroke="#000" stroke-width="1.6" stroke-linecap="butt"/>
<line x1="667.5" y1="1087.1" x2="675.7" y2="1087.1" stroke="#000" stroke-width="1.6" stroke-linecap="butt"/>
<line x1="49.9" y1="1071.7" x2="58.7" y2="1071.7" stroke="#000" stroke-width="1.6" stroke-linecap="butt"/>
<line x1="667.5" y1="1071.7" x2="675.7" y2="1071.7" stroke="#000" stroke-width="1.6" stroke-linecap="butt"/>
<line x1="49.9" y1="1056.3" x2="58.7" y2="1056.3" stroke="#000" stroke-width="1.6" stroke-linecap="butt"/>
<line x1="667.5" y1="1056.3" x2="675.7" y2="1056.3" stroke="#000" stroke-width="1.6" stroke-linecap="butt"/>
<text x="35.9" y="1125.4" font-size="21" text-anchor="end" font-weight="normal">10N</text>
<text x="35.9" y="1202.4" font-size="21" text-anchor="end" font-weight="normal">5N</text>
<text x="35.9" y="1279.4" font-size="21" text-anchor="end" font-weight="normal">0</text>
<line x1="58.7" y1="1347.2" x2="58.7" y2="1362.7" stroke="#000" stroke-width="3.2" stroke-linecap="round"/>
<text x="58.7" y="1392.9" font-size="20.8" text-anchor="middle" font-weight="normal">Jan</text>
<line x1="114.05" y1="1347.2" x2="114.05" y2="1362.7" stroke="#000" stroke-width="3.2" stroke-linecap="round"/>
<text x="114.05" y="1392.9" font-size="20.8" text-anchor="middle" font-weight="normal">Feb</text>
<line x1="169.39" y1="1347.2" x2="169.39" y2="1362.7" stroke="#000" stroke-width="3.2" stroke-linecap="round"/>
<text x="169.39" y="1392.9" font-size="20.8" text-anchor="middle" font-weight="normal">Mar</text>
<line x1="224.74" y1="1347.2" x2="224.74" y2="1362.7" stroke="#000" stroke-width="3.2" stroke-linecap="round"/>
<text x="224.74" y="1392.9" font-size="20.8" text-anchor="middle" font-weight="normal">Apr</text>
<line x1="280.08" y1="1347.2" x2="280.08" y2="1362.7" stroke="#000" stroke-width="3.2" stroke-linecap="round"/>
<text x="280.08" y="1392.9" font-size="20.8" text-anchor="middle" font-weight="normal">May</text>
<line x1="335.43" y1="1347.2" x2="335.43" y2="1362.7" stroke="#000" stroke-width="3.2" stroke-linecap="round"/>
<text x="335.43" y="1392.9" font-size="20.8" text-anchor="middle" font-weight="normal">Jun</text>
<line x1="390.77" y1="1347.2" x2="390.77" y2="1362.7" stroke="#000" stroke-width="3.2" stroke-linecap="round"/>
<text x="390.77" y="1392.9" font-size="20.8" text-anchor="middle" font-weight="normal">Jul</text>
<line x1="446.12" y1="1347.2" x2="446.12" y2="1362.7" stroke="#000" stroke-width="3.2" stroke-linecap="round"/>
<text x="446.12" y="1392.9" font-size="20.8" text-anchor="middle" font-weight="normal">Aug</text>
<line x1="501.46" y1="1347.2" x2="501.46" y2="1362.7" stroke="#000" stroke-width="3.2" stroke-linecap="round"/>
<text x="501.46" y="1392.9" font-size="20.8" text-anchor="middle" font-weight="normal">Sep</text>
<line x1="556.81" y1="1347.2" x2="556.81" y2="1362.7" stroke="#000" stroke-width="3.2" stroke-linecap="round"/>
<text x="556.81" y="1392.9" font-size="20.8" text-anchor="middle" font-weight="normal">Oct</text>
<line x1="612.15" y1="1347.2" x2="612.15" y2="1362.7" stroke="#000" stroke-width="3.2" stroke-linecap="round"/>
<text x="612.15" y="1392.9" font-size="20.8" text-anchor="middle" font-weight="normal">Nov</text>
<line x1="667.5" y1="1347.2" x2="667.5" y2="1362.7" stroke="#000" stroke-width="3.2" stroke-linecap="round"/>
<text x="667.5" y="1392.9" font-size="20.8" text-anchor="middle" font-weight="normal">Dec</text>
<rect x="18.5" y="398.9" width="46.91" height="25.1" fill="#FFFFFF"/>
<rect x="65.11" y="398.9" width="46.91" height="25.1" fill="#FFF8DC"/>
<rect x="111.71" y="398.9" width="46.91" height="25.1" fill="#FEEFB5"/>
<rect x="158.32" y="398.9" width="46.91" height="25.1" fill="#FDE492"/>
<rect x="204.93" y="398.9" width="46.91" height="25.1" fill="#FDCC65"/>
<rect x="251.54" y="398.9" width="46.91" height="25.1" fill="#FDB73F"/>
<rect x="298.14" y="398.9" width="46.91" height="25.1" fill="#FA9A2C"/>
<rect x="344.75" y="398.9" width="46.91" height="25.1" fill="#F6862B"/>
<rect x="391.36" y="398.9" width="46.91" height="25.1" fill="#F1652A"/>
<rect x="437.96" y="398.9" width="46.91" height="25.1" fill="#E44D2A"/>
<rect x="484.57" y="398.9" width="46.91" height="25.1" fill="#D92B29"/>
<rect x="531.18" y="398.9" width="46.91" height="25.1" fill="#C61F27"/>
<rect x="577.79" y="398.9" width="46.91" height="25.1" fill="#AE1A21"/>
<rect x="624.39" y="398.9" width="46.91" height="25.1" fill="#8F161B"/>
<line x1="65.11" y1="398.9" x2="65.11" y2="424" stroke="#000" stroke-width="1.4" stroke-linecap="butt"/>
<line x1="111.71" y1="398.9" x2="111.71" y2="424" stroke="#000" stroke-width="1.4" stroke-linecap="butt"/>
<line x1="158.32" y1="398.9" x2="158.32" y2="424" stroke="#000" stroke-width="1.4" stroke-linecap="butt"/>
<line x1="204.93" y1="398.9" x2="204.93" y2="424" stroke="#000" stroke-width="1.4" stroke-linecap="butt"/>
<line x1="251.54" y1="398.9" x2="251.54" y2="424" stroke="#000" stroke-width="1.4" stroke-linecap="butt"/>
<line x1="298.14" y1="398.9" x2="298.14" y2="424" stroke="#000" stroke-width="1.4" stroke-linecap="butt"/>
<line x1="344.75" y1="398.9" x2="344.75" y2="424" stroke="#000" stroke-width="1.4" stroke-linecap="butt"/>
<line x1="391.36" y1="398.9" x2="391.36" y2="424" stroke="#000" stroke-width="1.4" stroke-linecap="butt"/>
<line x1="437.96" y1="398.9" x2="437.96" y2="424" stroke="#000" stroke-width="1.4" stroke-linecap="butt"/>
<line x1="484.57" y1="398.9" x2="484.57" y2="424" stroke="#000" stroke-width="1.4" stroke-linecap="butt"/>
<line x1="531.18" y1="398.9" x2="531.18" y2="424" stroke="#000" stroke-width="1.4" stroke-linecap="butt"/>
<line x1="577.79" y1="398.9" x2="577.79" y2="424" stroke="#000" stroke-width="1.4" stroke-linecap="butt"/>
<line x1="624.39" y1="398.9" x2="624.39" y2="424" stroke="#000" stroke-width="1.4" stroke-linecap="butt"/>
<rect x="18.5" y="398.9" width="652.5" height="25.1" fill="none" stroke="#000" stroke-width="1.4"/>
<text x="65.11" y="452.9" font-size="29" text-anchor="middle" font-weight="normal">0</text>
<text x="111.71" y="452.9" font-size="29" text-anchor="middle" font-weight="normal">0.5</text>
<text x="158.32" y="452.9" font-size="29" text-anchor="middle" font-weight="normal">1</text>
<text x="204.93" y="452.9" font-size="29" text-anchor="middle" font-weight="normal">1.5</text>
<text x="251.54" y="452.9" font-size="29" text-anchor="middle" font-weight="normal">2</text>
<text x="298.14" y="452.9" font-size="29" text-anchor="middle" font-weight="normal">2.5</text>
<text x="344.75" y="452.9" font-size="29" text-anchor="middle" font-weight="normal">3</text>
<text x="391.36" y="452.9" font-size="29" text-anchor="middle" font-weight="normal">3.5</text>
<text x="437.96" y="452.9" font-size="29" text-anchor="middle" font-weight="normal">4</text>
<text x="484.57" y="452.9" font-size="29" text-anchor="middle" font-weight="normal">4.5</text>
<text x="531.18" y="452.9" font-size="29" text-anchor="middle" font-weight="normal">5</text>
<text x="577.79" y="452.9" font-size="29" text-anchor="middle" font-weight="normal">5.5</text>
<text x="624.39" y="452.9" font-size="29" text-anchor="middle" font-weight="normal">6</text>
<rect x="18.5" y="899" width="36.55" height="24.6" fill="#FF1919"/>
<rect x="54.75" y="899" width="36.55" height="24.6" fill="#FF3030"/>
<rect x="91" y="899" width="36.55" height="24.6" fill="#FF4848"/>
<rect x="127.25" y="899" width="36.55" height="24.6" fill="#FF6060"/>
<rect x="163.5" y="899" width="36.55" height="24.6" fill="#FF7878"/>
<rect x="199.75" y="899" width="36.55" height="24.6" fill="#FFA6A6"/>
<rect x="236" y="899" width="36.55" height="24.6" fill="#FFBEBE"/>
<rect x="272.25" y="899" width="36.55" height="24.6" fill="#FFD6D6"/>
<rect x="308.5" y="899" width="36.55" height="24.6" fill="#FFEEEE"/>
<rect x="344.75" y="899" width="36.55" height="24.6" fill="#F2FFF2"/>
<rect x="381" y="899" width="36.55" height="24.6" fill="#DCFFDC"/>
<rect x="417.25" y="899" width="36.55" height="24.6" fill="#C4FFC4"/>
<rect x="453.5" y="899" width="36.55" height="24.6" fill="#A8FFA8"/>
<rect x="489.75" y="899" width="36.55" height="24.6" fill="#6CFF6C"/>
<rect x="526" y="899" width="36.55" height="24.6" fill="#58FF58"/>
<rect x="562.25" y="899" width="36.55" height="24.6" fill="#40FF40"/>
<rect x="598.5" y="899" width="36.55" height="24.6" fill="#28FF28"/>
<rect x="634.75" y="899" width="36.55" height="24.6" fill="#0CFF0C"/>
<line x1="54.75" y1="899" x2="54.75" y2="923.6" stroke="#000" stroke-width="1.4" stroke-linecap="butt"/>
<line x1="91" y1="899" x2="91" y2="923.6" stroke="#000" stroke-width="1.4" stroke-linecap="butt"/>
<line x1="127.25" y1="899" x2="127.25" y2="923.6" stroke="#000" stroke-width="1.4" stroke-linecap="butt"/>
<line x1="163.5" y1="899" x2="163.5" y2="923.6" stroke="#000" stroke-width="1.4" stroke-linecap="butt"/>
<line x1="199.75" y1="899" x2="199.75" y2="923.6" stroke="#000" stroke-width="1.4" stroke-linecap="butt"/>
<line x1="236" y1="899" x2="236" y2="923.6" stroke="#000" stroke-width="1.4" stroke-linecap="butt"/>
<line x1="272.25" y1="899" x2="272.25" y2="923.6" stroke="#000" stroke-width="1.4" stroke-linecap="butt"/>
<line x1="308.5" y1="899" x2="308.5" y2="923.6" stroke="#000" stroke-width="1.4" stroke-linecap="butt"/>
<line x1="344.75" y1="899" x2="344.75" y2="923.6" stroke="#000" stroke-width="1.4" stroke-linecap="butt"/>
<line x1="381" y1="899" x2="381" y2="923.6" stroke="#000" stroke-width="1.4" stroke-linecap="butt"/>
<line x1="417.25" y1="899" x2="417.25" y2="923.6" stroke="#000" stroke-width="1.4" stroke-linecap="butt"/>
<line x1="453.5" y1="899" x2="453.5" y2="923.6" stroke="#000" stroke-width="1.4" stroke-linecap="butt"/>
<line x1="489.75" y1="899" x2="489.75" y2="923.6" stroke="#000" stroke-width="1.4" stroke-linecap="butt"/>
<line x1="526" y1="899" x2="526" y2="923.6" stroke="#000" stroke-width="1.4" stroke-linecap="butt"/>
<line x1="562.25" y1="899" x2="562.25" y2="923.6" stroke="#000" stroke-width="1.4" stroke-linecap="butt"/>
<line x1="598.5" y1="899" x2="598.5" y2="923.6" stroke="#000" stroke-width="1.4" stroke-linecap="butt"/>
<line x1="634.75" y1="899" x2="634.75" y2="923.6" stroke="#000" stroke-width="1.4" stroke-linecap="butt"/>
<rect x="18.5" y="899" width="652.5" height="24.6" fill="none" stroke="#000" stroke-width="1.4"/>
<text x="54.75" y="953.4" font-size="29" text-anchor="middle" font-weight="normal">-2</text>
<text x="127.25" y="953.4" font-size="29" text-anchor="middle" font-weight="normal">-1.5</text>
<text x="199.75" y="953.4" font-size="29" text-anchor="middle" font-weight="normal">-1</text>
<text x="272.25" y="953.4" font-size="29" text-anchor="middle" font-weight="normal">-0.5</text>
<text x="344.75" y="953.4" font-size="29" text-anchor="middle" font-weight="normal">0</text>
<text x="417.25" y="953.4" font-size="29" text-anchor="middle" font-weight="normal">0.5</text>
<text x="489.75" y="953.4" font-size="29" text-anchor="middle" font-weight="normal">1</text>
<text x="562.25" y="953.4" font-size="29" text-anchor="middle" font-weight="normal">1.5</text>
<text x="634.75" y="953.4" font-size="29" text-anchor="middle" font-weight="normal">2</text>
<rect x="16.5" y="1426.6" width="25.57" height="27.4" fill="#FF0D0D"/>
<rect x="41.77" y="1426.6" width="25.57" height="27.4" fill="#FF2626"/>
<rect x="67.04" y="1426.6" width="25.57" height="27.4" fill="#FF3A3A"/>
<rect x="92.31" y="1426.6" width="25.57" height="27.4" fill="#FF4242"/>
<rect x="117.58" y="1426.6" width="25.57" height="27.4" fill="#FF5C5C"/>
<rect x="142.85" y="1426.6" width="25.57" height="27.4" fill="#FF7272"/>
<rect x="168.12" y="1426.6" width="25.57" height="27.4" fill="#FF8A8A"/>
<rect x="193.38" y="1426.6" width="25.57" height="27.4" fill="#FF9090"/>
<rect x="218.65" y="1426.6" width="25.57" height="27.4" fill="#FFA6A6"/>
<rect x="243.92" y="1426.6" width="25.57" height="27.4" fill="#FFC0C0"/>
<rect x="269.19" y="1426.6" width="25.57" height="27.4" fill="#FFD8D8"/>
<rect x="294.46" y="1426.6" width="25.57" height="27.4" fill="#FFDCDC"/>
<rect x="319.73" y="1426.6" width="25.57" height="27.4" fill="#FFF0F0"/>
<rect x="345" y="1426.6" width="25.57" height="27.4" fill="#F4FFF4"/>
<rect x="370.27" y="1426.6" width="25.57" height="27.4" fill="#E0FFE0"/>
<rect x="395.54" y="1426.6" width="25.57" height="27.4" fill="#DCFFDC"/>
<rect x="420.81" y="1426.6" width="25.57" height="27.4" fill="#C6FFC6"/>
<rect x="446.08" y="1426.6" width="25.57" height="27.4" fill="#A8FFA8"/>
<rect x="471.35" y="1426.6" width="25.57" height="27.4" fill="#90FF90"/>
<rect x="496.62" y="1426.6" width="25.57" height="27.4" fill="#8CFF8C"/>
<rect x="521.88" y="1426.6" width="25.57" height="27.4" fill="#70FF70"/>
<rect x="547.15" y="1426.6" width="25.57" height="27.4" fill="#58FF58"/>
<rect x="572.42" y="1426.6" width="25.57" height="27.4" fill="#44FF44"/>
<rect x="597.69" y="1426.6" width="25.57" height="27.4" fill="#40FF40"/>
<rect x="622.96" y="1426.6" width="25.57" height="27.4" fill="#28FF28"/>
<rect x="648.23" y="1426.6" width="25.57" height="27.4" fill="#0CFF0C"/>
<line x1="41.77" y1="1426.6" x2="41.77" y2="1454" stroke="#000" stroke-width="1.4" stroke-linecap="butt"/>
<line x1="67.04" y1="1426.6" x2="67.04" y2="1454" stroke="#000" stroke-width="1.4" stroke-linecap="butt"/>
<line x1="92.31" y1="1426.6" x2="92.31" y2="1454" stroke="#000" stroke-width="1.4" stroke-linecap="butt"/>
<line x1="117.58" y1="1426.6" x2="117.58" y2="1454" stroke="#000" stroke-width="1.4" stroke-linecap="butt"/>
<line x1="142.85" y1="1426.6" x2="142.85" y2="1454" stroke="#000" stroke-width="1.4" stroke-linecap="butt"/>
<line x1="168.12" y1="1426.6" x2="168.12" y2="1454" stroke="#000" stroke-width="1.4" stroke-linecap="butt"/>
<line x1="193.38" y1="1426.6" x2="193.38" y2="1454" stroke="#000" stroke-width="1.4" stroke-linecap="butt"/>
<line x1="218.65" y1="1426.6" x2="218.65" y2="1454" stroke="#000" stroke-width="1.4" stroke-linecap="butt"/>
<line x1="243.92" y1="1426.6" x2="243.92" y2="1454" stroke="#000" stroke-width="1.4" stroke-linecap="butt"/>
<line x1="269.19" y1="1426.6" x2="269.19" y2="1454" stroke="#000" stroke-width="1.4" stroke-linecap="butt"/>
<line x1="294.46" y1="1426.6" x2="294.46" y2="1454" stroke="#000" stroke-width="1.4" stroke-linecap="butt"/>
<line x1="319.73" y1="1426.6" x2="319.73" y2="1454" stroke="#000" stroke-width="1.4" stroke-linecap="butt"/>
<line x1="345" y1="1426.6" x2="345" y2="1454" stroke="#000" stroke-width="1.4" stroke-linecap="butt"/>
<line x1="370.27" y1="1426.6" x2="370.27" y2="1454" stroke="#000" stroke-width="1.4" stroke-linecap="butt"/>
<line x1="395.54" y1="1426.6" x2="395.54" y2="1454" stroke="#000" stroke-width="1.4" stroke-linecap="butt"/>
<line x1="420.81" y1="1426.6" x2="420.81" y2="1454" stroke="#000" stroke-width="1.4" stroke-linecap="butt"/>
<line x1="446.08" y1="1426.6" x2="446.08" y2="1454" stroke="#000" stroke-width="1.4" stroke-linecap="butt"/>
<line x1="471.35" y1="1426.6" x2="471.35" y2="1454" stroke="#000" stroke-width="1.4" stroke-linecap="butt"/>
<line x1="496.62" y1="1426.6" x2="496.62" y2="1454" stroke="#000" stroke-width="1.4" stroke-linecap="butt"/>
<line x1="521.88" y1="1426.6" x2="521.88" y2="1454" stroke="#000" stroke-width="1.4" stroke-linecap="butt"/>
<line x1="547.15" y1="1426.6" x2="547.15" y2="1454" stroke="#000" stroke-width="1.4" stroke-linecap="butt"/>
<line x1="572.42" y1="1426.6" x2="572.42" y2="1454" stroke="#000" stroke-width="1.4" stroke-linecap="butt"/>
<line x1="597.69" y1="1426.6" x2="597.69" y2="1454" stroke="#000" stroke-width="1.4" stroke-linecap="butt"/>
<line x1="622.96" y1="1426.6" x2="622.96" y2="1454" stroke="#000" stroke-width="1.4" stroke-linecap="butt"/>
<line x1="648.23" y1="1426.6" x2="648.23" y2="1454" stroke="#000" stroke-width="1.4" stroke-linecap="butt"/>
<rect x="16.5" y="1426.6" width="657" height="27.4" fill="none" stroke="#000" stroke-width="1.4"/>
<text x="41.77" y="1485.6" font-size="30.5" text-anchor="middle" font-weight="normal">-3</text>
<text x="142.85" y="1485.6" font-size="30.5" text-anchor="middle" font-weight="normal">-2</text>
<text x="243.92" y="1485.6" font-size="30.5" text-anchor="middle" font-weight="normal">-1</text>
<text x="345" y="1485.6" font-size="30.5" text-anchor="middle" font-weight="normal">0</text>
<text x="446.08" y="1485.6" font-size="30.5" text-anchor="middle" font-weight="normal">1</text>
<text x="547.15" y="1485.6" font-size="30.5" text-anchor="middle" font-weight="normal">2</text>
<text x="648.23" y="1485.6" font-size="30.5" text-anchor="middle" font-weight="normal">3</text>
</svg></body></html>
